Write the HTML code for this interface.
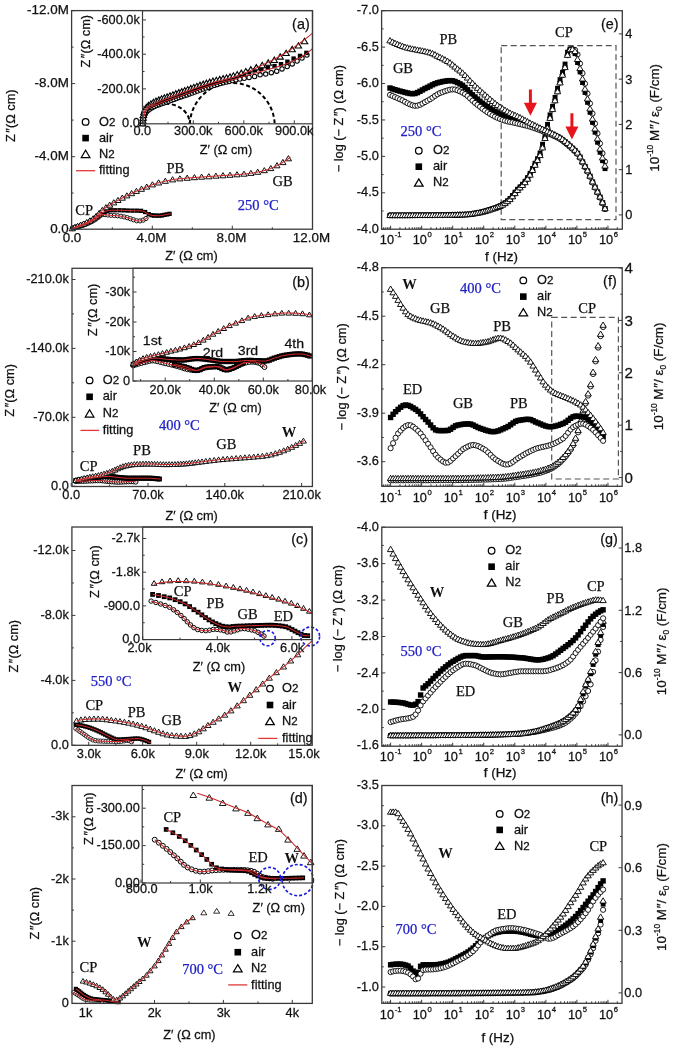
<!DOCTYPE html>
<html><head><meta charset="utf-8"><style>
html,body{margin:0;padding:0;background:#fff;}
svg{display:block;filter:blur(0.4px);}
</style></head><body>
<svg width="675" height="1050" viewBox="0 0 675 1050">
<rect width="675" height="1050" fill="#fff"/>
<g fill="#fff" stroke="#000" stroke-width="0.9"><circle cx="72.3" cy="228.6" r="2.12"/><circle cx="74.6" cy="227.8" r="2.12"/><circle cx="76.8" cy="227.1" r="2.12"/><circle cx="79.2" cy="226.4" r="2.12"/><circle cx="81.5" cy="225.7" r="2.12"/><circle cx="83.7" cy="225.0" r="2.12"/><circle cx="86.0" cy="224.1" r="2.12"/><circle cx="88.2" cy="223.2" r="2.12"/><circle cx="90.4" cy="222.2" r="2.12"/><circle cx="92.5" cy="221.1" r="2.12"/><circle cx="94.6" cy="219.9" r="2.12"/><circle cx="96.5" cy="218.5" r="2.12"/><circle cx="98.5" cy="217.1" r="2.12"/><circle cx="100.3" cy="215.5" r="2.12"/><circle cx="102.5" cy="214.5" r="2.12"/><circle cx="105.1" cy="214.6" r="2.12"/><circle cx="107.9" cy="215.0" r="2.12"/><circle cx="111.0" cy="215.3" r="2.12"/><circle cx="114.3" cy="215.5" r="2.12"/><circle cx="117.6" cy="215.8" r="2.12"/><circle cx="120.9" cy="216.2" r="2.12"/><circle cx="124.1" cy="216.9" r="2.12"/><circle cx="127.3" cy="217.7" r="2.12"/><circle cx="130.4" cy="218.7" r="2.12"/><circle cx="133.5" cy="219.8" r="2.12"/><circle cx="136.7" cy="220.8" r="2.12"/><circle cx="140.0" cy="220.9" r="2.12"/><circle cx="143.2" cy="220.1" r="2.12"/><circle cx="146.0" cy="218.5" r="2.12"/></g>
<g fill="#000" stroke="none"><rect x="70.1" y="226.4" width="4.3" height="4.3"/><rect x="72.3" y="225.4" width="4.3" height="4.3"/><rect x="74.6" y="224.6" width="4.3" height="4.3"/><rect x="76.9" y="223.9" width="4.3" height="4.3"/><rect x="79.1" y="223.1" width="4.3" height="4.3"/><rect x="81.4" y="222.2" width="4.3" height="4.3"/><rect x="83.6" y="221.3" width="4.3" height="4.3"/><rect x="85.8" y="220.3" width="4.3" height="4.3"/><rect x="87.9" y="219.3" width="4.3" height="4.3"/><rect x="90.0" y="218.1" width="4.3" height="4.3"/><rect x="92.0" y="216.8" width="4.3" height="4.3"/><rect x="93.9" y="215.3" width="4.3" height="4.3"/><rect x="95.8" y="213.9" width="4.3" height="4.3"/><rect x="97.7" y="212.3" width="4.3" height="4.3"/><rect x="99.6" y="210.9" width="4.3" height="4.3"/><rect x="102.1" y="209.8" width="4.3" height="4.3"/><rect x="105.1" y="208.7" width="4.3" height="4.3"/><rect x="108.8" y="208.1" width="4.3" height="4.3"/><rect x="113.1" y="208.1" width="4.3" height="4.3"/><rect x="117.4" y="208.1" width="4.3" height="4.3"/><rect x="121.7" y="208.2" width="4.3" height="4.3"/><rect x="126.0" y="208.4" width="4.3" height="4.3"/><rect x="130.3" y="208.5" width="4.3" height="4.3"/><rect x="134.6" y="208.5" width="4.3" height="4.3"/><rect x="138.9" y="208.7" width="4.3" height="4.3"/><rect x="143.0" y="209.9" width="4.3" height="4.3"/><rect x="146.6" y="212.1" width="4.3" height="4.3"/><rect x="149.4" y="213.1" width="4.3" height="4.3"/><rect x="152.0" y="213.4" width="4.3" height="4.3"/><rect x="154.6" y="213.5" width="4.3" height="4.3"/><rect x="157.2" y="213.5" width="4.3" height="4.3"/><rect x="159.8" y="213.3" width="4.3" height="4.3"/><rect x="162.3" y="212.7" width="4.3" height="4.3"/><rect x="164.9" y="212.3" width="4.3" height="4.3"/><rect x="167.4" y="211.7" width="4.3" height="4.3"/></g>
<g fill="#fff" stroke="#000" stroke-width="0.95"><path d="M72.3,225.7 L75.4,230.8 L69.2,230.8Z"/><path d="M74.8,224.4 L77.9,229.5 L71.7,229.5Z"/><path d="M77.5,223.3 L80.6,228.4 L74.5,228.4Z"/><path d="M80.5,222.2 L83.6,227.3 L77.4,227.3Z"/><path d="M83.5,221.0 L86.6,226.1 L80.4,226.1Z"/><path d="M86.7,219.5 L89.8,224.7 L83.6,224.7Z"/><path d="M89.9,217.8 L93.0,223.0 L86.8,223.0Z"/><path d="M93.1,215.8 L96.2,220.9 L90.0,220.9Z"/><path d="M96.2,213.3 L99.3,218.4 L93.1,218.4Z"/><path d="M99.2,210.3 L102.3,215.5 L96.1,215.5Z"/><path d="M102.3,207.3 L105.4,212.4 L99.2,212.4Z"/><path d="M105.9,204.6 L109.0,209.8 L102.8,209.8Z"/><path d="M109.7,202.1 L112.8,207.2 L106.6,207.2Z"/><path d="M113.8,199.7 L116.8,204.9 L110.7,204.9Z"/><path d="M118.0,197.4 L121.0,202.5 L114.9,202.5Z"/><path d="M122.3,195.0 L125.4,200.2 L119.2,200.2Z"/><path d="M126.9,192.8 L129.9,197.9 L123.8,197.9Z"/><path d="M131.6,190.5 L134.6,195.7 L128.5,195.7Z"/><path d="M136.4,188.3 L139.5,193.4 L133.3,193.4Z"/><path d="M141.5,186.1 L144.5,191.3 L138.4,191.3Z"/><path d="M146.7,184.0 L149.8,189.1 L143.7,189.1Z"/><path d="M152.4,181.8 L155.5,186.9 L149.3,186.9Z"/><path d="M158.6,179.8 L161.7,185.0 L155.5,185.0Z"/><path d="M165.3,178.2 L168.4,183.3 L162.3,183.3Z"/><path d="M172.6,176.7 L175.7,181.9 L169.5,181.9Z"/><path d="M179.9,175.8 L183.0,180.9 L176.8,180.9Z"/><path d="M187.2,175.1 L190.3,180.3 L184.1,180.3Z"/><path d="M194.4,174.6 L197.5,179.7 L191.3,179.7Z"/><path d="M201.6,174.1 L204.7,179.2 L198.6,179.2Z"/><path d="M208.8,173.6 L211.9,178.8 L205.7,178.8Z"/><path d="M215.9,173.1 L219.0,178.2 L212.8,178.2Z"/><path d="M223.0,172.6 L226.1,177.8 L219.9,177.8Z"/><path d="M230.0,172.2 L233.1,177.3 L227.0,177.3Z"/><path d="M237.0,171.7 L240.1,176.8 L234.0,176.8Z"/><path d="M244.0,171.1 L247.1,176.2 L240.9,176.2Z"/><path d="M250.9,170.3 L254.0,175.4 L247.8,175.4Z"/><path d="M257.7,169.1 L260.8,174.3 L254.6,174.3Z"/><path d="M264.3,167.6 L267.4,172.7 L261.3,172.7Z"/><path d="M270.8,165.5 L273.9,170.6 L267.7,170.6Z"/><path d="M277.0,162.6 L280.0,167.8 L273.9,167.8Z"/><path d="M282.9,159.4 L286.0,164.6 L279.8,164.6Z"/><path d="M288.4,155.6 L291.5,160.8 L285.3,160.8Z"/></g>
<path d="M72.3,228.6 L72.8,228.3 L73.4,228.0 L73.9,227.7 L74.5,227.5 L75.0,227.2 L75.6,227.0 L76.1,226.7 L76.7,226.5 L77.2,226.3 L77.8,226.1 L78.3,225.9 L78.9,225.7 L79.4,225.5 L80.0,225.3 L80.5,225.1 L81.0,224.9 L81.6,224.7 L82.1,224.5 L82.7,224.3 L83.2,224.0 L83.8,223.8 L84.3,223.6 L84.9,223.3 L85.4,223.1 L86.0,222.8 L86.5,222.6 L87.1,222.3 L87.6,222.0 L88.2,221.7 L88.7,221.4 L89.2,221.1 L89.8,220.8 L90.3,220.5 L90.9,220.2 L91.4,219.8 L92.0,219.5 L92.5,219.1 L93.1,218.7 L93.6,218.3 L94.2,217.9 L94.7,217.5 L95.3,217.0 L95.8,216.6 L96.4,216.1 L96.9,215.6 L97.4,215.1 L98.0,214.6 L98.5,214.0 L99.1,213.4 L99.6,212.9 L100.2,212.3 L100.7,211.7 L101.3,211.2 L101.8,210.7 L102.4,210.2 L102.9,209.8 L103.5,209.3 L104.0,208.9 L104.6,208.5 L105.1,208.1 L105.6,207.7 L106.2,207.3 L106.7,207.0 L107.3,206.6 L107.8,206.2 L108.4,205.9 L108.9,205.5 L109.5,205.2 L110.0,204.9 L110.6,204.5 L111.1,204.2 L111.7,203.9 L112.2,203.5 L112.7,203.2 L113.3,202.9 L113.8,202.6 L114.4,202.3 L114.9,202.0 L115.5,201.7 L116.0,201.4 L116.6,201.1 L117.1,200.8 L117.7,200.5 L118.2,200.2 L118.8,199.9 L119.3,199.6 L119.9,199.3 L120.4,199.0 L120.9,198.7 L121.5,198.4 L122.0,198.1 L122.6,197.8 L123.1,197.6 L123.7,197.3 L124.2,197.0 L124.8,196.7 L125.3,196.5 L125.9,196.2 L126.4,195.9 L127.0,195.7 L127.5,195.4 L128.1,195.1 L128.6,194.9 L129.1,194.6 L129.7,194.4 L130.2,194.1 L130.8,193.8 L131.3,193.6 L131.9,193.3 L132.4,193.1 L133.0,192.8 L133.5,192.6 L134.1,192.3 L134.6,192.1 L135.2,191.8 L135.7,191.6 L136.3,191.3 L136.8,191.1 L137.3,190.8 L137.9,190.6 L138.4,190.3 L139.0,190.1 L139.5,189.9 L140.1,189.6 L140.6,189.4 L141.2,189.2 L141.7,188.9 L142.3,188.7 L142.8,188.5 L143.4,188.3 L143.9,188.1 L144.5,187.8 L145.0,187.6 L145.5,187.4 L146.1,187.2 L146.6,186.9 L147.2,186.7 L147.7,186.5 L148.3,186.3 L148.8,186.1 L149.4,185.9 L149.9,185.7 L150.5,185.4 L151.0,185.2 L151.6,185.0 L152.1,184.8 L152.7,184.6 L153.2,184.5 L153.7,184.3 L154.3,184.1 L154.8,183.9 L155.4,183.7 L155.9,183.6 L156.5,183.4 L157.0,183.2 L157.6,183.1 L158.1,182.9 L158.7,182.8 L159.2,182.6 L159.8,182.5 L160.3,182.3 L160.9,182.2 L161.4,182.1 L161.9,181.9 L162.5,181.8 L163.0,181.7 L163.6,181.5 L164.1,181.4 L164.7,181.3 L165.2,181.1 L165.8,181.0 L166.3,180.9 L166.9,180.8 L167.4,180.7 L168.0,180.6 L168.5,180.4 L169.1,180.3 L169.6,180.2 L170.1,180.1 L170.7,180.0 L171.2,179.9 L171.8,179.8 L172.3,179.7 L172.9,179.6 L173.4,179.6 L174.0,179.5 L174.5,179.4 L175.1,179.3 L175.6,179.2 L176.2,179.2 L176.7,179.1 L177.3,179.0 L177.8,179.0 L178.3,178.9 L178.9,178.8 L179.4,178.8 L180.0,178.7 L180.5,178.7 L181.1,178.6 L181.6,178.6 L182.2,178.5 L182.7,178.5 L183.3,178.4 L183.8,178.4 L184.4,178.3 L184.9,178.3 L185.4,178.2 L186.0,178.2 L186.5,178.1 L187.1,178.1 L187.6,178.0 L188.2,178.0 L188.7,177.9 L189.3,177.9 L189.8,177.8 L190.4,177.8 L190.9,177.8 L191.5,177.7 L192.0,177.7 L192.6,177.6 L193.1,177.6 L193.6,177.6 L194.2,177.5 L194.7,177.5 L195.3,177.5 L195.8,177.4 L196.4,177.4 L196.9,177.3 L197.5,177.3 L198.0,177.3 L198.6,177.2 L199.1,177.2 L199.7,177.2 L200.2,177.1 L200.8,177.1 L201.3,177.1 L201.8,177.0 L202.4,177.0 L202.9,177.0 L203.5,176.9 L204.0,176.9 L204.6,176.8 L205.1,176.8 L205.7,176.8 L206.2,176.7 L206.8,176.7 L207.3,176.7 L207.9,176.6 L208.4,176.6 L209.0,176.5 L209.5,176.5 L210.0,176.5 L210.6,176.4 L211.1,176.4 L211.7,176.3 L212.2,176.3 L212.8,176.3 L213.3,176.2 L213.9,176.2 L214.4,176.1 L215.0,176.1 L215.5,176.1 L216.1,176.0 L216.6,176.0 L217.2,175.9 L217.7,175.9 L218.2,175.9 L218.8,175.8 L219.3,175.8 L219.9,175.8 L220.4,175.7 L221.0,175.7 L221.5,175.7 L222.1,175.6 L222.6,175.6 L223.2,175.5 L223.7,175.5 L224.3,175.5 L224.8,175.4 L225.4,175.4 L225.9,175.4 L226.4,175.3 L227.0,175.3 L227.5,175.3 L228.1,175.2 L228.6,175.2 L229.2,175.2 L229.7,175.1 L230.3,175.1 L230.8,175.1 L231.4,175.0 L231.9,175.0 L232.5,174.9 L233.0,174.9 L233.6,174.9 L234.1,174.8 L234.6,174.8 L235.2,174.8 L235.7,174.7 L236.3,174.7 L236.8,174.6 L237.4,174.6 L237.9,174.5 L238.5,174.5 L239.0,174.5 L239.6,174.4 L240.1,174.4 L240.7,174.3 L241.2,174.3 L241.8,174.2 L242.3,174.2 L242.8,174.1 L243.4,174.1 L243.9,174.0 L244.5,174.0 L245.0,173.9 L245.6,173.8 L246.1,173.8 L246.7,173.7 L247.2,173.7 L247.8,173.6 L248.3,173.5 L248.9,173.5 L249.4,173.4 L250.0,173.3 L250.5,173.3 L251.0,173.2 L251.6,173.1 L252.1,173.0 L252.7,172.9 L253.2,172.9 L253.8,172.8 L254.3,172.7 L254.9,172.6 L255.4,172.5 L256.0,172.4 L256.5,172.3 L257.1,172.2 L257.6,172.1 L258.1,172.0 L258.7,171.8 L259.2,171.7 L259.8,171.6 L260.3,171.5 L260.9,171.4 L261.4,171.2 L262.0,171.1 L262.5,171.0 L263.1,170.9 L263.6,170.7 L264.2,170.6 L264.7,170.4 L265.3,170.3 L265.8,170.1 L266.3,170.0 L266.9,169.8 L267.4,169.7 L268.0,169.5 L268.5,169.3 L269.1,169.1 L269.6,168.9 L270.2,168.7 L270.7,168.5 L271.3,168.2 L271.8,168.0 L272.4,167.8 L272.9,167.5 L273.5,167.3 L274.0,167.0 L274.5,166.8 L275.1,166.5 L275.6,166.2 L276.2,166.0 L276.7,165.7 L277.3,165.4 L277.8,165.1 L278.4,164.9 L278.9,164.6 L279.5,164.3 L280.0,164.0 L280.6,163.7 L281.1,163.4 L281.7,163.1 L282.2,162.8 L282.7,162.4 L283.3,162.1 L283.8,161.7 L284.4,161.4 L284.9,161.0 L285.5,160.7 L286.0,160.3 L286.6,159.9 L287.1,159.5 L287.7,159.1 L288.2,158.7 L288.8,158.3 L289.3,157.9 L289.9,157.5 L290.4,157.1" fill="none" stroke="#c82828" stroke-width="1.05" stroke-linejoin="round"/>
<path d="M72.3,228.6 L72.5,228.5 L72.8,228.4 L73.0,228.2 L73.3,228.1 L73.5,228.0 L73.8,227.9 L74.0,227.8 L74.3,227.7 L74.5,227.6 L74.8,227.5 L75.0,227.4 L75.3,227.3 L75.5,227.2 L75.8,227.1 L76.0,227.0 L76.3,226.9 L76.5,226.8 L76.8,226.7 L77.0,226.7 L77.2,226.6 L77.5,226.5 L77.7,226.4 L78.0,226.3 L78.2,226.3 L78.5,226.2 L78.7,226.1 L79.0,226.0 L79.2,226.0 L79.5,225.9 L79.7,225.8 L80.0,225.7 L80.2,225.6 L80.5,225.5 L80.7,225.4 L81.0,225.4 L81.2,225.3 L81.5,225.2 L81.7,225.1 L81.9,225.0 L82.2,224.9 L82.4,224.8 L82.7,224.7 L82.9,224.6 L83.2,224.5 L83.4,224.4 L83.7,224.3 L83.9,224.2 L84.2,224.1 L84.4,224.0 L84.7,223.9 L84.9,223.8 L85.2,223.7 L85.4,223.6 L85.7,223.5 L85.9,223.4 L86.2,223.3 L86.4,223.2 L86.6,223.0 L86.9,222.9 L87.1,222.8 L87.4,222.7 L87.6,222.6 L87.9,222.5 L88.1,222.4 L88.4,222.3 L88.6,222.1 L88.9,222.0 L89.1,221.9 L89.4,221.8 L89.6,221.7 L89.9,221.6 L90.1,221.4 L90.4,221.3 L90.6,221.2 L90.9,221.0 L91.1,220.9 L91.3,220.8 L91.6,220.6 L91.8,220.5 L92.1,220.4 L92.3,220.2 L92.6,220.1 L92.8,219.9 L93.1,219.8 L93.3,219.6 L93.6,219.4 L93.8,219.3 L94.1,219.1 L94.3,218.9 L94.6,218.7 L94.8,218.5 L95.1,218.3 L95.3,218.1 L95.6,217.9 L95.8,217.7 L96.0,217.5 L96.3,217.3 L96.5,217.1 L96.8,217.0 L97.0,216.8 L97.3,216.6 L97.5,216.4 L97.8,216.2 L98.0,216.0 L98.3,215.8 L98.5,215.6 L98.8,215.4 L99.0,215.1 L99.3,214.9 L99.5,214.7 L99.8,214.5 L100.0,214.3 L100.3,214.1 L100.5,213.9 L100.7,213.7 L101.0,213.5 L101.2,213.4 L101.5,213.2 L101.7,213.0 L102.0,212.9 L102.2,212.8 L102.5,212.7 L102.7,212.5 L103.0,212.4 L103.2,212.3 L103.5,212.2 L103.7,212.1 L104.0,212.0 L104.2,211.9 L104.5,211.8 L104.7,211.7 L105.0,211.6 L105.2,211.5 L105.4,211.4 L105.7,211.3 L105.9,211.3 L106.2,211.2 L106.4,211.1 L106.7,211.0 L106.9,210.9 L107.2,210.9 L107.4,210.8 L107.7,210.7 L107.9,210.7 L108.2,210.6 L108.4,210.5 L108.7,210.5 L108.9,210.5 L109.2,210.4 L109.4,210.4 L109.7,210.4 L109.9,210.3 L110.1,210.3 L110.4,210.3 L110.6,210.3 L110.9,210.3 L111.1,210.3 L111.4,210.3 L111.6,210.3 L111.9,210.3 L112.1,210.3 L112.4,210.3 L112.6,210.3 L112.9,210.3 L113.1,210.3 L113.4,210.3 L113.6,210.3 L113.9,210.3 L114.1,210.3 L114.4,210.3 L114.6,210.3 L114.8,210.3 L115.1,210.3 L115.3,210.3 L115.6,210.3 L115.8,210.3 L116.1,210.3 L116.3,210.3 L116.6,210.3 L116.8,210.3 L117.1,210.3 L117.3,210.3 L117.6,210.3 L117.8,210.3 L118.1,210.3 L118.3,210.3 L118.6,210.3 L118.8,210.3 L119.1,210.3 L119.3,210.3 L119.5,210.3 L119.8,210.3 L120.0,210.3 L120.3,210.3 L120.5,210.3 L120.8,210.3 L121.0,210.3 L121.3,210.3 L121.5,210.3 L121.8,210.3 L122.0,210.3 L122.3,210.3 L122.5,210.3 L122.8,210.3 L123.0,210.3 L123.3,210.4 L123.5,210.4 L123.8,210.4 L124.0,210.4 L124.2,210.4 L124.5,210.4 L124.7,210.4 L125.0,210.4 L125.2,210.4 L125.5,210.4 L125.7,210.4 L126.0,210.5 L126.2,210.5 L126.5,210.5 L126.7,210.5 L127.0,210.5 L127.2,210.5 L127.5,210.5 L127.7,210.5 L128.0,210.5 L128.2,210.5 L128.5,210.6 L128.7,210.6 L128.9,210.6 L129.2,210.6 L129.4,210.6 L129.7,210.6 L129.9,210.6 L130.2,210.6 L130.4,210.6 L130.7,210.6 L130.9,210.6 L131.2,210.6 L131.4,210.6 L131.7,210.6 L131.9,210.6 L132.2,210.6 L132.4,210.6 L132.7,210.6 L132.9,210.7 L133.2,210.7 L133.4,210.7 L133.6,210.7 L133.9,210.7 L134.1,210.7 L134.4,210.7 L134.6,210.7 L134.9,210.7 L135.1,210.7 L135.4,210.7 L135.6,210.7 L135.9,210.7 L136.1,210.7 L136.4,210.7 L136.6,210.7 L136.9,210.7 L137.1,210.7 L137.4,210.7 L137.6,210.7 L137.9,210.7 L138.1,210.7 L138.3,210.7 L138.6,210.8 L138.8,210.8 L139.1,210.8 L139.3,210.8 L139.6,210.8 L139.8,210.8 L140.1,210.8 L140.3,210.8 L140.6,210.8 L140.8,210.9 L141.1,210.9 L141.3,210.9 L141.6,210.9 L141.8,211.0 L142.1,211.0 L142.3,211.0 L142.6,211.1 L142.8,211.1 L143.0,211.2 L143.3,211.2 L143.5,211.3 L143.8,211.3 L144.0,211.4 L144.3,211.6 L144.5,211.7 L144.8,211.9 L145.0,212.0 L145.3,212.2 L145.5,212.4 L145.8,212.5 L146.0,212.7 L146.3,212.9 L146.5,213.1 L146.8,213.3 L147.0,213.4 L147.3,213.6 L147.5,213.8 L147.7,213.9 L148.0,214.0 L148.2,214.1 L148.5,214.2 L148.7,214.3 L149.0,214.4 L149.2,214.5 L149.5,214.6 L149.7,214.7 L150.0,214.8 L150.2,214.9 L150.5,215.0 L150.7,215.0 L151.0,215.1 L151.2,215.2 L151.5,215.2 L151.7,215.3 L152.0,215.4 L152.2,215.4 L152.4,215.4 L152.7,215.5 L152.9,215.5 L153.2,215.5 L153.4,215.5 L153.7,215.5 L153.9,215.6 L154.2,215.6 L154.4,215.6 L154.7,215.6 L154.9,215.6 L155.2,215.6 L155.4,215.6 L155.7,215.6 L155.9,215.6 L156.2,215.6 L156.4,215.7 L156.7,215.7 L156.9,215.7 L157.1,215.7 L157.4,215.7 L157.6,215.7 L157.9,215.7 L158.1,215.7 L158.4,215.7 L158.6,215.7 L158.9,215.7 L159.1,215.7 L159.4,215.7 L159.6,215.7 L159.9,215.7 L160.1,215.7 L160.4,215.7 L160.6,215.6 L160.9,215.6 L161.1,215.6 L161.4,215.5 L161.6,215.5 L161.8,215.5 L162.1,215.4 L162.3,215.4 L162.6,215.3 L162.8,215.3 L163.1,215.2 L163.3,215.1 L163.6,215.1 L163.8,215.0 L164.1,215.0 L164.3,214.9 L164.6,214.9 L164.8,214.8 L165.1,214.8 L165.3,214.7 L165.6,214.7 L165.8,214.7 L166.1,214.6 L166.3,214.6 L166.5,214.5 L166.8,214.5 L167.0,214.4 L167.3,214.4 L167.5,214.3 L167.8,214.3 L168.0,214.2 L168.3,214.2 L168.5,214.1 L168.8,214.1 L169.0,214.0 L169.3,214.0 L169.5,213.9 L169.8,213.9 L170.0,213.8 L170.3,213.8 L170.5,213.7 L170.8,213.7 L171.0,213.6" fill="none" stroke="#c82828" stroke-width="1.05" stroke-linejoin="round"/>
<path d="M72.3,228.6 L72.5,228.5 L72.7,228.5 L72.9,228.4 L73.1,228.3 L73.3,228.2 L73.4,228.2 L73.6,228.1 L73.8,228.0 L74.0,228.0 L74.2,227.9 L74.4,227.8 L74.6,227.8 L74.8,227.7 L75.0,227.6 L75.2,227.6 L75.3,227.5 L75.5,227.4 L75.7,227.4 L75.9,227.3 L76.1,227.3 L76.3,227.2 L76.5,227.2 L76.7,227.1 L76.9,227.0 L77.1,227.0 L77.2,226.9 L77.4,226.9 L77.6,226.8 L77.8,226.8 L78.0,226.7 L78.2,226.7 L78.4,226.6 L78.6,226.6 L78.8,226.5 L79.0,226.5 L79.1,226.4 L79.3,226.4 L79.5,226.3 L79.7,226.3 L79.9,226.2 L80.1,226.2 L80.3,226.1 L80.5,226.1 L80.7,226.0 L80.9,225.9 L81.1,225.9 L81.2,225.8 L81.4,225.8 L81.6,225.7 L81.8,225.6 L82.0,225.6 L82.2,225.5 L82.4,225.5 L82.6,225.4 L82.8,225.3 L83.0,225.3 L83.1,225.2 L83.3,225.1 L83.5,225.1 L83.7,225.0 L83.9,224.9 L84.1,224.9 L84.3,224.8 L84.5,224.7 L84.7,224.7 L84.9,224.6 L85.0,224.5 L85.2,224.4 L85.4,224.4 L85.6,224.3 L85.8,224.2 L86.0,224.1 L86.2,224.1 L86.4,224.0 L86.6,223.9 L86.8,223.8 L86.9,223.8 L87.1,223.7 L87.3,223.6 L87.5,223.5 L87.7,223.4 L87.9,223.4 L88.1,223.3 L88.3,223.2 L88.5,223.1 L88.7,223.0 L88.8,222.9 L89.0,222.8 L89.2,222.8 L89.4,222.7 L89.6,222.6 L89.8,222.5 L90.0,222.4 L90.2,222.3 L90.4,222.2 L90.6,222.1 L90.8,222.0 L90.9,221.9 L91.1,221.8 L91.3,221.7 L91.5,221.6 L91.7,221.5 L91.9,221.4 L92.1,221.3 L92.3,221.2 L92.5,221.1 L92.7,221.0 L92.8,220.9 L93.0,220.8 L93.2,220.7 L93.4,220.6 L93.6,220.5 L93.8,220.3 L94.0,220.2 L94.2,220.1 L94.4,220.0 L94.6,219.9 L94.7,219.7 L94.9,219.6 L95.1,219.5 L95.3,219.3 L95.5,219.2 L95.7,219.1 L95.9,218.9 L96.1,218.8 L96.3,218.7 L96.5,218.6 L96.6,218.4 L96.8,218.3 L97.0,218.2 L97.2,218.1 L97.4,217.9 L97.6,217.8 L97.8,217.6 L98.0,217.5 L98.2,217.3 L98.4,217.1 L98.6,217.0 L98.7,216.8 L98.9,216.6 L99.1,216.5 L99.3,216.3 L99.5,216.1 L99.7,216.0 L99.9,215.8 L100.1,215.7 L100.3,215.5 L100.5,215.4 L100.6,215.2 L100.8,215.1 L101.0,215.0 L101.2,214.9 L101.4,214.8 L101.6,214.7 L101.8,214.6 L102.0,214.6 L102.2,214.5 L102.4,214.5 L102.5,214.5 L102.7,214.5 L102.9,214.5 L103.1,214.5 L103.3,214.5 L103.5,214.5 L103.7,214.5 L103.9,214.5 L104.1,214.6 L104.3,214.6 L104.4,214.6 L104.6,214.6 L104.8,214.6 L105.0,214.6 L105.2,214.6 L105.4,214.7 L105.6,214.7 L105.8,214.7 L106.0,214.7 L106.2,214.8 L106.4,214.8 L106.5,214.8 L106.7,214.8 L106.9,214.8 L107.1,214.9 L107.3,214.9 L107.5,214.9 L107.7,214.9 L107.9,215.0 L108.1,215.0 L108.3,215.0 L108.4,215.0 L108.6,215.1 L108.8,215.1 L109.0,215.1 L109.2,215.1 L109.4,215.2 L109.6,215.2 L109.8,215.2 L110.0,215.2 L110.2,215.2 L110.3,215.3 L110.5,215.3 L110.7,215.3 L110.9,215.3 L111.1,215.3 L111.3,215.3 L111.5,215.4 L111.7,215.4 L111.9,215.4 L112.1,215.4 L112.2,215.4 L112.4,215.4 L112.6,215.4 L112.8,215.5 L113.0,215.5 L113.2,215.5 L113.4,215.5 L113.6,215.5 L113.8,215.5 L114.0,215.5 L114.1,215.5 L114.3,215.5 L114.5,215.6 L114.7,215.6 L114.9,215.6 L115.1,215.6 L115.3,215.6 L115.5,215.6 L115.7,215.6 L115.9,215.6 L116.1,215.7 L116.2,215.7 L116.4,215.7 L116.6,215.7 L116.8,215.7 L117.0,215.7 L117.2,215.7 L117.4,215.8 L117.6,215.8 L117.8,215.8 L118.0,215.8 L118.1,215.8 L118.3,215.8 L118.5,215.9 L118.7,215.9 L118.9,215.9 L119.1,215.9 L119.3,215.9 L119.5,216.0 L119.7,216.0 L119.9,216.0 L120.0,216.0 L120.2,216.1 L120.4,216.1 L120.6,216.1 L120.8,216.2 L121.0,216.2 L121.2,216.2 L121.4,216.3 L121.6,216.3 L121.8,216.3 L121.9,216.4 L122.1,216.4 L122.3,216.5 L122.5,216.5 L122.7,216.5 L122.9,216.6 L123.1,216.6 L123.3,216.7 L123.5,216.7 L123.7,216.8 L123.9,216.8 L124.0,216.8 L124.2,216.9 L124.4,216.9 L124.6,217.0 L124.8,217.0 L125.0,217.1 L125.2,217.1 L125.4,217.2 L125.6,217.2 L125.8,217.3 L125.9,217.3 L126.1,217.4 L126.3,217.4 L126.5,217.5 L126.7,217.5 L126.9,217.6 L127.1,217.6 L127.3,217.7 L127.5,217.7 L127.7,217.8 L127.8,217.8 L128.0,217.9 L128.2,218.0 L128.4,218.0 L128.6,218.1 L128.8,218.2 L129.0,218.2 L129.2,218.3 L129.4,218.3 L129.6,218.4 L129.7,218.5 L129.9,218.6 L130.1,218.6 L130.3,218.7 L130.5,218.8 L130.7,218.8 L130.9,218.9 L131.1,219.0 L131.3,219.0 L131.5,219.1 L131.7,219.2 L131.8,219.2 L132.0,219.3 L132.2,219.4 L132.4,219.4 L132.6,219.5 L132.8,219.5 L133.0,219.6 L133.2,219.7 L133.4,219.7 L133.6,219.8 L133.7,219.8 L133.9,219.9 L134.1,220.0 L134.3,220.0 L134.5,220.1 L134.7,220.2 L134.9,220.2 L135.1,220.3 L135.3,220.4 L135.5,220.4 L135.6,220.5 L135.8,220.5 L136.0,220.6 L136.2,220.7 L136.4,220.7 L136.6,220.8 L136.8,220.8 L137.0,220.8 L137.2,220.9 L137.4,220.9 L137.5,220.9 L137.7,221.0 L137.9,221.0 L138.1,221.0 L138.3,221.0 L138.5,221.0 L138.7,221.0 L138.9,221.0 L139.1,221.0 L139.3,221.0 L139.4,220.9 L139.6,220.9 L139.8,220.9 L140.0,220.9 L140.2,220.8 L140.4,220.8 L140.6,220.8 L140.8,220.7 L141.0,220.7 L141.2,220.7 L141.4,220.6 L141.5,220.6 L141.7,220.5 L141.9,220.5 L142.1,220.4 L142.3,220.4 L142.5,220.3 L142.7,220.3 L142.9,220.2 L143.1,220.2 L143.3,220.1 L143.4,220.0 L143.6,220.0 L143.8,219.9 L144.0,219.8 L144.2,219.7 L144.4,219.6 L144.6,219.4 L144.8,219.3 L145.0,219.2 L145.2,219.1 L145.3,218.9 L145.5,218.8 L145.7,218.7 L145.9,218.6 L146.1,218.4 L146.3,218.3 L146.5,218.2 L146.7,218.0 L146.9,217.9 L147.1,217.8 L147.2,217.6 L147.4,217.5 L147.6,217.3 L147.8,217.2 L148.0,217.1 L148.2,216.9" fill="none" stroke="#c82828" stroke-width="1.05" stroke-linejoin="round"/>
<rect x="142.5" y="10.6" width="170.0" height="113.2" fill="#fff"/>
<path d="M142.8,123.8 A23.5,20 0 0 1 189.8,123.8" fill="none" stroke="#000" stroke-width="2" stroke-dasharray="4,2.6"/>
<path d="M189.8,123.8 A42.5,43 0 0 1 274.7,123.8" fill="none" stroke="#000" stroke-width="2" stroke-dasharray="4,2.6"/>
<g fill="#fff" stroke="#000" stroke-width="1.1"><circle cx="142.6" cy="123.6" r="2.21"/><circle cx="143.0" cy="121.3" r="2.21"/><circle cx="143.4" cy="118.9" r="2.21"/><circle cx="144.0" cy="116.5" r="2.21"/><circle cx="144.9" cy="114.3" r="2.21"/><circle cx="146.2" cy="112.2" r="2.21"/><circle cx="147.9" cy="110.4" r="2.21"/><circle cx="149.9" cy="109.0" r="2.21"/><circle cx="152.0" cy="107.7" r="2.21"/><circle cx="154.3" cy="106.6" r="2.21"/><circle cx="156.6" cy="105.6" r="2.21"/><circle cx="159.0" cy="104.7" r="2.21"/><circle cx="161.4" cy="103.8" r="2.21"/><circle cx="163.8" cy="102.9" r="2.21"/><circle cx="166.3" cy="102.1" r="2.21"/><circle cx="168.8" cy="101.2" r="2.21"/><circle cx="171.3" cy="100.3" r="2.21"/><circle cx="173.8" cy="99.4" r="2.21"/><circle cx="176.4" cy="98.5" r="2.21"/><circle cx="178.9" cy="97.6" r="2.21"/><circle cx="181.5" cy="96.7" r="2.21"/><circle cx="184.1" cy="95.8" r="2.21"/><circle cx="186.8" cy="94.9" r="2.21"/><circle cx="189.4" cy="93.9" r="2.21"/><circle cx="192.1" cy="93.0" r="2.21"/><circle cx="194.8" cy="92.0" r="2.21"/><circle cx="197.5" cy="91.0" r="2.21"/><circle cx="200.3" cy="90.1" r="2.21"/><circle cx="203.0" cy="89.1" r="2.21"/><circle cx="205.8" cy="88.1" r="2.21"/><circle cx="208.6" cy="87.1" r="2.21"/><circle cx="211.5" cy="86.2" r="2.21"/><circle cx="214.4" cy="85.3" r="2.21"/><circle cx="217.3" cy="84.4" r="2.21"/><circle cx="220.3" cy="83.6" r="2.21"/><circle cx="223.3" cy="82.8" r="2.21"/><circle cx="226.4" cy="82.0" r="2.21"/><circle cx="229.4" cy="81.3" r="2.21"/><circle cx="232.5" cy="80.6" r="2.21"/><circle cx="236.0" cy="79.8" r="2.21"/><circle cx="239.9" cy="79.1" r="2.21"/><circle cx="244.2" cy="78.3" r="2.21"/><circle cx="249.1" cy="77.5" r="2.21"/><circle cx="254.6" cy="76.5" r="2.21"/><circle cx="260.1" cy="74.8" r="2.21"/><circle cx="265.7" cy="74.1" r="2.21"/><circle cx="271.3" cy="72.7" r="2.21"/><circle cx="276.7" cy="71.2" r="2.21"/><circle cx="282.0" cy="68.9" r="2.21"/><circle cx="287.2" cy="66.6" r="2.21"/><circle cx="292.2" cy="63.9" r="2.21"/><circle cx="297.1" cy="61.0" r="2.21"/><circle cx="302.0" cy="58.1" r="2.21"/><circle cx="306.9" cy="55.1" r="2.21"/></g>
<g fill="#000" stroke="none"><rect x="140.4" y="121.4" width="4.4" height="4.4"/><rect x="140.6" y="119.0" width="4.4" height="4.4"/><rect x="140.8" y="116.6" width="4.4" height="4.4"/><rect x="141.1" y="114.2" width="4.4" height="4.4"/><rect x="141.6" y="111.8" width="4.4" height="4.4"/><rect x="142.4" y="109.5" width="4.4" height="4.4"/><rect x="143.7" y="107.4" width="4.4" height="4.4"/><rect x="145.3" y="105.6" width="4.4" height="4.4"/><rect x="147.2" y="104.1" width="4.4" height="4.4"/><rect x="149.4" y="102.9" width="4.4" height="4.4"/><rect x="151.7" y="102.0" width="4.4" height="4.4"/><rect x="154.1" y="101.1" width="4.4" height="4.4"/><rect x="156.5" y="100.2" width="4.4" height="4.4"/><rect x="158.9" y="99.3" width="4.4" height="4.4"/><rect x="161.3" y="98.4" width="4.4" height="4.4"/><rect x="163.8" y="97.5" width="4.4" height="4.4"/><rect x="166.2" y="96.6" width="4.4" height="4.4"/><rect x="168.7" y="95.7" width="4.4" height="4.4"/><rect x="171.2" y="94.8" width="4.4" height="4.4"/><rect x="173.8" y="93.9" width="4.4" height="4.4"/><rect x="176.4" y="93.0" width="4.4" height="4.4"/><rect x="179.0" y="92.1" width="4.4" height="4.4"/><rect x="181.6" y="91.2" width="4.4" height="4.4"/><rect x="184.2" y="90.3" width="4.4" height="4.4"/><rect x="186.8" y="89.3" width="4.4" height="4.4"/><rect x="189.5" y="88.4" width="4.4" height="4.4"/><rect x="192.2" y="87.4" width="4.4" height="4.4"/><rect x="194.9" y="86.4" width="4.4" height="4.4"/><rect x="197.7" y="85.5" width="4.4" height="4.4"/><rect x="200.4" y="84.6" width="4.4" height="4.4"/><rect x="203.3" y="83.6" width="4.4" height="4.4"/><rect x="206.1" y="82.7" width="4.4" height="4.4"/><rect x="209.0" y="81.8" width="4.4" height="4.4"/><rect x="211.9" y="81.0" width="4.4" height="4.4"/><rect x="214.8" y="80.2" width="4.4" height="4.4"/><rect x="217.8" y="79.5" width="4.4" height="4.4"/><rect x="220.8" y="78.7" width="4.4" height="4.4"/><rect x="223.9" y="78.0" width="4.4" height="4.4"/><rect x="226.9" y="77.1" width="4.4" height="4.4"/><rect x="230.0" y="76.2" width="4.4" height="4.4"/><rect x="233.4" y="75.0" width="4.4" height="4.4"/><rect x="237.2" y="73.6" width="4.4" height="4.4"/><rect x="241.7" y="72.0" width="4.4" height="4.4"/><rect x="246.8" y="69.9" width="4.4" height="4.4"/><rect x="252.8" y="68.0" width="4.4" height="4.4"/><rect x="259.2" y="66.7" width="4.4" height="4.4"/><rect x="265.7" y="65.4" width="4.4" height="4.4"/><rect x="272.3" y="63.9" width="4.4" height="4.4"/><rect x="278.8" y="62.0" width="4.4" height="4.4"/><rect x="285.2" y="59.5" width="4.4" height="4.4"/><rect x="291.4" y="56.4" width="4.4" height="4.4"/><rect x="297.8" y="53.7" width="4.4" height="4.4"/><rect x="304.2" y="50.7" width="4.4" height="4.4"/></g>
<g fill="#fff" stroke="#000" stroke-width="1.1"><path d="M142.6,120.6 L145.8,125.9 L139.4,125.9Z"/><path d="M142.8,117.8 L146.0,123.1 L139.6,123.1Z"/><path d="M143.1,115.0 L146.3,120.3 L139.9,120.3Z"/><path d="M143.4,112.2 L146.5,117.5 L140.2,117.5Z"/><path d="M144.0,109.4 L147.2,114.7 L140.8,114.7Z"/><path d="M144.9,106.7 L148.1,112.1 L141.7,112.1Z"/><path d="M146.4,104.3 L149.6,109.7 L143.3,109.7Z"/><path d="M148.5,102.4 L151.7,107.7 L145.3,107.7Z"/><path d="M150.9,100.8 L154.1,106.1 L147.7,106.1Z"/><path d="M153.4,99.3 L156.6,104.7 L150.2,104.7Z"/><path d="M156.0,98.1 L159.2,103.4 L152.9,103.4Z"/><path d="M158.8,96.9 L161.9,102.2 L155.6,102.2Z"/><path d="M161.5,95.8 L164.7,101.1 L158.3,101.1Z"/><path d="M164.3,94.8 L167.5,100.1 L161.1,100.1Z"/><path d="M167.1,93.8 L170.3,99.1 L164.0,99.1Z"/><path d="M170.0,92.7 L173.2,98.0 L166.8,98.0Z"/><path d="M172.9,91.7 L176.1,97.0 L169.7,97.0Z"/><path d="M175.8,90.6 L179.0,96.0 L172.6,96.0Z"/><path d="M178.8,89.6 L181.9,94.9 L175.6,94.9Z"/><path d="M181.7,88.6 L184.9,93.9 L178.5,93.9Z"/><path d="M184.7,87.5 L187.9,92.9 L181.5,92.9Z"/><path d="M187.7,86.5 L190.9,91.8 L184.5,91.8Z"/><path d="M190.8,85.4 L193.9,90.7 L187.6,90.7Z"/><path d="M193.8,84.3 L197.0,89.6 L190.6,89.6Z"/><path d="M196.9,83.2 L200.1,88.5 L193.7,88.5Z"/><path d="M200.0,82.1 L203.2,87.4 L196.9,87.4Z"/><path d="M203.2,81.1 L206.4,86.4 L200.0,86.4Z"/><path d="M206.4,80.1 L209.6,85.4 L203.2,85.4Z"/><path d="M209.7,79.1 L212.9,84.4 L206.5,84.4Z"/><path d="M212.9,78.1 L216.1,83.5 L209.8,83.5Z"/><path d="M216.3,77.3 L219.5,82.6 L213.1,82.6Z"/><path d="M219.7,76.4 L222.9,81.8 L216.5,81.8Z"/><path d="M223.1,75.6 L226.3,81.0 L219.9,81.0Z"/><path d="M226.5,74.8 L229.7,80.1 L223.3,80.1Z"/><path d="M230.0,73.8 L233.1,79.2 L226.8,79.2Z"/><path d="M233.4,72.8 L236.6,78.1 L230.2,78.1Z"/><path d="M237.2,71.5 L240.3,76.9 L234.0,76.9Z"/><path d="M241.3,70.1 L244.5,75.4 L238.1,75.4Z"/><path d="M245.8,68.5 L249.0,73.8 L242.6,73.8Z"/><path d="M250.8,66.6 L254.0,71.9 L247.6,71.9Z"/><path d="M256.3,64.6 L259.5,69.9 L253.1,69.9Z"/><path d="M262.2,62.3 L265.4,67.7 L259.0,67.7Z"/><path d="M268.2,59.9 L271.4,65.2 L265.0,65.2Z"/><path d="M274.3,57.1 L277.4,62.5 L271.1,62.5Z"/><path d="M280.2,53.8 L283.4,59.1 L277.0,59.1Z"/><path d="M286.1,50.2 L289.3,55.5 L282.9,55.5Z"/><path d="M292.2,46.4 L295.3,51.7 L289.0,51.7Z"/><path d="M298.4,42.7 L301.6,48.0 L295.2,48.0Z"/><path d="M304.5,38.3 L307.7,43.7 L301.3,43.7Z"/></g>
<path d="M142.6,123.6 L143.0,119.9 L143.5,116.5 L143.9,113.9 L144.3,112.5 L144.7,111.4 L145.2,110.3 L145.6,109.4 L146.0,108.6 L146.4,108.0 L146.9,107.4 L147.3,107.0 L147.7,106.6 L148.1,106.3 L148.6,106.1 L149.0,105.9 L149.4,105.7 L149.8,105.6 L150.3,105.4 L150.7,105.1 L151.1,104.9 L151.5,104.8 L152.0,104.6 L152.4,104.4 L152.8,104.2 L153.2,104.1 L153.7,103.9 L154.1,103.7 L154.5,103.5 L154.9,103.3 L155.4,103.1 L155.8,103.0 L156.2,102.8 L156.6,102.6 L157.1,102.4 L157.5,102.2 L157.9,102.0 L158.3,101.8 L158.8,101.7 L159.2,101.5 L159.6,101.3 L160.0,101.1 L160.5,101.0 L160.9,100.8 L161.3,100.6 L161.7,100.4 L162.2,100.3 L162.6,100.1 L163.0,99.9 L163.4,99.8 L163.9,99.6 L164.3,99.4 L164.7,99.3 L165.1,99.1 L165.6,99.0 L166.0,98.8 L166.4,98.6 L166.8,98.5 L167.3,98.3 L167.7,98.1 L168.1,98.0 L168.5,97.8 L169.0,97.6 L169.4,97.5 L169.8,97.3 L170.2,97.2 L170.7,97.0 L171.1,96.8 L171.5,96.7 L171.9,96.5 L172.4,96.3 L172.8,96.2 L173.2,96.0 L173.6,95.8 L174.1,95.7 L174.5,95.5 L174.9,95.4 L175.3,95.2 L175.8,95.0 L176.2,94.9 L176.6,94.7 L177.1,94.6 L177.5,94.4 L177.9,94.3 L178.3,94.1 L178.8,93.9 L179.2,93.8 L179.6,93.6 L180.0,93.5 L180.5,93.3 L180.9,93.2 L181.3,93.0 L181.7,92.9 L182.2,92.7 L182.6,92.5 L183.0,92.4 L183.4,92.2 L183.9,92.1 L184.3,91.9 L184.7,91.8 L185.1,91.6 L185.6,91.5 L186.0,91.3 L186.4,91.2 L186.8,91.1 L187.3,90.9 L187.7,90.8 L188.1,90.6 L188.5,90.5 L189.0,90.3 L189.4,90.2 L189.8,90.0 L190.2,89.9 L190.7,89.8 L191.1,89.6 L191.5,89.5 L191.9,89.3 L192.4,89.2 L192.8,89.0 L193.2,88.9 L193.6,88.8 L194.1,88.6 L194.5,88.5 L194.9,88.3 L195.3,88.2 L195.8,88.1 L196.2,87.9 L196.6,87.8 L197.0,87.6 L197.5,87.5 L197.9,87.4 L198.3,87.2 L198.7,87.1 L199.2,86.9 L199.6,86.8 L200.0,86.7 L200.4,86.5 L200.9,86.4 L201.3,86.2 L201.7,86.1 L202.1,86.0 L202.6,85.8 L203.0,85.7 L203.4,85.5 L203.8,85.4 L204.3,85.3 L204.7,85.1 L205.1,85.0 L205.5,84.8 L206.0,84.7 L206.4,84.6 L206.8,84.4 L207.2,84.3 L207.7,84.1 L208.1,84.0 L208.5,83.9 L208.9,83.7 L209.4,83.6 L209.8,83.5 L210.2,83.3 L210.7,83.2 L211.1,83.1 L211.5,82.9 L211.9,82.8 L212.4,82.7 L212.8,82.6 L213.2,82.4 L213.6,82.3 L214.1,82.2 L214.5,82.1 L214.9,81.9 L215.3,81.8 L215.8,81.7 L216.2,81.6 L216.6,81.5 L217.0,81.4 L217.5,81.3 L217.9,81.2 L218.3,81.1 L218.7,81.0 L219.2,80.8 L219.6,80.7 L220.0,80.6 L220.4,80.5 L220.9,80.4 L221.3,80.3 L221.7,80.2 L222.1,80.1 L222.6,80.0 L223.0,79.9 L223.4,79.8 L223.8,79.7 L224.3,79.6 L224.7,79.5 L225.1,79.4 L225.5,79.3 L226.0,79.2 L226.4,79.1 L226.8,79.0 L227.2,78.8 L227.7,78.7 L228.1,78.6 L228.5,78.5 L228.9,78.4 L229.4,78.3 L229.8,78.2 L230.2,78.0 L230.6,77.9 L231.1,77.8 L231.5,77.7 L231.9,77.6 L232.3,77.4 L232.8,77.3 L233.2,77.2 L233.6,77.1 L234.0,77.0 L234.5,76.8 L234.9,76.7 L235.3,76.6 L235.7,76.4 L236.2,76.2 L236.6,76.1 L237.0,75.9 L237.4,75.8 L237.9,75.6 L238.3,75.5 L238.7,75.3 L239.1,75.1 L239.6,75.0 L240.0,74.8 L240.4,74.6 L240.8,74.5 L241.3,74.3 L241.7,74.2 L242.1,74.0 L242.5,73.8 L243.0,73.6 L243.4,73.5 L243.8,73.3 L244.2,73.1 L244.7,73.0 L245.1,72.8 L245.5,72.6 L246.0,72.4 L246.4,72.3 L246.8,72.1 L247.2,71.9 L247.7,71.7 L248.1,71.6 L248.5,71.4 L248.9,71.2 L249.4,71.0 L249.8,70.8 L250.2,70.7 L250.6,70.5 L251.1,70.3 L251.5,70.1 L251.9,69.9 L252.3,69.7 L252.8,69.5 L253.2,69.3 L253.6,69.2 L254.0,69.0 L254.5,68.8 L254.9,68.6 L255.3,68.4 L255.7,68.2 L256.2,68.0 L256.6,67.8 L257.0,67.6 L257.4,67.4 L257.9,67.2 L258.3,67.0 L258.7,66.8 L259.1,66.6 L259.6,66.4 L260.0,66.1 L260.4,65.9 L260.8,65.7 L261.3,65.5 L261.7,65.3 L262.1,65.1 L262.5,64.9 L263.0,64.7 L263.4,64.5 L263.8,64.3 L264.2,64.1 L264.7,63.9 L265.1,63.7 L265.5,63.5 L265.9,63.3 L266.4,63.1 L266.8,62.9 L267.2,62.7 L267.6,62.5 L268.1,62.3 L268.5,62.1 L268.9,61.9 L269.3,61.7 L269.8,61.5 L270.2,61.3 L270.6,61.0 L271.0,60.8 L271.5,60.6 L271.9,60.4 L272.3,60.2 L272.7,59.9 L273.2,59.7 L273.6,59.5 L274.0,59.3 L274.4,59.1 L274.9,58.8 L275.3,58.6 L275.7,58.4 L276.1,58.1 L276.6,57.9 L277.0,57.7 L277.4,57.4 L277.8,57.2 L278.3,57.0 L278.7,56.7 L279.1,56.5 L279.6,56.3 L280.0,56.0 L280.4,55.8 L280.8,55.5 L281.3,55.3 L281.7,55.0 L282.1,54.8 L282.5,54.5 L283.0,54.3 L283.4,54.0 L283.8,53.8 L284.2,53.5 L284.7,53.3 L285.1,53.0 L285.5,52.7 L285.9,52.5 L286.4,52.2 L286.8,51.9 L287.2,51.7 L287.6,51.4 L288.1,51.1 L288.5,50.9 L288.9,50.6 L289.3,50.3 L289.8,50.0 L290.2,49.8 L290.6,49.5 L291.0,49.2 L291.5,48.9 L291.9,48.6 L292.3,48.4 L292.7,48.1 L293.2,47.8 L293.6,47.5 L294.0,47.2 L294.4,46.9 L294.9,46.6 L295.3,46.3 L295.7,46.0 L296.1,45.7 L296.6,45.4 L297.0,45.1 L297.4,44.8 L297.8,44.5 L298.3,44.2 L298.7,43.9 L299.1,43.6 L299.5,43.3 L300.0,43.0 L300.4,42.7 L300.8,42.4 L301.2,42.1 L301.7,41.8 L302.1,41.5 L302.5,41.1 L302.9,40.8 L303.4,40.5 L303.8,40.2 L304.2,39.9 L304.6,39.5 L305.1,39.2 L305.5,38.9 L305.9,38.5 L306.3,38.2 L306.8,37.8 L307.2,37.5 L307.6,37.2 L308.0,36.8 L308.5,36.5 L308.9,36.1 L309.3,35.8 L309.7,35.4 L310.2,35.1 L310.6,34.7 L311.0,34.4 L311.4,34.0 L311.9,33.7 L312.3,33.3" fill="none" stroke="#c82828" stroke-width="1.05" stroke-linejoin="round"/>
<path d="M142.6,123.6 L143.0,120.7 L143.5,118.0 L143.9,115.9 L144.3,114.6 L144.7,113.5 L145.2,112.4 L145.6,111.5 L146.0,110.7 L146.4,110.1 L146.9,109.5 L147.3,109.0 L147.7,108.6 L148.1,108.3 L148.6,108.1 L149.0,107.9 L149.4,107.7 L149.8,107.6 L150.3,107.4 L150.7,107.1 L151.1,106.9 L151.5,106.7 L152.0,106.6 L152.4,106.4 L152.8,106.2 L153.2,106.1 L153.7,105.9 L154.1,105.7 L154.5,105.5 L154.9,105.3 L155.4,105.1 L155.8,105.0 L156.2,104.8 L156.6,104.6 L157.1,104.4 L157.5,104.2 L157.9,104.1 L158.3,103.9 L158.8,103.7 L159.2,103.5 L159.6,103.4 L160.0,103.2 L160.5,103.0 L160.9,102.9 L161.3,102.7 L161.7,102.5 L162.2,102.4 L162.6,102.2 L163.0,102.0 L163.4,101.9 L163.9,101.7 L164.3,101.6 L164.7,101.4 L165.1,101.2 L165.6,101.1 L166.0,100.9 L166.4,100.8 L166.8,100.6 L167.3,100.5 L167.7,100.3 L168.1,100.1 L168.5,100.0 L169.0,99.8 L169.4,99.7 L169.8,99.5 L170.2,99.4 L170.7,99.2 L171.1,99.1 L171.5,98.9 L171.9,98.7 L172.4,98.6 L172.8,98.4 L173.2,98.3 L173.6,98.1 L174.1,98.0 L174.5,97.8 L174.9,97.7 L175.3,97.5 L175.8,97.4 L176.2,97.2 L176.6,97.1 L177.1,96.9 L177.5,96.8 L177.9,96.7 L178.3,96.5 L178.8,96.4 L179.2,96.2 L179.6,96.1 L180.0,95.9 L180.5,95.8 L180.9,95.6 L181.3,95.5 L181.7,95.3 L182.2,95.2 L182.6,95.0 L183.0,94.9 L183.4,94.7 L183.9,94.6 L184.3,94.4 L184.7,94.3 L185.1,94.1 L185.6,94.0 L186.0,93.8 L186.4,93.7 L186.8,93.5 L187.3,93.4 L187.7,93.2 L188.1,93.1 L188.5,92.9 L189.0,92.8 L189.4,92.6 L189.8,92.5 L190.2,92.3 L190.7,92.2 L191.1,92.0 L191.5,91.9 L191.9,91.7 L192.4,91.6 L192.8,91.4 L193.2,91.3 L193.6,91.1 L194.1,91.0 L194.5,90.9 L194.9,90.7 L195.3,90.6 L195.8,90.4 L196.2,90.3 L196.6,90.1 L197.0,90.0 L197.5,89.8 L197.9,89.7 L198.3,89.5 L198.7,89.4 L199.2,89.2 L199.6,89.1 L200.0,89.0 L200.4,88.8 L200.9,88.7 L201.3,88.5 L201.7,88.4 L202.1,88.2 L202.6,88.1 L203.0,87.9 L203.4,87.8 L203.8,87.7 L204.3,87.5 L204.7,87.4 L205.1,87.2 L205.5,87.1 L206.0,86.9 L206.4,86.8 L206.8,86.7 L207.2,86.5 L207.7,86.4 L208.1,86.2 L208.5,86.1 L208.9,86.0 L209.4,85.8 L209.8,85.7 L210.2,85.6 L210.7,85.4 L211.1,85.3 L211.5,85.2 L211.9,85.0 L212.4,84.9 L212.8,84.8 L213.2,84.6 L213.6,84.5 L214.1,84.4 L214.5,84.3 L214.9,84.1 L215.3,84.0 L215.8,83.9 L216.2,83.8 L216.6,83.6 L217.0,83.5 L217.5,83.4 L217.9,83.3 L218.3,83.2 L218.7,83.0 L219.2,82.9 L219.6,82.8 L220.0,82.7 L220.4,82.6 L220.9,82.5 L221.3,82.4 L221.7,82.2 L222.1,82.1 L222.6,82.0 L223.0,81.9 L223.4,81.8 L223.8,81.7 L224.3,81.6 L224.7,81.5 L225.1,81.4 L225.5,81.2 L226.0,81.1 L226.4,81.0 L226.8,80.9 L227.2,80.8 L227.7,80.7 L228.1,80.6 L228.5,80.5 L228.9,80.4 L229.4,80.3 L229.8,80.2 L230.2,80.1 L230.6,80.0 L231.1,79.9 L231.5,79.8 L231.9,79.7 L232.3,79.6 L232.8,79.5 L233.2,79.4 L233.6,79.3 L234.0,79.2 L234.5,79.1 L234.9,79.0 L235.3,78.9 L235.7,78.8 L236.2,78.6 L236.6,78.5 L237.0,78.4 L237.4,78.3 L237.9,78.1 L238.3,78.0 L238.7,77.9 L239.1,77.8 L239.6,77.6 L240.0,77.5 L240.4,77.4 L240.8,77.3 L241.3,77.1 L241.7,77.0 L242.1,76.9 L242.5,76.8 L243.0,76.6 L243.4,76.5 L243.8,76.4 L244.2,76.3 L244.7,76.1 L245.1,76.0 L245.5,75.9 L246.0,75.8 L246.4,75.7 L246.8,75.5 L247.2,75.4 L247.7,75.3 L248.1,75.2 L248.5,75.0 L248.9,74.9 L249.4,74.8 L249.8,74.7 L250.2,74.6 L250.6,74.4 L251.1,74.3 L251.5,74.2 L251.9,74.1 L252.3,73.9 L252.8,73.8 L253.2,73.7 L253.6,73.6 L254.0,73.4 L254.5,73.3 L254.9,73.2 L255.3,73.1 L255.7,72.9 L256.2,72.8 L256.6,72.7 L257.0,72.6 L257.4,72.4 L257.9,72.3 L258.3,72.2 L258.7,72.0 L259.1,71.9 L259.6,71.8 L260.0,71.6 L260.4,71.5 L260.8,71.4 L261.3,71.2 L261.7,71.1 L262.1,71.0 L262.5,70.9 L263.0,70.8 L263.4,70.7 L263.8,70.6 L264.2,70.4 L264.7,70.3 L265.1,70.2 L265.5,70.1 L265.9,70.0 L266.4,69.9 L266.8,69.8 L267.2,69.7 L267.6,69.6 L268.1,69.5 L268.5,69.4 L268.9,69.2 L269.3,69.1 L269.8,69.0 L270.2,68.9 L270.6,68.8 L271.0,68.7 L271.5,68.6 L271.9,68.4 L272.3,68.3 L272.7,68.2 L273.2,68.1 L273.6,68.0 L274.0,67.8 L274.4,67.7 L274.9,67.6 L275.3,67.5 L275.7,67.3 L276.1,67.2 L276.6,67.1 L277.0,67.0 L277.4,66.8 L277.8,66.7 L278.3,66.6 L278.7,66.4 L279.1,66.3 L279.6,66.1 L280.0,66.0 L280.4,65.9 L280.8,65.7 L281.3,65.6 L281.7,65.4 L282.1,65.3 L282.5,65.1 L283.0,65.0 L283.4,64.8 L283.8,64.7 L284.2,64.5 L284.7,64.4 L285.1,64.2 L285.5,64.0 L285.9,63.9 L286.4,63.7 L286.8,63.5 L287.2,63.4 L287.6,63.2 L288.1,63.0 L288.5,62.9 L288.9,62.7 L289.3,62.5 L289.8,62.3 L290.2,62.2 L290.6,62.0 L291.0,61.8 L291.5,61.6 L291.9,61.4 L292.3,61.2 L292.7,61.0 L293.2,60.8 L293.6,60.7 L294.0,60.5 L294.4,60.3 L294.9,60.1 L295.3,59.9 L295.7,59.7 L296.1,59.5 L296.6,59.3 L297.0,59.0 L297.4,58.8 L297.8,58.6 L298.3,58.4 L298.7,58.2 L299.1,57.9 L299.5,57.7 L300.0,57.5 L300.4,57.3 L300.8,57.0 L301.2,56.8 L301.7,56.5 L302.1,56.3 L302.5,56.0 L302.9,55.8 L303.4,55.5 L303.8,55.3 L304.2,55.0 L304.6,54.7 L305.1,54.5 L305.5,54.2 L305.9,53.9 L306.3,53.6 L306.8,53.3 L307.2,53.0 L307.6,52.7 L308.0,52.4 L308.5,52.0 L308.9,51.7 L309.3,51.4 L309.7,51.0 L310.2,50.7 L310.6,50.3 L311.0,50.0 L311.4,49.6 L311.9,49.3 L312.3,48.9" fill="none" stroke="#c82828" stroke-width="1.05" stroke-linejoin="round"/>
<rect x="71.60" y="10.60" width="240.90" height="218.60" fill="none" stroke="#3a3a3a" stroke-width="1.3"/>
<rect x="142.50" y="10.60" width="170.00" height="113.20" fill="none" stroke="#3a3a3a" stroke-width="1.2"/>
<line x1="71.60" y1="229.30" x2="75.10" y2="229.30" stroke="#3a3a3a" stroke-width="1.0"/>
<line x1="71.60" y1="156.70" x2="75.10" y2="156.70" stroke="#3a3a3a" stroke-width="1.0"/>
<line x1="71.60" y1="83.60" x2="75.10" y2="83.60" stroke="#3a3a3a" stroke-width="1.0"/>
<line x1="71.60" y1="10.60" x2="75.10" y2="10.60" stroke="#3a3a3a" stroke-width="1.0"/>
<line x1="71.60" y1="193.00" x2="73.60" y2="193.00" stroke="#3a3a3a" stroke-width="1.0"/>
<line x1="71.60" y1="120.10" x2="73.60" y2="120.10" stroke="#3a3a3a" stroke-width="1.0"/>
<line x1="71.60" y1="47.10" x2="73.60" y2="47.10" stroke="#3a3a3a" stroke-width="1.0"/>
<line x1="72.30" y1="229.20" x2="72.30" y2="225.70" stroke="#3a3a3a" stroke-width="1.0"/>
<line x1="152.30" y1="229.20" x2="152.30" y2="225.70" stroke="#3a3a3a" stroke-width="1.0"/>
<line x1="232.30" y1="229.20" x2="232.30" y2="225.70" stroke="#3a3a3a" stroke-width="1.0"/>
<line x1="312.50" y1="229.20" x2="312.50" y2="225.70" stroke="#3a3a3a" stroke-width="1.0"/>
<line x1="112.30" y1="229.20" x2="112.30" y2="227.20" stroke="#3a3a3a" stroke-width="1.0"/>
<line x1="192.30" y1="229.20" x2="192.30" y2="227.20" stroke="#3a3a3a" stroke-width="1.0"/>
<line x1="272.30" y1="229.20" x2="272.30" y2="227.20" stroke="#3a3a3a" stroke-width="1.0"/>
<text transform="translate(68.80,233.29) scale(1.09,1)" font-family="Liberation Sans" font-size="12.3" font-weight="normal" fill="#111" stroke="#111" stroke-width="0.25" text-anchor="end">0.0</text>
<text transform="translate(68.80,160.19) scale(1.09,1)" font-family="Liberation Sans" font-size="12.3" font-weight="normal" fill="#111" stroke="#111" stroke-width="0.25" text-anchor="end">-4.0M</text>
<text transform="translate(68.80,87.09) scale(1.09,1)" font-family="Liberation Sans" font-size="12.3" font-weight="normal" fill="#111" stroke="#111" stroke-width="0.25" text-anchor="end">-8.0M</text>
<text transform="translate(68.80,14.19) scale(1.09,1)" font-family="Liberation Sans" font-size="12.3" font-weight="normal" fill="#111" stroke="#111" stroke-width="0.25" text-anchor="end">-12.0M</text>
<text transform="translate(72.00,242.20) scale(1.09,1)" font-family="Liberation Sans" font-size="12.3" font-weight="normal" fill="#111" stroke="#111" stroke-width="0.25" text-anchor="middle">0.0</text>
<text transform="translate(151.50,242.20) scale(1.09,1)" font-family="Liberation Sans" font-size="12.3" font-weight="normal" fill="#111" stroke="#111" stroke-width="0.25" text-anchor="middle">4.0M</text>
<text transform="translate(231.50,242.20) scale(1.09,1)" font-family="Liberation Sans" font-size="12.3" font-weight="normal" fill="#111" stroke="#111" stroke-width="0.25" text-anchor="middle">8.0M</text>
<text transform="translate(311.50,242.20) scale(1.09,1)" font-family="Liberation Sans" font-size="12.3" font-weight="normal" fill="#111" stroke="#111" stroke-width="0.25" text-anchor="middle">12.0M</text>
<text transform="translate(191.50,260.00) scale(1.04,1)" font-family="Liberation Sans" font-size="12.3" font-weight="normal" fill="#111" stroke="#111" stroke-width="0.25" text-anchor="middle">Z′ (Ω cm)</text>
<text transform="translate(15.11,115.80) rotate(-90) scale(1.04,1)" font-family="Liberation Sans" font-size="12.3" font-weight="normal" fill="#111" stroke="#111" stroke-width="0.25" text-anchor="middle">Z<tspan dx="1.6">″</tspan>(Ω cm)</text>
<line x1="142.50" y1="123.80" x2="146.00" y2="123.80" stroke="#3a3a3a" stroke-width="1.0"/>
<line x1="142.50" y1="88.90" x2="146.00" y2="88.90" stroke="#3a3a3a" stroke-width="1.0"/>
<line x1="142.50" y1="54.20" x2="146.00" y2="54.20" stroke="#3a3a3a" stroke-width="1.0"/>
<line x1="142.50" y1="19.90" x2="146.00" y2="19.90" stroke="#3a3a3a" stroke-width="1.0"/>
<line x1="142.50" y1="106.40" x2="144.50" y2="106.40" stroke="#3a3a3a" stroke-width="1.0"/>
<line x1="142.50" y1="71.50" x2="144.50" y2="71.50" stroke="#3a3a3a" stroke-width="1.0"/>
<line x1="142.50" y1="37.00" x2="144.50" y2="37.00" stroke="#3a3a3a" stroke-width="1.0"/>
<line x1="142.80" y1="123.80" x2="142.80" y2="120.30" stroke="#3a3a3a" stroke-width="1.0"/>
<line x1="193.30" y1="123.80" x2="193.30" y2="120.30" stroke="#3a3a3a" stroke-width="1.0"/>
<line x1="243.80" y1="123.80" x2="243.80" y2="120.30" stroke="#3a3a3a" stroke-width="1.0"/>
<line x1="294.30" y1="123.80" x2="294.30" y2="120.30" stroke="#3a3a3a" stroke-width="1.0"/>
<line x1="168.00" y1="123.80" x2="168.00" y2="121.80" stroke="#3a3a3a" stroke-width="1.0"/>
<line x1="218.50" y1="123.80" x2="218.50" y2="121.80" stroke="#3a3a3a" stroke-width="1.0"/>
<line x1="269.00" y1="123.80" x2="269.00" y2="121.80" stroke="#3a3a3a" stroke-width="1.0"/>
<text transform="translate(139.80,127.49) scale(1.04,1)" font-family="Liberation Sans" font-size="12.3" font-weight="normal" fill="#111" stroke="#111" stroke-width="0.25" text-anchor="end">0.0</text>
<text transform="translate(139.80,92.59) scale(1.04,1)" font-family="Liberation Sans" font-size="12.3" font-weight="normal" fill="#111" stroke="#111" stroke-width="0.25" text-anchor="end">-200.0k</text>
<text transform="translate(139.80,57.89) scale(1.04,1)" font-family="Liberation Sans" font-size="12.3" font-weight="normal" fill="#111" stroke="#111" stroke-width="0.25" text-anchor="end">-400.0k</text>
<text transform="translate(139.80,23.59) scale(1.04,1)" font-family="Liberation Sans" font-size="12.3" font-weight="normal" fill="#111" stroke="#111" stroke-width="0.25" text-anchor="end">-600.0k</text>
<text transform="translate(142.30,134.60) scale(1.04,1)" font-family="Liberation Sans" font-size="12.3" font-weight="normal" fill="#111" stroke="#111" stroke-width="0.25" text-anchor="middle">0.0</text>
<text transform="translate(193.30,134.60) scale(1.04,1)" font-family="Liberation Sans" font-size="12.3" font-weight="normal" fill="#111" stroke="#111" stroke-width="0.25" text-anchor="middle">300.0k</text>
<text transform="translate(243.80,134.60) scale(1.04,1)" font-family="Liberation Sans" font-size="12.3" font-weight="normal" fill="#111" stroke="#111" stroke-width="0.25" text-anchor="middle">600.0k</text>
<text transform="translate(294.30,134.60) scale(1.04,1)" font-family="Liberation Sans" font-size="12.3" font-weight="normal" fill="#111" stroke="#111" stroke-width="0.25" text-anchor="middle">900.0k</text>
<text transform="translate(226.00,154.20) scale(1.04,1)" font-family="Liberation Sans" font-size="12.3" font-weight="normal" fill="#111" stroke="#111" stroke-width="0.25" text-anchor="middle">Z′ (Ω cm)</text>
<text transform="translate(90.10,41.30) rotate(-90) scale(1.04,1)" font-family="Liberation Sans" font-size="12.3" font-weight="normal" fill="#111" stroke="#111" stroke-width="0.25" text-anchor="middle">Z<tspan dx="1.6">″</tspan>(Ω cm)</text>
<text transform="translate(300.90,28.60)" font-family="Liberation Sans" font-size="14.4" font-weight="normal" fill="#111" stroke="#111" stroke-width="0.25" text-anchor="middle">(a)</text>
<circle cx="85.6" cy="121.9" r="3.3" fill="#fff" stroke="#000" stroke-width="1.25"/>
<rect x="82.3" y="134.8" width="6.6" height="6.6" fill="#000"/>
<path d="M85.6,150.3 L89.9,157.5 L81.3,157.5Z" fill="#fff" stroke="#000" stroke-width="1.25" stroke-linejoin="miter"/>
<text transform="translate(99.00,125.53) scale(1.04,1)" font-family="Liberation Sans" font-size="12.3" font-weight="normal" fill="#111" stroke="#111" stroke-width="0.25" text-anchor="start">O<tspan font-size="11.1">2</tspan></text>
<text transform="translate(99.00,141.73) scale(1.04,1)" font-family="Liberation Sans" font-size="12.3" font-weight="normal" fill="#111" stroke="#111" stroke-width="0.25" text-anchor="start">air</text>
<text transform="translate(99.00,157.73) scale(1.04,1)" font-family="Liberation Sans" font-size="12.3" font-weight="normal" fill="#111" stroke="#111" stroke-width="0.25" text-anchor="start">N<tspan font-size="11.1">2</tspan></text>
<line x1="76.00" y1="170.70" x2="95.20" y2="170.70" stroke="#e03838" stroke-width="1.3"/>
<text transform="translate(99.00,174.33) scale(1.04,1)" font-family="Liberation Sans" font-size="12.3" font-weight="normal" fill="#111" stroke="#111" stroke-width="0.25" text-anchor="start">fitting</text>
<text transform="translate(166.50,172.70)" font-family="Liberation Serif" font-size="14.5" font-weight="normal" fill="#111" stroke="#111" stroke-width="0.25" text-anchor="start">PB</text>
<text transform="translate(272.50,186.20)" font-family="Liberation Serif" font-size="14.5" font-weight="normal" fill="#111" stroke="#111" stroke-width="0.25" text-anchor="start">GB</text>
<text transform="translate(75.30,215.40)" font-family="Liberation Serif" font-size="14.5" font-weight="normal" fill="#111" stroke="#111" stroke-width="0.25" text-anchor="start">CP</text>
<text transform="translate(237.80,210.40)" font-family="Liberation Serif" font-size="14.5" font-weight="normal" fill="#2020c8" stroke="#2020c8" stroke-width="0.25" text-anchor="start">250 °C</text>
<g fill="#fff" stroke="#000" stroke-width="1.0"><circle cx="75.8" cy="481.3" r="2.30"/><circle cx="78.2" cy="481.2" r="2.30"/><circle cx="80.6" cy="481.1" r="2.30"/><circle cx="83.0" cy="481.1" r="2.30"/><circle cx="85.4" cy="481.0" r="2.30"/><circle cx="87.8" cy="480.9" r="2.30"/><circle cx="90.2" cy="480.8" r="2.30"/><circle cx="92.6" cy="480.7" r="2.30"/><circle cx="95.0" cy="480.6" r="2.30"/><circle cx="97.4" cy="480.5" r="2.30"/><circle cx="99.8" cy="480.5" r="2.30"/><circle cx="102.2" cy="480.6" r="2.30"/><circle cx="104.6" cy="480.9" r="2.30"/><circle cx="107.0" cy="481.1" r="2.30"/><circle cx="109.3" cy="481.3" r="2.30"/><circle cx="111.7" cy="481.6" r="2.30"/><circle cx="114.1" cy="481.8" r="2.30"/><circle cx="116.5" cy="482.0" r="2.30"/><circle cx="118.9" cy="482.0" r="2.30"/><circle cx="121.3" cy="481.9" r="2.30"/><circle cx="123.7" cy="481.8" r="2.30"/><circle cx="126.1" cy="481.7" r="2.30"/><circle cx="128.5" cy="481.6" r="2.30"/><circle cx="130.9" cy="481.5" r="2.30"/><circle cx="133.3" cy="481.6" r="2.30"/><circle cx="135.7" cy="481.9" r="2.30"/></g>
<g fill="#000" stroke="none"><rect x="73.3" y="478.0" width="5.0" height="5.0"/><rect x="75.3" y="477.7" width="5.0" height="5.0"/><rect x="77.2" y="477.3" width="5.0" height="5.0"/><rect x="79.2" y="477.0" width="5.0" height="5.0"/><rect x="81.2" y="476.7" width="5.0" height="5.0"/><rect x="83.2" y="476.4" width="5.0" height="5.0"/><rect x="85.1" y="476.1" width="5.0" height="5.0"/><rect x="87.1" y="475.8" width="5.0" height="5.0"/><rect x="89.1" y="475.5" width="5.0" height="5.0"/><rect x="91.1" y="475.3" width="5.0" height="5.0"/><rect x="93.1" y="475.0" width="5.0" height="5.0"/><rect x="95.0" y="474.7" width="5.0" height="5.0"/><rect x="97.0" y="474.5" width="5.0" height="5.0"/><rect x="99.0" y="474.3" width="5.0" height="5.0"/><rect x="101.0" y="474.1" width="5.0" height="5.0"/><rect x="103.0" y="474.0" width="5.0" height="5.0"/><rect x="105.0" y="473.9" width="5.0" height="5.0"/><rect x="107.0" y="473.9" width="5.0" height="5.0"/><rect x="109.0" y="474.1" width="5.0" height="5.0"/><rect x="111.0" y="474.3" width="5.0" height="5.0"/><rect x="113.0" y="474.6" width="5.0" height="5.0"/><rect x="114.9" y="474.8" width="5.0" height="5.0"/><rect x="116.9" y="475.0" width="5.0" height="5.0"/><rect x="118.9" y="475.2" width="5.0" height="5.0"/><rect x="120.9" y="475.4" width="5.0" height="5.0"/><rect x="122.9" y="475.6" width="5.0" height="5.0"/><rect x="124.9" y="475.7" width="5.0" height="5.0"/><rect x="126.9" y="475.7" width="5.0" height="5.0"/><rect x="128.9" y="475.7" width="5.0" height="5.0"/><rect x="130.9" y="475.7" width="5.0" height="5.0"/><rect x="132.9" y="475.7" width="5.0" height="5.0"/><rect x="134.9" y="475.7" width="5.0" height="5.0"/><rect x="136.9" y="475.7" width="5.0" height="5.0"/><rect x="138.9" y="475.7" width="5.0" height="5.0"/><rect x="140.9" y="475.7" width="5.0" height="5.0"/><rect x="142.9" y="475.7" width="5.0" height="5.0"/><rect x="144.9" y="475.7" width="5.0" height="5.0"/><rect x="146.9" y="475.7" width="5.0" height="5.0"/><rect x="148.9" y="475.8" width="5.0" height="5.0"/><rect x="150.9" y="475.9" width="5.0" height="5.0"/><rect x="152.9" y="476.1" width="5.0" height="5.0"/><rect x="154.9" y="476.3" width="5.0" height="5.0"/><rect x="156.9" y="476.5" width="5.0" height="5.0"/></g>
<g fill="#fff" stroke="#000" stroke-width="0.9"><path d="M75.8,477.7 L78.8,482.6 L72.8,482.6Z"/><path d="M78.6,476.9 L81.6,481.9 L75.6,481.9Z"/><path d="M81.4,476.2 L84.4,481.2 L78.4,481.2Z"/><path d="M84.2,475.5 L87.2,480.5 L81.3,480.5Z"/><path d="M87.1,474.9 L90.0,479.8 L84.1,479.8Z"/><path d="M89.9,474.2 L92.9,479.2 L86.9,479.2Z"/><path d="M92.7,473.7 L95.7,478.6 L89.8,478.6Z"/><path d="M95.6,473.2 L98.6,478.1 L92.6,478.1Z"/><path d="M98.4,472.6 L101.4,477.5 L95.5,477.5Z"/><path d="M101.2,471.9 L104.2,476.9 L98.3,476.9Z"/><path d="M104.0,471.1 L107.0,476.1 L101.1,476.1Z"/><path d="M106.8,470.3 L109.8,475.3 L103.9,475.3Z"/><path d="M109.6,469.4 L112.5,474.3 L106.6,474.3Z"/><path d="M112.3,468.3 L115.2,473.2 L109.3,473.2Z"/><path d="M114.9,467.1 L117.9,472.1 L111.9,472.1Z"/><path d="M117.5,465.9 L120.5,470.8 L114.6,470.8Z"/><path d="M120.2,464.7 L123.2,469.7 L117.2,469.7Z"/><path d="M122.9,463.7 L125.9,468.7 L119.9,468.7Z"/><path d="M125.7,462.9 L128.7,467.9 L122.7,467.9Z"/><path d="M128.5,462.3 L131.5,467.3 L125.6,467.3Z"/><path d="M131.4,461.9 L134.4,466.9 L128.4,466.9Z"/><path d="M134.3,461.6 L137.3,466.6 L131.3,466.6Z"/><path d="M137.2,461.4 L140.2,466.4 L134.2,466.4Z"/><path d="M140.1,461.3 L143.0,466.2 L137.1,466.2Z"/><path d="M143.0,461.1 L145.9,466.1 L140.0,466.1Z"/><path d="M145.9,461.1 L148.8,466.0 L142.9,466.0Z"/><path d="M148.8,461.1 L151.7,466.0 L145.8,466.0Z"/><path d="M151.7,461.2 L154.6,466.1 L148.7,466.1Z"/><path d="M154.6,461.3 L157.5,466.2 L151.6,466.2Z"/><path d="M157.5,461.4 L160.4,466.4 L154.5,466.4Z"/><path d="M160.4,461.5 L163.3,466.5 L157.4,466.5Z"/><path d="M163.3,461.6 L166.2,466.6 L160.3,466.6Z"/><path d="M166.2,461.7 L169.1,466.6 L163.2,466.6Z"/><path d="M169.1,461.6 L172.0,466.6 L166.1,466.6Z"/><path d="M172.0,461.6 L174.9,466.5 L169.0,466.5Z"/><path d="M174.9,461.5 L177.8,466.4 L171.9,466.4Z"/><path d="M177.8,461.3 L180.7,466.3 L174.8,466.3Z"/><path d="M180.7,461.2 L183.6,466.1 L177.7,466.1Z"/><path d="M183.5,461.0 L186.5,466.0 L180.6,466.0Z"/><path d="M186.4,460.8 L189.4,465.8 L183.5,465.8Z"/><path d="M189.3,460.5 L192.3,465.5 L186.4,465.5Z"/><path d="M192.2,460.2 L195.2,465.2 L189.2,465.2Z"/><path d="M195.2,459.8 L198.2,464.7 L192.3,464.7Z"/><path d="M198.5,459.3 L201.5,464.3 L195.5,464.3Z"/><path d="M202.0,458.9 L205.0,463.9 L199.1,463.9Z"/><path d="M205.8,458.4 L208.8,463.4 L202.8,463.4Z"/><path d="M209.8,457.9 L212.8,462.9 L206.9,462.9Z"/><path d="M214.2,457.4 L217.2,462.4 L211.2,462.4Z"/><path d="M218.6,456.9 L221.5,461.9 L215.6,461.9Z"/><path d="M223.0,456.5 L225.9,461.5 L220.0,461.5Z"/><path d="M227.3,456.1 L230.3,461.1 L224.4,461.1Z"/><path d="M231.7,455.8 L234.7,460.8 L228.8,460.8Z"/><path d="M236.1,455.5 L239.1,460.4 L233.1,460.4Z"/><path d="M240.5,455.1 L243.5,460.1 L237.5,460.1Z"/><path d="M244.9,454.8 L247.9,459.8 L241.9,459.8Z"/><path d="M249.3,454.5 L252.2,459.4 L246.3,459.4Z"/><path d="M253.7,454.1 L256.6,459.1 L250.7,459.1Z"/><path d="M258.0,453.8 L261.0,458.7 L255.1,458.7Z"/><path d="M262.4,453.3 L265.4,458.3 L259.5,458.3Z"/><path d="M266.8,452.7 L269.8,457.7 L263.8,457.7Z"/><path d="M271.1,451.9 L274.1,456.9 L268.1,456.9Z"/><path d="M275.3,450.7 L278.3,455.7 L272.4,455.7Z"/><path d="M279.5,449.3 L282.5,454.3 L276.5,454.3Z"/><path d="M283.7,447.8 L286.6,452.8 L280.7,452.8Z"/><path d="M287.7,446.2 L290.7,451.1 L284.8,451.1Z"/><path d="M291.7,444.4 L294.7,449.3 L288.8,449.3Z"/><path d="M295.7,442.4 L298.7,447.4 L292.7,447.4Z"/><path d="M299.6,440.4 L302.6,445.4 L296.6,445.4Z"/><path d="M303.4,438.2 L306.4,443.1 L300.4,443.1Z"/></g>
<path d="M75.8,480.5 L76.4,480.3 L76.9,480.2 L77.5,480.0 L78.1,479.9 L78.7,479.7 L79.2,479.6 L79.8,479.4 L80.4,479.3 L81.0,479.1 L81.5,479.0 L82.1,478.9 L82.7,478.7 L83.3,478.6 L83.8,478.4 L84.4,478.3 L85.0,478.2 L85.6,478.0 L86.1,477.9 L86.7,477.8 L87.3,477.6 L87.9,477.5 L88.4,477.4 L89.0,477.3 L89.6,477.1 L90.2,477.0 L90.7,476.9 L91.3,476.8 L91.9,476.7 L92.5,476.6 L93.0,476.5 L93.6,476.4 L94.2,476.3 L94.8,476.1 L95.3,476.0 L95.9,475.9 L96.5,475.8 L97.1,475.7 L97.6,475.6 L98.2,475.5 L98.8,475.3 L99.4,475.2 L99.9,475.1 L100.5,474.9 L101.1,474.8 L101.6,474.6 L102.2,474.5 L102.8,474.3 L103.4,474.2 L103.9,474.0 L104.5,473.8 L105.1,473.7 L105.7,473.5 L106.2,473.3 L106.8,473.1 L107.4,473.0 L108.0,472.8 L108.5,472.6 L109.1,472.4 L109.7,472.2 L110.3,471.9 L110.8,471.7 L111.4,471.5 L112.0,471.2 L112.6,471.0 L113.1,470.7 L113.7,470.5 L114.3,470.2 L114.9,469.9 L115.4,469.7 L116.0,469.4 L116.6,469.1 L117.2,468.9 L117.7,468.6 L118.3,468.4 L118.9,468.1 L119.5,467.9 L120.0,467.6 L120.6,467.4 L121.2,467.2 L121.8,466.9 L122.3,466.7 L122.9,466.5 L123.5,466.3 L124.1,466.2 L124.6,466.0 L125.2,465.9 L125.8,465.8 L126.4,465.6 L126.9,465.5 L127.5,465.4 L128.1,465.3 L128.6,465.1 L129.2,465.0 L129.8,465.0 L130.4,464.9 L130.9,464.8 L131.5,464.7 L132.1,464.7 L132.7,464.6 L133.2,464.5 L133.8,464.5 L134.4,464.4 L135.0,464.4 L135.5,464.4 L136.1,464.3 L136.7,464.3 L137.3,464.2 L137.8,464.2 L138.4,464.2 L139.0,464.1 L139.6,464.1 L140.1,464.1 L140.7,464.1 L141.3,464.0 L141.9,464.0 L142.4,464.0 L143.0,464.0 L143.6,464.0 L144.2,463.9 L144.7,463.9 L145.3,463.9 L145.9,463.9 L146.5,463.9 L147.0,463.9 L147.6,463.9 L148.2,463.9 L148.8,463.9 L149.3,463.9 L149.9,463.9 L150.5,463.9 L151.1,464.0 L151.6,464.0 L152.2,464.0 L152.8,464.0 L153.3,464.0 L153.9,464.1 L154.5,464.1 L155.1,464.1 L155.6,464.2 L156.2,464.2 L156.8,464.2 L157.4,464.2 L157.9,464.3 L158.5,464.3 L159.1,464.3 L159.7,464.3 L160.2,464.4 L160.8,464.4 L161.4,464.4 L162.0,464.4 L162.5,464.4 L163.1,464.5 L163.7,464.5 L164.3,464.5 L164.8,464.5 L165.4,464.5 L166.0,464.5 L166.6,464.5 L167.1,464.5 L167.7,464.5 L168.3,464.5 L168.9,464.5 L169.4,464.5 L170.0,464.5 L170.6,464.4 L171.2,464.4 L171.7,464.4 L172.3,464.4 L172.9,464.4 L173.5,464.4 L174.0,464.3 L174.6,464.3 L175.2,464.3 L175.8,464.3 L176.3,464.2 L176.9,464.2 L177.5,464.2 L178.0,464.1 L178.6,464.1 L179.2,464.1 L179.8,464.1 L180.3,464.0 L180.9,464.0 L181.5,464.0 L182.1,463.9 L182.6,463.9 L183.2,463.8 L183.8,463.8 L184.4,463.8 L184.9,463.7 L185.5,463.7 L186.1,463.7 L186.7,463.6 L187.2,463.6 L187.8,463.5 L188.4,463.5 L189.0,463.4 L189.5,463.4 L190.1,463.3 L190.7,463.2 L191.3,463.1 L191.8,463.1 L192.4,463.0 L193.0,462.9 L193.6,462.9 L194.1,462.8 L194.7,462.7 L195.3,462.6 L195.9,462.5 L196.4,462.5 L197.0,462.4 L197.6,462.3 L198.2,462.2 L198.7,462.2 L199.3,462.1 L199.9,462.0 L200.5,461.9 L201.0,461.9 L201.6,461.8 L202.2,461.7 L202.8,461.7 L203.3,461.6 L203.9,461.5 L204.5,461.4 L205.0,461.4 L205.6,461.3 L206.2,461.2 L206.8,461.2 L207.3,461.1 L207.9,461.0 L208.5,460.9 L209.1,460.9 L209.6,460.8 L210.2,460.7 L210.8,460.6 L211.4,460.6 L211.9,460.5 L212.5,460.4 L213.1,460.4 L213.7,460.3 L214.2,460.2 L214.8,460.2 L215.4,460.1 L216.0,460.0 L216.5,460.0 L217.1,459.9 L217.7,459.8 L218.3,459.8 L218.8,459.7 L219.4,459.7 L220.0,459.6 L220.6,459.5 L221.1,459.5 L221.7,459.4 L222.3,459.4 L222.9,459.3 L223.4,459.3 L224.0,459.2 L224.6,459.2 L225.2,459.1 L225.7,459.1 L226.3,459.0 L226.9,459.0 L227.5,459.0 L228.0,458.9 L228.6,458.9 L229.2,458.8 L229.7,458.8 L230.3,458.7 L230.9,458.7 L231.5,458.6 L232.0,458.6 L232.6,458.6 L233.2,458.5 L233.8,458.5 L234.3,458.4 L234.9,458.4 L235.5,458.3 L236.1,458.3 L236.6,458.3 L237.2,458.2 L237.8,458.2 L238.4,458.1 L238.9,458.1 L239.5,458.0 L240.1,458.0 L240.7,457.9 L241.2,457.9 L241.8,457.9 L242.4,457.8 L243.0,457.8 L243.5,457.7 L244.1,457.7 L244.7,457.6 L245.3,457.6 L245.8,457.6 L246.4,457.5 L247.0,457.5 L247.6,457.4 L248.1,457.4 L248.7,457.4 L249.3,457.3 L249.9,457.3 L250.4,457.2 L251.0,457.2 L251.6,457.1 L252.2,457.1 L252.7,457.1 L253.3,457.0 L253.9,457.0 L254.4,456.9 L255.0,456.9 L255.6,456.8 L256.2,456.8 L256.7,456.7 L257.3,456.7 L257.9,456.6 L258.5,456.6 L259.0,456.5 L259.6,456.4 L260.2,456.4 L260.8,456.3 L261.3,456.3 L261.9,456.2 L262.5,456.1 L263.1,456.1 L263.6,456.0 L264.2,455.9 L264.8,455.8 L265.4,455.8 L265.9,455.7 L266.5,455.6 L267.1,455.5 L267.7,455.4 L268.2,455.3 L268.8,455.2 L269.4,455.1 L270.0,455.0 L270.5,454.9 L271.1,454.8 L271.7,454.6 L272.3,454.5 L272.8,454.3 L273.4,454.2 L274.0,454.0 L274.6,453.8 L275.1,453.6 L275.7,453.5 L276.3,453.3 L276.9,453.1 L277.4,452.9 L278.0,452.7 L278.6,452.5 L279.2,452.3 L279.7,452.1 L280.3,451.9 L280.9,451.7 L281.4,451.5 L282.0,451.3 L282.6,451.1 L283.2,450.8 L283.7,450.6 L284.3,450.4 L284.9,450.2 L285.5,449.9 L286.0,449.7 L286.6,449.5 L287.2,449.2 L287.8,449.0 L288.3,448.7 L288.9,448.5 L289.5,448.2 L290.1,448.0 L290.6,447.7 L291.2,447.5 L291.8,447.2 L292.4,446.9 L292.9,446.6 L293.5,446.4 L294.1,446.1 L294.7,445.8 L295.2,445.5 L295.8,445.2 L296.4,444.9 L297.0,444.6 L297.5,444.3 L298.1,444.0 L298.7,443.7 L299.3,443.4 L299.8,443.1 L300.4,442.8 L301.0,442.4 L301.6,442.1 L302.1,441.8 L302.7,441.4 L303.3,441.1 L303.9,440.7 L304.4,440.4 L305.0,440.0" fill="none" stroke="#c82828" stroke-width="1.05" stroke-linejoin="round"/>
<path d="M75.8,480.5 L76.0,480.5 L76.2,480.4 L76.4,480.4 L76.7,480.4 L76.9,480.3 L77.1,480.3 L77.3,480.3 L77.5,480.2 L77.7,480.2 L77.9,480.2 L78.1,480.1 L78.4,480.1 L78.6,480.0 L78.8,480.0 L79.0,480.0 L79.2,479.9 L79.4,479.9 L79.6,479.9 L79.8,479.8 L80.1,479.8 L80.3,479.8 L80.5,479.7 L80.7,479.7 L80.9,479.7 L81.1,479.6 L81.3,479.6 L81.5,479.6 L81.8,479.5 L82.0,479.5 L82.2,479.5 L82.4,479.4 L82.6,479.4 L82.8,479.4 L83.0,479.3 L83.2,479.3 L83.5,479.3 L83.7,479.2 L83.9,479.2 L84.1,479.2 L84.3,479.1 L84.5,479.1 L84.7,479.1 L84.9,479.0 L85.2,479.0 L85.4,479.0 L85.6,478.9 L85.8,478.9 L86.0,478.9 L86.2,478.9 L86.4,478.8 L86.6,478.8 L86.9,478.8 L87.1,478.7 L87.3,478.7 L87.5,478.7 L87.7,478.6 L87.9,478.6 L88.1,478.6 L88.3,478.5 L88.6,478.5 L88.8,478.5 L89.0,478.4 L89.2,478.4 L89.4,478.4 L89.6,478.4 L89.8,478.3 L90.0,478.3 L90.3,478.3 L90.5,478.2 L90.7,478.2 L90.9,478.2 L91.1,478.1 L91.3,478.1 L91.5,478.1 L91.7,478.0 L92.0,478.0 L92.2,478.0 L92.4,478.0 L92.6,477.9 L92.8,477.9 L93.0,477.9 L93.2,477.8 L93.4,477.8 L93.7,477.8 L93.9,477.7 L94.1,477.7 L94.3,477.7 L94.5,477.7 L94.7,477.6 L94.9,477.6 L95.1,477.6 L95.4,477.5 L95.6,477.5 L95.8,477.5 L96.0,477.5 L96.2,477.4 L96.4,477.4 L96.6,477.4 L96.8,477.3 L97.1,477.3 L97.3,477.3 L97.5,477.3 L97.7,477.2 L97.9,477.2 L98.1,477.2 L98.3,477.2 L98.5,477.1 L98.8,477.1 L99.0,477.1 L99.2,477.1 L99.4,477.1 L99.6,477.0 L99.8,477.0 L100.0,477.0 L100.2,477.0 L100.5,477.0 L100.7,476.9 L100.9,476.9 L101.1,476.9 L101.3,476.9 L101.5,476.9 L101.7,476.8 L101.9,476.8 L102.2,476.8 L102.4,476.8 L102.6,476.8 L102.8,476.7 L103.0,476.7 L103.2,476.7 L103.4,476.7 L103.6,476.7 L103.9,476.6 L104.1,476.6 L104.3,476.6 L104.5,476.6 L104.7,476.6 L104.9,476.6 L105.1,476.5 L105.3,476.5 L105.6,476.5 L105.8,476.5 L106.0,476.5 L106.2,476.5 L106.4,476.5 L106.6,476.4 L106.8,476.4 L107.0,476.4 L107.3,476.4 L107.5,476.4 L107.7,476.4 L107.9,476.4 L108.1,476.4 L108.3,476.4 L108.5,476.4 L108.7,476.4 L109.0,476.4 L109.2,476.4 L109.4,476.4 L109.6,476.4 L109.8,476.4 L110.0,476.4 L110.2,476.5 L110.4,476.5 L110.7,476.5 L110.9,476.5 L111.1,476.5 L111.3,476.6 L111.5,476.6 L111.7,476.6 L111.9,476.6 L112.1,476.6 L112.4,476.7 L112.6,476.7 L112.8,476.7 L113.0,476.8 L113.2,476.8 L113.4,476.8 L113.6,476.8 L113.8,476.9 L114.1,476.9 L114.3,476.9 L114.5,477.0 L114.7,477.0 L114.9,477.0 L115.1,477.1 L115.3,477.1 L115.5,477.1 L115.8,477.1 L116.0,477.2 L116.2,477.2 L116.4,477.2 L116.6,477.2 L116.8,477.3 L117.0,477.3 L117.2,477.3 L117.5,477.3 L117.7,477.4 L117.9,477.4 L118.1,477.4 L118.3,477.4 L118.5,477.4 L118.7,477.5 L118.9,477.5 L119.2,477.5 L119.4,477.5 L119.6,477.6 L119.8,477.6 L120.0,477.6 L120.2,477.6 L120.4,477.6 L120.6,477.7 L120.9,477.7 L121.1,477.7 L121.3,477.7 L121.5,477.8 L121.7,477.8 L121.9,477.8 L122.1,477.8 L122.3,477.9 L122.6,477.9 L122.8,477.9 L123.0,477.9 L123.2,477.9 L123.4,478.0 L123.6,478.0 L123.8,478.0 L124.0,478.0 L124.3,478.0 L124.5,478.1 L124.7,478.1 L124.9,478.1 L125.1,478.1 L125.3,478.1 L125.5,478.1 L125.7,478.1 L126.0,478.2 L126.2,478.2 L126.4,478.2 L126.6,478.2 L126.8,478.2 L127.0,478.2 L127.2,478.2 L127.4,478.2 L127.7,478.2 L127.9,478.2 L128.1,478.2 L128.3,478.2 L128.5,478.2 L128.7,478.2 L128.9,478.2 L129.1,478.2 L129.4,478.2 L129.6,478.2 L129.8,478.2 L130.0,478.2 L130.2,478.2 L130.4,478.2 L130.6,478.2 L130.8,478.2 L131.1,478.2 L131.3,478.2 L131.5,478.2 L131.7,478.2 L131.9,478.2 L132.1,478.2 L132.3,478.2 L132.5,478.2 L132.8,478.2 L133.0,478.2 L133.2,478.2 L133.4,478.2 L133.6,478.2 L133.8,478.2 L134.0,478.2 L134.2,478.2 L134.5,478.2 L134.7,478.2 L134.9,478.2 L135.1,478.2 L135.3,478.2 L135.5,478.2 L135.7,478.2 L135.9,478.2 L136.2,478.2 L136.4,478.2 L136.6,478.2 L136.8,478.2 L137.0,478.2 L137.2,478.2 L137.4,478.2 L137.6,478.2 L137.9,478.2 L138.1,478.2 L138.3,478.2 L138.5,478.2 L138.7,478.2 L138.9,478.2 L139.1,478.2 L139.3,478.2 L139.6,478.2 L139.8,478.2 L140.0,478.2 L140.2,478.2 L140.4,478.2 L140.6,478.2 L140.8,478.2 L141.0,478.2 L141.3,478.2 L141.5,478.2 L141.7,478.2 L141.9,478.2 L142.1,478.2 L142.3,478.2 L142.5,478.2 L142.7,478.2 L143.0,478.2 L143.2,478.2 L143.4,478.2 L143.6,478.2 L143.8,478.2 L144.0,478.2 L144.2,478.2 L144.4,478.2 L144.7,478.2 L144.9,478.2 L145.1,478.2 L145.3,478.2 L145.5,478.2 L145.7,478.2 L145.9,478.2 L146.1,478.2 L146.4,478.2 L146.6,478.2 L146.8,478.2 L147.0,478.2 L147.2,478.2 L147.4,478.2 L147.6,478.2 L147.8,478.2 L148.1,478.2 L148.3,478.2 L148.5,478.2 L148.7,478.2 L148.9,478.2 L149.1,478.2 L149.3,478.2 L149.5,478.2 L149.8,478.3 L150.0,478.3 L150.2,478.3 L150.4,478.3 L150.6,478.3 L150.8,478.3 L151.0,478.3 L151.2,478.3 L151.5,478.3 L151.7,478.3 L151.9,478.4 L152.1,478.4 L152.3,478.4 L152.5,478.4 L152.7,478.4 L152.9,478.4 L153.2,478.4 L153.4,478.5 L153.6,478.5 L153.8,478.5 L154.0,478.5 L154.2,478.5 L154.4,478.5 L154.6,478.6 L154.9,478.6 L155.1,478.6 L155.3,478.6 L155.5,478.6 L155.7,478.6 L155.9,478.7 L156.1,478.7 L156.3,478.7 L156.6,478.7 L156.8,478.7 L157.0,478.8 L157.2,478.8 L157.4,478.8 L157.6,478.8 L157.8,478.8 L158.0,478.9 L158.3,478.9 L158.5,478.9 L158.7,478.9 L158.9,478.9 L159.1,479.0 L159.3,479.0 L159.5,479.0 L159.7,479.0 L160.0,479.0 L160.2,479.1 L160.4,479.1 L160.6,479.1" fill="none" stroke="#c82828" stroke-width="1.05" stroke-linejoin="round"/>
<path d="M75.8,481.3 L76.0,481.3 L76.1,481.3 L76.3,481.3 L76.4,481.3 L76.6,481.3 L76.7,481.3 L76.9,481.3 L77.0,481.3 L77.2,481.3 L77.3,481.3 L77.5,481.2 L77.6,481.2 L77.8,481.2 L77.9,481.2 L78.1,481.2 L78.2,481.2 L78.4,481.2 L78.5,481.2 L78.7,481.2 L78.8,481.2 L79.0,481.2 L79.1,481.2 L79.3,481.2 L79.5,481.2 L79.6,481.2 L79.8,481.2 L79.9,481.2 L80.1,481.2 L80.2,481.2 L80.4,481.2 L80.5,481.1 L80.7,481.1 L80.8,481.1 L81.0,481.1 L81.1,481.1 L81.3,481.1 L81.4,481.1 L81.6,481.1 L81.7,481.1 L81.9,481.1 L82.0,481.1 L82.2,481.1 L82.3,481.1 L82.5,481.1 L82.6,481.1 L82.8,481.1 L83.0,481.1 L83.1,481.1 L83.3,481.1 L83.4,481.1 L83.6,481.0 L83.7,481.0 L83.9,481.0 L84.0,481.0 L84.2,481.0 L84.3,481.0 L84.5,481.0 L84.6,481.0 L84.8,481.0 L84.9,481.0 L85.1,481.0 L85.2,481.0 L85.4,481.0 L85.5,481.0 L85.7,481.0 L85.8,481.0 L86.0,481.0 L86.1,481.0 L86.3,481.0 L86.4,480.9 L86.6,480.9 L86.8,480.9 L86.9,480.9 L87.1,480.9 L87.2,480.9 L87.4,480.9 L87.5,480.9 L87.7,480.9 L87.8,480.9 L88.0,480.9 L88.1,480.9 L88.3,480.9 L88.4,480.9 L88.6,480.9 L88.7,480.8 L88.9,480.8 L89.0,480.8 L89.2,480.8 L89.3,480.8 L89.5,480.8 L89.6,480.8 L89.8,480.8 L89.9,480.8 L90.1,480.8 L90.3,480.8 L90.4,480.8 L90.6,480.8 L90.7,480.7 L90.9,480.7 L91.0,480.7 L91.2,480.7 L91.3,480.7 L91.5,480.7 L91.6,480.7 L91.8,480.7 L91.9,480.7 L92.1,480.7 L92.2,480.7 L92.4,480.7 L92.5,480.7 L92.7,480.7 L92.8,480.7 L93.0,480.6 L93.1,480.6 L93.3,480.6 L93.4,480.6 L93.6,480.6 L93.8,480.6 L93.9,480.6 L94.1,480.6 L94.2,480.6 L94.4,480.6 L94.5,480.6 L94.7,480.6 L94.8,480.6 L95.0,480.6 L95.1,480.6 L95.3,480.6 L95.4,480.6 L95.6,480.6 L95.7,480.5 L95.9,480.5 L96.0,480.5 L96.2,480.5 L96.3,480.5 L96.5,480.5 L96.6,480.5 L96.8,480.5 L96.9,480.5 L97.1,480.5 L97.3,480.5 L97.4,480.5 L97.6,480.5 L97.7,480.5 L97.9,480.5 L98.0,480.5 L98.2,480.5 L98.3,480.5 L98.5,480.5 L98.6,480.5 L98.8,480.5 L98.9,480.5 L99.1,480.5 L99.2,480.5 L99.4,480.5 L99.5,480.5 L99.7,480.5 L99.8,480.5 L100.0,480.5 L100.1,480.5 L100.3,480.5 L100.4,480.5 L100.6,480.5 L100.7,480.6 L100.9,480.6 L101.1,480.6 L101.2,480.6 L101.4,480.6 L101.5,480.6 L101.7,480.6 L101.8,480.6 L102.0,480.6 L102.1,480.6 L102.3,480.7 L102.4,480.7 L102.6,480.7 L102.7,480.7 L102.9,480.7 L103.0,480.7 L103.2,480.7 L103.3,480.8 L103.5,480.8 L103.6,480.8 L103.8,480.8 L103.9,480.8 L104.1,480.8 L104.2,480.8 L104.4,480.9 L104.6,480.9 L104.7,480.9 L104.9,480.9 L105.0,480.9 L105.2,480.9 L105.3,480.9 L105.5,481.0 L105.6,481.0 L105.8,481.0 L105.9,481.0 L106.1,481.0 L106.2,481.0 L106.4,481.1 L106.5,481.1 L106.7,481.1 L106.8,481.1 L107.0,481.1 L107.1,481.1 L107.3,481.1 L107.4,481.2 L107.6,481.2 L107.7,481.2 L107.9,481.2 L108.1,481.2 L108.2,481.2 L108.4,481.2 L108.5,481.2 L108.7,481.3 L108.8,481.3 L109.0,481.3 L109.1,481.3 L109.3,481.3 L109.4,481.3 L109.6,481.3 L109.7,481.4 L109.9,481.4 L110.0,481.4 L110.2,481.4 L110.3,481.4 L110.5,481.4 L110.6,481.4 L110.8,481.5 L110.9,481.5 L111.1,481.5 L111.2,481.5 L111.4,481.5 L111.6,481.5 L111.7,481.6 L111.9,481.6 L112.0,481.6 L112.2,481.6 L112.3,481.6 L112.5,481.6 L112.6,481.7 L112.8,481.7 L112.9,481.7 L113.1,481.7 L113.2,481.7 L113.4,481.7 L113.5,481.7 L113.7,481.8 L113.8,481.8 L114.0,481.8 L114.1,481.8 L114.3,481.8 L114.4,481.8 L114.6,481.8 L114.7,481.8 L114.9,481.9 L115.0,481.9 L115.2,481.9 L115.4,481.9 L115.5,481.9 L115.7,481.9 L115.8,481.9 L116.0,481.9 L116.1,481.9 L116.3,481.9 L116.4,482.0 L116.6,482.0 L116.7,482.0 L116.9,482.0 L117.0,482.0 L117.2,482.0 L117.3,482.0 L117.5,482.0 L117.6,482.0 L117.8,482.0 L117.9,482.0 L118.1,482.0 L118.2,482.0 L118.4,482.0 L118.5,482.0 L118.7,482.0 L118.9,482.0 L119.0,482.0 L119.2,482.0 L119.3,482.0 L119.5,482.0 L119.6,482.0 L119.8,482.0 L119.9,482.0 L120.1,482.0 L120.2,482.0 L120.4,482.0 L120.5,482.0 L120.7,481.9 L120.8,481.9 L121.0,481.9 L121.1,481.9 L121.3,481.9 L121.4,481.9 L121.6,481.9 L121.7,481.9 L121.9,481.9 L122.0,481.9 L122.2,481.9 L122.4,481.9 L122.5,481.9 L122.7,481.9 L122.8,481.8 L123.0,481.8 L123.1,481.8 L123.3,481.8 L123.4,481.8 L123.6,481.8 L123.7,481.8 L123.9,481.8 L124.0,481.8 L124.2,481.8 L124.3,481.8 L124.5,481.8 L124.6,481.7 L124.8,481.7 L124.9,481.7 L125.1,481.7 L125.2,481.7 L125.4,481.7 L125.5,481.7 L125.7,481.7 L125.9,481.7 L126.0,481.7 L126.2,481.7 L126.3,481.7 L126.5,481.7 L126.6,481.6 L126.8,481.6 L126.9,481.6 L127.1,481.6 L127.2,481.6 L127.4,481.6 L127.5,481.6 L127.7,481.6 L127.8,481.6 L128.0,481.6 L128.1,481.6 L128.3,481.6 L128.4,481.6 L128.6,481.6 L128.7,481.6 L128.9,481.6 L129.0,481.6 L129.2,481.6 L129.3,481.6 L129.5,481.5 L129.7,481.5 L129.8,481.5 L130.0,481.5 L130.1,481.5 L130.3,481.5 L130.4,481.5 L130.6,481.5 L130.7,481.5 L130.9,481.5 L131.0,481.5 L131.2,481.5 L131.3,481.5 L131.5,481.5 L131.6,481.5 L131.8,481.5 L131.9,481.5 L132.1,481.5 L132.2,481.5 L132.4,481.5 L132.5,481.5 L132.7,481.5 L132.8,481.5 L133.0,481.5 L133.2,481.5 L133.3,481.6 L133.5,481.6 L133.6,481.6 L133.8,481.6 L133.9,481.6 L134.1,481.6 L134.2,481.6 L134.4,481.7 L134.5,481.7 L134.7,481.7 L134.8,481.7 L135.0,481.7 L135.1,481.8 L135.3,481.8 L135.4,481.8 L135.6,481.8 L135.7,481.9 L135.9,481.9 L136.0,481.9 L136.2,481.9 L136.3,482.0 L136.5,482.0" fill="none" stroke="#c82828" stroke-width="1.05" stroke-linejoin="round"/>
<rect x="133.0" y="268.3" width="179.39999999999998" height="112.69999999999999" fill="#fff"/>
<g fill="#fff" stroke="#000" stroke-width="1.0"><circle cx="133.3" cy="365.5" r="2.39"/><circle cx="136.0" cy="364.6" r="2.39"/><circle cx="138.6" cy="363.8" r="2.39"/><circle cx="141.3" cy="363.1" r="2.39"/><circle cx="144.1" cy="362.4" r="2.39"/><circle cx="146.8" cy="361.7" r="2.39"/><circle cx="149.5" cy="360.9" r="2.39"/><circle cx="152.2" cy="360.6" r="2.39"/><circle cx="155.0" cy="360.8" r="2.39"/><circle cx="157.8" cy="361.4" r="2.39"/><circle cx="160.5" cy="362.1" r="2.39"/><circle cx="163.2" cy="362.8" r="2.39"/><circle cx="165.9" cy="363.4" r="2.39"/><circle cx="168.6" cy="364.1" r="2.39"/><circle cx="171.4" cy="364.7" r="2.39"/><circle cx="174.1" cy="365.4" r="2.39"/><circle cx="176.8" cy="366.1" r="2.39"/><circle cx="179.5" cy="366.9" r="2.39"/><circle cx="182.2" cy="367.7" r="2.39"/><circle cx="184.8" cy="368.6" r="2.39"/><circle cx="187.5" cy="369.3" r="2.39"/><circle cx="190.3" cy="369.8" r="2.39"/><circle cx="193.0" cy="370.2" r="2.39"/><circle cx="195.8" cy="370.4" r="2.39"/><circle cx="198.6" cy="370.2" r="2.39"/><circle cx="201.3" cy="369.3" r="2.39"/><circle cx="203.9" cy="368.2" r="2.39"/><circle cx="206.6" cy="367.5" r="2.39"/><circle cx="209.3" cy="367.2" r="2.39"/><circle cx="212.1" cy="367.0" r="2.39"/><circle cx="214.9" cy="366.8" r="2.39"/><circle cx="217.7" cy="366.7" r="2.39"/><circle cx="220.5" cy="367.0" r="2.39"/><circle cx="223.0" cy="368.3" r="2.39"/><circle cx="225.5" cy="369.4" r="2.39"/><circle cx="228.3" cy="369.3" r="2.39"/><circle cx="231.1" cy="368.7" r="2.39"/><circle cx="233.7" cy="367.9" r="2.39"/><circle cx="236.2" cy="366.6" r="2.39"/><circle cx="238.6" cy="365.2" r="2.39"/><circle cx="241.1" cy="364.0" r="2.39"/><circle cx="243.8" cy="363.2" r="2.39"/><circle cx="246.5" cy="362.5" r="2.39"/><circle cx="249.3" cy="362.0" r="2.39"/><circle cx="252.1" cy="361.8" r="2.39"/><circle cx="254.9" cy="362.0" r="2.39"/><circle cx="257.6" cy="362.6" r="2.39"/><circle cx="260.3" cy="363.5" r="2.39"/><circle cx="262.5" cy="365.2" r="2.39"/><circle cx="264.5" cy="367.1" r="2.39"/></g>
<g fill="#000" stroke="none"><rect x="172.0" y="362.0" width="4.9" height="4.9"/><rect x="174.5" y="362.4" width="4.9" height="4.9"/><rect x="177.1" y="363.0" width="4.9" height="4.9"/><rect x="179.6" y="363.6" width="4.9" height="4.9"/><rect x="182.1" y="364.2" width="4.9" height="4.9"/><rect x="184.6" y="364.9" width="4.9" height="4.9"/><rect x="187.1" y="365.8" width="4.9" height="4.9"/><rect x="189.5" y="366.8" width="4.9" height="4.9"/><rect x="191.9" y="367.7" width="4.9" height="4.9"/><rect x="194.5" y="368.0" width="4.9" height="4.9"/><rect x="197.0" y="367.3" width="4.9" height="4.9"/><rect x="199.3" y="366.1" width="4.9" height="4.9"/><rect x="201.6" y="365.0" width="4.9" height="4.9"/><rect x="204.2" y="364.5" width="4.9" height="4.9"/><rect x="206.8" y="364.2" width="4.9" height="4.9"/><rect x="209.4" y="364.0" width="4.9" height="4.9"/><rect x="212.0" y="363.9" width="4.9" height="4.9"/><rect x="214.5" y="364.2" width="4.9" height="4.9"/><rect x="217.0" y="365.1" width="4.9" height="4.9"/><rect x="219.3" y="366.2" width="4.9" height="4.9"/><rect x="221.7" y="367.2" width="4.9" height="4.9"/><rect x="224.3" y="367.6" width="4.9" height="4.9"/><rect x="226.8" y="367.0" width="4.9" height="4.9"/><rect x="229.2" y="366.1" width="4.9" height="4.9"/><rect x="231.6" y="365.0" width="4.9" height="4.9"/><rect x="234.0" y="364.0" width="4.9" height="4.9"/><rect x="236.3" y="362.9" width="4.9" height="4.9"/><rect x="238.7" y="361.7" width="4.9" height="4.9"/><rect x="241.0" y="360.5" width="4.9" height="4.9"/></g>
<g fill="#000" stroke="none"><rect x="130.7" y="361.8" width="5.2" height="5.2"/><rect x="133.0" y="360.7" width="5.2" height="5.2"/><rect x="135.4" y="359.6" width="5.2" height="5.2"/><rect x="137.9" y="358.7" width="5.2" height="5.2"/><rect x="140.3" y="357.9" width="5.2" height="5.2"/><rect x="142.8" y="357.2" width="5.2" height="5.2"/><rect x="145.4" y="356.6" width="5.2" height="5.2"/><rect x="147.9" y="356.0" width="5.2" height="5.2"/><rect x="150.5" y="355.6" width="5.2" height="5.2"/><rect x="153.1" y="355.5" width="5.2" height="5.2"/><rect x="155.6" y="355.7" width="5.2" height="5.2"/><rect x="158.2" y="356.0" width="5.2" height="5.2"/><rect x="160.8" y="356.3" width="5.2" height="5.2"/><rect x="163.4" y="356.6" width="5.2" height="5.2"/><rect x="166.0" y="356.8" width="5.2" height="5.2"/><rect x="168.6" y="357.0" width="5.2" height="5.2"/><rect x="171.2" y="357.1" width="5.2" height="5.2"/><rect x="173.8" y="357.3" width="5.2" height="5.2"/><rect x="176.4" y="357.3" width="5.2" height="5.2"/><rect x="179.0" y="357.4" width="5.2" height="5.2"/><rect x="181.6" y="357.3" width="5.2" height="5.2"/><rect x="184.1" y="357.0" width="5.2" height="5.2"/><rect x="186.7" y="356.6" width="5.2" height="5.2"/><rect x="189.3" y="356.3" width="5.2" height="5.2"/><rect x="191.9" y="356.0" width="5.2" height="5.2"/><rect x="194.5" y="355.9" width="5.2" height="5.2"/><rect x="197.1" y="356.0" width="5.2" height="5.2"/><rect x="199.7" y="356.2" width="5.2" height="5.2"/><rect x="202.2" y="356.5" width="5.2" height="5.2"/><rect x="204.8" y="356.9" width="5.2" height="5.2"/><rect x="207.4" y="357.2" width="5.2" height="5.2"/><rect x="210.0" y="357.5" width="5.2" height="5.2"/><rect x="212.5" y="357.9" width="5.2" height="5.2"/><rect x="215.1" y="358.4" width="5.2" height="5.2"/><rect x="217.7" y="358.7" width="5.2" height="5.2"/><rect x="220.3" y="358.9" width="5.2" height="5.2"/><rect x="222.9" y="358.9" width="5.2" height="5.2"/><rect x="225.5" y="358.9" width="5.2" height="5.2"/><rect x="228.1" y="358.9" width="5.2" height="5.2"/><rect x="230.7" y="358.9" width="5.2" height="5.2"/><rect x="233.3" y="358.9" width="5.2" height="5.2"/><rect x="235.9" y="358.7" width="5.2" height="5.2"/><rect x="238.5" y="358.4" width="5.2" height="5.2"/><rect x="241.0" y="358.1" width="5.2" height="5.2"/><rect x="243.6" y="357.9" width="5.2" height="5.2"/><rect x="246.2" y="357.8" width="5.2" height="5.2"/><rect x="248.8" y="357.8" width="5.2" height="5.2"/><rect x="251.4" y="358.0" width="5.2" height="5.2"/><rect x="254.0" y="358.1" width="5.2" height="5.2"/><rect x="256.6" y="358.2" width="5.2" height="5.2"/><rect x="259.2" y="358.3" width="5.2" height="5.2"/><rect x="261.8" y="358.4" width="5.2" height="5.2"/><rect x="264.4" y="358.2" width="5.2" height="5.2"/><rect x="266.9" y="357.5" width="5.2" height="5.2"/><rect x="269.3" y="356.5" width="5.2" height="5.2"/><rect x="271.7" y="355.6" width="5.2" height="5.2"/><rect x="274.2" y="354.8" width="5.2" height="5.2"/><rect x="276.7" y="354.0" width="5.2" height="5.2"/><rect x="279.2" y="353.3" width="5.2" height="5.2"/><rect x="281.7" y="352.8" width="5.2" height="5.2"/><rect x="284.3" y="352.4" width="5.2" height="5.2"/><rect x="286.9" y="352.0" width="5.2" height="5.2"/><rect x="289.5" y="351.7" width="5.2" height="5.2"/><rect x="292.1" y="351.5" width="5.2" height="5.2"/><rect x="294.7" y="351.3" width="5.2" height="5.2"/><rect x="297.3" y="351.3" width="5.2" height="5.2"/><rect x="299.8" y="351.5" width="5.2" height="5.2"/><rect x="302.4" y="352.0" width="5.2" height="5.2"/><rect x="304.9" y="352.6" width="5.2" height="5.2"/><rect x="307.4" y="353.4" width="5.2" height="5.2"/></g>
<g fill="#fff" stroke="#000" stroke-width="0.95"><path d="M133.3,361.0 L136.2,365.7 L130.4,365.7Z"/><path d="M136.4,359.1 L139.2,363.9 L133.5,363.9Z"/><path d="M139.6,357.3 L142.5,362.1 L136.7,362.1Z"/><path d="M143.0,355.7 L145.9,360.5 L140.2,360.5Z"/><path d="M146.7,354.5 L149.5,359.3 L143.8,359.3Z"/><path d="M150.5,353.5 L153.3,358.2 L147.6,358.2Z"/><path d="M154.4,352.6 L157.2,357.4 L151.5,357.4Z"/><path d="M158.4,351.7 L161.3,356.4 L155.5,356.4Z"/><path d="M162.5,350.6 L165.4,355.4 L159.6,355.4Z"/><path d="M166.7,349.5 L169.5,354.2 L163.8,354.2Z"/><path d="M170.9,348.3 L173.8,353.1 L168.1,353.1Z"/><path d="M175.4,347.3 L178.2,352.1 L172.5,352.1Z"/><path d="M179.9,346.2 L182.7,351.0 L177.0,351.0Z"/><path d="M184.4,344.9 L187.3,349.7 L181.6,349.7Z"/><path d="M189.1,343.5 L191.9,348.2 L186.2,348.2Z"/><path d="M193.8,341.8 L196.6,346.5 L190.9,346.5Z"/><path d="M198.5,339.8 L201.4,344.5 L195.7,344.5Z"/><path d="M203.3,337.3 L206.1,342.1 L200.4,342.1Z"/><path d="M208.1,334.5 L210.9,339.2 L205.2,339.2Z"/><path d="M213.0,331.4 L215.8,336.2 L210.1,336.2Z"/><path d="M218.2,328.5 L221.0,333.3 L215.3,333.3Z"/><path d="M223.7,325.7 L226.6,330.5 L220.9,330.5Z"/><path d="M229.5,322.8 L232.3,327.6 L226.6,327.6Z"/><path d="M235.7,320.4 L238.5,325.1 L232.8,325.1Z"/><path d="M241.9,317.8 L244.8,322.6 L239.0,322.6Z"/><path d="M248.1,315.2 L251.0,320.0 L245.2,320.0Z"/><path d="M254.7,313.6 L257.5,318.4 L251.8,318.4Z"/><path d="M261.4,312.6 L264.2,317.4 L258.5,317.4Z"/><path d="M268.1,311.8 L271.0,316.6 L265.3,316.6Z"/><path d="M274.9,311.1 L277.8,315.8 L272.1,315.8Z"/><path d="M281.8,310.4 L284.6,315.1 L278.9,315.1Z"/><path d="M288.7,310.3 L291.5,315.1 L285.8,315.1Z"/><path d="M295.6,310.5 L298.4,315.3 L292.7,315.3Z"/><path d="M302.5,310.9 L305.4,315.7 L299.6,315.7Z"/><path d="M309.4,312.0 L312.2,316.8 L306.5,316.8Z"/></g>
<path d="M133.3,363.7 L133.7,363.4 L134.2,363.1 L134.6,362.9 L135.1,362.6 L135.5,362.3 L136.0,362.1 L136.4,361.8 L136.9,361.5 L137.3,361.3 L137.8,361.0 L138.2,360.8 L138.7,360.5 L139.1,360.3 L139.6,360.1 L140.0,359.8 L140.4,359.6 L140.9,359.4 L141.3,359.2 L141.8,359.0 L142.2,358.8 L142.7,358.6 L143.1,358.4 L143.6,358.2 L144.0,358.1 L144.5,357.9 L144.9,357.8 L145.4,357.6 L145.8,357.5 L146.3,357.3 L146.7,357.2 L147.1,357.1 L147.6,356.9 L148.0,356.8 L148.5,356.7 L148.9,356.6 L149.4,356.5 L149.8,356.4 L150.3,356.2 L150.7,356.1 L151.2,356.0 L151.6,355.9 L152.1,355.8 L152.5,355.7 L153.0,355.6 L153.4,355.5 L153.8,355.4 L154.3,355.3 L154.7,355.2 L155.2,355.1 L155.6,355.0 L156.1,354.9 L156.5,354.8 L157.0,354.7 L157.4,354.6 L157.9,354.5 L158.3,354.4 L158.8,354.3 L159.2,354.2 L159.7,354.1 L160.1,354.0 L160.5,353.9 L161.0,353.7 L161.4,353.6 L161.9,353.5 L162.3,353.4 L162.8,353.3 L163.2,353.1 L163.7,353.0 L164.1,352.9 L164.6,352.8 L165.0,352.6 L165.5,352.5 L165.9,352.4 L166.3,352.3 L166.8,352.2 L167.2,352.0 L167.7,351.9 L168.1,351.8 L168.6,351.7 L169.0,351.6 L169.5,351.4 L169.9,351.3 L170.4,351.2 L170.8,351.1 L171.3,351.0 L171.7,350.9 L172.2,350.8 L172.6,350.7 L173.0,350.5 L173.5,350.4 L173.9,350.3 L174.4,350.2 L174.8,350.1 L175.3,350.0 L175.7,349.9 L176.2,349.8 L176.6,349.7 L177.1,349.6 L177.5,349.5 L178.0,349.4 L178.4,349.3 L178.9,349.2 L179.3,349.1 L179.7,349.0 L180.2,348.8 L180.6,348.7 L181.1,348.6 L181.5,348.5 L182.0,348.4 L182.4,348.2 L182.9,348.1 L183.3,348.0 L183.8,347.9 L184.2,347.7 L184.7,347.6 L185.1,347.5 L185.6,347.3 L186.0,347.2 L186.4,347.0 L186.9,346.9 L187.3,346.8 L187.8,346.6 L188.2,346.5 L188.7,346.3 L189.1,346.2 L189.6,346.0 L190.0,345.9 L190.5,345.7 L190.9,345.5 L191.4,345.4 L191.8,345.2 L192.3,345.1 L192.7,344.9 L193.1,344.7 L193.6,344.6 L194.0,344.4 L194.5,344.2 L194.9,344.0 L195.4,343.8 L195.8,343.7 L196.3,343.5 L196.7,343.3 L197.2,343.1 L197.6,342.9 L198.1,342.7 L198.5,342.5 L199.0,342.3 L199.4,342.1 L199.8,341.8 L200.3,341.6 L200.7,341.4 L201.2,341.1 L201.6,340.9 L202.1,340.7 L202.5,340.4 L203.0,340.2 L203.4,339.9 L203.9,339.7 L204.3,339.4 L204.8,339.2 L205.2,338.9 L205.7,338.6 L206.1,338.4 L206.5,338.1 L207.0,337.8 L207.4,337.6 L207.9,337.3 L208.3,337.0 L208.8,336.7 L209.2,336.5 L209.7,336.2 L210.1,335.9 L210.6,335.7 L211.0,335.4 L211.5,335.1 L211.9,334.8 L212.4,334.6 L212.8,334.3 L213.2,334.0 L213.7,333.7 L214.1,333.5 L214.6,333.2 L215.0,332.9 L215.5,332.7 L215.9,332.4 L216.4,332.2 L216.8,331.9 L217.3,331.7 L217.7,331.5 L218.2,331.2 L218.6,331.0 L219.1,330.8 L219.5,330.6 L219.9,330.3 L220.4,330.1 L220.8,329.9 L221.3,329.7 L221.7,329.5 L222.2,329.3 L222.6,329.0 L223.1,328.8 L223.5,328.6 L224.0,328.4 L224.4,328.1 L224.9,327.9 L225.3,327.7 L225.7,327.4 L226.2,327.2 L226.6,327.0 L227.1,326.7 L227.5,326.5 L228.0,326.3 L228.4,326.0 L228.9,325.8 L229.3,325.6 L229.8,325.4 L230.2,325.2 L230.7,325.0 L231.1,324.8 L231.6,324.7 L232.0,324.5 L232.4,324.3 L232.9,324.1 L233.3,324.0 L233.8,323.8 L234.2,323.6 L234.7,323.5 L235.1,323.3 L235.6,323.1 L236.0,323.0 L236.5,322.8 L236.9,322.6 L237.4,322.4 L237.8,322.3 L238.3,322.1 L238.7,321.9 L239.1,321.7 L239.6,321.5 L240.0,321.3 L240.5,321.2 L240.9,321.0 L241.4,320.8 L241.8,320.6 L242.3,320.4 L242.7,320.2 L243.2,320.1 L243.6,319.9 L244.1,319.7 L244.5,319.5 L245.0,319.3 L245.4,319.1 L245.8,318.9 L246.3,318.7 L246.7,318.5 L247.2,318.3 L247.6,318.1 L248.1,317.9 L248.5,317.8 L249.0,317.6 L249.4,317.5 L249.9,317.3 L250.3,317.2 L250.8,317.1 L251.2,317.0 L251.7,316.9 L252.1,316.8 L252.5,316.7 L253.0,316.6 L253.4,316.5 L253.9,316.5 L254.3,316.4 L254.8,316.3 L255.2,316.2 L255.7,316.2 L256.1,316.1 L256.6,316.0 L257.0,316.0 L257.5,315.9 L257.9,315.8 L258.4,315.8 L258.8,315.7 L259.2,315.6 L259.7,315.6 L260.1,315.5 L260.6,315.5 L261.0,315.4 L261.5,315.3 L261.9,315.3 L262.4,315.2 L262.8,315.2 L263.3,315.1 L263.7,315.1 L264.2,315.0 L264.6,315.0 L265.1,314.9 L265.5,314.9 L265.9,314.8 L266.4,314.8 L266.8,314.7 L267.3,314.7 L267.7,314.6 L268.2,314.6 L268.6,314.5 L269.1,314.5 L269.5,314.4 L270.0,314.4 L270.4,314.3 L270.9,314.3 L271.3,314.2 L271.8,314.2 L272.2,314.1 L272.6,314.1 L273.1,314.0 L273.5,314.0 L274.0,313.9 L274.4,313.9 L274.9,313.8 L275.3,313.8 L275.8,313.7 L276.2,313.6 L276.7,313.6 L277.1,313.5 L277.6,313.5 L278.0,313.4 L278.5,313.4 L278.9,313.3 L279.3,313.3 L279.8,313.3 L280.2,313.2 L280.7,313.2 L281.1,313.1 L281.6,313.1 L282.0,313.1 L282.5,313.1 L282.9,313.0 L283.4,313.0 L283.8,313.0 L284.3,313.0 L284.7,313.0 L285.1,313.0 L285.6,313.0 L286.0,313.0 L286.5,313.0 L286.9,313.0 L287.4,313.0 L287.8,313.0 L288.3,313.0 L288.7,313.0 L289.2,313.0 L289.6,313.0 L290.1,313.1 L290.5,313.1 L291.0,313.1 L291.4,313.1 L291.8,313.1 L292.3,313.1 L292.7,313.1 L293.2,313.1 L293.6,313.1 L294.1,313.2 L294.5,313.2 L295.0,313.2 L295.4,313.2 L295.9,313.2 L296.3,313.2 L296.8,313.3 L297.2,313.3 L297.7,313.3 L298.1,313.3 L298.5,313.3 L299.0,313.3 L299.4,313.4 L299.9,313.4 L300.3,313.4 L300.8,313.5 L301.2,313.5 L301.7,313.6 L302.1,313.6 L302.6,313.7 L303.0,313.7 L303.5,313.8 L303.9,313.8 L304.4,313.9 L304.8,314.0 L305.2,314.0 L305.7,314.1 L306.1,314.2 L306.6,314.2 L307.0,314.3 L307.5,314.4 L307.9,314.4 L308.4,314.5 L308.8,314.6 L309.3,314.7 L309.7,314.8 L310.2,314.8 L310.6,314.9 L311.1,315.0 L311.5,315.1" fill="none" stroke="#c82828" stroke-width="1.05" stroke-linejoin="round"/>
<path d="M133.3,364.4 L133.7,364.2 L134.2,364.0 L134.6,363.8 L135.1,363.5 L135.5,363.3 L136.0,363.1 L136.4,362.9 L136.9,362.7 L137.3,362.6 L137.8,362.4 L138.2,362.2 L138.7,362.0 L139.1,361.8 L139.6,361.7 L140.0,361.5 L140.5,361.3 L140.9,361.2 L141.4,361.0 L141.8,360.9 L142.3,360.7 L142.7,360.6 L143.2,360.4 L143.6,360.3 L144.0,360.2 L144.5,360.1 L144.9,360.0 L145.4,359.9 L145.8,359.7 L146.3,359.6 L146.7,359.5 L147.2,359.4 L147.6,359.3 L148.1,359.2 L148.5,359.1 L149.0,359.0 L149.4,358.9 L149.9,358.8 L150.3,358.7 L150.8,358.6 L151.2,358.5 L151.7,358.4 L152.1,358.3 L152.6,358.3 L153.0,358.2 L153.5,358.2 L153.9,358.1 L154.3,358.1 L154.8,358.1 L155.2,358.1 L155.7,358.1 L156.1,358.1 L156.6,358.1 L157.0,358.2 L157.5,358.2 L157.9,358.2 L158.4,358.3 L158.8,358.3 L159.3,358.4 L159.7,358.4 L160.2,358.5 L160.6,358.5 L161.1,358.6 L161.5,358.7 L162.0,358.7 L162.4,358.8 L162.9,358.8 L163.3,358.9 L163.8,359.0 L164.2,359.0 L164.7,359.1 L165.1,359.1 L165.5,359.2 L166.0,359.2 L166.4,359.3 L166.9,359.3 L167.3,359.3 L167.8,359.4 L168.2,359.4 L168.7,359.4 L169.1,359.4 L169.6,359.5 L170.0,359.5 L170.5,359.5 L170.9,359.6 L171.4,359.6 L171.8,359.6 L172.3,359.6 L172.7,359.7 L173.2,359.7 L173.6,359.7 L174.1,359.7 L174.5,359.8 L175.0,359.8 L175.4,359.8 L175.8,359.8 L176.3,359.9 L176.7,359.9 L177.2,359.9 L177.6,359.9 L178.1,359.9 L178.5,359.9 L179.0,360.0 L179.4,360.0 L179.9,360.0 L180.3,360.0 L180.8,360.0 L181.2,360.0 L181.7,360.0 L182.1,360.0 L182.6,360.0 L183.0,360.0 L183.5,360.0 L183.9,359.9 L184.4,359.9 L184.8,359.8 L185.3,359.8 L185.7,359.8 L186.1,359.7 L186.6,359.6 L187.0,359.6 L187.5,359.5 L187.9,359.5 L188.4,359.4 L188.8,359.3 L189.3,359.3 L189.7,359.2 L190.2,359.1 L190.6,359.1 L191.1,359.0 L191.5,358.9 L192.0,358.9 L192.4,358.8 L192.9,358.7 L193.3,358.7 L193.8,358.7 L194.2,358.6 L194.7,358.6 L195.1,358.5 L195.6,358.5 L196.0,358.5 L196.4,358.5 L196.9,358.5 L197.3,358.5 L197.8,358.5 L198.2,358.5 L198.7,358.5 L199.1,358.6 L199.6,358.6 L200.0,358.6 L200.5,358.7 L200.9,358.7 L201.4,358.7 L201.8,358.8 L202.3,358.8 L202.7,358.9 L203.2,358.9 L203.6,359.0 L204.1,359.0 L204.5,359.1 L205.0,359.1 L205.4,359.2 L205.9,359.3 L206.3,359.3 L206.8,359.4 L207.2,359.4 L207.6,359.5 L208.1,359.6 L208.5,359.6 L209.0,359.7 L209.4,359.7 L209.9,359.8 L210.3,359.9 L210.8,359.9 L211.2,360.0 L211.7,360.0 L212.1,360.1 L212.6,360.1 L213.0,360.2 L213.5,360.3 L213.9,360.3 L214.4,360.4 L214.8,360.5 L215.3,360.6 L215.7,360.7 L216.2,360.7 L216.6,360.8 L217.1,360.9 L217.5,361.0 L217.9,361.0 L218.4,361.1 L218.8,361.2 L219.3,361.2 L219.7,361.3 L220.2,361.3 L220.6,361.4 L221.1,361.4 L221.5,361.5 L222.0,361.5 L222.4,361.5 L222.9,361.5 L223.3,361.5 L223.8,361.5 L224.2,361.5 L224.7,361.5 L225.1,361.5 L225.6,361.5 L226.0,361.5 L226.5,361.5 L226.9,361.5 L227.4,361.5 L227.8,361.5 L228.2,361.5 L228.7,361.5 L229.1,361.5 L229.6,361.5 L230.0,361.5 L230.5,361.5 L230.9,361.5 L231.4,361.5 L231.8,361.5 L232.3,361.5 L232.7,361.5 L233.2,361.5 L233.6,361.5 L234.1,361.5 L234.5,361.5 L235.0,361.5 L235.4,361.5 L235.9,361.5 L236.3,361.5 L236.8,361.4 L237.2,361.4 L237.7,361.4 L238.1,361.3 L238.5,361.3 L239.0,361.3 L239.4,361.2 L239.9,361.2 L240.3,361.1 L240.8,361.1 L241.2,361.0 L241.7,360.9 L242.1,360.9 L242.6,360.8 L243.0,360.8 L243.5,360.7 L243.9,360.7 L244.4,360.6 L244.8,360.6 L245.3,360.5 L245.7,360.5 L246.2,360.5 L246.6,360.4 L247.1,360.4 L247.5,360.4 L248.0,360.4 L248.4,360.4 L248.9,360.4 L249.3,360.4 L249.7,360.4 L250.2,360.4 L250.6,360.4 L251.1,360.4 L251.5,360.5 L252.0,360.5 L252.4,360.5 L252.9,360.5 L253.3,360.5 L253.8,360.6 L254.2,360.6 L254.7,360.6 L255.1,360.6 L255.6,360.6 L256.0,360.7 L256.5,360.7 L256.9,360.7 L257.4,360.7 L257.8,360.8 L258.3,360.8 L258.7,360.8 L259.2,360.8 L259.6,360.9 L260.0,360.9 L260.5,360.9 L260.9,360.9 L261.4,360.9 L261.8,360.9 L262.3,361.0 L262.7,361.0 L263.2,361.0 L263.6,361.0 L264.1,361.0 L264.5,361.0 L265.0,361.0 L265.4,361.0 L265.9,361.0 L266.3,360.9 L266.8,360.8 L267.2,360.8 L267.7,360.6 L268.1,360.5 L268.6,360.4 L269.0,360.2 L269.5,360.1 L269.9,359.9 L270.3,359.7 L270.8,359.6 L271.2,359.4 L271.7,359.2 L272.1,359.0 L272.6,358.8 L273.0,358.7 L273.5,358.5 L273.9,358.3 L274.4,358.2 L274.8,358.1 L275.3,357.9 L275.7,357.8 L276.2,357.7 L276.6,357.5 L277.1,357.4 L277.5,357.2 L278.0,357.1 L278.4,356.9 L278.9,356.8 L279.3,356.7 L279.8,356.5 L280.2,356.4 L280.6,356.3 L281.1,356.1 L281.5,356.0 L282.0,355.9 L282.4,355.8 L282.9,355.7 L283.3,355.6 L283.8,355.5 L284.2,355.4 L284.7,355.3 L285.1,355.3 L285.6,355.2 L286.0,355.1 L286.5,355.1 L286.9,355.0 L287.4,354.9 L287.8,354.9 L288.3,354.8 L288.7,354.7 L289.2,354.7 L289.6,354.6 L290.1,354.6 L290.5,354.5 L291.0,354.4 L291.4,354.4 L291.8,354.3 L292.3,354.3 L292.7,354.2 L293.2,354.2 L293.6,354.2 L294.1,354.1 L294.5,354.1 L295.0,354.0 L295.4,354.0 L295.9,354.0 L296.3,354.0 L296.8,353.9 L297.2,353.9 L297.7,353.9 L298.1,353.9 L298.6,353.9 L299.0,353.9 L299.5,353.9 L299.9,353.9 L300.4,353.9 L300.8,354.0 L301.3,354.0 L301.7,354.1 L302.1,354.1 L302.6,354.2 L303.0,354.2 L303.5,354.3 L303.9,354.4 L304.4,354.5 L304.8,354.6 L305.3,354.7 L305.7,354.8 L306.2,354.9 L306.6,355.0 L307.1,355.1 L307.5,355.2 L308.0,355.4 L308.4,355.5 L308.9,355.6 L309.3,355.8 L309.8,355.9 L310.2,356.1 L310.7,356.2 L311.1,356.4 L311.6,356.5 L312.0,356.7" fill="none" stroke="#c82828" stroke-width="1.05" stroke-linejoin="round"/>
<path d="M133.3,365.5 L133.6,365.4 L134.0,365.3 L134.3,365.2 L134.6,365.1 L135.0,365.0 L135.3,364.9 L135.6,364.8 L135.9,364.7 L136.3,364.6 L136.6,364.5 L136.9,364.4 L137.3,364.3 L137.6,364.2 L137.9,364.1 L138.3,364.0 L138.6,363.9 L138.9,363.8 L139.2,363.7 L139.6,363.6 L139.9,363.5 L140.2,363.4 L140.6,363.3 L140.9,363.2 L141.2,363.1 L141.6,363.0 L141.9,362.9 L142.2,362.9 L142.5,362.8 L142.9,362.7 L143.2,362.6 L143.5,362.5 L143.9,362.4 L144.2,362.3 L144.5,362.3 L144.9,362.2 L145.2,362.1 L145.5,362.0 L145.9,361.9 L146.2,361.8 L146.5,361.7 L146.8,361.6 L147.2,361.5 L147.5,361.4 L147.8,361.4 L148.2,361.3 L148.5,361.2 L148.8,361.1 L149.2,361.0 L149.5,360.9 L149.8,360.9 L150.1,360.8 L150.5,360.7 L150.8,360.7 L151.1,360.7 L151.5,360.6 L151.8,360.6 L152.1,360.6 L152.5,360.6 L152.8,360.6 L153.1,360.6 L153.4,360.6 L153.8,360.7 L154.1,360.7 L154.4,360.7 L154.8,360.8 L155.1,360.8 L155.4,360.9 L155.8,361.0 L156.1,361.0 L156.4,361.1 L156.8,361.1 L157.1,361.2 L157.4,361.3 L157.7,361.4 L158.1,361.5 L158.4,361.5 L158.7,361.6 L159.1,361.7 L159.4,361.8 L159.7,361.9 L160.1,362.0 L160.4,362.1 L160.7,362.1 L161.0,362.2 L161.4,362.3 L161.7,362.4 L162.0,362.5 L162.4,362.6 L162.7,362.7 L163.0,362.7 L163.4,362.8 L163.7,362.9 L164.0,363.0 L164.4,363.1 L164.7,363.1 L165.0,363.2 L165.3,363.3 L165.7,363.4 L166.0,363.4 L166.3,363.5 L166.7,363.6 L167.0,363.7 L167.3,363.7 L167.7,363.8 L168.0,363.9 L168.3,364.0 L168.6,364.1 L169.0,364.1 L169.3,364.2 L169.6,364.3 L170.0,364.4 L170.3,364.5 L170.6,364.6 L171.0,364.6 L171.3,364.7 L171.6,364.8 L171.9,364.9 L172.3,365.0 L172.6,365.1 L172.9,365.1 L173.3,365.2 L173.6,365.3 L173.9,365.4 L174.3,365.5 L174.6,365.6 L174.9,365.7 L175.3,365.7 L175.6,365.8 L175.9,365.9 L176.2,366.0 L176.6,366.1 L176.9,366.2 L177.2,366.3 L177.6,366.3 L177.9,366.4 L178.2,366.5 L178.6,366.6 L178.9,366.7 L179.2,366.8 L179.5,366.9 L179.9,367.0 L180.2,367.1 L180.5,367.2 L180.9,367.3 L181.2,367.4 L181.5,367.5 L181.9,367.6 L182.2,367.7 L182.5,367.8 L182.8,367.9 L183.2,368.0 L183.5,368.1 L183.8,368.2 L184.2,368.3 L184.5,368.5 L184.8,368.6 L185.2,368.7 L185.5,368.8 L185.8,368.9 L186.2,369.0 L186.5,369.1 L186.8,369.1 L187.1,369.2 L187.5,369.3 L187.8,369.4 L188.1,369.5 L188.5,369.5 L188.8,369.6 L189.1,369.7 L189.5,369.7 L189.8,369.8 L190.1,369.8 L190.4,369.9 L190.8,369.9 L191.1,369.9 L191.4,370.0 L191.8,370.0 L192.1,370.1 L192.4,370.1 L192.8,370.1 L193.1,370.2 L193.4,370.2 L193.7,370.2 L194.1,370.3 L194.4,370.3 L194.7,370.3 L195.1,370.3 L195.4,370.4 L195.7,370.4 L196.1,370.4 L196.4,370.4 L196.7,370.4 L197.1,370.4 L197.4,370.4 L197.7,370.3 L198.0,370.3 L198.4,370.2 L198.7,370.1 L199.0,370.0 L199.4,370.0 L199.7,369.8 L200.0,369.7 L200.4,369.6 L200.7,369.5 L201.0,369.4 L201.3,369.2 L201.7,369.1 L202.0,369.0 L202.3,368.8 L202.7,368.7 L203.0,368.6 L203.3,368.4 L203.7,368.3 L204.0,368.2 L204.3,368.0 L204.7,367.9 L205.0,367.8 L205.3,367.7 L205.6,367.6 L206.0,367.6 L206.3,367.5 L206.6,367.4 L207.0,367.4 L207.3,367.4 L207.6,367.3 L208.0,367.3 L208.3,367.3 L208.6,367.2 L208.9,367.2 L209.3,367.2 L209.6,367.2 L209.9,367.1 L210.3,367.1 L210.6,367.1 L210.9,367.0 L211.3,367.0 L211.6,367.0 L211.9,367.0 L212.2,366.9 L212.6,366.9 L212.9,366.9 L213.2,366.9 L213.6,366.9 L213.9,366.8 L214.2,366.8 L214.6,366.8 L214.9,366.8 L215.2,366.8 L215.6,366.8 L215.9,366.8 L216.2,366.7 L216.5,366.7 L216.9,366.7 L217.2,366.7 L217.5,366.7 L217.9,366.7 L218.2,366.7 L218.5,366.7 L218.9,366.7 L219.2,366.7 L219.5,366.8 L219.8,366.8 L220.2,366.9 L220.5,367.0 L220.8,367.2 L221.2,367.3 L221.5,367.5 L221.8,367.7 L222.2,367.9 L222.5,368.0 L222.8,368.2 L223.1,368.4 L223.5,368.6 L223.8,368.8 L224.1,368.9 L224.5,369.1 L224.8,369.2 L225.1,369.3 L225.5,369.4 L225.8,369.5 L226.1,369.5 L226.5,369.5 L226.8,369.5 L227.1,369.5 L227.4,369.4 L227.8,369.4 L228.1,369.4 L228.4,369.3 L228.8,369.2 L229.1,369.2 L229.4,369.1 L229.8,369.0 L230.1,369.0 L230.4,368.9 L230.7,368.8 L231.1,368.7 L231.4,368.6 L231.7,368.6 L232.1,368.5 L232.4,368.4 L232.7,368.3 L233.1,368.2 L233.4,368.0 L233.7,367.9 L234.0,367.8 L234.4,367.6 L234.7,367.5 L235.0,367.3 L235.4,367.1 L235.7,366.9 L236.0,366.7 L236.4,366.6 L236.7,366.4 L237.0,366.2 L237.4,366.0 L237.7,365.8 L238.0,365.6 L238.3,365.4 L238.7,365.2 L239.0,365.0 L239.3,364.9 L239.7,364.7 L240.0,364.5 L240.3,364.4 L240.7,364.2 L241.0,364.1 L241.3,363.9 L241.6,363.8 L242.0,363.7 L242.3,363.6 L242.6,363.5 L243.0,363.4 L243.3,363.3 L243.6,363.2 L244.0,363.1 L244.3,363.1 L244.6,363.0 L245.0,362.9 L245.3,362.8 L245.6,362.7 L245.9,362.6 L246.3,362.6 L246.6,362.5 L246.9,362.4 L247.3,362.4 L247.6,362.3 L247.9,362.2 L248.3,362.2 L248.6,362.1 L248.9,362.1 L249.2,362.0 L249.6,362.0 L249.9,361.9 L250.2,361.9 L250.6,361.9 L250.9,361.8 L251.2,361.8 L251.6,361.8 L251.9,361.8 L252.2,361.8 L252.5,361.8 L252.9,361.8 L253.2,361.8 L253.5,361.9 L253.9,361.9 L254.2,361.9 L254.5,362.0 L254.9,362.0 L255.2,362.1 L255.5,362.2 L255.9,362.2 L256.2,362.3 L256.5,362.4 L256.8,362.4 L257.2,362.5 L257.5,362.6 L257.8,362.7 L258.2,362.8 L258.5,362.9 L258.8,363.0 L259.2,363.0 L259.5,363.2 L259.8,363.3 L260.1,363.5 L260.5,363.6 L260.8,363.9 L261.1,364.1 L261.5,364.3 L261.8,364.6 L262.1,364.8 L262.5,365.1 L262.8,365.4 L263.1,365.7 L263.4,366.0 L263.8,366.3 L264.1,366.7 L264.4,367.0 L264.8,367.4 L265.1,367.7" fill="none" stroke="#c82828" stroke-width="1.05" stroke-linejoin="round"/>
<path d="M174.4,364.4 L174.6,364.4 L174.8,364.5 L174.9,364.5 L175.1,364.5 L175.3,364.6 L175.5,364.6 L175.6,364.6 L175.8,364.7 L176.0,364.7 L176.2,364.7 L176.3,364.8 L176.5,364.8 L176.7,364.8 L176.9,364.9 L177.1,364.9 L177.2,364.9 L177.4,365.0 L177.6,365.0 L177.8,365.0 L177.9,365.1 L178.1,365.1 L178.3,365.2 L178.5,365.2 L178.6,365.2 L178.8,365.3 L179.0,365.3 L179.2,365.3 L179.4,365.4 L179.5,365.4 L179.7,365.5 L179.9,365.5 L180.1,365.5 L180.2,365.6 L180.4,365.6 L180.6,365.7 L180.8,365.7 L180.9,365.7 L181.1,365.8 L181.3,365.8 L181.5,365.9 L181.7,365.9 L181.8,366.0 L182.0,366.0 L182.2,366.0 L182.4,366.1 L182.5,366.1 L182.7,366.2 L182.9,366.2 L183.1,366.3 L183.2,366.3 L183.4,366.3 L183.6,366.4 L183.8,366.4 L184.0,366.5 L184.1,366.5 L184.3,366.6 L184.5,366.6 L184.7,366.7 L184.8,366.7 L185.0,366.7 L185.2,366.8 L185.4,366.8 L185.5,366.9 L185.7,366.9 L185.9,367.0 L186.1,367.0 L186.3,367.1 L186.4,367.1 L186.6,367.2 L186.8,367.2 L187.0,367.3 L187.1,367.3 L187.3,367.4 L187.5,367.5 L187.7,367.5 L187.8,367.6 L188.0,367.7 L188.2,367.7 L188.4,367.8 L188.6,367.9 L188.7,368.0 L188.9,368.0 L189.1,368.1 L189.3,368.2 L189.4,368.2 L189.6,368.3 L189.8,368.4 L190.0,368.5 L190.1,368.5 L190.3,368.6 L190.5,368.7 L190.7,368.8 L190.9,368.8 L191.0,368.9 L191.2,369.0 L191.4,369.1 L191.6,369.1 L191.7,369.2 L191.9,369.3 L192.1,369.3 L192.3,369.4 L192.4,369.5 L192.6,369.5 L192.8,369.6 L193.0,369.7 L193.2,369.7 L193.3,369.8 L193.5,369.8 L193.7,369.9 L193.9,370.0 L194.0,370.0 L194.2,370.1 L194.4,370.1 L194.6,370.1 L194.7,370.2 L194.9,370.2 L195.1,370.2 L195.3,370.3 L195.5,370.3 L195.6,370.3 L195.8,370.4 L196.0,370.4 L196.2,370.4 L196.3,370.4 L196.5,370.4 L196.7,370.4 L196.9,370.4 L197.0,370.4 L197.2,370.4 L197.4,370.3 L197.6,370.3 L197.8,370.3 L197.9,370.2 L198.1,370.2 L198.3,370.1 L198.5,370.1 L198.6,370.0 L198.8,369.9 L199.0,369.9 L199.2,369.8 L199.3,369.7 L199.5,369.6 L199.7,369.5 L199.9,369.5 L200.1,369.4 L200.2,369.3 L200.4,369.2 L200.6,369.1 L200.8,369.0 L200.9,368.9 L201.1,368.8 L201.3,368.7 L201.5,368.6 L201.6,368.5 L201.8,368.4 L202.0,368.3 L202.2,368.2 L202.4,368.1 L202.5,368.1 L202.7,368.0 L202.9,367.9 L203.1,367.8 L203.2,367.7 L203.4,367.7 L203.6,367.6 L203.8,367.5 L203.9,367.5 L204.1,367.4 L204.3,367.4 L204.5,367.3 L204.7,367.3 L204.8,367.2 L205.0,367.2 L205.2,367.2 L205.4,367.1 L205.5,367.1 L205.7,367.1 L205.9,367.1 L206.1,367.0 L206.2,367.0 L206.4,367.0 L206.6,367.0 L206.8,366.9 L207.0,366.9 L207.1,366.9 L207.3,366.9 L207.5,366.9 L207.7,366.8 L207.8,366.8 L208.0,366.8 L208.2,366.8 L208.4,366.7 L208.5,366.7 L208.7,366.7 L208.9,366.7 L209.1,366.7 L209.3,366.6 L209.4,366.6 L209.6,366.6 L209.8,366.6 L210.0,366.6 L210.1,366.6 L210.3,366.5 L210.5,366.5 L210.7,366.5 L210.9,366.5 L211.0,366.5 L211.2,366.5 L211.4,366.4 L211.6,366.4 L211.7,366.4 L211.9,366.4 L212.1,366.4 L212.3,366.4 L212.4,366.4 L212.6,366.4 L212.8,366.4 L213.0,366.3 L213.2,366.3 L213.3,366.3 L213.5,366.3 L213.7,366.3 L213.9,366.3 L214.0,366.3 L214.2,366.3 L214.4,366.3 L214.6,366.3 L214.7,366.3 L214.9,366.3 L215.1,366.3 L215.3,366.3 L215.5,366.3 L215.6,366.3 L215.8,366.4 L216.0,366.4 L216.2,366.4 L216.3,366.4 L216.5,366.5 L216.7,366.5 L216.9,366.6 L217.0,366.6 L217.2,366.7 L217.4,366.7 L217.6,366.8 L217.8,366.9 L217.9,366.9 L218.1,367.0 L218.3,367.1 L218.5,367.1 L218.6,367.2 L218.8,367.3 L219.0,367.4 L219.2,367.4 L219.3,367.5 L219.5,367.6 L219.7,367.7 L219.9,367.8 L220.1,367.9 L220.2,367.9 L220.4,368.0 L220.6,368.1 L220.8,368.2 L220.9,368.3 L221.1,368.4 L221.3,368.5 L221.5,368.5 L221.6,368.6 L221.8,368.7 L222.0,368.8 L222.2,368.9 L222.4,369.0 L222.5,369.0 L222.7,369.1 L222.9,369.2 L223.1,369.3 L223.2,369.3 L223.4,369.4 L223.6,369.5 L223.8,369.5 L223.9,369.6 L224.1,369.6 L224.3,369.7 L224.5,369.7 L224.7,369.8 L224.8,369.8 L225.0,369.9 L225.2,369.9 L225.4,369.9 L225.5,370.0 L225.7,370.0 L225.9,370.0 L226.1,370.0 L226.2,370.0 L226.4,370.0 L226.6,370.0 L226.8,370.0 L227.0,370.0 L227.1,370.0 L227.3,369.9 L227.5,369.9 L227.7,369.9 L227.8,369.8 L228.0,369.8 L228.2,369.8 L228.4,369.7 L228.5,369.7 L228.7,369.6 L228.9,369.6 L229.1,369.5 L229.3,369.5 L229.4,369.4 L229.6,369.3 L229.8,369.3 L230.0,369.2 L230.1,369.1 L230.3,369.1 L230.5,369.0 L230.7,368.9 L230.8,368.9 L231.0,368.8 L231.2,368.7 L231.4,368.6 L231.6,368.6 L231.7,368.5 L231.9,368.4 L232.1,368.3 L232.3,368.2 L232.4,368.1 L232.6,368.1 L232.8,368.0 L233.0,367.9 L233.1,367.8 L233.3,367.7 L233.5,367.7 L233.7,367.6 L233.9,367.5 L234.0,367.4 L234.2,367.3 L234.4,367.3 L234.6,367.2 L234.7,367.1 L234.9,367.0 L235.1,367.0 L235.3,366.9 L235.4,366.8 L235.6,366.7 L235.8,366.7 L236.0,366.6 L236.2,366.5 L236.3,366.4 L236.5,366.4 L236.7,366.3 L236.9,366.2 L237.0,366.1 L237.2,366.1 L237.4,366.0 L237.6,365.9 L237.7,365.8 L237.9,365.7 L238.1,365.6 L238.3,365.6 L238.5,365.5 L238.6,365.4 L238.8,365.3 L239.0,365.2 L239.2,365.1 L239.3,365.0 L239.5,365.0 L239.7,364.9 L239.9,364.8 L240.0,364.7 L240.2,364.6 L240.4,364.5 L240.6,364.4 L240.8,364.3 L240.9,364.2 L241.1,364.2 L241.3,364.1 L241.5,364.0 L241.6,363.9 L241.8,363.8 L242.0,363.7 L242.2,363.6 L242.3,363.5 L242.5,363.4 L242.7,363.3 L242.9,363.2 L243.1,363.1 L243.2,363.0 L243.4,362.9 L243.6,362.8 L243.8,362.7 L243.9,362.6 L244.1,362.5 L244.3,362.4 L244.5,362.3 L244.6,362.2 L244.8,362.1 L245.0,362.0" fill="none" stroke="#c82828" stroke-width="1.05" stroke-linejoin="round"/>
<rect x="72.00" y="268.30" width="240.40" height="218.20" fill="none" stroke="#3a3a3a" stroke-width="1.3"/>
<rect x="133.00" y="268.30" width="179.40" height="112.70" fill="none" stroke="#3a3a3a" stroke-width="1.2"/>
<line x1="72.00" y1="486.20" x2="75.50" y2="486.20" stroke="#3a3a3a" stroke-width="1.0"/>
<line x1="72.00" y1="417.30" x2="75.50" y2="417.30" stroke="#3a3a3a" stroke-width="1.0"/>
<line x1="72.00" y1="348.40" x2="75.50" y2="348.40" stroke="#3a3a3a" stroke-width="1.0"/>
<line x1="72.00" y1="279.50" x2="75.50" y2="279.50" stroke="#3a3a3a" stroke-width="1.0"/>
<line x1="72.00" y1="451.70" x2="74.00" y2="451.70" stroke="#3a3a3a" stroke-width="1.0"/>
<line x1="72.00" y1="382.80" x2="74.00" y2="382.80" stroke="#3a3a3a" stroke-width="1.0"/>
<line x1="72.00" y1="313.90" x2="74.00" y2="313.90" stroke="#3a3a3a" stroke-width="1.0"/>
<line x1="71.20" y1="486.50" x2="71.20" y2="483.00" stroke="#3a3a3a" stroke-width="1.0"/>
<line x1="148.00" y1="486.50" x2="148.00" y2="483.00" stroke="#3a3a3a" stroke-width="1.0"/>
<line x1="224.80" y1="486.50" x2="224.80" y2="483.00" stroke="#3a3a3a" stroke-width="1.0"/>
<line x1="301.60" y1="486.50" x2="301.60" y2="483.00" stroke="#3a3a3a" stroke-width="1.0"/>
<line x1="109.60" y1="486.50" x2="109.60" y2="484.50" stroke="#3a3a3a" stroke-width="1.0"/>
<line x1="186.40" y1="486.50" x2="186.40" y2="484.50" stroke="#3a3a3a" stroke-width="1.0"/>
<line x1="263.20" y1="486.50" x2="263.20" y2="484.50" stroke="#3a3a3a" stroke-width="1.0"/>
<text transform="translate(68.80,489.89) scale(1.04,1)" font-family="Liberation Sans" font-size="12.3" font-weight="normal" fill="#111" stroke="#111" stroke-width="0.25" text-anchor="end">0.0</text>
<text transform="translate(68.80,420.99) scale(1.04,1)" font-family="Liberation Sans" font-size="12.3" font-weight="normal" fill="#111" stroke="#111" stroke-width="0.25" text-anchor="end">-70.0k</text>
<text transform="translate(68.80,352.09) scale(1.04,1)" font-family="Liberation Sans" font-size="12.3" font-weight="normal" fill="#111" stroke="#111" stroke-width="0.25" text-anchor="end">-140.0k</text>
<text transform="translate(68.80,283.19) scale(1.04,1)" font-family="Liberation Sans" font-size="12.3" font-weight="normal" fill="#111" stroke="#111" stroke-width="0.25" text-anchor="end">-210.0k</text>
<text transform="translate(71.20,498.50) scale(1.04,1)" font-family="Liberation Sans" font-size="12.3" font-weight="normal" fill="#111" stroke="#111" stroke-width="0.25" text-anchor="middle">0.0</text>
<text transform="translate(148.00,498.50) scale(1.04,1)" font-family="Liberation Sans" font-size="12.3" font-weight="normal" fill="#111" stroke="#111" stroke-width="0.25" text-anchor="middle">70.0k</text>
<text transform="translate(224.80,498.50) scale(1.04,1)" font-family="Liberation Sans" font-size="12.3" font-weight="normal" fill="#111" stroke="#111" stroke-width="0.25" text-anchor="middle">140.0k</text>
<text transform="translate(301.60,498.50) scale(1.04,1)" font-family="Liberation Sans" font-size="12.3" font-weight="normal" fill="#111" stroke="#111" stroke-width="0.25" text-anchor="middle">210.0k</text>
<text transform="translate(191.60,520.00) scale(1.04,1)" font-family="Liberation Sans" font-size="12.3" font-weight="normal" fill="#111" stroke="#111" stroke-width="0.25" text-anchor="middle">Z′ (Ω cm)</text>
<text transform="translate(14.21,390.40) rotate(-90) scale(1.04,1)" font-family="Liberation Sans" font-size="12.3" font-weight="normal" fill="#111" stroke="#111" stroke-width="0.25" text-anchor="middle">Z<tspan dx="1.6">″</tspan>(Ω cm)</text>
<line x1="133.00" y1="381.00" x2="136.50" y2="381.00" stroke="#3a3a3a" stroke-width="1.0"/>
<line x1="133.00" y1="351.50" x2="136.50" y2="351.50" stroke="#3a3a3a" stroke-width="1.0"/>
<line x1="133.00" y1="322.00" x2="136.50" y2="322.00" stroke="#3a3a3a" stroke-width="1.0"/>
<line x1="133.00" y1="292.00" x2="136.50" y2="292.00" stroke="#3a3a3a" stroke-width="1.0"/>
<line x1="133.00" y1="366.20" x2="135.00" y2="366.20" stroke="#3a3a3a" stroke-width="1.0"/>
<line x1="133.00" y1="336.70" x2="135.00" y2="336.70" stroke="#3a3a3a" stroke-width="1.0"/>
<line x1="133.00" y1="307.00" x2="135.00" y2="307.00" stroke="#3a3a3a" stroke-width="1.0"/>
<line x1="133.00" y1="277.20" x2="135.00" y2="277.20" stroke="#3a3a3a" stroke-width="1.0"/>
<line x1="165.20" y1="381.00" x2="165.20" y2="377.50" stroke="#3a3a3a" stroke-width="1.0"/>
<line x1="214.30" y1="381.00" x2="214.30" y2="377.50" stroke="#3a3a3a" stroke-width="1.0"/>
<line x1="263.30" y1="381.00" x2="263.30" y2="377.50" stroke="#3a3a3a" stroke-width="1.0"/>
<line x1="312.40" y1="381.00" x2="312.40" y2="377.50" stroke="#3a3a3a" stroke-width="1.0"/>
<line x1="140.60" y1="381.00" x2="140.60" y2="379.00" stroke="#3a3a3a" stroke-width="1.0"/>
<line x1="189.70" y1="381.00" x2="189.70" y2="379.00" stroke="#3a3a3a" stroke-width="1.0"/>
<line x1="238.80" y1="381.00" x2="238.80" y2="379.00" stroke="#3a3a3a" stroke-width="1.0"/>
<line x1="287.90" y1="381.00" x2="287.90" y2="379.00" stroke="#3a3a3a" stroke-width="1.0"/>
<text transform="translate(130.20,384.69) scale(1.04,1)" font-family="Liberation Sans" font-size="12.3" font-weight="normal" fill="#111" stroke="#111" stroke-width="0.25" text-anchor="end">0</text>
<text transform="translate(130.20,355.19) scale(1.04,1)" font-family="Liberation Sans" font-size="12.3" font-weight="normal" fill="#111" stroke="#111" stroke-width="0.25" text-anchor="end">-10k</text>
<text transform="translate(130.20,325.69) scale(1.04,1)" font-family="Liberation Sans" font-size="12.3" font-weight="normal" fill="#111" stroke="#111" stroke-width="0.25" text-anchor="end">-20k</text>
<text transform="translate(130.20,295.69) scale(1.04,1)" font-family="Liberation Sans" font-size="12.3" font-weight="normal" fill="#111" stroke="#111" stroke-width="0.25" text-anchor="end">-30k</text>
<text transform="translate(165.20,393.50) scale(1.04,1)" font-family="Liberation Sans" font-size="12.3" font-weight="normal" fill="#111" stroke="#111" stroke-width="0.25" text-anchor="middle">20.0k</text>
<text transform="translate(214.30,393.50) scale(1.04,1)" font-family="Liberation Sans" font-size="12.3" font-weight="normal" fill="#111" stroke="#111" stroke-width="0.25" text-anchor="middle">40.0k</text>
<text transform="translate(263.30,393.50) scale(1.04,1)" font-family="Liberation Sans" font-size="12.3" font-weight="normal" fill="#111" stroke="#111" stroke-width="0.25" text-anchor="middle">60.0k</text>
<text transform="translate(310.50,393.50) scale(1.04,1)" font-family="Liberation Sans" font-size="12.3" font-weight="normal" fill="#111" stroke="#111" stroke-width="0.25" text-anchor="middle">80.0k</text>
<text transform="translate(235.50,411.50) scale(1.04,1)" font-family="Liberation Sans" font-size="12.3" font-weight="normal" fill="#111" stroke="#111" stroke-width="0.25" text-anchor="middle">Z′ (Ω cm)</text>
<text transform="translate(97.41,310.00) rotate(-90) scale(1.04,1)" font-family="Liberation Sans" font-size="12.3" font-weight="normal" fill="#111" stroke="#111" stroke-width="0.25" text-anchor="middle">Z<tspan dx="1.6">″</tspan>(Ω cm)</text>
<text transform="translate(301.00,287.20)" font-family="Liberation Sans" font-size="14.4" font-weight="normal" fill="#111" stroke="#111" stroke-width="0.25" text-anchor="middle">(b)</text>
<text transform="translate(142.80,344.80) scale(1.04,1)" font-family="Liberation Sans" font-size="13.6" font-weight="normal" fill="#111" stroke="#111" stroke-width="0.25" text-anchor="start">1st</text>
<text transform="translate(202.80,356.70) scale(1.04,1)" font-family="Liberation Sans" font-size="13.6" font-weight="normal" fill="#111" stroke="#111" stroke-width="0.25" text-anchor="start">2rd</text>
<text transform="translate(237.80,355.00) scale(1.04,1)" font-family="Liberation Sans" font-size="13.6" font-weight="normal" fill="#111" stroke="#111" stroke-width="0.25" text-anchor="start">3rd</text>
<text transform="translate(284.40,348.30) scale(1.04,1)" font-family="Liberation Sans" font-size="13.6" font-weight="normal" fill="#111" stroke="#111" stroke-width="0.25" text-anchor="start">4th</text>
<circle cx="89.6" cy="380.4" r="3.3" fill="#fff" stroke="#000" stroke-width="1.25"/>
<rect x="86.3" y="393.5" width="6.6" height="6.6" fill="#000"/>
<path d="M89.6,409.8 L93.9,417.0 L85.3,417.0Z" fill="#fff" stroke="#000" stroke-width="1.25" stroke-linejoin="miter"/>
<text transform="translate(102.70,384.03) scale(1.04,1)" font-family="Liberation Sans" font-size="12.3" font-weight="normal" fill="#111" stroke="#111" stroke-width="0.25" text-anchor="start">O<tspan font-size="11.1">2</tspan></text>
<text transform="translate(102.70,400.43) scale(1.04,1)" font-family="Liberation Sans" font-size="12.3" font-weight="normal" fill="#111" stroke="#111" stroke-width="0.25" text-anchor="start">air</text>
<text transform="translate(102.70,417.23) scale(1.04,1)" font-family="Liberation Sans" font-size="12.3" font-weight="normal" fill="#111" stroke="#111" stroke-width="0.25" text-anchor="start">N<tspan font-size="11.1">2</tspan></text>
<line x1="80.50" y1="430.40" x2="99.20" y2="430.40" stroke="#e03838" stroke-width="1.3"/>
<text transform="translate(102.70,434.03) scale(1.04,1)" font-family="Liberation Sans" font-size="12.3" font-weight="normal" fill="#111" stroke="#111" stroke-width="0.25" text-anchor="start">fitting</text>
<text transform="translate(79.80,470.50)" font-family="Liberation Serif" font-size="14.5" font-weight="normal" fill="#111" stroke="#111" stroke-width="0.25" text-anchor="start">CP</text>
<text transform="translate(133.10,455.00)" font-family="Liberation Serif" font-size="14.5" font-weight="normal" fill="#111" stroke="#111" stroke-width="0.25" text-anchor="start">PB</text>
<text transform="translate(216.30,449.20)" font-family="Liberation Serif" font-size="14.5" font-weight="normal" fill="#111" stroke="#111" stroke-width="0.25" text-anchor="start">GB</text>
<text transform="translate(281.70,436.50)" font-family="Liberation Serif" font-size="14.5" font-weight="bold" fill="#111" text-anchor="start">W</text>
<text transform="translate(158.90,430.00)" font-family="Liberation Serif" font-size="14.5" font-weight="normal" fill="#2020c8" stroke="#2020c8" stroke-width="0.25" text-anchor="start">400 °C</text>
<g fill="#fff" stroke="#000" stroke-width="0.8"><circle cx="75.8" cy="728.5" r="2.12"/><circle cx="77.9" cy="730.0" r="2.12"/><circle cx="80.0" cy="731.5" r="2.12"/><circle cx="82.2" cy="733.0" r="2.12"/><circle cx="84.3" cy="734.5" r="2.12"/><circle cx="86.4" cy="736.0" r="2.12"/><circle cx="88.5" cy="737.5" r="2.12"/><circle cx="90.8" cy="738.8" r="2.12"/><circle cx="93.1" cy="740.0" r="2.12"/><circle cx="95.6" cy="740.6" r="2.12"/><circle cx="98.2" cy="741.0" r="2.12"/><circle cx="100.8" cy="741.1" r="2.12"/><circle cx="103.4" cy="741.2" r="2.12"/><circle cx="106.0" cy="741.3" r="2.12"/><circle cx="108.6" cy="741.4" r="2.12"/><circle cx="111.2" cy="741.4" r="2.12"/><circle cx="113.8" cy="741.5" r="2.12"/><circle cx="116.4" cy="741.6" r="2.12"/><circle cx="119.0" cy="741.6" r="2.12"/><circle cx="121.5" cy="741.3" r="2.12"/><circle cx="124.1" cy="740.9" r="2.12"/><circle cx="126.7" cy="740.5" r="2.12"/><circle cx="129.3" cy="740.7" r="2.12"/><circle cx="131.6" cy="741.8" r="2.12"/></g>
<g fill="#000" stroke="none"><rect x="73.6" y="722.5" width="4.3" height="4.3"/><rect x="76.0" y="722.9" width="4.3" height="4.3"/><rect x="78.4" y="723.2" width="4.3" height="4.3"/><rect x="80.7" y="723.7" width="4.3" height="4.3"/><rect x="83.1" y="724.3" width="4.3" height="4.3"/><rect x="85.4" y="724.9" width="4.3" height="4.3"/><rect x="87.7" y="725.6" width="4.3" height="4.3"/><rect x="89.9" y="726.4" width="4.3" height="4.3"/><rect x="92.2" y="727.3" width="4.3" height="4.3"/><rect x="94.4" y="728.2" width="4.3" height="4.3"/><rect x="96.6" y="729.2" width="4.3" height="4.3"/><rect x="98.8" y="730.2" width="4.3" height="4.3"/><rect x="100.9" y="731.3" width="4.3" height="4.3"/><rect x="103.0" y="732.4" width="4.3" height="4.3"/><rect x="105.2" y="733.5" width="4.3" height="4.3"/><rect x="107.3" y="734.5" width="4.3" height="4.3"/><rect x="109.5" y="735.5" width="4.3" height="4.3"/><rect x="111.7" y="736.5" width="4.3" height="4.3"/><rect x="114.0" y="737.3" width="4.3" height="4.3"/><rect x="116.3" y="737.5" width="4.3" height="4.3"/><rect x="118.7" y="737.5" width="4.3" height="4.3"/><rect x="121.1" y="737.3" width="4.3" height="4.3"/><rect x="123.5" y="737.1" width="4.3" height="4.3"/><rect x="125.9" y="736.9" width="4.3" height="4.3"/><rect x="128.3" y="736.8" width="4.3" height="4.3"/><rect x="130.7" y="736.6" width="4.3" height="4.3"/><rect x="133.1" y="736.5" width="4.3" height="4.3"/><rect x="135.5" y="736.4" width="4.3" height="4.3"/><rect x="137.9" y="736.7" width="4.3" height="4.3"/><rect x="140.2" y="737.3" width="4.3" height="4.3"/><rect x="142.5" y="738.1" width="4.3" height="4.3"/><rect x="144.8" y="738.9" width="4.3" height="4.3"/><rect x="146.9" y="739.8" width="4.3" height="4.3"/></g>
<g fill="#fff" stroke="#000" stroke-width="0.9"><path d="M76.7,717.9 L79.8,723.0 L73.6,723.0Z"/><path d="M80.9,716.9 L84.0,722.1 L77.8,722.1Z"/><path d="M85.2,716.4 L88.3,721.5 L82.1,721.5Z"/><path d="M89.5,716.2 L92.6,721.3 L86.5,721.3Z"/><path d="M93.9,716.0 L97.0,721.2 L90.8,721.2Z"/><path d="M98.2,716.0 L101.3,721.1 L95.2,721.1Z"/><path d="M102.6,716.1 L105.7,721.3 L99.5,721.3Z"/><path d="M107.0,716.7 L110.0,721.8 L103.9,721.8Z"/><path d="M111.3,717.3 L114.4,722.5 L108.2,722.5Z"/><path d="M115.7,717.9 L118.7,723.0 L112.6,723.0Z"/><path d="M120.0,718.5 L123.1,723.7 L117.0,723.7Z"/><path d="M124.4,719.2 L127.5,724.4 L121.3,724.4Z"/><path d="M128.8,720.0 L131.8,725.2 L125.7,725.2Z"/><path d="M133.1,721.0 L136.2,726.1 L130.0,726.1Z"/><path d="M137.4,722.1 L140.5,727.2 L134.4,727.2Z"/><path d="M141.7,723.2 L144.8,728.4 L138.7,728.4Z"/><path d="M146.0,724.6 L149.1,729.7 L142.9,729.7Z"/><path d="M150.2,726.1 L153.3,731.3 L147.2,731.3Z"/><path d="M154.5,727.7 L157.5,732.8 L151.4,732.8Z"/><path d="M158.7,729.1 L161.8,734.3 L155.6,734.3Z"/><path d="M163.0,730.6 L166.1,735.8 L159.9,735.8Z"/><path d="M167.3,731.9 L170.4,737.0 L164.3,737.0Z"/><path d="M171.8,732.5 L174.9,737.7 L168.8,737.7Z"/><path d="M176.4,732.9 L179.5,738.0 L173.3,738.0Z"/><path d="M180.9,733.2 L184.0,738.3 L177.9,738.3Z"/><path d="M185.5,733.3 L188.6,738.4 L182.4,738.4Z"/><path d="M190.0,732.5 L193.1,737.6 L186.9,737.6Z"/><path d="M194.3,730.8 L197.4,736.0 L191.2,736.0Z"/><path d="M198.8,728.7 L201.9,733.8 L195.7,733.8Z"/><path d="M203.2,725.7 L206.3,730.8 L200.1,730.8Z"/><path d="M207.9,722.4 L211.0,727.5 L204.8,727.5Z"/><path d="M213.1,719.2 L216.2,724.3 L210.0,724.3Z"/><path d="M218.7,715.8 L221.8,720.9 L215.6,720.9Z"/><path d="M224.7,712.1 L227.8,717.2 L221.6,717.2Z"/><path d="M230.9,707.7 L234.0,712.9 L227.8,712.9Z"/><path d="M237.2,702.8 L240.3,707.9 L234.1,707.9Z"/><path d="M243.5,697.5 L246.5,702.7 L240.4,702.7Z"/><path d="M249.8,692.1 L252.9,697.3 L246.7,697.3Z"/><path d="M256.2,686.6 L259.3,691.8 L253.2,691.8Z"/><path d="M262.7,680.9 L265.8,686.0 L259.6,686.0Z"/><path d="M269.3,675.1 L272.4,680.2 L266.2,680.2Z"/><path d="M276.4,669.5 L279.4,674.7 L273.3,674.7Z"/><path d="M283.5,663.8 L286.6,669.0 L280.4,669.0Z"/><path d="M290.6,657.9 L293.7,663.0 L287.6,663.0Z"/><path d="M297.8,651.6 L300.8,656.8 L294.7,656.8Z"/></g>
<path d="M76.7,720.8 L77.3,720.7 L77.9,720.5 L78.5,720.4 L79.1,720.3 L79.6,720.1 L80.2,720.0 L80.8,719.9 L81.4,719.8 L82.0,719.7 L82.6,719.6 L83.2,719.5 L83.8,719.4 L84.4,719.4 L85.0,719.3 L85.5,719.3 L86.1,719.3 L86.7,719.2 L87.3,719.2 L87.9,719.2 L88.5,719.1 L89.1,719.1 L89.7,719.1 L90.3,719.1 L90.9,719.1 L91.4,719.0 L92.0,719.0 L92.6,719.0 L93.2,719.0 L93.8,719.0 L94.4,719.0 L95.0,718.9 L95.6,718.9 L96.2,718.9 L96.8,718.9 L97.3,718.9 L97.9,718.9 L98.5,718.9 L99.1,718.9 L99.7,718.9 L100.3,718.9 L100.9,719.0 L101.5,719.0 L102.1,719.0 L102.6,719.1 L103.2,719.1 L103.8,719.2 L104.4,719.3 L105.0,719.3 L105.6,719.4 L106.2,719.5 L106.8,719.6 L107.4,719.7 L108.0,719.8 L108.5,719.8 L109.1,719.9 L109.7,720.0 L110.3,720.1 L110.9,720.2 L111.5,720.3 L112.1,720.4 L112.7,720.4 L113.3,720.5 L113.9,720.6 L114.4,720.7 L115.0,720.7 L115.6,720.8 L116.2,720.9 L116.8,721.0 L117.4,721.1 L118.0,721.2 L118.6,721.3 L119.2,721.3 L119.7,721.4 L120.3,721.5 L120.9,721.6 L121.5,721.7 L122.1,721.8 L122.7,721.9 L123.3,722.0 L123.9,722.1 L124.5,722.2 L125.1,722.3 L125.6,722.4 L126.2,722.5 L126.8,722.6 L127.4,722.7 L128.0,722.8 L128.6,723.0 L129.2,723.1 L129.8,723.2 L130.4,723.3 L131.0,723.4 L131.5,723.6 L132.1,723.7 L132.7,723.8 L133.3,724.0 L133.9,724.1 L134.5,724.3 L135.1,724.4 L135.7,724.5 L136.3,724.7 L136.9,724.8 L137.4,725.0 L138.0,725.2 L138.6,725.3 L139.2,725.5 L139.8,725.6 L140.4,725.8 L141.0,726.0 L141.6,726.1 L142.2,726.3 L142.7,726.5 L143.3,726.6 L143.9,726.8 L144.5,727.0 L145.1,727.2 L145.7,727.4 L146.3,727.6 L146.9,727.8 L147.5,728.0 L148.1,728.2 L148.6,728.5 L149.2,728.7 L149.8,728.9 L150.4,729.1 L151.0,729.4 L151.6,729.6 L152.2,729.8 L152.8,730.0 L153.4,730.2 L154.0,730.5 L154.5,730.7 L155.1,730.9 L155.7,731.1 L156.3,731.3 L156.9,731.5 L157.5,731.7 L158.1,731.9 L158.7,732.1 L159.3,732.3 L159.9,732.5 L160.4,732.7 L161.0,732.9 L161.6,733.1 L162.2,733.3 L162.8,733.5 L163.4,733.7 L164.0,733.9 L164.6,734.1 L165.2,734.3 L165.7,734.4 L166.3,734.6 L166.9,734.7 L167.5,734.9 L168.1,735.0 L168.7,735.1 L169.3,735.2 L169.9,735.3 L170.5,735.3 L171.1,735.4 L171.6,735.4 L172.2,735.5 L172.8,735.5 L173.4,735.6 L174.0,735.7 L174.6,735.7 L175.2,735.7 L175.8,735.8 L176.4,735.8 L177.0,735.9 L177.5,735.9 L178.1,736.0 L178.7,736.0 L179.3,736.0 L179.9,736.1 L180.5,736.1 L181.1,736.1 L181.7,736.1 L182.3,736.1 L182.9,736.2 L183.4,736.2 L184.0,736.2 L184.6,736.2 L185.2,736.2 L185.8,736.2 L186.4,736.2 L187.0,736.1 L187.6,736.0 L188.2,735.9 L188.7,735.8 L189.3,735.6 L189.9,735.4 L190.5,735.2 L191.1,735.0 L191.7,734.8 L192.3,734.6 L192.9,734.3 L193.5,734.1 L194.1,733.9 L194.6,733.6 L195.2,733.4 L195.8,733.1 L196.4,732.9 L197.0,732.6 L197.6,732.3 L198.2,731.9 L198.8,731.6 L199.4,731.2 L200.0,730.9 L200.5,730.5 L201.1,730.1 L201.7,729.7 L202.3,729.3 L202.9,728.8 L203.5,728.4 L204.1,728.0 L204.7,727.6 L205.3,727.1 L205.8,726.7 L206.4,726.3 L207.0,725.9 L207.6,725.5 L208.2,725.1 L208.8,724.7 L209.4,724.3 L210.0,724.0 L210.6,723.6 L211.2,723.3 L211.7,722.9 L212.3,722.5 L212.9,722.2 L213.5,721.8 L214.1,721.5 L214.7,721.1 L215.3,720.8 L215.9,720.4 L216.5,720.1 L217.1,719.7 L217.6,719.4 L218.2,719.0 L218.8,718.6 L219.4,718.3 L220.0,717.9 L220.6,717.6 L221.2,717.2 L221.8,716.9 L222.4,716.5 L223.0,716.1 L223.5,715.8 L224.1,715.4 L224.7,715.0 L225.3,714.7 L225.9,714.3 L226.5,713.9 L227.1,713.5 L227.7,713.1 L228.3,712.6 L228.8,712.2 L229.4,711.8 L230.0,711.3 L230.6,710.9 L231.2,710.4 L231.8,710.0 L232.4,709.5 L233.0,709.0 L233.6,708.6 L234.2,708.1 L234.7,707.6 L235.3,707.2 L235.9,706.7 L236.5,706.2 L237.1,705.8 L237.7,705.3 L238.3,704.8 L238.9,704.3 L239.5,703.8 L240.1,703.3 L240.6,702.8 L241.2,702.3 L241.8,701.8 L242.4,701.3 L243.0,700.8 L243.6,700.3 L244.2,699.8 L244.8,699.4 L245.4,698.9 L246.0,698.4 L246.5,697.9 L247.1,697.4 L247.7,696.9 L248.3,696.4 L248.9,695.9 L249.5,695.4 L250.1,694.9 L250.7,694.4 L251.3,693.9 L251.8,693.3 L252.4,692.8 L253.0,692.3 L253.6,691.8 L254.2,691.3 L254.8,690.8 L255.4,690.3 L256.0,689.8 L256.6,689.3 L257.2,688.8 L257.7,688.2 L258.3,687.7 L258.9,687.2 L259.5,686.7 L260.1,686.2 L260.7,685.6 L261.3,685.1 L261.9,684.6 L262.5,684.0 L263.1,683.5 L263.6,683.0 L264.2,682.4 L264.8,681.9 L265.4,681.4 L266.0,680.8 L266.6,680.3 L267.2,679.8 L267.8,679.3 L268.4,678.8 L269.0,678.3 L269.5,677.8 L270.1,677.3 L270.7,676.9 L271.3,676.4 L271.9,675.9 L272.5,675.5 L273.1,675.0 L273.7,674.6 L274.3,674.1 L274.8,673.6 L275.4,673.2 L276.0,672.7 L276.6,672.3 L277.2,671.8 L277.8,671.3 L278.4,670.9 L279.0,670.4 L279.6,669.9 L280.2,669.4 L280.7,669.0 L281.3,668.5 L281.9,668.0 L282.5,667.5 L283.1,667.1 L283.7,666.6 L284.3,666.1 L284.9,665.6 L285.5,665.2 L286.1,664.7 L286.6,664.2 L287.2,663.7 L287.8,663.2 L288.4,662.7 L289.0,662.2 L289.6,661.7 L290.2,661.2 L290.8,660.7 L291.4,660.2 L291.9,659.7 L292.5,659.2 L293.1,658.7 L293.7,658.2 L294.3,657.7 L294.9,657.1 L295.5,656.6 L296.1,656.1 L296.7,655.6 L297.3,655.0 L297.8,654.5 L298.4,654.0 L299.0,653.4 L299.6,652.9 L300.2,652.3 L300.8,651.7 L301.4,651.2 L302.0,650.6 L302.6,650.0 L303.2,649.4 L303.7,648.7 L304.3,648.1 L304.9,647.6 L305.5,647.0 L306.1,646.4 L306.7,645.8 L307.3,645.3 L307.9,644.7 L308.5,644.2 L309.1,643.6 L309.6,643.1 L310.2,642.6 L310.8,642.0 L311.4,641.5 L312.0,641.0" fill="none" stroke="#c82828" stroke-width="1.05" stroke-linejoin="round"/>
<path d="M75.8,724.7 L76.0,724.7 L76.2,724.7 L76.4,724.8 L76.6,724.8 L76.7,724.8 L76.9,724.8 L77.1,724.9 L77.3,724.9 L77.5,724.9 L77.7,724.9 L77.9,725.0 L78.1,725.0 L78.2,725.0 L78.4,725.0 L78.6,725.1 L78.8,725.1 L79.0,725.1 L79.2,725.2 L79.4,725.2 L79.6,725.2 L79.8,725.3 L79.9,725.3 L80.1,725.3 L80.3,725.4 L80.5,725.4 L80.7,725.4 L80.9,725.5 L81.1,725.5 L81.3,725.5 L81.4,725.6 L81.6,725.6 L81.8,725.6 L82.0,725.7 L82.2,725.7 L82.4,725.8 L82.6,725.8 L82.8,725.8 L83.0,725.9 L83.1,725.9 L83.3,726.0 L83.5,726.0 L83.7,726.0 L83.9,726.1 L84.1,726.1 L84.3,726.2 L84.5,726.2 L84.6,726.3 L84.8,726.3 L85.0,726.4 L85.2,726.4 L85.4,726.5 L85.6,726.5 L85.8,726.6 L86.0,726.6 L86.2,726.7 L86.3,726.7 L86.5,726.8 L86.7,726.8 L86.9,726.9 L87.1,726.9 L87.3,727.0 L87.5,727.0 L87.7,727.1 L87.8,727.2 L88.0,727.2 L88.2,727.3 L88.4,727.3 L88.6,727.4 L88.8,727.4 L89.0,727.5 L89.2,727.6 L89.4,727.6 L89.5,727.7 L89.7,727.7 L89.9,727.8 L90.1,727.9 L90.3,727.9 L90.5,728.0 L90.7,728.0 L90.9,728.1 L91.0,728.2 L91.2,728.2 L91.4,728.3 L91.6,728.4 L91.8,728.5 L92.0,728.5 L92.2,728.6 L92.4,728.7 L92.6,728.7 L92.7,728.8 L92.9,728.9 L93.1,729.0 L93.3,729.0 L93.5,729.1 L93.7,729.2 L93.9,729.3 L94.1,729.3 L94.2,729.4 L94.4,729.5 L94.6,729.6 L94.8,729.6 L95.0,729.7 L95.2,729.8 L95.4,729.9 L95.6,729.9 L95.8,730.0 L95.9,730.1 L96.1,730.2 L96.3,730.3 L96.5,730.4 L96.7,730.4 L96.9,730.5 L97.1,730.6 L97.3,730.7 L97.4,730.8 L97.6,730.8 L97.8,730.9 L98.0,731.0 L98.2,731.1 L98.4,731.2 L98.6,731.3 L98.8,731.3 L99.0,731.4 L99.1,731.5 L99.3,731.6 L99.5,731.7 L99.7,731.8 L99.9,731.9 L100.1,731.9 L100.3,732.0 L100.5,732.1 L100.6,732.2 L100.8,732.3 L101.0,732.4 L101.2,732.5 L101.4,732.6 L101.6,732.7 L101.8,732.8 L102.0,732.9 L102.2,733.0 L102.3,733.1 L102.5,733.2 L102.7,733.3 L102.9,733.4 L103.1,733.5 L103.3,733.6 L103.5,733.7 L103.7,733.8 L103.8,733.9 L104.0,734.0 L104.2,734.1 L104.4,734.2 L104.6,734.3 L104.8,734.4 L105.0,734.5 L105.2,734.6 L105.4,734.7 L105.5,734.8 L105.7,734.9 L105.9,735.0 L106.1,735.1 L106.3,735.2 L106.5,735.3 L106.7,735.4 L106.9,735.5 L107.0,735.5 L107.2,735.6 L107.4,735.7 L107.6,735.8 L107.8,735.9 L108.0,736.0 L108.2,736.1 L108.4,736.1 L108.6,736.2 L108.7,736.3 L108.9,736.4 L109.1,736.5 L109.3,736.6 L109.5,736.6 L109.7,736.7 L109.9,736.8 L110.1,736.9 L110.2,737.0 L110.4,737.1 L110.6,737.2 L110.8,737.3 L111.0,737.4 L111.2,737.4 L111.4,737.5 L111.6,737.6 L111.8,737.7 L111.9,737.8 L112.1,737.9 L112.3,738.0 L112.5,738.1 L112.7,738.2 L112.9,738.2 L113.1,738.3 L113.3,738.4 L113.4,738.5 L113.6,738.6 L113.8,738.7 L114.0,738.7 L114.2,738.8 L114.4,738.9 L114.6,739.0 L114.8,739.0 L114.9,739.1 L115.1,739.2 L115.3,739.2 L115.5,739.3 L115.7,739.3 L115.9,739.4 L116.1,739.4 L116.3,739.5 L116.5,739.5 L116.6,739.5 L116.8,739.6 L117.0,739.6 L117.2,739.6 L117.4,739.7 L117.6,739.7 L117.8,739.7 L118.0,739.7 L118.1,739.7 L118.3,739.7 L118.5,739.7 L118.7,739.7 L118.9,739.7 L119.1,739.7 L119.3,739.7 L119.5,739.7 L119.7,739.7 L119.8,739.7 L120.0,739.7 L120.2,739.7 L120.4,739.6 L120.6,739.6 L120.8,739.6 L121.0,739.6 L121.2,739.6 L121.3,739.6 L121.5,739.6 L121.7,739.6 L121.9,739.6 L122.1,739.5 L122.3,739.5 L122.5,739.5 L122.7,739.5 L122.9,739.5 L123.0,739.5 L123.2,739.4 L123.4,739.4 L123.6,739.4 L123.8,739.4 L124.0,739.4 L124.2,739.4 L124.4,739.4 L124.5,739.3 L124.7,739.3 L124.9,739.3 L125.1,739.3 L125.3,739.3 L125.5,739.3 L125.7,739.2 L125.9,739.2 L126.1,739.2 L126.2,739.2 L126.4,739.2 L126.6,739.2 L126.8,739.2 L127.0,739.2 L127.2,739.1 L127.4,739.1 L127.6,739.1 L127.7,739.1 L127.9,739.1 L128.1,739.1 L128.3,739.1 L128.5,739.1 L128.7,739.0 L128.9,739.0 L129.1,739.0 L129.3,739.0 L129.4,739.0 L129.6,739.0 L129.8,739.0 L130.0,739.0 L130.2,738.9 L130.4,738.9 L130.6,738.9 L130.8,738.9 L130.9,738.9 L131.1,738.9 L131.3,738.9 L131.5,738.9 L131.7,738.8 L131.9,738.8 L132.1,738.8 L132.3,738.8 L132.5,738.8 L132.6,738.8 L132.8,738.8 L133.0,738.8 L133.2,738.7 L133.4,738.7 L133.6,738.7 L133.8,738.7 L134.0,738.7 L134.1,738.7 L134.3,738.7 L134.5,738.7 L134.7,738.7 L134.9,738.7 L135.1,738.6 L135.3,738.6 L135.5,738.6 L135.7,738.6 L135.8,738.6 L136.0,738.6 L136.2,738.6 L136.4,738.6 L136.6,738.6 L136.8,738.6 L137.0,738.6 L137.2,738.6 L137.3,738.6 L137.5,738.6 L137.7,738.6 L137.9,738.6 L138.1,738.6 L138.3,738.6 L138.5,738.6 L138.7,738.7 L138.9,738.7 L139.0,738.7 L139.2,738.7 L139.4,738.8 L139.6,738.8 L139.8,738.8 L140.0,738.9 L140.2,738.9 L140.4,738.9 L140.5,739.0 L140.7,739.0 L140.9,739.1 L141.1,739.1 L141.3,739.2 L141.5,739.2 L141.7,739.3 L141.9,739.3 L142.1,739.4 L142.2,739.4 L142.4,739.5 L142.6,739.5 L142.8,739.6 L143.0,739.6 L143.2,739.7 L143.4,739.8 L143.6,739.8 L143.7,739.9 L143.9,740.0 L144.1,740.0 L144.3,740.1 L144.5,740.2 L144.7,740.2 L144.9,740.3 L145.1,740.4 L145.3,740.4 L145.4,740.5 L145.6,740.6 L145.8,740.6 L146.0,740.7 L146.2,740.8 L146.4,740.8 L146.6,740.9 L146.8,741.0 L146.9,741.0 L147.1,741.1 L147.3,741.2 L147.5,741.3 L147.7,741.3 L147.9,741.4 L148.1,741.5 L148.3,741.6 L148.5,741.7 L148.6,741.8 L148.8,741.9 L149.0,742.0 L149.2,742.1 L149.4,742.2 L149.6,742.3 L149.8,742.4 L150.0,742.5 L150.1,742.6 L150.3,742.7 L150.5,742.8 L150.7,742.9 L150.9,743.0" fill="none" stroke="#c82828" stroke-width="1.05" stroke-linejoin="round"/>
<path d="M75.8,728.5 L75.9,728.6 L76.1,728.7 L76.2,728.8 L76.4,728.9 L76.5,729.0 L76.7,729.1 L76.8,729.2 L77.0,729.3 L77.1,729.4 L77.2,729.5 L77.4,729.6 L77.5,729.7 L77.7,729.9 L77.8,730.0 L78.0,730.1 L78.1,730.2 L78.3,730.3 L78.4,730.4 L78.6,730.5 L78.7,730.6 L78.8,730.7 L79.0,730.8 L79.1,730.9 L79.3,731.0 L79.4,731.1 L79.6,731.2 L79.7,731.3 L79.9,731.4 L80.0,731.5 L80.1,731.6 L80.3,731.7 L80.4,731.8 L80.6,731.9 L80.7,732.0 L80.9,732.1 L81.0,732.2 L81.2,732.3 L81.3,732.4 L81.4,732.5 L81.6,732.6 L81.7,732.7 L81.9,732.8 L82.0,732.9 L82.2,733.0 L82.3,733.1 L82.5,733.2 L82.6,733.3 L82.8,733.4 L82.9,733.5 L83.0,733.6 L83.2,733.7 L83.3,733.8 L83.5,733.9 L83.6,734.0 L83.8,734.1 L83.9,734.2 L84.1,734.3 L84.2,734.4 L84.3,734.5 L84.5,734.6 L84.6,734.7 L84.8,734.8 L84.9,734.9 L85.1,735.0 L85.2,735.1 L85.4,735.3 L85.5,735.4 L85.7,735.5 L85.8,735.6 L85.9,735.7 L86.1,735.8 L86.2,735.9 L86.4,736.0 L86.5,736.1 L86.7,736.2 L86.8,736.3 L87.0,736.4 L87.1,736.5 L87.2,736.6 L87.4,736.7 L87.5,736.8 L87.7,736.9 L87.8,737.0 L88.0,737.1 L88.1,737.2 L88.3,737.3 L88.4,737.4 L88.5,737.5 L88.7,737.6 L88.8,737.7 L89.0,737.8 L89.1,737.9 L89.3,738.0 L89.4,738.1 L89.6,738.1 L89.7,738.2 L89.9,738.3 L90.0,738.4 L90.1,738.5 L90.3,738.6 L90.4,738.7 L90.6,738.7 L90.7,738.8 L90.9,738.9 L91.0,739.0 L91.2,739.1 L91.3,739.2 L91.4,739.3 L91.6,739.3 L91.7,739.4 L91.9,739.5 L92.0,739.6 L92.2,739.6 L92.3,739.7 L92.5,739.8 L92.6,739.9 L92.7,739.9 L92.9,740.0 L93.0,740.0 L93.2,740.1 L93.3,740.1 L93.5,740.2 L93.6,740.2 L93.8,740.2 L93.9,740.3 L94.1,740.3 L94.2,740.3 L94.3,740.4 L94.5,740.4 L94.6,740.4 L94.8,740.5 L94.9,740.5 L95.1,740.5 L95.2,740.5 L95.4,740.6 L95.5,740.6 L95.6,740.6 L95.8,740.6 L95.9,740.7 L96.1,740.7 L96.2,740.7 L96.4,740.7 L96.5,740.8 L96.7,740.8 L96.8,740.8 L96.9,740.8 L97.1,740.8 L97.2,740.9 L97.4,740.9 L97.5,740.9 L97.7,740.9 L97.8,740.9 L98.0,740.9 L98.1,741.0 L98.3,741.0 L98.4,741.0 L98.5,741.0 L98.7,741.0 L98.8,741.0 L99.0,741.0 L99.1,741.0 L99.3,741.1 L99.4,741.1 L99.6,741.1 L99.7,741.1 L99.8,741.1 L100.0,741.1 L100.1,741.1 L100.3,741.1 L100.4,741.1 L100.6,741.1 L100.7,741.1 L100.9,741.1 L101.0,741.1 L101.2,741.2 L101.3,741.2 L101.4,741.2 L101.6,741.2 L101.7,741.2 L101.9,741.2 L102.0,741.2 L102.2,741.2 L102.3,741.2 L102.5,741.2 L102.6,741.2 L102.7,741.2 L102.9,741.2 L103.0,741.2 L103.2,741.2 L103.3,741.2 L103.5,741.2 L103.6,741.2 L103.8,741.2 L103.9,741.3 L104.0,741.3 L104.2,741.3 L104.3,741.3 L104.5,741.3 L104.6,741.3 L104.8,741.3 L104.9,741.3 L105.1,741.3 L105.2,741.3 L105.4,741.3 L105.5,741.3 L105.6,741.3 L105.8,741.3 L105.9,741.3 L106.1,741.3 L106.2,741.3 L106.4,741.3 L106.5,741.3 L106.7,741.3 L106.8,741.3 L106.9,741.3 L107.1,741.3 L107.2,741.3 L107.4,741.3 L107.5,741.3 L107.7,741.3 L107.8,741.3 L108.0,741.4 L108.1,741.4 L108.2,741.4 L108.4,741.4 L108.5,741.4 L108.7,741.4 L108.8,741.4 L109.0,741.4 L109.1,741.4 L109.3,741.4 L109.4,741.4 L109.6,741.4 L109.7,741.4 L109.8,741.4 L110.0,741.4 L110.1,741.4 L110.3,741.4 L110.4,741.4 L110.6,741.4 L110.7,741.4 L110.9,741.4 L111.0,741.4 L111.1,741.4 L111.3,741.4 L111.4,741.4 L111.6,741.4 L111.7,741.5 L111.9,741.5 L112.0,741.5 L112.2,741.5 L112.3,741.5 L112.5,741.5 L112.6,741.5 L112.7,741.5 L112.9,741.5 L113.0,741.5 L113.2,741.5 L113.3,741.5 L113.5,741.5 L113.6,741.5 L113.8,741.5 L113.9,741.5 L114.0,741.5 L114.2,741.5 L114.3,741.5 L114.5,741.5 L114.6,741.5 L114.8,741.5 L114.9,741.6 L115.1,741.6 L115.2,741.6 L115.3,741.6 L115.5,741.6 L115.6,741.6 L115.8,741.6 L115.9,741.6 L116.1,741.6 L116.2,741.6 L116.4,741.6 L116.5,741.6 L116.7,741.6 L116.8,741.6 L116.9,741.6 L117.1,741.6 L117.2,741.6 L117.4,741.6 L117.5,741.6 L117.7,741.6 L117.8,741.6 L118.0,741.6 L118.1,741.6 L118.2,741.6 L118.4,741.6 L118.5,741.6 L118.7,741.6 L118.8,741.6 L119.0,741.6 L119.1,741.6 L119.3,741.6 L119.4,741.6 L119.5,741.5 L119.7,741.5 L119.8,741.5 L120.0,741.5 L120.1,741.5 L120.3,741.5 L120.4,741.5 L120.6,741.4 L120.7,741.4 L120.9,741.4 L121.0,741.4 L121.1,741.4 L121.3,741.3 L121.4,741.3 L121.6,741.3 L121.7,741.3 L121.9,741.2 L122.0,741.2 L122.2,741.2 L122.3,741.2 L122.4,741.1 L122.6,741.1 L122.7,741.1 L122.9,741.1 L123.0,741.0 L123.2,741.0 L123.3,741.0 L123.5,741.0 L123.6,740.9 L123.7,740.9 L123.9,740.9 L124.0,740.9 L124.2,740.9 L124.3,740.8 L124.5,740.8 L124.6,740.8 L124.8,740.8 L124.9,740.7 L125.1,740.7 L125.2,740.7 L125.3,740.7 L125.5,740.7 L125.6,740.6 L125.8,740.6 L125.9,740.6 L126.1,740.6 L126.2,740.6 L126.4,740.6 L126.5,740.6 L126.6,740.5 L126.8,740.5 L126.9,740.5 L127.1,740.5 L127.2,740.5 L127.4,740.5 L127.5,740.5 L127.7,740.5 L127.8,740.5 L128.0,740.5 L128.1,740.5 L128.2,740.5 L128.4,740.5 L128.5,740.6 L128.7,740.6 L128.8,740.6 L129.0,740.6 L129.1,740.7 L129.3,740.7 L129.4,740.8 L129.5,740.8 L129.7,740.9 L129.8,740.9 L130.0,741.0 L130.1,741.0 L130.3,741.1 L130.4,741.2 L130.6,741.2 L130.7,741.3 L130.8,741.4 L131.0,741.4 L131.1,741.5 L131.3,741.6 L131.4,741.7 L131.6,741.8 L131.7,741.8 L131.9,741.9 L132.0,742.0 L132.2,742.1 L132.3,742.2 L132.4,742.3 L132.6,742.4 L132.7,742.4 L132.9,742.5 L133.0,742.6 L133.2,742.7 L133.3,742.8 L133.5,742.9 L133.6,743.0" fill="none" stroke="#c82828" stroke-width="1.05" stroke-linejoin="round"/>
<rect x="142.7" y="527.0" width="169.5" height="112.60000000000002" fill="#fff"/>
<g fill="#fff" stroke="#000" stroke-width="1.0"><circle cx="151.1" cy="601.1" r="2.21"/><circle cx="155.9" cy="602.5" r="2.21"/><circle cx="160.6" cy="604.0" r="2.21"/><circle cx="165.2" cy="605.5" r="2.21"/><circle cx="169.6" cy="607.3" r="2.21"/><circle cx="173.6" cy="609.8" r="2.21"/><circle cx="177.3" cy="612.5" r="2.21"/><circle cx="180.9" cy="615.4" r="2.21"/><circle cx="184.2" cy="618.6" r="2.21"/><circle cx="187.3" cy="621.8" r="2.21"/><circle cx="190.5" cy="624.9" r="2.21"/><circle cx="193.9" cy="627.7" r="2.21"/><circle cx="197.7" cy="629.6" r="2.21"/><circle cx="201.7" cy="630.4" r="2.21"/><circle cx="205.8" cy="630.7" r="2.21"/><circle cx="209.6" cy="630.2" r="2.21"/><circle cx="213.3" cy="629.4" r="2.21"/><circle cx="216.9" cy="629.4" r="2.21"/><circle cx="220.5" cy="629.9" r="2.21"/><circle cx="224.0" cy="630.7" r="2.21"/><circle cx="227.3" cy="632.0" r="2.21"/><circle cx="230.8" cy="631.9" r="2.21"/><circle cx="234.2" cy="630.9" r="2.21"/><circle cx="237.6" cy="629.8" r="2.21"/><circle cx="241.0" cy="628.8" r="2.21"/><circle cx="244.6" cy="628.7" r="2.21"/><circle cx="248.1" cy="629.2" r="2.21"/><circle cx="251.5" cy="629.9" r="2.21"/><circle cx="254.9" cy="630.8" r="2.21"/><circle cx="258.1" cy="632.3" r="2.21"/><circle cx="261.1" cy="634.1" r="2.21"/><circle cx="264.0" cy="636.1" r="2.21"/></g>
<g fill="#000" stroke="none"><rect x="150.2" y="592.0" width="4.8" height="4.8"/><rect x="156.1" y="593.1" width="4.8" height="4.8"/><rect x="161.8" y="594.3" width="4.8" height="4.8"/><rect x="167.3" y="595.5" width="4.8" height="4.8"/><rect x="172.7" y="597.3" width="4.8" height="4.8"/><rect x="177.8" y="599.3" width="4.8" height="4.8"/><rect x="182.7" y="601.5" width="4.8" height="4.8"/><rect x="187.2" y="604.2" width="4.8" height="4.8"/><rect x="191.5" y="607.3" width="4.8" height="4.8"/><rect x="195.7" y="609.8" width="4.8" height="4.8"/><rect x="199.5" y="612.5" width="4.8" height="4.8"/><rect x="203.1" y="615.2" width="4.8" height="4.8"/><rect x="206.6" y="617.5" width="4.8" height="4.8"/><rect x="210.1" y="619.5" width="4.8" height="4.8"/><rect x="213.4" y="621.2" width="4.8" height="4.8"/><rect x="216.7" y="622.6" width="4.8" height="4.8"/><rect x="220.1" y="623.8" width="4.8" height="4.8"/><rect x="223.6" y="624.4" width="4.8" height="4.8"/><rect x="227.2" y="624.6" width="4.8" height="4.8"/><rect x="230.7" y="624.1" width="4.8" height="4.8"/><rect x="234.3" y="623.8" width="4.8" height="4.8"/><rect x="237.8" y="623.7" width="4.8" height="4.8"/><rect x="241.4" y="623.6" width="4.8" height="4.8"/><rect x="244.9" y="623.4" width="4.8" height="4.8"/><rect x="248.5" y="623.3" width="4.8" height="4.8"/><rect x="252.0" y="623.2" width="4.8" height="4.8"/><rect x="255.5" y="623.1" width="4.8" height="4.8"/><rect x="259.0" y="623.0" width="4.8" height="4.8"/><rect x="262.5" y="622.9" width="4.8" height="4.8"/><rect x="266.0" y="622.8" width="4.8" height="4.8"/><rect x="269.5" y="622.8" width="4.8" height="4.8"/><rect x="273.0" y="623.0" width="4.8" height="4.8"/><rect x="276.4" y="623.3" width="4.8" height="4.8"/><rect x="279.9" y="623.7" width="4.8" height="4.8"/><rect x="283.3" y="624.3" width="4.8" height="4.8"/><rect x="286.5" y="625.5" width="4.8" height="4.8"/><rect x="289.6" y="627.1" width="4.8" height="4.8"/><rect x="292.6" y="628.7" width="4.8" height="4.8"/><rect x="295.6" y="630.3" width="4.8" height="4.8"/><rect x="298.7" y="631.8" width="4.8" height="4.8"/><rect x="301.9" y="633.1" width="4.8" height="4.8"/><rect x="305.3" y="633.3" width="4.8" height="4.8"/></g>
<g fill="#fff" stroke="#000" stroke-width="0.95"><path d="M154.1,580.6 L157.0,585.3 L151.2,585.3Z"/><path d="M162.0,578.9 L164.9,583.7 L159.2,583.7Z"/><path d="M170.1,578.0 L172.9,582.8 L167.2,582.8Z"/><path d="M178.2,577.7 L181.0,582.4 L175.3,582.4Z"/><path d="M186.3,578.0 L189.1,582.7 L183.4,582.7Z"/><path d="M194.3,578.3 L197.2,583.1 L191.5,583.1Z"/><path d="M202.4,579.1 L205.3,583.9 L199.5,583.9Z"/><path d="M210.4,580.2 L213.3,584.9 L207.6,584.9Z"/><path d="M218.4,581.6 L221.3,586.3 L215.6,586.3Z"/><path d="M226.1,583.1 L229.0,587.9 L223.3,587.9Z"/><path d="M233.3,584.5 L236.2,589.3 L230.5,589.3Z"/><path d="M240.0,585.9 L242.8,590.7 L237.1,590.7Z"/><path d="M246.5,587.4 L249.4,592.2 L243.6,592.2Z"/><path d="M253.0,589.1 L255.8,593.8 L250.1,593.8Z"/><path d="M259.4,590.8 L262.3,595.6 L256.6,595.6Z"/><path d="M265.8,592.7 L268.7,597.4 L263.0,597.4Z"/><path d="M272.2,594.5 L275.1,599.3 L269.4,599.3Z"/><path d="M278.6,596.3 L281.5,601.1 L275.8,601.1Z"/><path d="M285.0,598.3 L287.8,603.0 L282.1,603.0Z"/><path d="M291.3,600.4 L294.1,605.1 L288.4,605.1Z"/><path d="M297.5,602.8 L300.3,607.5 L294.6,607.5Z"/><path d="M303.5,605.5 L306.3,610.3 L300.6,610.3Z"/><path d="M309.4,608.5 L312.3,613.2 L306.5,613.2Z"/></g>
<path d="M154.1,584.3 L154.5,584.2 L154.9,584.1 L155.3,584.0 L155.7,583.9 L156.1,583.8 L156.5,583.7 L156.9,583.6 L157.3,583.5 L157.7,583.4 L158.1,583.4 L158.5,583.3 L158.9,583.2 L159.3,583.1 L159.7,583.0 L160.1,583.0 L160.5,582.9 L160.8,582.8 L161.2,582.7 L161.6,582.7 L162.0,582.6 L162.4,582.6 L162.8,582.5 L163.2,582.5 L163.6,582.4 L164.0,582.3 L164.4,582.3 L164.8,582.2 L165.2,582.2 L165.6,582.1 L166.0,582.1 L166.4,582.0 L166.8,582.0 L167.2,582.0 L167.6,581.9 L168.0,581.9 L168.4,581.8 L168.8,581.8 L169.2,581.8 L169.6,581.8 L170.0,581.7 L170.4,581.7 L170.8,581.7 L171.2,581.7 L171.6,581.6 L172.0,581.6 L172.4,581.6 L172.8,581.6 L173.2,581.6 L173.6,581.5 L173.9,581.5 L174.3,581.5 L174.7,581.5 L175.1,581.5 L175.5,581.5 L175.9,581.4 L176.3,581.4 L176.7,581.4 L177.1,581.4 L177.5,581.4 L177.9,581.4 L178.3,581.4 L178.7,581.4 L179.1,581.4 L179.5,581.4 L179.9,581.4 L180.3,581.4 L180.7,581.4 L181.1,581.4 L181.5,581.5 L181.9,581.5 L182.3,581.5 L182.7,581.5 L183.1,581.5 L183.5,581.5 L183.9,581.6 L184.3,581.6 L184.7,581.6 L185.1,581.6 L185.5,581.6 L185.9,581.7 L186.3,581.7 L186.7,581.7 L187.1,581.7 L187.4,581.7 L187.8,581.7 L188.2,581.8 L188.6,581.8 L189.0,581.8 L189.4,581.8 L189.8,581.8 L190.2,581.9 L190.6,581.9 L191.0,581.9 L191.4,581.9 L191.8,581.9 L192.2,581.9 L192.6,582.0 L193.0,582.0 L193.4,582.0 L193.8,582.0 L194.2,582.1 L194.6,582.1 L195.0,582.1 L195.4,582.1 L195.8,582.2 L196.2,582.2 L196.6,582.2 L197.0,582.3 L197.4,582.3 L197.8,582.3 L198.2,582.4 L198.6,582.4 L199.0,582.5 L199.4,582.5 L199.8,582.5 L200.2,582.6 L200.5,582.6 L200.9,582.7 L201.3,582.7 L201.7,582.8 L202.1,582.8 L202.5,582.8 L202.9,582.9 L203.3,582.9 L203.7,583.0 L204.1,583.0 L204.5,583.1 L204.9,583.1 L205.3,583.2 L205.7,583.2 L206.1,583.3 L206.5,583.3 L206.9,583.4 L207.3,583.4 L207.7,583.5 L208.1,583.6 L208.5,583.6 L208.9,583.7 L209.3,583.7 L209.7,583.8 L210.1,583.8 L210.5,583.9 L210.9,584.0 L211.3,584.0 L211.7,584.1 L212.1,584.2 L212.5,584.2 L212.9,584.3 L213.3,584.4 L213.6,584.4 L214.0,584.5 L214.4,584.6 L214.8,584.6 L215.2,584.7 L215.6,584.8 L216.0,584.8 L216.4,584.9 L216.8,585.0 L217.2,585.1 L217.6,585.1 L218.0,585.2 L218.4,585.3 L218.8,585.4 L219.2,585.5 L219.6,585.5 L220.0,585.6 L220.4,585.7 L220.8,585.8 L221.2,585.8 L221.6,585.9 L222.0,586.0 L222.4,586.1 L222.8,586.2 L223.2,586.2 L223.6,586.3 L224.0,586.4 L224.4,586.5 L224.8,586.6 L225.2,586.6 L225.6,586.7 L226.0,586.8 L226.4,586.9 L226.7,586.9 L227.1,587.0 L227.5,587.1 L227.9,587.2 L228.3,587.3 L228.7,587.3 L229.1,587.4 L229.5,587.5 L229.9,587.6 L230.3,587.6 L230.7,587.7 L231.1,587.8 L231.5,587.9 L231.9,588.0 L232.3,588.0 L232.7,588.1 L233.1,588.2 L233.5,588.3 L233.9,588.3 L234.3,588.4 L234.7,588.5 L235.1,588.6 L235.5,588.7 L235.9,588.7 L236.3,588.8 L236.7,588.9 L237.1,589.0 L237.5,589.1 L237.9,589.2 L238.3,589.2 L238.7,589.3 L239.1,589.4 L239.5,589.5 L239.9,589.6 L240.2,589.7 L240.6,589.8 L241.0,589.8 L241.4,589.9 L241.8,590.0 L242.2,590.1 L242.6,590.2 L243.0,590.3 L243.4,590.4 L243.8,590.5 L244.2,590.6 L244.6,590.7 L245.0,590.8 L245.4,590.9 L245.8,591.0 L246.2,591.1 L246.6,591.2 L247.0,591.3 L247.4,591.4 L247.8,591.5 L248.2,591.5 L248.6,591.7 L249.0,591.8 L249.4,591.9 L249.8,592.0 L250.2,592.1 L250.6,592.2 L251.0,592.3 L251.4,592.4 L251.8,592.5 L252.2,592.6 L252.6,592.7 L253.0,592.8 L253.3,592.9 L253.7,593.0 L254.1,593.1 L254.5,593.2 L254.9,593.3 L255.3,593.4 L255.7,593.5 L256.1,593.6 L256.5,593.8 L256.9,593.9 L257.3,594.0 L257.7,594.1 L258.1,594.2 L258.5,594.3 L258.9,594.4 L259.3,594.5 L259.7,594.6 L260.1,594.8 L260.5,594.9 L260.9,595.0 L261.3,595.1 L261.7,595.2 L262.1,595.3 L262.5,595.4 L262.9,595.5 L263.3,595.7 L263.7,595.8 L264.1,595.9 L264.5,596.0 L264.9,596.1 L265.3,596.2 L265.7,596.3 L266.1,596.5 L266.4,596.6 L266.8,596.7 L267.2,596.8 L267.6,596.9 L268.0,597.0 L268.4,597.1 L268.8,597.3 L269.2,597.4 L269.6,597.5 L270.0,597.6 L270.4,597.7 L270.8,597.8 L271.2,597.9 L271.6,598.1 L272.0,598.2 L272.4,598.3 L272.8,598.4 L273.2,598.5 L273.6,598.6 L274.0,598.7 L274.4,598.9 L274.8,599.0 L275.2,599.1 L275.6,599.2 L276.0,599.3 L276.4,599.4 L276.8,599.5 L277.2,599.7 L277.6,599.8 L278.0,599.9 L278.4,600.0 L278.8,600.1 L279.2,600.2 L279.5,600.3 L279.9,600.5 L280.3,600.6 L280.7,600.7 L281.1,600.8 L281.5,600.9 L281.9,601.1 L282.3,601.2 L282.7,601.3 L283.1,601.4 L283.5,601.5 L283.9,601.7 L284.3,601.8 L284.7,601.9 L285.1,602.0 L285.5,602.2 L285.9,602.3 L286.3,602.4 L286.7,602.5 L287.1,602.7 L287.5,602.8 L287.9,602.9 L288.3,603.1 L288.7,603.2 L289.1,603.3 L289.5,603.5 L289.9,603.6 L290.3,603.7 L290.7,603.9 L291.1,604.0 L291.5,604.2 L291.9,604.3 L292.3,604.4 L292.7,604.6 L293.0,604.7 L293.4,604.9 L293.8,605.0 L294.2,605.2 L294.6,605.3 L295.0,605.5 L295.4,605.7 L295.8,605.8 L296.2,606.0 L296.6,606.1 L297.0,606.3 L297.4,606.4 L297.8,606.6 L298.2,606.8 L298.6,606.9 L299.0,607.1 L299.4,607.3 L299.8,607.4 L300.2,607.6 L300.6,607.8 L301.0,607.9 L301.4,608.1 L301.8,608.3 L302.2,608.5 L302.6,608.7 L303.0,608.8 L303.4,609.0 L303.8,609.2 L304.2,609.4 L304.6,609.6 L305.0,609.8 L305.4,610.0 L305.8,610.2 L306.1,610.4 L306.5,610.6 L306.9,610.8 L307.3,611.0 L307.7,611.2 L308.1,611.4 L308.5,611.6 L308.9,611.8 L309.3,612.0 L309.7,612.3 L310.1,612.5 L310.5,612.7 L310.9,613.0 L311.3,613.2 L311.7,613.4 L312.1,613.7 L312.5,614.0" fill="none" stroke="#c82828" stroke-width="1.05" stroke-linejoin="round"/>
<path d="M152.6,594.4 L153.0,594.5 L153.4,594.5 L153.8,594.6 L154.2,594.7 L154.6,594.8 L155.0,594.8 L155.4,594.9 L155.7,595.0 L156.1,595.0 L156.5,595.1 L156.9,595.2 L157.3,595.3 L157.7,595.3 L158.1,595.4 L158.5,595.5 L158.9,595.6 L159.3,595.7 L159.7,595.7 L160.1,595.8 L160.5,595.9 L160.9,596.0 L161.3,596.0 L161.7,596.1 L162.0,596.2 L162.4,596.3 L162.8,596.4 L163.2,596.5 L163.6,596.5 L164.0,596.6 L164.4,596.7 L164.8,596.8 L165.2,596.9 L165.6,597.0 L166.0,597.0 L166.4,597.1 L166.8,597.2 L167.2,597.3 L167.6,597.4 L168.0,597.5 L168.3,597.6 L168.7,597.7 L169.1,597.8 L169.5,597.9 L169.9,598.0 L170.3,598.1 L170.7,598.2 L171.1,598.3 L171.5,598.4 L171.9,598.5 L172.3,598.7 L172.7,598.8 L173.1,598.9 L173.5,599.1 L173.9,599.2 L174.3,599.4 L174.6,599.5 L175.0,599.7 L175.4,599.8 L175.8,600.0 L176.2,600.1 L176.6,600.3 L177.0,600.4 L177.4,600.6 L177.8,600.7 L178.2,600.9 L178.6,601.0 L179.0,601.2 L179.4,601.3 L179.8,601.5 L180.2,601.7 L180.6,601.8 L180.9,602.0 L181.3,602.2 L181.7,602.3 L182.1,602.5 L182.5,602.7 L182.9,602.9 L183.3,603.0 L183.7,603.2 L184.1,603.4 L184.5,603.6 L184.9,603.8 L185.3,604.0 L185.7,604.2 L186.1,604.4 L186.5,604.7 L186.9,604.9 L187.2,605.1 L187.6,605.3 L188.0,605.6 L188.4,605.8 L188.8,606.1 L189.2,606.3 L189.6,606.6 L190.0,606.9 L190.4,607.2 L190.8,607.5 L191.2,607.8 L191.6,608.1 L192.0,608.4 L192.4,608.7 L192.8,608.9 L193.2,609.2 L193.5,609.5 L193.9,609.7 L194.3,610.0 L194.7,610.2 L195.1,610.4 L195.5,610.7 L195.9,610.9 L196.3,611.1 L196.7,611.4 L197.1,611.6 L197.5,611.8 L197.9,612.1 L198.3,612.3 L198.7,612.6 L199.1,612.8 L199.5,613.1 L199.8,613.4 L200.2,613.7 L200.6,614.0 L201.0,614.3 L201.4,614.6 L201.8,614.9 L202.2,615.2 L202.6,615.5 L203.0,615.8 L203.4,616.1 L203.8,616.4 L204.2,616.7 L204.6,617.0 L205.0,617.2 L205.4,617.5 L205.8,617.8 L206.1,618.0 L206.5,618.3 L206.9,618.6 L207.3,618.8 L207.7,619.1 L208.1,619.3 L208.5,619.6 L208.9,619.8 L209.3,620.0 L209.7,620.3 L210.1,620.5 L210.5,620.7 L210.9,621.0 L211.3,621.2 L211.7,621.4 L212.1,621.6 L212.4,621.8 L212.8,622.1 L213.2,622.3 L213.6,622.5 L214.0,622.7 L214.4,622.9 L214.8,623.1 L215.2,623.3 L215.6,623.5 L216.0,623.7 L216.4,623.8 L216.8,624.0 L217.2,624.2 L217.6,624.3 L218.0,624.5 L218.4,624.7 L218.7,624.9 L219.1,625.0 L219.5,625.2 L219.9,625.4 L220.3,625.5 L220.7,625.7 L221.1,625.8 L221.5,625.9 L221.9,626.0 L222.3,626.1 L222.7,626.2 L223.1,626.3 L223.5,626.4 L223.9,626.5 L224.3,626.5 L224.7,626.6 L225.0,626.7 L225.4,626.7 L225.8,626.8 L226.2,626.8 L226.6,626.9 L227.0,626.9 L227.4,626.9 L227.8,627.0 L228.2,627.0 L228.6,627.0 L229.0,627.0 L229.4,627.0 L229.8,627.0 L230.2,626.9 L230.6,626.9 L231.0,626.8 L231.3,626.8 L231.7,626.7 L232.1,626.6 L232.5,626.6 L232.9,626.5 L233.3,626.5 L233.7,626.4 L234.1,626.4 L234.5,626.3 L234.9,626.3 L235.3,626.3 L235.7,626.3 L236.1,626.2 L236.5,626.2 L236.9,626.2 L237.3,626.2 L237.6,626.2 L238.0,626.2 L238.4,626.1 L238.8,626.1 L239.2,626.1 L239.6,626.1 L240.0,626.1 L240.4,626.1 L240.8,626.1 L241.2,626.0 L241.6,626.0 L242.0,626.0 L242.4,626.0 L242.8,626.0 L243.2,626.0 L243.6,626.0 L243.9,625.9 L244.3,625.9 L244.7,625.9 L245.1,625.9 L245.5,625.9 L245.9,625.9 L246.3,625.9 L246.7,625.8 L247.1,625.8 L247.5,625.8 L247.9,625.8 L248.3,625.8 L248.7,625.8 L249.1,625.8 L249.5,625.7 L249.9,625.7 L250.2,625.7 L250.6,625.7 L251.0,625.7 L251.4,625.7 L251.8,625.7 L252.2,625.6 L252.6,625.6 L253.0,625.6 L253.4,625.6 L253.8,625.6 L254.2,625.6 L254.6,625.6 L255.0,625.6 L255.4,625.5 L255.8,625.5 L256.2,625.5 L256.5,625.5 L256.9,625.5 L257.3,625.5 L257.7,625.5 L258.1,625.5 L258.5,625.4 L258.9,625.4 L259.3,625.4 L259.7,625.4 L260.1,625.4 L260.5,625.4 L260.9,625.4 L261.3,625.4 L261.7,625.4 L262.1,625.3 L262.5,625.3 L262.8,625.3 L263.2,625.3 L263.6,625.3 L264.0,625.3 L264.4,625.3 L264.8,625.3 L265.2,625.3 L265.6,625.2 L266.0,625.2 L266.4,625.2 L266.8,625.2 L267.2,625.2 L267.6,625.2 L268.0,625.2 L268.4,625.2 L268.8,625.2 L269.1,625.2 L269.5,625.2 L269.9,625.2 L270.3,625.2 L270.7,625.2 L271.1,625.2 L271.5,625.2 L271.9,625.2 L272.3,625.2 L272.7,625.2 L273.1,625.3 L273.5,625.3 L273.9,625.3 L274.3,625.3 L274.7,625.3 L275.1,625.4 L275.4,625.4 L275.8,625.4 L276.2,625.4 L276.6,625.5 L277.0,625.5 L277.4,625.5 L277.8,625.6 L278.2,625.6 L278.6,625.7 L279.0,625.7 L279.4,625.7 L279.8,625.8 L280.2,625.8 L280.6,625.9 L281.0,625.9 L281.4,626.0 L281.7,626.0 L282.1,626.1 L282.5,626.1 L282.9,626.2 L283.3,626.2 L283.7,626.3 L284.1,626.4 L284.5,626.4 L284.9,626.5 L285.3,626.6 L285.7,626.6 L286.1,626.7 L286.5,626.9 L286.9,627.0 L287.3,627.2 L287.7,627.3 L288.0,627.5 L288.4,627.7 L288.8,627.9 L289.2,628.1 L289.6,628.3 L290.0,628.5 L290.4,628.7 L290.8,628.9 L291.2,629.1 L291.6,629.3 L292.0,629.5 L292.4,629.7 L292.8,629.9 L293.2,630.1 L293.6,630.3 L294.0,630.5 L294.3,630.7 L294.7,630.9 L295.1,631.2 L295.5,631.4 L295.9,631.6 L296.3,631.8 L296.7,632.0 L297.1,632.2 L297.5,632.5 L297.9,632.7 L298.3,632.9 L298.7,633.1 L299.1,633.3 L299.5,633.4 L299.9,633.6 L300.3,633.8 L300.6,634.0 L301.0,634.2 L301.4,634.4 L301.8,634.6 L302.2,634.8 L302.6,635.0 L303.0,635.1 L303.4,635.3 L303.8,635.4 L304.2,635.5 L304.6,635.6 L305.0,635.6 L305.4,635.6 L305.8,635.6 L306.2,635.6 L306.6,635.7 L306.9,635.7 L307.3,635.7 L307.7,635.7 L308.1,635.7 L308.5,635.7 L308.9,635.7 L309.3,635.7 L309.7,635.7" fill="none" stroke="#c82828" stroke-width="1.05" stroke-linejoin="round"/>
<path d="M151.1,601.1 L151.4,601.2 L151.7,601.3 L152.0,601.4 L152.2,601.4 L152.5,601.5 L152.8,601.6 L153.1,601.7 L153.4,601.8 L153.7,601.9 L154.0,602.0 L154.2,602.1 L154.5,602.1 L154.8,602.2 L155.1,602.3 L155.4,602.4 L155.7,602.5 L156.0,602.6 L156.2,602.7 L156.5,602.8 L156.8,602.8 L157.1,602.9 L157.4,603.0 L157.7,603.1 L158.0,603.2 L158.2,603.3 L158.5,603.4 L158.8,603.5 L159.1,603.5 L159.4,603.6 L159.7,603.7 L160.0,603.8 L160.2,603.9 L160.5,604.0 L160.8,604.1 L161.1,604.2 L161.4,604.3 L161.7,604.4 L162.0,604.5 L162.2,604.5 L162.5,604.6 L162.8,604.7 L163.1,604.8 L163.4,604.9 L163.7,605.0 L164.0,605.1 L164.2,605.2 L164.5,605.3 L164.8,605.4 L165.1,605.5 L165.4,605.6 L165.7,605.7 L166.0,605.8 L166.2,605.9 L166.5,606.0 L166.8,606.1 L167.1,606.2 L167.4,606.3 L167.7,606.5 L168.0,606.6 L168.2,606.7 L168.5,606.8 L168.8,607.0 L169.1,607.1 L169.4,607.2 L169.7,607.4 L170.0,607.5 L170.2,607.7 L170.5,607.9 L170.8,608.0 L171.1,608.2 L171.4,608.4 L171.7,608.6 L172.0,608.8 L172.2,608.9 L172.5,609.1 L172.8,609.3 L173.1,609.5 L173.4,609.7 L173.7,609.9 L174.0,610.1 L174.2,610.3 L174.5,610.5 L174.8,610.7 L175.1,610.9 L175.4,611.1 L175.7,611.3 L176.0,611.5 L176.2,611.7 L176.5,611.9 L176.8,612.1 L177.1,612.3 L177.4,612.5 L177.7,612.8 L178.0,613.0 L178.2,613.2 L178.5,613.4 L178.8,613.6 L179.1,613.9 L179.4,614.1 L179.7,614.3 L180.0,614.6 L180.2,614.8 L180.5,615.1 L180.8,615.3 L181.1,615.6 L181.4,615.8 L181.7,616.1 L182.0,616.3 L182.2,616.6 L182.5,616.9 L182.8,617.2 L183.1,617.5 L183.4,617.8 L183.7,618.1 L184.0,618.3 L184.2,618.6 L184.5,618.9 L184.8,619.2 L185.1,619.5 L185.4,619.8 L185.7,620.1 L186.0,620.4 L186.2,620.7 L186.5,621.0 L186.8,621.3 L187.1,621.6 L187.4,621.9 L187.7,622.2 L188.0,622.5 L188.2,622.8 L188.5,623.1 L188.8,623.4 L189.1,623.6 L189.4,623.9 L189.7,624.2 L190.0,624.4 L190.2,624.7 L190.5,625.0 L190.8,625.2 L191.1,625.5 L191.4,625.7 L191.7,626.0 L192.0,626.2 L192.2,626.5 L192.5,626.7 L192.8,626.9 L193.1,627.2 L193.4,627.4 L193.7,627.5 L194.0,627.7 L194.2,627.9 L194.5,628.0 L194.8,628.2 L195.1,628.4 L195.4,628.5 L195.7,628.7 L196.0,628.8 L196.2,628.9 L196.5,629.1 L196.8,629.2 L197.1,629.3 L197.4,629.5 L197.7,629.6 L198.0,629.7 L198.2,629.8 L198.5,629.8 L198.8,629.9 L199.1,630.0 L199.4,630.0 L199.7,630.1 L200.0,630.1 L200.2,630.1 L200.5,630.2 L200.8,630.2 L201.1,630.3 L201.4,630.3 L201.7,630.3 L202.0,630.4 L202.2,630.4 L202.5,630.4 L202.8,630.5 L203.1,630.5 L203.4,630.5 L203.7,630.6 L204.0,630.6 L204.2,630.6 L204.5,630.6 L204.8,630.6 L205.1,630.7 L205.4,630.7 L205.7,630.7 L206.0,630.7 L206.2,630.7 L206.5,630.7 L206.8,630.7 L207.1,630.7 L207.4,630.7 L207.7,630.6 L208.0,630.6 L208.2,630.5 L208.5,630.5 L208.8,630.4 L209.1,630.4 L209.4,630.3 L209.7,630.2 L210.0,630.1 L210.2,630.0 L210.5,630.0 L210.8,629.9 L211.1,629.8 L211.4,629.7 L211.7,629.7 L212.0,629.6 L212.2,629.5 L212.5,629.5 L212.8,629.4 L213.1,629.4 L213.4,629.3 L213.7,629.3 L214.0,629.3 L214.2,629.3 L214.5,629.3 L214.8,629.3 L215.1,629.3 L215.4,629.3 L215.7,629.3 L216.0,629.4 L216.2,629.4 L216.5,629.4 L216.8,629.4 L217.1,629.4 L217.4,629.5 L217.7,629.5 L218.0,629.5 L218.2,629.6 L218.5,629.6 L218.8,629.6 L219.1,629.7 L219.4,629.7 L219.7,629.7 L220.0,629.8 L220.2,629.8 L220.5,629.9 L220.8,629.9 L221.1,629.9 L221.4,630.0 L221.7,630.0 L222.0,630.1 L222.2,630.1 L222.5,630.2 L222.8,630.3 L223.1,630.4 L223.4,630.5 L223.7,630.6 L224.0,630.7 L224.2,630.8 L224.5,631.0 L224.8,631.1 L225.1,631.2 L225.4,631.3 L225.7,631.4 L226.0,631.5 L226.2,631.6 L226.5,631.7 L226.8,631.8 L227.1,631.9 L227.4,632.0 L227.7,632.1 L228.0,632.1 L228.2,632.2 L228.5,632.2 L228.8,632.2 L229.1,632.2 L229.4,632.2 L229.7,632.2 L230.0,632.1 L230.2,632.1 L230.5,632.0 L230.8,631.9 L231.1,631.9 L231.4,631.8 L231.7,631.7 L232.0,631.6 L232.2,631.5 L232.5,631.4 L232.8,631.3 L233.1,631.2 L233.4,631.1 L233.7,631.0 L234.0,630.9 L234.2,630.9 L234.5,630.8 L234.8,630.7 L235.1,630.6 L235.4,630.5 L235.7,630.4 L236.0,630.4 L236.2,630.3 L236.5,630.2 L236.8,630.1 L237.1,630.0 L237.4,629.9 L237.7,629.8 L238.0,629.7 L238.2,629.6 L238.5,629.5 L238.8,629.4 L239.1,629.3 L239.4,629.2 L239.7,629.1 L240.0,629.0 L240.2,628.9 L240.5,628.9 L240.8,628.8 L241.1,628.7 L241.4,628.7 L241.7,628.7 L242.0,628.6 L242.2,628.6 L242.5,628.6 L242.8,628.6 L243.1,628.6 L243.4,628.6 L243.7,628.6 L244.0,628.6 L244.2,628.7 L244.5,628.7 L244.8,628.7 L245.1,628.7 L245.4,628.8 L245.7,628.8 L246.0,628.8 L246.2,628.9 L246.5,628.9 L246.8,628.9 L247.1,629.0 L247.4,629.0 L247.7,629.1 L248.0,629.1 L248.2,629.2 L248.5,629.2 L248.8,629.3 L249.1,629.4 L249.4,629.4 L249.7,629.5 L250.0,629.5 L250.2,629.6 L250.5,629.7 L250.8,629.7 L251.1,629.8 L251.4,629.9 L251.7,630.0 L252.0,630.0 L252.2,630.1 L252.5,630.2 L252.8,630.2 L253.1,630.3 L253.4,630.4 L253.7,630.5 L254.0,630.5 L254.2,630.6 L254.5,630.7 L254.8,630.8 L255.1,630.9 L255.4,631.0 L255.7,631.1 L256.0,631.2 L256.2,631.4 L256.5,631.5 L256.8,631.6 L257.1,631.7 L257.4,631.9 L257.7,632.0 L258.0,632.2 L258.2,632.3 L258.5,632.5 L258.8,632.6 L259.1,632.8 L259.4,633.0 L259.7,633.2 L260.0,633.3 L260.2,633.5 L260.5,633.7 L260.8,633.9 L261.1,634.1 L261.4,634.3 L261.7,634.5 L262.0,634.7 L262.2,634.9 L262.5,635.1 L262.8,635.3 L263.1,635.5 L263.4,635.7 L263.7,635.9 L264.0,636.1 L264.2,636.3 L264.5,636.6 L264.8,636.8 L265.1,637.0" fill="none" stroke="#c82828" stroke-width="1.05" stroke-linejoin="round"/>
<circle cx="267.6" cy="638.2" r="7.6" fill="none" stroke="#1a1ae0" stroke-width="1.6" stroke-dasharray="3,2"/>
<circle cx="310.2" cy="636.5" r="9.4" fill="none" stroke="#1a1ae0" stroke-width="1.6" stroke-dasharray="3,2"/>
<rect x="71.90" y="527.00" width="240.30" height="218.30" fill="none" stroke="#3a3a3a" stroke-width="1.3"/>
<rect x="142.70" y="527.00" width="169.50" height="112.60" fill="none" stroke="#3a3a3a" stroke-width="1.2"/>
<line x1="71.90" y1="745.30" x2="75.40" y2="745.30" stroke="#3a3a3a" stroke-width="1.0"/>
<line x1="71.90" y1="680.40" x2="75.40" y2="680.40" stroke="#3a3a3a" stroke-width="1.0"/>
<line x1="71.90" y1="615.40" x2="75.40" y2="615.40" stroke="#3a3a3a" stroke-width="1.0"/>
<line x1="71.90" y1="550.50" x2="75.40" y2="550.50" stroke="#3a3a3a" stroke-width="1.0"/>
<line x1="71.90" y1="712.85" x2="73.90" y2="712.85" stroke="#3a3a3a" stroke-width="1.0"/>
<line x1="71.90" y1="647.90" x2="73.90" y2="647.90" stroke="#3a3a3a" stroke-width="1.0"/>
<line x1="71.90" y1="582.95" x2="73.90" y2="582.95" stroke="#3a3a3a" stroke-width="1.0"/>
<line x1="88.70" y1="745.30" x2="88.70" y2="741.80" stroke="#3a3a3a" stroke-width="1.0"/>
<line x1="142.70" y1="745.30" x2="142.70" y2="741.80" stroke="#3a3a3a" stroke-width="1.0"/>
<line x1="196.70" y1="745.30" x2="196.70" y2="741.80" stroke="#3a3a3a" stroke-width="1.0"/>
<line x1="250.70" y1="745.30" x2="250.70" y2="741.80" stroke="#3a3a3a" stroke-width="1.0"/>
<line x1="304.70" y1="745.30" x2="304.70" y2="741.80" stroke="#3a3a3a" stroke-width="1.0"/>
<line x1="115.70" y1="745.30" x2="115.70" y2="743.30" stroke="#3a3a3a" stroke-width="1.0"/>
<line x1="169.70" y1="745.30" x2="169.70" y2="743.30" stroke="#3a3a3a" stroke-width="1.0"/>
<line x1="223.70" y1="745.30" x2="223.70" y2="743.30" stroke="#3a3a3a" stroke-width="1.0"/>
<line x1="277.70" y1="745.30" x2="277.70" y2="743.30" stroke="#3a3a3a" stroke-width="1.0"/>
<text transform="translate(68.80,748.99) scale(1.04,1)" font-family="Liberation Sans" font-size="12.3" font-weight="normal" fill="#111" stroke="#111" stroke-width="0.25" text-anchor="end">0.0</text>
<text transform="translate(68.80,684.09) scale(1.04,1)" font-family="Liberation Sans" font-size="12.3" font-weight="normal" fill="#111" stroke="#111" stroke-width="0.25" text-anchor="end">-4.0k</text>
<text transform="translate(68.80,619.09) scale(1.04,1)" font-family="Liberation Sans" font-size="12.3" font-weight="normal" fill="#111" stroke="#111" stroke-width="0.25" text-anchor="end">-8.0k</text>
<text transform="translate(68.80,554.19) scale(1.04,1)" font-family="Liberation Sans" font-size="12.3" font-weight="normal" fill="#111" stroke="#111" stroke-width="0.25" text-anchor="end">-12.0k</text>
<text transform="translate(88.90,758.20) scale(1.04,1)" font-family="Liberation Sans" font-size="12.3" font-weight="normal" fill="#111" stroke="#111" stroke-width="0.25" text-anchor="middle">3.0k</text>
<text transform="translate(142.70,758.20) scale(1.04,1)" font-family="Liberation Sans" font-size="12.3" font-weight="normal" fill="#111" stroke="#111" stroke-width="0.25" text-anchor="middle">6.0k</text>
<text transform="translate(196.70,758.20) scale(1.04,1)" font-family="Liberation Sans" font-size="12.3" font-weight="normal" fill="#111" stroke="#111" stroke-width="0.25" text-anchor="middle">9.0k</text>
<text transform="translate(250.70,758.20) scale(1.04,1)" font-family="Liberation Sans" font-size="12.3" font-weight="normal" fill="#111" stroke="#111" stroke-width="0.25" text-anchor="middle">12.0k</text>
<text transform="translate(304.00,758.20) scale(1.04,1)" font-family="Liberation Sans" font-size="12.3" font-weight="normal" fill="#111" stroke="#111" stroke-width="0.25" text-anchor="middle">15.0k</text>
<text transform="translate(201.60,778.00) scale(1.04,1)" font-family="Liberation Sans" font-size="12.3" font-weight="normal" fill="#111" stroke="#111" stroke-width="0.25" text-anchor="middle">Z′ (Ω cm)</text>
<text transform="translate(17.61,646.30) rotate(-90) scale(1.04,1)" font-family="Liberation Sans" font-size="12.3" font-weight="normal" fill="#111" stroke="#111" stroke-width="0.25" text-anchor="middle">Z<tspan dx="1.6">″</tspan>(Ω cm)</text>
<line x1="142.70" y1="639.60" x2="146.20" y2="639.60" stroke="#3a3a3a" stroke-width="1.0"/>
<line x1="142.70" y1="605.90" x2="146.20" y2="605.90" stroke="#3a3a3a" stroke-width="1.0"/>
<line x1="142.70" y1="572.20" x2="146.20" y2="572.20" stroke="#3a3a3a" stroke-width="1.0"/>
<line x1="142.70" y1="538.50" x2="146.20" y2="538.50" stroke="#3a3a3a" stroke-width="1.0"/>
<line x1="142.70" y1="622.70" x2="144.70" y2="622.70" stroke="#3a3a3a" stroke-width="1.0"/>
<line x1="142.70" y1="589.00" x2="144.70" y2="589.00" stroke="#3a3a3a" stroke-width="1.0"/>
<line x1="142.70" y1="555.30" x2="144.70" y2="555.30" stroke="#3a3a3a" stroke-width="1.0"/>
<line x1="142.70" y1="639.60" x2="142.70" y2="636.10" stroke="#3a3a3a" stroke-width="1.0"/>
<line x1="217.30" y1="639.60" x2="217.30" y2="636.10" stroke="#3a3a3a" stroke-width="1.0"/>
<line x1="291.90" y1="639.60" x2="291.90" y2="636.10" stroke="#3a3a3a" stroke-width="1.0"/>
<line x1="180.00" y1="639.60" x2="180.00" y2="637.60" stroke="#3a3a3a" stroke-width="1.0"/>
<line x1="254.60" y1="639.60" x2="254.60" y2="637.60" stroke="#3a3a3a" stroke-width="1.0"/>
<text transform="translate(140.00,643.29) scale(1.04,1)" font-family="Liberation Sans" font-size="12.3" font-weight="normal" fill="#111" stroke="#111" stroke-width="0.25" text-anchor="end">0.0</text>
<text transform="translate(140.00,609.59) scale(1.04,1)" font-family="Liberation Sans" font-size="12.3" font-weight="normal" fill="#111" stroke="#111" stroke-width="0.25" text-anchor="end">-900.0</text>
<text transform="translate(140.00,575.89) scale(1.04,1)" font-family="Liberation Sans" font-size="12.3" font-weight="normal" fill="#111" stroke="#111" stroke-width="0.25" text-anchor="end">-1.8k</text>
<text transform="translate(140.00,542.19) scale(1.04,1)" font-family="Liberation Sans" font-size="12.3" font-weight="normal" fill="#111" stroke="#111" stroke-width="0.25" text-anchor="end">-2.7k</text>
<text transform="translate(139.50,651.50) scale(1.04,1)" font-family="Liberation Sans" font-size="12.3" font-weight="normal" fill="#111" stroke="#111" stroke-width="0.25" text-anchor="middle">2.0k</text>
<text transform="translate(217.90,651.50) scale(1.04,1)" font-family="Liberation Sans" font-size="12.3" font-weight="normal" fill="#111" stroke="#111" stroke-width="0.25" text-anchor="middle">4.0k</text>
<text transform="translate(292.10,651.50) scale(1.04,1)" font-family="Liberation Sans" font-size="12.3" font-weight="normal" fill="#111" stroke="#111" stroke-width="0.25" text-anchor="middle">6.0k</text>
<text transform="translate(219.00,670.80) scale(1.04,1)" font-family="Liberation Sans" font-size="12.3" font-weight="normal" fill="#111" stroke="#111" stroke-width="0.25" text-anchor="middle">Z′ (Ω cm)</text>
<text transform="translate(99.41,571.60) rotate(-90) scale(1.04,1)" font-family="Liberation Sans" font-size="12.3" font-weight="normal" fill="#111" stroke="#111" stroke-width="0.25" text-anchor="middle">Z<tspan dx="1.6">″</tspan>(Ω cm)</text>
<text transform="translate(299.70,544.10)" font-family="Liberation Sans" font-size="14.4" font-weight="normal" fill="#111" stroke="#111" stroke-width="0.25" text-anchor="middle">(c)</text>
<text transform="translate(173.80,596.00)" font-family="Liberation Serif" font-size="14.5" font-weight="normal" fill="#111" stroke="#111" stroke-width="0.25" text-anchor="start">CP</text>
<text transform="translate(206.50,608.10)" font-family="Liberation Serif" font-size="14.5" font-weight="normal" fill="#111" stroke="#111" stroke-width="0.25" text-anchor="start">PB</text>
<text transform="translate(237.50,619.40)" font-family="Liberation Serif" font-size="14.5" font-weight="normal" fill="#111" stroke="#111" stroke-width="0.25" text-anchor="start">GB</text>
<text transform="translate(273.70,620.90)" font-family="Liberation Serif" font-size="14.5" font-weight="normal" fill="#111" stroke="#111" stroke-width="0.25" text-anchor="start">ED</text>
<circle cx="270.0" cy="688.6" r="3.3" fill="#fff" stroke="#000" stroke-width="1.25"/>
<rect x="266.7" y="701.7" width="6.6" height="6.6" fill="#000"/>
<path d="M270.0,717.4 L274.3,724.6 L265.7,724.6Z" fill="#fff" stroke="#000" stroke-width="1.25" stroke-linejoin="miter"/>
<text transform="translate(282.00,692.23) scale(1.04,1)" font-family="Liberation Sans" font-size="12.3" font-weight="normal" fill="#111" stroke="#111" stroke-width="0.25" text-anchor="start">O<tspan font-size="11.1">2</tspan></text>
<text transform="translate(282.00,708.63) scale(1.04,1)" font-family="Liberation Sans" font-size="12.3" font-weight="normal" fill="#111" stroke="#111" stroke-width="0.25" text-anchor="start">air</text>
<text transform="translate(282.00,724.83) scale(1.04,1)" font-family="Liberation Sans" font-size="12.3" font-weight="normal" fill="#111" stroke="#111" stroke-width="0.25" text-anchor="start">N<tspan font-size="11.1">2</tspan></text>
<line x1="258.20" y1="738.40" x2="277.40" y2="738.40" stroke="#e03838" stroke-width="1.3"/>
<text transform="translate(282.00,742.03) scale(1.04,1)" font-family="Liberation Sans" font-size="12.3" font-weight="normal" fill="#111" stroke="#111" stroke-width="0.25" text-anchor="start">fitting</text>
<text transform="translate(85.40,710.20)" font-family="Liberation Serif" font-size="14.5" font-weight="normal" fill="#111" stroke="#111" stroke-width="0.25" text-anchor="start">CP</text>
<text transform="translate(127.80,716.60)" font-family="Liberation Serif" font-size="14.5" font-weight="normal" fill="#111" stroke="#111" stroke-width="0.25" text-anchor="start">PB</text>
<text transform="translate(161.50,725.10)" font-family="Liberation Serif" font-size="14.5" font-weight="normal" fill="#111" stroke="#111" stroke-width="0.25" text-anchor="start">GB</text>
<text transform="translate(227.60,691.70)" font-family="Liberation Serif" font-size="14.5" font-weight="bold" fill="#111" text-anchor="start">W</text>
<text transform="translate(90.70,686.20)" font-family="Liberation Serif" font-size="14.5" font-weight="normal" fill="#2020c8" stroke="#2020c8" stroke-width="0.25" text-anchor="start">550 °C</text>
<g fill="#fff" stroke="#000" stroke-width="0.8"><circle cx="73.7" cy="992.3" r="2.02"/><circle cx="75.6" cy="993.5" r="2.02"/><circle cx="77.4" cy="994.7" r="2.02"/><circle cx="79.3" cy="995.8" r="2.02"/><circle cx="81.0" cy="997.1" r="2.02"/><circle cx="82.8" cy="998.4" r="2.02"/><circle cx="84.8" cy="999.3" r="2.02"/><circle cx="87.0" cy="999.8" r="2.02"/><circle cx="89.2" cy="1000.1" r="2.02"/><circle cx="91.4" cy="1000.3" r="2.02"/><circle cx="93.6" cy="1000.3" r="2.02"/><circle cx="95.8" cy="1000.3" r="2.02"/><circle cx="98.0" cy="1000.3" r="2.02"/><circle cx="100.1" cy="1000.4" r="2.02"/><circle cx="102.1" cy="1001.4" r="2.02"/></g>
<g fill="#000" stroke="none"><rect x="73.8" y="986.8" width="4.1" height="4.1"/><rect x="75.4" y="988.0" width="4.1" height="4.1"/><rect x="77.1" y="989.2" width="4.1" height="4.1"/><rect x="78.6" y="990.5" width="4.1" height="4.1"/><rect x="80.2" y="991.7" width="4.1" height="4.1"/><rect x="81.8" y="992.9" width="4.1" height="4.1"/><rect x="83.5" y="993.9" width="4.1" height="4.1"/><rect x="85.2" y="994.9" width="4.1" height="4.1"/><rect x="87.0" y="995.7" width="4.1" height="4.1"/><rect x="88.9" y="996.4" width="4.1" height="4.1"/><rect x="90.9" y="996.9" width="4.1" height="4.1"/><rect x="92.9" y="997.1" width="4.1" height="4.1"/><rect x="94.8" y="997.4" width="4.1" height="4.1"/><rect x="96.8" y="997.6" width="4.1" height="4.1"/><rect x="98.8" y="997.8" width="4.1" height="4.1"/><rect x="100.8" y="997.9" width="4.1" height="4.1"/><rect x="102.8" y="998.1" width="4.1" height="4.1"/><rect x="104.8" y="998.4" width="4.1" height="4.1"/><rect x="106.8" y="998.8" width="4.1" height="4.1"/><rect x="108.7" y="999.1" width="4.1" height="4.1"/><rect x="110.7" y="999.5" width="4.1" height="4.1"/><rect x="112.7" y="999.8" width="4.1" height="4.1"/><rect x="114.7" y="1000.0" width="4.1" height="4.1"/><rect x="116.6" y="1000.1" width="4.1" height="4.1"/></g>
<g fill="#fff" stroke="#000" stroke-width="0.9"><path d="M83.0,978.5 L85.8,983.1 L80.2,983.1Z"/><path d="M86.5,979.4 L89.2,984.0 L83.7,984.0Z"/><path d="M89.9,980.5 L92.7,985.1 L87.2,985.1Z"/><path d="M93.3,981.8 L96.0,986.4 L90.5,986.4Z"/><path d="M96.6,983.2 L99.3,987.8 L93.8,987.8Z"/><path d="M99.8,984.9 L102.5,989.5 L97.0,989.5Z"/><path d="M102.8,986.8 L105.5,991.4 L100.0,991.4Z"/><path d="M105.5,989.2 L108.3,993.8 L102.8,993.8Z"/><path d="M108.2,991.6 L110.9,996.2 L105.4,996.2Z"/><path d="M110.7,994.2 L113.4,998.8 L107.9,998.8Z"/><path d="M113.5,996.5 L116.2,1001.0 L110.7,1001.0Z"/><path d="M116.8,997.1 L119.6,1001.7 L114.1,1001.7Z"/><path d="M119.9,995.4 L122.7,1000.0 L117.2,1000.0Z"/><path d="M122.8,993.2 L125.6,997.8 L120.1,997.8Z"/><path d="M125.5,990.8 L128.3,995.4 L122.8,995.4Z"/><path d="M128.2,988.5 L131.0,993.1 L125.5,993.1Z"/><path d="M130.9,986.1 L133.7,990.7 L128.2,990.7Z"/><path d="M133.7,983.7 L136.4,988.3 L130.9,988.3Z"/><path d="M136.4,981.4 L139.1,986.0 L133.6,986.0Z"/><path d="M139.3,978.9 L142.1,983.5 L136.6,983.5Z"/><path d="M142.7,976.0 L145.5,980.6 L140.0,980.6Z"/><path d="M146.5,972.6 L149.2,977.2 L143.7,977.2Z"/><path d="M150.3,968.2 L153.0,972.8 L147.5,972.8Z"/><path d="M154.5,963.3 L157.3,967.9 L151.8,967.9Z"/><path d="M158.4,958.0 L161.2,962.6 L155.7,962.6Z"/><path d="M161.9,952.3 L164.6,956.9 L159.1,956.9Z"/><path d="M165.5,946.6 L168.3,951.2 L162.8,951.2Z"/><path d="M169.1,940.8 L171.8,945.4 L166.3,945.4Z"/><path d="M172.7,934.9 L175.4,939.5 L169.9,939.5Z"/><path d="M176.5,929.1 L179.3,933.7 L173.8,933.7Z"/><path d="M181.3,924.0 L184.1,928.6 L178.6,928.6Z"/><path d="M186.7,919.3 L189.5,923.9 L184.0,923.9Z"/><path d="M192.6,915.1 L195.3,919.7 L189.8,919.7Z"/></g>
<g fill="#fff" stroke="#000" stroke-width="0.8"><path d="M203.8,909.9 L206.8,914.8 L200.8,914.8Z"/><path d="M216.7,908.3 L219.7,913.2 L213.7,913.2Z"/><path d="M231.1,910.5 L234.1,915.4 L228.1,915.4Z"/></g>
<path d="M83.0,981.1 L83.3,981.2 L83.6,981.2 L83.8,981.3 L84.1,981.4 L84.4,981.4 L84.7,981.5 L84.9,981.6 L85.2,981.6 L85.5,981.7 L85.8,981.8 L86.0,981.9 L86.3,982.0 L86.6,982.0 L86.9,982.1 L87.1,982.2 L87.4,982.3 L87.7,982.4 L88.0,982.5 L88.3,982.6 L88.5,982.6 L88.8,982.7 L89.1,982.8 L89.4,982.9 L89.6,983.0 L89.9,983.1 L90.2,983.2 L90.5,983.3 L90.7,983.4 L91.0,983.5 L91.3,983.6 L91.6,983.7 L91.8,983.8 L92.1,983.9 L92.4,984.0 L92.7,984.2 L93.0,984.3 L93.2,984.4 L93.5,984.5 L93.8,984.6 L94.1,984.7 L94.3,984.8 L94.6,984.9 L94.9,985.1 L95.2,985.2 L95.4,985.3 L95.7,985.4 L96.0,985.6 L96.3,985.7 L96.5,985.8 L96.8,986.0 L97.1,986.1 L97.4,986.2 L97.7,986.4 L97.9,986.5 L98.2,986.7 L98.5,986.8 L98.8,987.0 L99.0,987.1 L99.3,987.3 L99.6,987.4 L99.9,987.6 L100.1,987.7 L100.4,987.9 L100.7,988.1 L101.0,988.2 L101.2,988.4 L101.5,988.6 L101.8,988.8 L102.1,988.9 L102.4,989.1 L102.6,989.3 L102.9,989.6 L103.2,989.8 L103.5,990.0 L103.7,990.2 L104.0,990.5 L104.3,990.7 L104.6,990.9 L104.8,991.2 L105.1,991.4 L105.4,991.7 L105.7,991.9 L105.9,992.2 L106.2,992.5 L106.5,992.7 L106.8,993.0 L107.1,993.2 L107.3,993.5 L107.6,993.7 L107.9,994.0 L108.2,994.2 L108.4,994.5 L108.7,994.8 L109.0,995.1 L109.3,995.3 L109.5,995.6 L109.8,995.9 L110.1,996.2 L110.4,996.5 L110.6,996.8 L110.9,997.0 L111.2,997.3 L111.5,997.5 L111.7,997.8 L112.0,998.0 L112.3,998.2 L112.6,998.4 L112.9,998.6 L113.1,998.8 L113.4,999.0 L113.7,999.2 L114.0,999.4 L114.2,999.6 L114.5,999.7 L114.8,999.9 L115.1,999.9 L115.3,1000.0 L115.6,1000.0 L115.9,1000.0 L116.2,999.9 L116.4,999.9 L116.7,999.8 L117.0,999.7 L117.3,999.6 L117.6,999.4 L117.8,999.3 L118.1,999.1 L118.4,999.0 L118.7,998.8 L118.9,998.6 L119.2,998.5 L119.5,998.3 L119.8,998.1 L120.0,998.0 L120.3,997.8 L120.6,997.6 L120.9,997.4 L121.1,997.2 L121.4,997.0 L121.7,996.8 L122.0,996.6 L122.3,996.4 L122.5,996.1 L122.8,995.9 L123.1,995.7 L123.4,995.4 L123.6,995.2 L123.9,994.9 L124.2,994.6 L124.5,994.4 L124.7,994.1 L125.0,993.9 L125.3,993.7 L125.6,993.4 L125.8,993.2 L126.1,992.9 L126.4,992.7 L126.7,992.5 L127.0,992.2 L127.2,992.0 L127.5,991.7 L127.8,991.5 L128.1,991.3 L128.3,991.0 L128.6,990.8 L128.9,990.5 L129.2,990.3 L129.4,990.0 L129.7,989.8 L130.0,989.6 L130.3,989.3 L130.5,989.1 L130.8,988.8 L131.1,988.6 L131.4,988.3 L131.7,988.1 L131.9,987.9 L132.2,987.6 L132.5,987.4 L132.8,987.1 L133.0,986.9 L133.3,986.7 L133.6,986.4 L133.9,986.2 L134.1,985.9 L134.4,985.7 L134.7,985.5 L135.0,985.2 L135.2,985.0 L135.5,984.8 L135.8,984.5 L136.1,984.3 L136.4,984.1 L136.6,983.8 L136.9,983.6 L137.2,983.4 L137.5,983.1 L137.7,982.9 L138.0,982.6 L138.3,982.4 L138.6,982.2 L138.8,981.9 L139.1,981.7 L139.4,981.5 L139.7,981.2 L139.9,981.0 L140.2,980.8 L140.5,980.5 L140.8,980.3 L141.1,980.1 L141.3,979.8 L141.6,979.6 L141.9,979.4 L142.2,979.2 L142.4,978.9 L142.7,978.7 L143.0,978.4 L143.3,978.2 L143.5,978.0 L143.8,977.7 L144.1,977.5 L144.4,977.2 L144.6,977.0 L144.9,976.7 L145.2,976.5 L145.5,976.2 L145.8,975.9 L146.0,975.7 L146.3,975.4 L146.6,975.1 L146.9,974.8 L147.1,974.5 L147.4,974.2 L147.7,973.9 L148.0,973.6 L148.2,973.3 L148.5,972.9 L148.8,972.6 L149.1,972.3 L149.3,972.0 L149.6,971.6 L149.9,971.3 L150.2,971.0 L150.5,970.6 L150.7,970.3 L151.0,969.9 L151.3,969.6 L151.6,969.3 L151.8,969.0 L152.1,968.6 L152.4,968.3 L152.7,968.0 L152.9,967.7 L153.2,967.4 L153.5,967.0 L153.8,966.7 L154.0,966.4 L154.3,966.1 L154.6,965.8 L154.9,965.5 L155.2,965.2 L155.4,964.8 L155.7,964.5 L156.0,964.2 L156.3,963.8 L156.5,963.5 L156.8,963.1 L157.1,962.7 L157.4,962.3 L157.6,961.9 L157.9,961.5 L158.2,961.0 L158.5,960.6 L158.7,960.1 L159.0,959.6 L159.3,959.2 L159.6,958.7 L159.9,958.2 L160.1,957.8 L160.4,957.3 L160.7,956.8 L161.0,956.4 L161.2,955.9 L161.5,955.5 L161.8,955.1 L162.1,954.6 L162.3,954.2 L162.6,953.8 L162.9,953.3 L163.2,952.9 L163.4,952.5 L163.7,952.0 L164.0,951.6 L164.3,951.2 L164.6,950.7 L164.8,950.3 L165.1,949.8 L165.4,949.4 L165.7,949.0 L165.9,948.5 L166.2,948.1 L166.5,947.6 L166.8,947.2 L167.0,946.7 L167.3,946.3 L167.6,945.9 L167.9,945.4 L168.1,945.0 L168.4,944.5 L168.7,944.1 L169.0,943.6 L169.2,943.2 L169.5,942.7 L169.8,942.3 L170.1,941.8 L170.4,941.4 L170.6,940.9 L170.9,940.5 L171.2,940.0 L171.5,939.6 L171.7,939.1 L172.0,938.6 L172.3,938.2 L172.6,937.7 L172.8,937.2 L173.1,936.8 L173.4,936.3 L173.7,935.9 L173.9,935.4 L174.2,935.0 L174.5,934.6 L174.8,934.2 L175.1,933.8 L175.3,933.4 L175.6,933.0 L175.9,932.6 L176.2,932.2 L176.4,931.9 L176.7,931.6 L177.0,931.2 L177.3,930.9 L177.5,930.6 L177.8,930.3 L178.1,930.0 L178.4,929.7 L178.6,929.3 L178.9,929.1 L179.2,928.8 L179.5,928.5 L179.8,928.2 L180.0,927.9 L180.3,927.6 L180.6,927.4 L180.9,927.1 L181.1,926.8 L181.4,926.6 L181.7,926.3 L182.0,926.0 L182.2,925.8 L182.5,925.5 L182.8,925.3 L183.1,925.0 L183.3,924.8 L183.6,924.6 L183.9,924.3 L184.2,924.1 L184.5,923.8 L184.7,923.6 L185.0,923.4 L185.3,923.1 L185.6,922.9 L185.8,922.7 L186.1,922.4 L186.4,922.2 L186.7,922.0 L186.9,921.8 L187.2,921.6 L187.5,921.3 L187.8,921.1 L188.0,920.9 L188.3,920.7 L188.6,920.5 L188.9,920.3 L189.2,920.1 L189.4,919.9 L189.7,919.7 L190.0,919.5 L190.3,919.3 L190.5,919.1 L190.8,918.9 L191.1,918.7 L191.4,918.5 L191.6,918.3 L191.9,918.2 L192.2,918.0 L192.5,917.8 L192.7,917.6 L193.0,917.5 L193.3,917.3" fill="none" stroke="#c82828" stroke-width="1.05" stroke-linejoin="round"/>
<path d="M75.9,988.9 L76.0,989.0 L76.1,989.1 L76.2,989.1 L76.3,989.2 L76.4,989.3 L76.5,989.4 L76.7,989.4 L76.8,989.5 L76.9,989.6 L77.0,989.7 L77.1,989.8 L77.2,989.8 L77.3,989.9 L77.4,990.0 L77.5,990.1 L77.6,990.2 L77.7,990.2 L77.8,990.3 L77.9,990.4 L78.1,990.5 L78.2,990.6 L78.3,990.6 L78.4,990.7 L78.5,990.8 L78.6,990.9 L78.7,991.0 L78.8,991.0 L78.9,991.1 L79.0,991.2 L79.1,991.3 L79.2,991.4 L79.3,991.4 L79.5,991.5 L79.6,991.6 L79.7,991.7 L79.8,991.8 L79.9,991.9 L80.0,992.0 L80.1,992.0 L80.2,992.1 L80.3,992.2 L80.4,992.3 L80.5,992.4 L80.6,992.5 L80.7,992.6 L80.9,992.7 L81.0,992.8 L81.1,992.8 L81.2,992.9 L81.3,993.0 L81.4,993.1 L81.5,993.2 L81.6,993.3 L81.7,993.4 L81.8,993.5 L81.9,993.6 L82.0,993.6 L82.2,993.7 L82.3,993.8 L82.4,993.9 L82.5,994.0 L82.6,994.1 L82.7,994.2 L82.8,994.2 L82.9,994.3 L83.0,994.4 L83.1,994.5 L83.2,994.6 L83.3,994.6 L83.4,994.7 L83.6,994.8 L83.7,994.9 L83.8,995.0 L83.9,995.0 L84.0,995.1 L84.1,995.2 L84.2,995.2 L84.3,995.3 L84.4,995.4 L84.5,995.4 L84.6,995.5 L84.7,995.6 L84.8,995.6 L85.0,995.7 L85.1,995.7 L85.2,995.8 L85.3,995.9 L85.4,995.9 L85.5,996.0 L85.6,996.0 L85.7,996.1 L85.8,996.2 L85.9,996.2 L86.0,996.3 L86.1,996.3 L86.2,996.4 L86.4,996.5 L86.5,996.5 L86.6,996.6 L86.7,996.6 L86.8,996.7 L86.9,996.7 L87.0,996.8 L87.1,996.9 L87.2,996.9 L87.3,997.0 L87.4,997.0 L87.5,997.1 L87.6,997.1 L87.8,997.2 L87.9,997.2 L88.0,997.3 L88.1,997.3 L88.2,997.4 L88.3,997.4 L88.4,997.5 L88.5,997.5 L88.6,997.6 L88.7,997.6 L88.8,997.7 L88.9,997.7 L89.0,997.8 L89.2,997.8 L89.3,997.9 L89.4,997.9 L89.5,998.0 L89.6,998.0 L89.7,998.1 L89.8,998.1 L89.9,998.1 L90.0,998.2 L90.1,998.2 L90.2,998.3 L90.3,998.3 L90.4,998.3 L90.6,998.4 L90.7,998.4 L90.8,998.4 L90.9,998.5 L91.0,998.5 L91.1,998.5 L91.2,998.6 L91.3,998.6 L91.4,998.6 L91.5,998.7 L91.6,998.7 L91.7,998.7 L91.8,998.7 L92.0,998.8 L92.1,998.8 L92.2,998.8 L92.3,998.8 L92.4,998.8 L92.5,998.9 L92.6,998.9 L92.7,998.9 L92.8,998.9 L92.9,998.9 L93.0,998.9 L93.1,999.0 L93.3,999.0 L93.4,999.0 L93.5,999.0 L93.6,999.0 L93.7,999.0 L93.8,999.1 L93.9,999.1 L94.0,999.1 L94.1,999.1 L94.2,999.1 L94.3,999.1 L94.4,999.2 L94.5,999.2 L94.7,999.2 L94.8,999.2 L94.9,999.2 L95.0,999.2 L95.1,999.2 L95.2,999.2 L95.3,999.3 L95.4,999.3 L95.5,999.3 L95.6,999.3 L95.7,999.3 L95.8,999.3 L95.9,999.3 L96.1,999.3 L96.2,999.4 L96.3,999.4 L96.4,999.4 L96.5,999.4 L96.6,999.4 L96.7,999.4 L96.8,999.4 L96.9,999.4 L97.0,999.4 L97.1,999.5 L97.2,999.5 L97.3,999.5 L97.5,999.5 L97.6,999.5 L97.7,999.5 L97.8,999.5 L97.9,999.5 L98.0,999.5 L98.1,999.5 L98.2,999.6 L98.3,999.6 L98.4,999.6 L98.5,999.6 L98.6,999.6 L98.7,999.6 L98.9,999.6 L99.0,999.6 L99.1,999.6 L99.2,999.7 L99.3,999.7 L99.4,999.7 L99.5,999.7 L99.6,999.7 L99.7,999.7 L99.8,999.7 L99.9,999.7 L100.0,999.7 L100.1,999.8 L100.3,999.8 L100.4,999.8 L100.5,999.8 L100.6,999.8 L100.7,999.8 L100.8,999.8 L100.9,999.8 L101.0,999.8 L101.1,999.9 L101.2,999.9 L101.3,999.9 L101.4,999.9 L101.5,999.9 L101.7,999.9 L101.8,999.9 L101.9,999.9 L102.0,999.9 L102.1,999.9 L102.2,1000.0 L102.3,1000.0 L102.4,1000.0 L102.5,1000.0 L102.6,1000.0 L102.7,1000.0 L102.8,1000.0 L103.0,1000.0 L103.1,1000.0 L103.2,1000.0 L103.3,1000.1 L103.4,1000.1 L103.5,1000.1 L103.6,1000.1 L103.7,1000.1 L103.8,1000.1 L103.9,1000.1 L104.0,1000.1 L104.1,1000.1 L104.2,1000.1 L104.4,1000.2 L104.5,1000.2 L104.6,1000.2 L104.7,1000.2 L104.8,1000.2 L104.9,1000.2 L105.0,1000.2 L105.1,1000.2 L105.2,1000.3 L105.3,1000.3 L105.4,1000.3 L105.5,1000.3 L105.6,1000.3 L105.8,1000.3 L105.9,1000.3 L106.0,1000.3 L106.1,1000.4 L106.2,1000.4 L106.3,1000.4 L106.4,1000.4 L106.5,1000.4 L106.6,1000.4 L106.7,1000.5 L106.8,1000.5 L106.9,1000.5 L107.0,1000.5 L107.2,1000.5 L107.3,1000.5 L107.4,1000.6 L107.5,1000.6 L107.6,1000.6 L107.7,1000.6 L107.8,1000.6 L107.9,1000.7 L108.0,1000.7 L108.1,1000.7 L108.2,1000.7 L108.3,1000.7 L108.4,1000.8 L108.6,1000.8 L108.7,1000.8 L108.8,1000.8 L108.9,1000.8 L109.0,1000.9 L109.1,1000.9 L109.2,1000.9 L109.3,1000.9 L109.4,1000.9 L109.5,1001.0 L109.6,1001.0 L109.7,1001.0 L109.8,1001.0 L110.0,1001.1 L110.1,1001.1 L110.2,1001.1 L110.3,1001.1 L110.4,1001.1 L110.5,1001.2 L110.6,1001.2 L110.7,1001.2 L110.8,1001.2 L110.9,1001.2 L111.0,1001.3 L111.1,1001.3 L111.2,1001.3 L111.4,1001.3 L111.5,1001.3 L111.6,1001.4 L111.7,1001.4 L111.8,1001.4 L111.9,1001.4 L112.0,1001.4 L112.1,1001.5 L112.2,1001.5 L112.3,1001.5 L112.4,1001.5 L112.5,1001.5 L112.6,1001.6 L112.8,1001.6 L112.9,1001.6 L113.0,1001.6 L113.1,1001.6 L113.2,1001.6 L113.3,1001.7 L113.4,1001.7 L113.5,1001.7 L113.6,1001.7 L113.7,1001.7 L113.8,1001.7 L113.9,1001.7 L114.1,1001.8 L114.2,1001.8 L114.3,1001.8 L114.4,1001.8 L114.5,1001.8 L114.6,1001.8 L114.7,1001.8 L114.8,1001.8 L114.9,1001.9 L115.0,1001.9 L115.1,1001.9 L115.2,1001.9 L115.3,1001.9 L115.5,1001.9 L115.6,1001.9 L115.7,1001.9 L115.8,1001.9 L115.9,1002.0 L116.0,1002.0 L116.1,1002.0 L116.2,1002.0 L116.3,1002.0 L116.4,1002.0 L116.5,1002.0 L116.6,1002.0 L116.7,1002.0 L116.9,1002.0 L117.0,1002.1 L117.1,1002.1 L117.2,1002.1 L117.3,1002.1 L117.4,1002.1 L117.5,1002.1 L117.6,1002.1 L117.7,1002.1 L117.8,1002.1 L117.9,1002.1 L118.0,1002.1 L118.1,1002.1 L118.3,1002.2 L118.4,1002.2 L118.5,1002.2 L118.6,1002.2 L118.7,1002.2 L118.8,1002.2 L118.9,1002.2" fill="none" stroke="#c82828" stroke-width="1.05" stroke-linejoin="round"/>
<path d="M73.7,992.3 L73.8,992.3 L73.8,992.4 L73.9,992.4 L74.0,992.5 L74.1,992.5 L74.1,992.6 L74.2,992.6 L74.3,992.7 L74.4,992.7 L74.4,992.8 L74.5,992.8 L74.6,992.9 L74.7,992.9 L74.7,993.0 L74.8,993.0 L74.9,993.1 L75.0,993.1 L75.0,993.2 L75.1,993.2 L75.2,993.2 L75.3,993.3 L75.3,993.3 L75.4,993.4 L75.5,993.4 L75.6,993.5 L75.6,993.5 L75.7,993.6 L75.8,993.6 L75.9,993.7 L75.9,993.7 L76.0,993.8 L76.1,993.8 L76.1,993.9 L76.2,993.9 L76.3,994.0 L76.4,994.0 L76.4,994.0 L76.5,994.1 L76.6,994.1 L76.7,994.2 L76.7,994.2 L76.8,994.3 L76.9,994.3 L77.0,994.4 L77.0,994.4 L77.1,994.5 L77.2,994.5 L77.3,994.6 L77.3,994.6 L77.4,994.7 L77.5,994.7 L77.6,994.8 L77.6,994.8 L77.7,994.8 L77.8,994.9 L77.9,994.9 L77.9,995.0 L78.0,995.0 L78.1,995.1 L78.2,995.1 L78.2,995.2 L78.3,995.2 L78.4,995.3 L78.4,995.3 L78.5,995.4 L78.6,995.4 L78.7,995.5 L78.7,995.5 L78.8,995.5 L78.9,995.6 L79.0,995.6 L79.0,995.7 L79.1,995.7 L79.2,995.8 L79.3,995.8 L79.3,995.9 L79.4,995.9 L79.5,996.0 L79.6,996.0 L79.6,996.1 L79.7,996.1 L79.8,996.2 L79.9,996.3 L79.9,996.3 L80.0,996.4 L80.1,996.4 L80.2,996.5 L80.2,996.5 L80.3,996.6 L80.4,996.6 L80.5,996.7 L80.5,996.8 L80.6,996.8 L80.7,996.9 L80.7,996.9 L80.8,997.0 L80.9,997.0 L81.0,997.1 L81.0,997.1 L81.1,997.2 L81.2,997.3 L81.3,997.3 L81.3,997.4 L81.4,997.4 L81.5,997.5 L81.6,997.5 L81.6,997.6 L81.7,997.6 L81.8,997.7 L81.9,997.8 L81.9,997.8 L82.0,997.9 L82.1,997.9 L82.2,998.0 L82.2,998.0 L82.3,998.1 L82.4,998.1 L82.5,998.2 L82.5,998.2 L82.6,998.3 L82.7,998.3 L82.8,998.4 L82.8,998.4 L82.9,998.5 L83.0,998.5 L83.0,998.5 L83.1,998.6 L83.2,998.6 L83.3,998.7 L83.3,998.7 L83.4,998.8 L83.5,998.8 L83.6,998.8 L83.6,998.9 L83.7,998.9 L83.8,998.9 L83.9,999.0 L83.9,999.0 L84.0,999.0 L84.1,999.1 L84.2,999.1 L84.2,999.1 L84.3,999.2 L84.4,999.2 L84.5,999.2 L84.5,999.2 L84.6,999.3 L84.7,999.3 L84.8,999.3 L84.8,999.3 L84.9,999.3 L85.0,999.3 L85.1,999.4 L85.1,999.4 L85.2,999.4 L85.3,999.4 L85.3,999.4 L85.4,999.4 L85.5,999.5 L85.6,999.5 L85.6,999.5 L85.7,999.5 L85.8,999.5 L85.9,999.5 L85.9,999.5 L86.0,999.6 L86.1,999.6 L86.2,999.6 L86.2,999.6 L86.3,999.6 L86.4,999.6 L86.5,999.7 L86.5,999.7 L86.6,999.7 L86.7,999.7 L86.8,999.7 L86.8,999.7 L86.9,999.7 L87.0,999.8 L87.1,999.8 L87.1,999.8 L87.2,999.8 L87.3,999.8 L87.4,999.8 L87.4,999.8 L87.5,999.9 L87.6,999.9 L87.6,999.9 L87.7,999.9 L87.8,999.9 L87.9,999.9 L87.9,999.9 L88.0,999.9 L88.1,999.9 L88.2,1000.0 L88.2,1000.0 L88.3,1000.0 L88.4,1000.0 L88.5,1000.0 L88.5,1000.0 L88.6,1000.0 L88.7,1000.0 L88.8,1000.0 L88.8,1000.1 L88.9,1000.1 L89.0,1000.1 L89.1,1000.1 L89.1,1000.1 L89.2,1000.1 L89.3,1000.1 L89.4,1000.1 L89.4,1000.1 L89.5,1000.1 L89.6,1000.1 L89.6,1000.2 L89.7,1000.2 L89.8,1000.2 L89.9,1000.2 L89.9,1000.2 L90.0,1000.2 L90.1,1000.2 L90.2,1000.2 L90.2,1000.2 L90.3,1000.2 L90.4,1000.2 L90.5,1000.2 L90.5,1000.2 L90.6,1000.2 L90.7,1000.2 L90.8,1000.3 L90.8,1000.3 L90.9,1000.3 L91.0,1000.3 L91.1,1000.3 L91.1,1000.3 L91.2,1000.3 L91.3,1000.3 L91.4,1000.3 L91.4,1000.3 L91.5,1000.3 L91.6,1000.3 L91.7,1000.3 L91.7,1000.3 L91.8,1000.3 L91.9,1000.3 L91.9,1000.3 L92.0,1000.3 L92.1,1000.3 L92.2,1000.3 L92.2,1000.3 L92.3,1000.3 L92.4,1000.3 L92.5,1000.3 L92.5,1000.3 L92.6,1000.3 L92.7,1000.3 L92.8,1000.3 L92.8,1000.3 L92.9,1000.3 L93.0,1000.3 L93.1,1000.3 L93.1,1000.3 L93.2,1000.3 L93.3,1000.3 L93.4,1000.3 L93.4,1000.3 L93.5,1000.3 L93.6,1000.3 L93.7,1000.3 L93.7,1000.3 L93.8,1000.3 L93.9,1000.3 L94.0,1000.3 L94.0,1000.3 L94.1,1000.3 L94.2,1000.3 L94.2,1000.3 L94.3,1000.3 L94.4,1000.3 L94.5,1000.3 L94.5,1000.3 L94.6,1000.3 L94.7,1000.3 L94.8,1000.3 L94.8,1000.3 L94.9,1000.3 L95.0,1000.3 L95.1,1000.3 L95.1,1000.3 L95.2,1000.3 L95.3,1000.3 L95.4,1000.3 L95.4,1000.3 L95.5,1000.3 L95.6,1000.3 L95.7,1000.3 L95.7,1000.3 L95.8,1000.3 L95.9,1000.3 L96.0,1000.3 L96.0,1000.3 L96.1,1000.3 L96.2,1000.3 L96.3,1000.3 L96.3,1000.3 L96.4,1000.3 L96.5,1000.3 L96.5,1000.3 L96.6,1000.3 L96.7,1000.3 L96.8,1000.3 L96.8,1000.3 L96.9,1000.3 L97.0,1000.3 L97.1,1000.3 L97.1,1000.3 L97.2,1000.3 L97.3,1000.3 L97.4,1000.3 L97.4,1000.3 L97.5,1000.3 L97.6,1000.3 L97.7,1000.3 L97.7,1000.3 L97.8,1000.3 L97.9,1000.3 L98.0,1000.3 L98.0,1000.3 L98.1,1000.3 L98.2,1000.3 L98.3,1000.3 L98.3,1000.3 L98.4,1000.3 L98.5,1000.3 L98.6,1000.3 L98.6,1000.3 L98.7,1000.3 L98.8,1000.3 L98.8,1000.3 L98.9,1000.3 L99.0,1000.3 L99.1,1000.3 L99.1,1000.3 L99.2,1000.3 L99.3,1000.3 L99.4,1000.3 L99.4,1000.3 L99.5,1000.3 L99.6,1000.3 L99.7,1000.3 L99.7,1000.3 L99.8,1000.3 L99.9,1000.3 L100.0,1000.3 L100.0,1000.3 L100.1,1000.4 L100.2,1000.4 L100.3,1000.4 L100.3,1000.4 L100.4,1000.4 L100.5,1000.5 L100.6,1000.5 L100.6,1000.5 L100.7,1000.5 L100.8,1000.6 L100.9,1000.6 L100.9,1000.6 L101.0,1000.7 L101.1,1000.7 L101.1,1000.8 L101.2,1000.8 L101.3,1000.8 L101.4,1000.9 L101.4,1000.9 L101.5,1001.0 L101.6,1001.0 L101.7,1001.1 L101.7,1001.1 L101.8,1001.2 L101.9,1001.2 L102.0,1001.3 L102.0,1001.3 L102.1,1001.4 L102.2,1001.4 L102.3,1001.5 L102.3,1001.5 L102.4,1001.6 L102.5,1001.6 L102.6,1001.7 L102.6,1001.7 L102.7,1001.8 L102.8,1001.8 L102.9,1001.9 L102.9,1001.9 L103.0,1002.0 L103.1,1002.0 L103.2,1002.1 L103.2,1002.1 L103.3,1002.2" fill="none" stroke="#c82828" stroke-width="1.05" stroke-linejoin="round"/>
<rect x="142.2" y="785.5" width="170.10000000000002" height="97.5" fill="#fff"/>
<g fill="#fff" stroke="#000" stroke-width="1.0"><circle cx="154.7" cy="839.7" r="2.44"/><circle cx="158.8" cy="842.7" r="2.44"/><circle cx="162.8" cy="845.8" r="2.44"/><circle cx="166.6" cy="848.9" r="2.44"/><circle cx="170.3" cy="852.1" r="2.44"/><circle cx="173.9" cy="855.3" r="2.44"/><circle cx="177.4" cy="858.4" r="2.44"/><circle cx="180.8" cy="861.7" r="2.44"/><circle cx="184.0" cy="864.9" r="2.44"/><circle cx="187.7" cy="867.5" r="2.44"/><circle cx="191.7" cy="869.3" r="2.44"/><circle cx="195.8" cy="870.8" r="2.44"/><circle cx="200.0" cy="871.6" r="2.44"/><circle cx="204.2" cy="871.6" r="2.44"/><circle cx="208.3" cy="871.1" r="2.44"/><circle cx="212.2" cy="870.5" r="2.44"/><circle cx="216.1" cy="870.2" r="2.44"/><circle cx="219.8" cy="870.0" r="2.44"/><circle cx="223.5" cy="869.9" r="2.44"/><circle cx="227.1" cy="869.8" r="2.44"/><circle cx="230.6" cy="869.8" r="2.44"/><circle cx="234.0" cy="869.8" r="2.44"/><circle cx="237.4" cy="869.8" r="2.44"/><circle cx="240.8" cy="869.8" r="2.44"/><circle cx="244.2" cy="869.9" r="2.44"/><circle cx="247.5" cy="870.2" r="2.44"/><circle cx="250.9" cy="870.7" r="2.44"/><circle cx="254.1" cy="871.7" r="2.44"/><circle cx="257.0" cy="873.6" r="2.44"/><circle cx="259.7" cy="875.6" r="2.44"/><circle cx="262.8" cy="877.0" r="2.44"/><circle cx="266.1" cy="877.7" r="2.44"/><circle cx="269.4" cy="878.4" r="2.44"/><circle cx="272.8" cy="878.8" r="2.44"/></g>
<g fill="#000" stroke="none"><rect x="163.8" y="827.1" width="4.7" height="4.7"/><rect x="170.5" y="830.4" width="4.7" height="4.7"/><rect x="176.9" y="834.1" width="4.7" height="4.7"/><rect x="182.9" y="838.4" width="4.7" height="4.7"/><rect x="188.5" y="843.0" width="4.7" height="4.7"/><rect x="193.9" y="847.7" width="4.7" height="4.7"/><rect x="199.3" y="852.3" width="4.7" height="4.7"/><rect x="204.5" y="857.1" width="4.7" height="4.7"/><rect x="209.3" y="861.9" width="4.7" height="4.7"/><rect x="214.1" y="865.4" width="4.7" height="4.7"/><rect x="219.4" y="866.6" width="4.7" height="4.7"/><rect x="224.1" y="867.3" width="4.7" height="4.7"/><rect x="228.2" y="867.7" width="4.7" height="4.7"/><rect x="231.8" y="867.8" width="4.7" height="4.7"/><rect x="235.3" y="868.0" width="4.7" height="4.7"/><rect x="238.9" y="868.1" width="4.7" height="4.7"/><rect x="242.5" y="868.4" width="4.7" height="4.7"/><rect x="246.0" y="868.9" width="4.7" height="4.7"/><rect x="249.2" y="870.4" width="4.7" height="4.7"/><rect x="252.3" y="872.1" width="4.7" height="4.7"/><rect x="255.5" y="873.6" width="4.7" height="4.7"/><rect x="258.8" y="875.0" width="4.7" height="4.7"/><rect x="262.2" y="875.9" width="4.7" height="4.7"/><rect x="265.7" y="876.0" width="4.7" height="4.7"/><rect x="269.2" y="876.0" width="4.7" height="4.7"/><rect x="272.7" y="876.0" width="4.7" height="4.7"/><rect x="276.2" y="876.0" width="4.7" height="4.7"/><rect x="279.7" y="876.0" width="4.7" height="4.7"/><rect x="283.1" y="876.0" width="4.7" height="4.7"/><rect x="286.6" y="875.9" width="4.7" height="4.7"/><rect x="290.1" y="875.8" width="4.7" height="4.7"/><rect x="293.5" y="875.7" width="4.7" height="4.7"/><rect x="296.9" y="875.6" width="4.7" height="4.7"/><rect x="300.4" y="875.5" width="4.7" height="4.7"/></g>
<g fill="#fff" stroke="#000" stroke-width="0.9"><path d="M193.3,792.0 L196.6,797.5 L190.0,797.5Z"/><path d="M209.3,794.6 L212.6,800.2 L206.0,800.2Z"/><path d="M222.7,800.0 L226.0,805.5 L219.4,805.5Z"/><path d="M236.0,805.4 L239.3,810.9 L232.7,810.9Z"/><path d="M248.0,809.9 L251.3,815.4 L244.7,815.4Z"/><path d="M257.3,815.1 L260.6,820.7 L254.0,820.7Z"/><path d="M268.0,821.4 L271.3,826.9 L264.7,826.9Z"/><path d="M278.7,825.9 L282.0,831.4 L275.4,831.4Z"/><path d="M288.0,836.6 L291.3,842.1 L284.7,842.1Z"/><path d="M297.3,845.9 L300.6,851.4 L294.0,851.4Z"/><path d="M304.0,852.6 L307.3,858.1 L300.7,858.1Z"/><path d="M310.7,859.1 L314.0,864.7 L307.4,864.7Z"/></g>
<path d="M197.3,793.3 L197.6,793.4 L197.9,793.5 L198.2,793.6 L198.5,793.7 L198.7,793.7 L199.0,793.8 L199.3,793.9 L199.6,794.0 L199.9,794.1 L200.2,794.2 L200.5,794.3 L200.8,794.4 L201.1,794.5 L201.4,794.6 L201.6,794.7 L201.9,794.8 L202.2,794.9 L202.5,795.0 L202.8,795.1 L203.1,795.1 L203.4,795.2 L203.7,795.3 L204.0,795.4 L204.3,795.5 L204.5,795.6 L204.8,795.7 L205.1,795.8 L205.4,795.9 L205.7,796.0 L206.0,796.1 L206.3,796.2 L206.6,796.3 L206.9,796.4 L207.2,796.5 L207.4,796.6 L207.7,796.7 L208.0,796.8 L208.3,796.9 L208.6,797.1 L208.9,797.2 L209.2,797.3 L209.5,797.4 L209.8,797.5 L210.1,797.6 L210.3,797.7 L210.6,797.8 L210.9,797.9 L211.2,798.0 L211.5,798.1 L211.8,798.2 L212.1,798.3 L212.4,798.5 L212.7,798.6 L213.0,798.7 L213.2,798.8 L213.5,798.9 L213.8,799.0 L214.1,799.1 L214.4,799.2 L214.7,799.4 L215.0,799.5 L215.3,799.6 L215.6,799.7 L215.9,799.8 L216.1,799.9 L216.4,800.1 L216.7,800.2 L217.0,800.3 L217.3,800.4 L217.6,800.5 L217.9,800.6 L218.2,800.8 L218.5,800.9 L218.8,801.0 L219.0,801.1 L219.3,801.2 L219.6,801.4 L219.9,801.5 L220.2,801.6 L220.5,801.7 L220.8,801.8 L221.1,801.9 L221.4,802.1 L221.7,802.2 L221.9,802.3 L222.2,802.4 L222.5,802.5 L222.8,802.6 L223.1,802.8 L223.4,802.9 L223.7,803.0 L224.0,803.1 L224.3,803.2 L224.6,803.3 L224.8,803.5 L225.1,803.6 L225.4,803.7 L225.7,803.8 L226.0,803.9 L226.3,804.1 L226.6,804.2 L226.9,804.3 L227.2,804.4 L227.5,804.5 L227.7,804.6 L228.0,804.8 L228.3,804.9 L228.6,805.0 L228.9,805.1 L229.2,805.2 L229.5,805.4 L229.8,805.5 L230.1,805.6 L230.4,805.7 L230.6,805.8 L230.9,805.9 L231.2,806.1 L231.5,806.2 L231.8,806.3 L232.1,806.4 L232.4,806.5 L232.7,806.7 L233.0,806.8 L233.3,806.9 L233.5,807.0 L233.8,807.1 L234.1,807.2 L234.4,807.4 L234.7,807.5 L235.0,807.6 L235.3,807.7 L235.6,807.8 L235.9,807.9 L236.2,808.1 L236.4,808.2 L236.7,808.3 L237.0,808.4 L237.3,808.5 L237.6,808.6 L237.9,808.7 L238.2,808.9 L238.5,809.0 L238.8,809.1 L239.1,809.2 L239.3,809.3 L239.6,809.4 L239.9,809.5 L240.2,809.6 L240.5,809.7 L240.8,809.8 L241.1,810.0 L241.4,810.1 L241.7,810.2 L242.0,810.3 L242.2,810.4 L242.5,810.5 L242.8,810.6 L243.1,810.7 L243.4,810.8 L243.7,811.0 L244.0,811.1 L244.3,811.2 L244.6,811.3 L244.9,811.4 L245.1,811.5 L245.4,811.7 L245.7,811.8 L246.0,811.9 L246.3,812.0 L246.6,812.2 L246.9,812.3 L247.2,812.4 L247.5,812.6 L247.8,812.7 L248.0,812.8 L248.3,813.0 L248.6,813.1 L248.9,813.2 L249.2,813.4 L249.5,813.5 L249.8,813.7 L250.1,813.8 L250.4,814.0 L250.7,814.2 L250.9,814.3 L251.2,814.5 L251.5,814.6 L251.8,814.8 L252.1,815.0 L252.4,815.1 L252.7,815.3 L253.0,815.5 L253.3,815.6 L253.6,815.8 L253.8,816.0 L254.1,816.2 L254.4,816.3 L254.7,816.5 L255.0,816.7 L255.3,816.8 L255.6,817.0 L255.9,817.2 L256.2,817.3 L256.5,817.5 L256.7,817.7 L257.0,817.8 L257.3,818.0 L257.6,818.2 L257.9,818.3 L258.2,818.5 L258.5,818.7 L258.8,818.8 L259.1,819.0 L259.4,819.2 L259.6,819.4 L259.9,819.5 L260.2,819.7 L260.5,819.9 L260.8,820.0 L261.1,820.2 L261.4,820.4 L261.7,820.5 L262.0,820.7 L262.3,820.9 L262.5,821.0 L262.8,821.2 L263.1,821.4 L263.4,821.6 L263.7,821.7 L264.0,821.9 L264.3,822.1 L264.6,822.2 L264.9,822.4 L265.2,822.6 L265.4,822.7 L265.7,822.9 L266.0,823.1 L266.3,823.2 L266.6,823.4 L266.9,823.6 L267.2,823.7 L267.5,823.9 L267.8,824.1 L268.1,824.2 L268.3,824.4 L268.6,824.5 L268.9,824.7 L269.2,824.9 L269.5,825.0 L269.8,825.2 L270.1,825.3 L270.4,825.5 L270.7,825.6 L271.0,825.7 L271.2,825.9 L271.5,826.0 L271.8,826.2 L272.1,826.3 L272.4,826.5 L272.7,826.6 L273.0,826.8 L273.3,826.9 L273.6,827.0 L273.9,827.2 L274.1,827.3 L274.4,827.5 L274.7,827.6 L275.0,827.8 L275.3,827.9 L275.6,828.1 L275.9,828.3 L276.2,828.4 L276.5,828.6 L276.8,828.8 L277.0,828.9 L277.3,829.1 L277.6,829.3 L277.9,829.5 L278.2,829.7 L278.5,829.9 L278.8,830.1 L279.1,830.3 L279.4,830.5 L279.7,830.7 L279.9,830.9 L280.2,831.1 L280.5,831.4 L280.8,831.6 L281.1,831.9 L281.4,832.1 L281.7,832.4 L282.0,832.6 L282.3,832.9 L282.6,833.2 L282.8,833.4 L283.1,833.7 L283.4,834.0 L283.7,834.3 L284.0,834.6 L284.3,834.8 L284.6,835.1 L284.9,835.4 L285.2,835.7 L285.5,836.0 L285.7,836.3 L286.0,836.6 L286.3,836.9 L286.6,837.1 L286.9,837.4 L287.2,837.7 L287.5,838.0 L287.8,838.3 L288.1,838.6 L288.4,838.8 L288.6,839.1 L288.9,839.4 L289.2,839.7 L289.5,840.0 L289.8,840.3 L290.1,840.6 L290.4,840.8 L290.7,841.1 L291.0,841.4 L291.3,841.7 L291.5,842.0 L291.8,842.3 L292.1,842.6 L292.4,842.9 L292.7,843.2 L293.0,843.5 L293.3,843.8 L293.6,844.1 L293.9,844.4 L294.2,844.7 L294.4,845.0 L294.7,845.3 L295.0,845.6 L295.3,845.9 L295.6,846.2 L295.9,846.5 L296.2,846.8 L296.5,847.1 L296.8,847.4 L297.1,847.7 L297.3,848.0 L297.6,848.3 L297.9,848.7 L298.2,849.0 L298.5,849.3 L298.8,849.6 L299.1,849.9 L299.4,850.2 L299.7,850.5 L300.0,850.8 L300.2,851.2 L300.5,851.5 L300.8,851.8 L301.1,852.1 L301.4,852.4 L301.7,852.7 L302.0,853.0 L302.3,853.4 L302.6,853.7 L302.9,854.0 L303.1,854.3 L303.4,854.6 L303.7,854.9 L304.0,855.2 L304.3,855.5 L304.6,855.8 L304.9,856.1 L305.2,856.4 L305.5,856.7 L305.8,857.0 L306.0,857.3 L306.3,857.6 L306.6,857.9 L306.9,858.2 L307.2,858.4 L307.5,858.7 L307.8,859.0 L308.1,859.3 L308.4,859.6 L308.7,859.9 L308.9,860.2 L309.2,860.5 L309.5,860.8 L309.8,861.1 L310.1,861.4 L310.4,861.7 L310.7,862.0 L311.0,862.3 L311.3,862.6 L311.6,862.9 L311.8,863.2 L312.1,863.5 L312.4,863.9 L312.7,864.2 L313.0,864.5" fill="none" stroke="#c82828" stroke-width="1.05" stroke-linejoin="round"/>
<path d="M166.1,829.4 L166.4,829.6 L166.8,829.7 L167.1,829.9 L167.5,830.0 L167.8,830.2 L168.2,830.4 L168.5,830.5 L168.9,830.7 L169.2,830.9 L169.6,831.0 L169.9,831.2 L170.2,831.4 L170.6,831.5 L170.9,831.7 L171.3,831.9 L171.6,832.1 L172.0,832.3 L172.3,832.4 L172.7,832.6 L173.0,832.8 L173.4,833.0 L173.7,833.2 L174.0,833.4 L174.4,833.6 L174.7,833.8 L175.1,833.9 L175.4,834.1 L175.8,834.3 L176.1,834.5 L176.5,834.7 L176.8,834.9 L177.2,835.1 L177.5,835.3 L177.9,835.6 L178.2,835.8 L178.5,836.0 L178.9,836.2 L179.2,836.4 L179.6,836.6 L179.9,836.8 L180.3,837.1 L180.6,837.3 L181.0,837.5 L181.3,837.8 L181.7,838.0 L182.0,838.2 L182.3,838.5 L182.7,838.7 L183.0,839.0 L183.4,839.2 L183.7,839.5 L184.1,839.8 L184.4,840.0 L184.8,840.3 L185.1,840.6 L185.5,840.9 L185.8,841.1 L186.1,841.4 L186.5,841.7 L186.8,842.0 L187.2,842.3 L187.5,842.6 L187.9,842.9 L188.2,843.2 L188.6,843.5 L188.9,843.8 L189.3,844.1 L189.6,844.3 L189.9,844.6 L190.3,844.9 L190.6,845.2 L191.0,845.5 L191.3,845.8 L191.7,846.1 L192.0,846.4 L192.4,846.7 L192.7,847.0 L193.1,847.3 L193.4,847.6 L193.7,847.9 L194.1,848.2 L194.4,848.5 L194.8,848.7 L195.1,849.0 L195.5,849.3 L195.8,849.6 L196.2,849.9 L196.5,850.2 L196.9,850.5 L197.2,850.8 L197.6,851.1 L197.9,851.4 L198.2,851.7 L198.6,852.0 L198.9,852.3 L199.3,852.6 L199.6,852.9 L200.0,853.2 L200.3,853.5 L200.7,853.8 L201.0,854.1 L201.4,854.4 L201.7,854.7 L202.0,855.0 L202.4,855.3 L202.7,855.6 L203.1,855.9 L203.4,856.2 L203.8,856.5 L204.1,856.8 L204.5,857.2 L204.8,857.5 L205.2,857.8 L205.5,858.1 L205.8,858.5 L206.2,858.8 L206.5,859.2 L206.9,859.5 L207.2,859.9 L207.6,860.2 L207.9,860.6 L208.3,860.9 L208.6,861.3 L209.0,861.6 L209.3,861.9 L209.6,862.3 L210.0,862.6 L210.3,863.0 L210.7,863.3 L211.0,863.6 L211.4,864.0 L211.7,864.4 L212.1,864.7 L212.4,865.1 L212.8,865.5 L213.1,865.8 L213.4,866.2 L213.8,866.5 L214.1,866.7 L214.5,867.0 L214.8,867.1 L215.2,867.3 L215.5,867.4 L215.9,867.5 L216.2,867.6 L216.6,867.7 L216.9,867.8 L217.3,867.9 L217.6,868.0 L217.9,868.1 L218.3,868.2 L218.6,868.3 L219.0,868.4 L219.3,868.5 L219.7,868.6 L220.0,868.6 L220.4,868.7 L220.7,868.8 L221.1,868.9 L221.4,868.9 L221.7,869.0 L222.1,869.0 L222.4,869.1 L222.8,869.2 L223.1,869.2 L223.5,869.3 L223.8,869.3 L224.2,869.4 L224.5,869.4 L224.9,869.5 L225.2,869.5 L225.5,869.5 L225.9,869.6 L226.2,869.6 L226.6,869.7 L226.9,869.7 L227.3,869.7 L227.6,869.8 L228.0,869.8 L228.3,869.8 L228.7,869.9 L229.0,869.9 L229.3,869.9 L229.7,869.9 L230.0,870.0 L230.4,870.0 L230.7,870.0 L231.1,870.0 L231.4,870.1 L231.8,870.1 L232.1,870.1 L232.5,870.1 L232.8,870.1 L233.1,870.1 L233.5,870.2 L233.8,870.2 L234.2,870.2 L234.5,870.2 L234.9,870.2 L235.2,870.2 L235.6,870.2 L235.9,870.3 L236.3,870.3 L236.6,870.3 L237.0,870.3 L237.3,870.3 L237.6,870.3 L238.0,870.3 L238.3,870.3 L238.7,870.4 L239.0,870.4 L239.4,870.4 L239.7,870.4 L240.1,870.4 L240.4,870.4 L240.8,870.4 L241.1,870.5 L241.4,870.5 L241.8,870.5 L242.1,870.5 L242.5,870.5 L242.8,870.6 L243.2,870.6 L243.5,870.6 L243.9,870.6 L244.2,870.7 L244.6,870.7 L244.9,870.7 L245.2,870.8 L245.6,870.8 L245.9,870.8 L246.3,870.9 L246.6,870.9 L247.0,870.9 L247.3,871.0 L247.7,871.1 L248.0,871.2 L248.4,871.3 L248.7,871.4 L249.0,871.5 L249.4,871.6 L249.7,871.8 L250.1,872.0 L250.4,872.1 L250.8,872.3 L251.1,872.5 L251.5,872.7 L251.8,872.8 L252.2,873.0 L252.5,873.2 L252.8,873.4 L253.2,873.6 L253.5,873.8 L253.9,874.0 L254.2,874.2 L254.6,874.4 L254.9,874.6 L255.3,874.8 L255.6,875.0 L256.0,875.1 L256.3,875.3 L256.7,875.4 L257.0,875.6 L257.3,875.7 L257.7,875.8 L258.0,876.0 L258.4,876.1 L258.7,876.3 L259.1,876.4 L259.4,876.6 L259.8,876.7 L260.1,876.9 L260.5,877.0 L260.8,877.2 L261.1,877.3 L261.5,877.4 L261.8,877.6 L262.2,877.7 L262.5,877.8 L262.9,877.9 L263.2,878.0 L263.6,878.1 L263.9,878.2 L264.3,878.2 L264.6,878.3 L264.9,878.3 L265.3,878.3 L265.6,878.3 L266.0,878.3 L266.3,878.3 L266.7,878.3 L267.0,878.3 L267.4,878.3 L267.7,878.3 L268.1,878.3 L268.4,878.3 L268.7,878.3 L269.1,878.3 L269.4,878.3 L269.8,878.3 L270.1,878.3 L270.5,878.3 L270.8,878.3 L271.2,878.3 L271.5,878.3 L271.9,878.3 L272.2,878.3 L272.5,878.3 L272.9,878.3 L273.2,878.3 L273.6,878.3 L273.9,878.3 L274.3,878.3 L274.6,878.3 L275.0,878.3 L275.3,878.3 L275.7,878.3 L276.0,878.3 L276.4,878.3 L276.7,878.3 L277.0,878.3 L277.4,878.3 L277.7,878.3 L278.1,878.3 L278.4,878.3 L278.8,878.3 L279.1,878.3 L279.5,878.3 L279.8,878.3 L280.2,878.3 L280.5,878.3 L280.8,878.3 L281.2,878.3 L281.5,878.3 L281.9,878.3 L282.2,878.3 L282.6,878.3 L282.9,878.3 L283.3,878.3 L283.6,878.3 L284.0,878.3 L284.3,878.3 L284.6,878.3 L285.0,878.3 L285.3,878.3 L285.7,878.3 L286.0,878.3 L286.4,878.3 L286.7,878.3 L287.1,878.3 L287.4,878.3 L287.8,878.3 L288.1,878.3 L288.4,878.3 L288.8,878.3 L289.1,878.3 L289.5,878.2 L289.8,878.2 L290.2,878.2 L290.5,878.2 L290.9,878.2 L291.2,878.2 L291.6,878.2 L291.9,878.2 L292.2,878.2 L292.6,878.2 L292.9,878.2 L293.3,878.2 L293.6,878.2 L294.0,878.1 L294.3,878.1 L294.7,878.1 L295.0,878.1 L295.4,878.1 L295.7,878.1 L296.1,878.1 L296.4,878.1 L296.7,878.1 L297.1,878.1 L297.4,878.0 L297.8,878.0 L298.1,878.0 L298.5,878.0 L298.8,878.0 L299.2,878.0 L299.5,878.0 L299.9,878.0 L300.2,877.9 L300.5,877.9 L300.9,877.9 L301.2,877.9 L301.6,877.9 L301.9,877.9 L302.3,877.9 L302.6,877.9 L303.0,877.8 L303.3,877.8 L303.7,877.8 L304.0,877.8" fill="none" stroke="#c82828" stroke-width="1.05" stroke-linejoin="round"/>
<path d="M154.7,839.7 L155.0,839.9 L155.3,840.1 L155.6,840.4 L155.9,840.6 L156.2,840.8 L156.5,841.0 L156.8,841.3 L157.1,841.5 L157.4,841.7 L157.7,841.9 L158.0,842.2 L158.3,842.4 L158.7,842.6 L159.0,842.9 L159.3,843.1 L159.6,843.3 L159.9,843.6 L160.2,843.8 L160.5,844.0 L160.8,844.3 L161.1,844.5 L161.4,844.7 L161.7,845.0 L162.0,845.2 L162.3,845.4 L162.6,845.7 L162.9,845.9 L163.2,846.2 L163.5,846.4 L163.8,846.7 L164.1,846.9 L164.4,847.1 L164.7,847.4 L165.0,847.6 L165.3,847.9 L165.6,848.1 L165.9,848.4 L166.3,848.6 L166.6,848.9 L166.9,849.1 L167.2,849.4 L167.5,849.6 L167.8,849.9 L168.1,850.2 L168.4,850.4 L168.7,850.7 L169.0,850.9 L169.3,851.2 L169.6,851.5 L169.9,851.7 L170.2,852.0 L170.5,852.3 L170.8,852.5 L171.1,852.8 L171.4,853.1 L171.7,853.3 L172.0,853.6 L172.3,853.9 L172.6,854.1 L172.9,854.4 L173.2,854.7 L173.5,855.0 L173.9,855.2 L174.2,855.5 L174.5,855.8 L174.8,856.1 L175.1,856.3 L175.4,856.6 L175.7,856.9 L176.0,857.1 L176.3,857.4 L176.6,857.7 L176.9,857.9 L177.2,858.2 L177.5,858.5 L177.8,858.8 L178.1,859.0 L178.4,859.3 L178.7,859.6 L179.0,859.9 L179.3,860.2 L179.6,860.5 L179.9,860.8 L180.2,861.1 L180.5,861.4 L180.8,861.7 L181.1,862.1 L181.5,862.4 L181.8,862.7 L182.1,863.0 L182.4,863.3 L182.7,863.6 L183.0,863.9 L183.3,864.2 L183.6,864.5 L183.9,864.7 L184.2,865.0 L184.5,865.3 L184.8,865.5 L185.1,865.8 L185.4,866.0 L185.7,866.3 L186.0,866.5 L186.3,866.7 L186.6,866.9 L186.9,867.1 L187.2,867.3 L187.5,867.5 L187.8,867.6 L188.1,867.8 L188.4,867.9 L188.7,868.0 L189.1,868.2 L189.4,868.3 L189.7,868.5 L190.0,868.6 L190.3,868.7 L190.6,868.9 L190.9,869.0 L191.2,869.1 L191.5,869.2 L191.8,869.4 L192.1,869.5 L192.4,869.6 L192.7,869.7 L193.0,869.9 L193.3,870.0 L193.6,870.1 L193.9,870.2 L194.2,870.3 L194.5,870.4 L194.8,870.5 L195.1,870.6 L195.4,870.7 L195.7,870.8 L196.0,870.9 L196.3,871.0 L196.7,871.1 L197.0,871.1 L197.3,871.2 L197.6,871.3 L197.9,871.3 L198.2,871.4 L198.5,871.5 L198.8,871.5 L199.1,871.5 L199.4,871.6 L199.7,871.6 L200.0,871.6 L200.3,871.7 L200.6,871.7 L200.9,871.7 L201.2,871.7 L201.5,871.7 L201.8,871.7 L202.1,871.7 L202.4,871.7 L202.7,871.7 L203.0,871.6 L203.3,871.6 L203.6,871.6 L203.9,871.6 L204.3,871.6 L204.6,871.5 L204.9,871.5 L205.2,871.5 L205.5,871.4 L205.8,871.4 L206.1,871.4 L206.4,871.3 L206.7,871.3 L207.0,871.2 L207.3,871.2 L207.6,871.1 L207.9,871.1 L208.2,871.1 L208.5,871.0 L208.8,871.0 L209.1,870.9 L209.4,870.9 L209.7,870.8 L210.0,870.8 L210.3,870.8 L210.6,870.7 L210.9,870.7 L211.2,870.6 L211.5,870.6 L211.9,870.6 L212.2,870.5 L212.5,870.5 L212.8,870.5 L213.1,870.4 L213.4,870.4 L213.7,870.4 L214.0,870.3 L214.3,870.3 L214.6,870.3 L214.9,870.3 L215.2,870.3 L215.5,870.3 L215.8,870.2 L216.1,870.2 L216.4,870.2 L216.7,870.2 L217.0,870.2 L217.3,870.2 L217.6,870.1 L217.9,870.1 L218.2,870.1 L218.5,870.1 L218.8,870.1 L219.2,870.1 L219.5,870.0 L219.8,870.0 L220.1,870.0 L220.4,870.0 L220.7,870.0 L221.0,870.0 L221.3,870.0 L221.6,869.9 L221.9,869.9 L222.2,869.9 L222.5,869.9 L222.8,869.9 L223.1,869.9 L223.4,869.9 L223.7,869.9 L224.0,869.9 L224.3,869.9 L224.6,869.8 L224.9,869.8 L225.2,869.8 L225.5,869.8 L225.8,869.8 L226.1,869.8 L226.4,869.8 L226.8,869.8 L227.1,869.8 L227.4,869.8 L227.7,869.8 L228.0,869.8 L228.3,869.8 L228.6,869.8 L228.9,869.8 L229.2,869.8 L229.5,869.8 L229.8,869.8 L230.1,869.8 L230.4,869.8 L230.7,869.8 L231.0,869.8 L231.3,869.8 L231.6,869.8 L231.9,869.8 L232.2,869.8 L232.5,869.8 L232.8,869.8 L233.1,869.8 L233.4,869.8 L233.7,869.8 L234.0,869.8 L234.4,869.8 L234.7,869.8 L235.0,869.8 L235.3,869.8 L235.6,869.8 L235.9,869.8 L236.2,869.8 L236.5,869.8 L236.8,869.8 L237.1,869.8 L237.4,869.8 L237.7,869.8 L238.0,869.8 L238.3,869.8 L238.6,869.8 L238.9,869.8 L239.2,869.8 L239.5,869.8 L239.8,869.8 L240.1,869.8 L240.4,869.8 L240.7,869.8 L241.0,869.8 L241.3,869.8 L241.6,869.8 L242.0,869.8 L242.3,869.8 L242.6,869.8 L242.9,869.8 L243.2,869.8 L243.5,869.9 L243.8,869.9 L244.1,869.9 L244.4,869.9 L244.7,869.9 L245.0,870.0 L245.3,870.0 L245.6,870.0 L245.9,870.0 L246.2,870.1 L246.5,870.1 L246.8,870.1 L247.1,870.2 L247.4,870.2 L247.7,870.2 L248.0,870.3 L248.3,870.3 L248.6,870.4 L248.9,870.4 L249.2,870.5 L249.6,870.5 L249.9,870.5 L250.2,870.6 L250.5,870.6 L250.8,870.7 L251.1,870.7 L251.4,870.8 L251.7,870.8 L252.0,870.9 L252.3,871.0 L252.6,871.0 L252.9,871.1 L253.2,871.2 L253.5,871.4 L253.8,871.5 L254.1,871.7 L254.4,871.8 L254.7,872.0 L255.0,872.2 L255.3,872.4 L255.6,872.6 L255.9,872.8 L256.2,873.0 L256.5,873.3 L256.8,873.5 L257.2,873.7 L257.5,874.0 L257.8,874.2 L258.1,874.4 L258.4,874.6 L258.7,874.9 L259.0,875.1 L259.3,875.3 L259.6,875.5 L259.9,875.7 L260.2,875.9 L260.5,876.1 L260.8,876.2 L261.1,876.4 L261.4,876.5 L261.7,876.7 L262.0,876.8 L262.3,876.9 L262.6,877.0 L262.9,877.1 L263.2,877.1 L263.5,877.2 L263.8,877.3 L264.1,877.3 L264.4,877.4 L264.8,877.5 L265.1,877.5 L265.4,877.6 L265.7,877.7 L266.0,877.7 L266.3,877.8 L266.6,877.8 L266.9,877.9 L267.2,878.0 L267.5,878.0 L267.8,878.1 L268.1,878.1 L268.4,878.2 L268.7,878.2 L269.0,878.3 L269.3,878.3 L269.6,878.4 L269.9,878.4 L270.2,878.5 L270.5,878.5 L270.8,878.5 L271.1,878.6 L271.4,878.6 L271.7,878.7 L272.0,878.7 L272.4,878.7 L272.7,878.7 L273.0,878.8 L273.3,878.8 L273.6,878.8 L273.9,878.8 L274.2,878.9 L274.5,878.9 L274.8,878.9 L275.1,878.9 L275.4,878.9 L275.7,878.9 L276.0,878.9" fill="none" stroke="#c82828" stroke-width="1.05" stroke-linejoin="round"/>
<circle cx="269.6" cy="878.4" r="11" fill="none" stroke="#1a1ae0" stroke-width="1.6" stroke-dasharray="3,2"/>
<circle cx="297.8" cy="880.1" r="15.6" fill="none" stroke="#1a1ae0" stroke-width="1.6" stroke-dasharray="3,2"/>
<rect x="72.00" y="785.50" width="240.30" height="217.90" fill="none" stroke="#3a3a3a" stroke-width="1.3"/>
<rect x="142.20" y="785.50" width="170.10" height="97.50" fill="none" stroke="#3a3a3a" stroke-width="1.2"/>
<line x1="72.00" y1="1003.40" x2="75.50" y2="1003.40" stroke="#3a3a3a" stroke-width="1.0"/>
<line x1="72.00" y1="941.20" x2="75.50" y2="941.20" stroke="#3a3a3a" stroke-width="1.0"/>
<line x1="72.00" y1="879.00" x2="75.50" y2="879.00" stroke="#3a3a3a" stroke-width="1.0"/>
<line x1="72.00" y1="816.80" x2="75.50" y2="816.80" stroke="#3a3a3a" stroke-width="1.0"/>
<line x1="72.00" y1="972.30" x2="74.00" y2="972.30" stroke="#3a3a3a" stroke-width="1.0"/>
<line x1="72.00" y1="910.10" x2="74.00" y2="910.10" stroke="#3a3a3a" stroke-width="1.0"/>
<line x1="72.00" y1="847.90" x2="74.00" y2="847.90" stroke="#3a3a3a" stroke-width="1.0"/>
<line x1="85.60" y1="1003.40" x2="85.60" y2="999.90" stroke="#3a3a3a" stroke-width="1.0"/>
<line x1="154.50" y1="1003.40" x2="154.50" y2="999.90" stroke="#3a3a3a" stroke-width="1.0"/>
<line x1="223.40" y1="1003.40" x2="223.40" y2="999.90" stroke="#3a3a3a" stroke-width="1.0"/>
<line x1="292.30" y1="1003.40" x2="292.30" y2="999.90" stroke="#3a3a3a" stroke-width="1.0"/>
<line x1="120.00" y1="1003.40" x2="120.00" y2="1001.40" stroke="#3a3a3a" stroke-width="1.0"/>
<line x1="189.00" y1="1003.40" x2="189.00" y2="1001.40" stroke="#3a3a3a" stroke-width="1.0"/>
<line x1="258.00" y1="1003.40" x2="258.00" y2="1001.40" stroke="#3a3a3a" stroke-width="1.0"/>
<text transform="translate(68.80,1007.09) scale(1.04,1)" font-family="Liberation Sans" font-size="12.3" font-weight="normal" fill="#111" stroke="#111" stroke-width="0.25" text-anchor="end">0</text>
<text transform="translate(68.80,944.89) scale(1.04,1)" font-family="Liberation Sans" font-size="12.3" font-weight="normal" fill="#111" stroke="#111" stroke-width="0.25" text-anchor="end">-1k</text>
<text transform="translate(68.80,882.69) scale(1.04,1)" font-family="Liberation Sans" font-size="12.3" font-weight="normal" fill="#111" stroke="#111" stroke-width="0.25" text-anchor="end">-2k</text>
<text transform="translate(68.80,820.49) scale(1.04,1)" font-family="Liberation Sans" font-size="12.3" font-weight="normal" fill="#111" stroke="#111" stroke-width="0.25" text-anchor="end">-3k</text>
<text transform="translate(85.60,1016.50) scale(1.04,1)" font-family="Liberation Sans" font-size="12.3" font-weight="normal" fill="#111" stroke="#111" stroke-width="0.25" text-anchor="middle">1k</text>
<text transform="translate(154.50,1016.50) scale(1.04,1)" font-family="Liberation Sans" font-size="12.3" font-weight="normal" fill="#111" stroke="#111" stroke-width="0.25" text-anchor="middle">2k</text>
<text transform="translate(223.40,1016.50) scale(1.04,1)" font-family="Liberation Sans" font-size="12.3" font-weight="normal" fill="#111" stroke="#111" stroke-width="0.25" text-anchor="middle">3k</text>
<text transform="translate(292.30,1016.50) scale(1.04,1)" font-family="Liberation Sans" font-size="12.3" font-weight="normal" fill="#111" stroke="#111" stroke-width="0.25" text-anchor="middle">4k</text>
<text transform="translate(189.40,1039.40) scale(1.04,1)" font-family="Liberation Sans" font-size="12.3" font-weight="normal" fill="#111" stroke="#111" stroke-width="0.25" text-anchor="middle">Z′ (Ω cm)</text>
<text transform="translate(38.70,913.20) rotate(-90) scale(1.04,1)" font-family="Liberation Sans" font-size="12.3" font-weight="normal" fill="#111" stroke="#111" stroke-width="0.25" text-anchor="middle">Z<tspan dx="1.6">″</tspan>(Ω cm)</text>
<line x1="142.20" y1="883.00" x2="145.70" y2="883.00" stroke="#3a3a3a" stroke-width="1.0"/>
<line x1="142.20" y1="845.60" x2="145.70" y2="845.60" stroke="#3a3a3a" stroke-width="1.0"/>
<line x1="142.20" y1="808.20" x2="145.70" y2="808.20" stroke="#3a3a3a" stroke-width="1.0"/>
<line x1="142.20" y1="864.30" x2="144.20" y2="864.30" stroke="#3a3a3a" stroke-width="1.0"/>
<line x1="142.20" y1="826.90" x2="144.20" y2="826.90" stroke="#3a3a3a" stroke-width="1.0"/>
<line x1="142.20" y1="789.50" x2="144.20" y2="789.50" stroke="#3a3a3a" stroke-width="1.0"/>
<line x1="141.00" y1="883.00" x2="141.00" y2="879.50" stroke="#3a3a3a" stroke-width="1.0"/>
<line x1="200.30" y1="883.00" x2="200.30" y2="879.50" stroke="#3a3a3a" stroke-width="1.0"/>
<line x1="259.60" y1="883.00" x2="259.60" y2="879.50" stroke="#3a3a3a" stroke-width="1.0"/>
<line x1="170.60" y1="883.00" x2="170.60" y2="881.00" stroke="#3a3a3a" stroke-width="1.0"/>
<line x1="230.00" y1="883.00" x2="230.00" y2="881.00" stroke="#3a3a3a" stroke-width="1.0"/>
<line x1="289.30" y1="883.00" x2="289.30" y2="881.00" stroke="#3a3a3a" stroke-width="1.0"/>
<text transform="translate(139.80,886.69) scale(1.04,1)" font-family="Liberation Sans" font-size="12.3" font-weight="normal" fill="#111" stroke="#111" stroke-width="0.25" text-anchor="end">0.00</text>
<text transform="translate(139.80,849.29) scale(1.04,1)" font-family="Liberation Sans" font-size="12.3" font-weight="normal" fill="#111" stroke="#111" stroke-width="0.25" text-anchor="end">-150.00</text>
<text transform="translate(139.80,811.89) scale(1.04,1)" font-family="Liberation Sans" font-size="12.3" font-weight="normal" fill="#111" stroke="#111" stroke-width="0.25" text-anchor="end">-300.00</text>
<text transform="translate(141.70,892.60) scale(1.04,1)" font-family="Liberation Sans" font-size="12.3" font-weight="normal" fill="#111" stroke="#111" stroke-width="0.25" text-anchor="middle">800.0</text>
<text transform="translate(200.60,892.60) scale(1.04,1)" font-family="Liberation Sans" font-size="12.3" font-weight="normal" fill="#111" stroke="#111" stroke-width="0.25" text-anchor="middle">1.0k</text>
<text transform="translate(259.30,892.60) scale(1.04,1)" font-family="Liberation Sans" font-size="12.3" font-weight="normal" fill="#111" stroke="#111" stroke-width="0.25" text-anchor="middle">1.2k</text>
<text transform="translate(278.80,911.50) scale(1.04,1)" font-family="Liberation Sans" font-size="12.3" font-weight="normal" fill="#111" stroke="#111" stroke-width="0.25" text-anchor="middle">Z′ (Ω cm)</text>
<text transform="translate(93.41,818.70) rotate(-90) scale(1.04,1)" font-family="Liberation Sans" font-size="12.3" font-weight="normal" fill="#111" stroke="#111" stroke-width="0.25" text-anchor="middle">Z<tspan dx="1.6">″</tspan>(Ω cm)</text>
<text transform="translate(298.80,803.00)" font-family="Liberation Sans" font-size="14.4" font-weight="normal" fill="#111" stroke="#111" stroke-width="0.25" text-anchor="middle">(d)</text>
<text transform="translate(163.40,822.00)" font-family="Liberation Serif" font-size="14.5" font-weight="normal" fill="#111" stroke="#111" stroke-width="0.25" text-anchor="start">CP</text>
<text transform="translate(248.40,861.60)" font-family="Liberation Serif" font-size="14.5" font-weight="normal" fill="#111" stroke="#111" stroke-width="0.25" text-anchor="start">ED</text>
<text transform="translate(284.60,863.10)" font-family="Liberation Serif" font-size="14.5" font-weight="bold" fill="#111" text-anchor="start">W</text>
<circle cx="237.8" cy="935.6" r="3.3" fill="#fff" stroke="#000" stroke-width="1.25"/>
<rect x="234.5" y="948.9" width="6.6" height="6.6" fill="#000"/>
<path d="M237.8,964.6 L242.1,971.8 L233.5,971.8Z" fill="#fff" stroke="#000" stroke-width="1.25" stroke-linejoin="miter"/>
<text transform="translate(251.10,939.23) scale(1.04,1)" font-family="Liberation Sans" font-size="12.3" font-weight="normal" fill="#111" stroke="#111" stroke-width="0.25" text-anchor="start">O<tspan font-size="11.1">2</tspan></text>
<text transform="translate(251.10,955.83) scale(1.04,1)" font-family="Liberation Sans" font-size="12.3" font-weight="normal" fill="#111" stroke="#111" stroke-width="0.25" text-anchor="start">air</text>
<text transform="translate(251.10,972.03) scale(1.04,1)" font-family="Liberation Sans" font-size="12.3" font-weight="normal" fill="#111" stroke="#111" stroke-width="0.25" text-anchor="start">N<tspan font-size="11.1">2</tspan></text>
<line x1="228.20" y1="984.90" x2="247.30" y2="984.90" stroke="#e03838" stroke-width="1.3"/>
<text transform="translate(251.10,988.53) scale(1.04,1)" font-family="Liberation Sans" font-size="12.3" font-weight="normal" fill="#111" stroke="#111" stroke-width="0.25" text-anchor="start">fitting</text>
<text transform="translate(79.60,971.60)" font-family="Liberation Serif" font-size="14.5" font-weight="normal" fill="#111" stroke="#111" stroke-width="0.25" text-anchor="start">CP</text>
<text transform="translate(137.00,947.30)" font-family="Liberation Serif" font-size="14.5" font-weight="bold" fill="#111" text-anchor="start">W</text>
<text transform="translate(182.20,974.40)" font-family="Liberation Serif" font-size="14.5" font-weight="normal" fill="#2020c8" stroke="#2020c8" stroke-width="0.25" text-anchor="start">700 °C</text>
<rect x="501.20" y="45.60" width="114.80" height="174.00" fill="none" stroke="#555" stroke-width="1.2" stroke-dasharray="6,3.5"/>
<g fill="#fff" stroke="#000" stroke-width="0.9"><circle cx="390.0" cy="215.3" r="2.58"/><circle cx="392.5" cy="215.3" r="2.58"/><circle cx="395.0" cy="215.3" r="2.58"/><circle cx="397.5" cy="215.3" r="2.58"/><circle cx="400.0" cy="215.3" r="2.58"/><circle cx="402.5" cy="215.3" r="2.58"/><circle cx="405.0" cy="215.3" r="2.58"/><circle cx="407.5" cy="215.3" r="2.58"/><circle cx="410.0" cy="215.3" r="2.58"/><circle cx="412.5" cy="215.3" r="2.58"/><circle cx="415.0" cy="215.3" r="2.58"/><circle cx="417.5" cy="215.2" r="2.58"/><circle cx="420.0" cy="215.2" r="2.58"/><circle cx="422.5" cy="215.2" r="2.58"/><circle cx="425.0" cy="215.2" r="2.58"/><circle cx="427.5" cy="215.2" r="2.58"/><circle cx="430.0" cy="215.2" r="2.58"/><circle cx="432.5" cy="215.2" r="2.58"/><circle cx="435.0" cy="215.2" r="2.58"/><circle cx="437.5" cy="215.1" r="2.58"/><circle cx="440.0" cy="215.1" r="2.58"/><circle cx="442.5" cy="215.1" r="2.58"/><circle cx="445.0" cy="215.1" r="2.58"/><circle cx="447.5" cy="215.0" r="2.58"/><circle cx="450.0" cy="215.0" r="2.58"/><circle cx="452.5" cy="214.9" r="2.58"/><circle cx="455.0" cy="214.9" r="2.58"/><circle cx="457.5" cy="214.8" r="2.58"/><circle cx="460.0" cy="214.7" r="2.58"/><circle cx="462.5" cy="214.6" r="2.58"/><circle cx="465.0" cy="214.5" r="2.58"/><circle cx="467.5" cy="214.4" r="2.58"/><circle cx="470.0" cy="214.2" r="2.58"/><circle cx="472.5" cy="213.8" r="2.58"/><circle cx="475.0" cy="213.4" r="2.58"/><circle cx="477.5" cy="213.0" r="2.58"/><circle cx="480.0" cy="212.5" r="2.58"/><circle cx="482.5" cy="212.0" r="2.58"/><circle cx="485.0" cy="211.3" r="2.58"/><circle cx="487.5" cy="210.5" r="2.58"/><circle cx="490.0" cy="209.8" r="2.58"/><circle cx="492.5" cy="209.0" r="2.58"/><circle cx="495.0" cy="208.1" r="2.58"/><circle cx="497.5" cy="207.2" r="2.58"/><circle cx="500.0" cy="206.2" r="2.58"/><circle cx="502.5" cy="204.9" r="2.58"/><circle cx="505.0" cy="203.3" r="2.58"/><circle cx="507.5" cy="201.4" r="2.58"/><circle cx="510.0" cy="199.3" r="2.58"/><circle cx="512.5" cy="196.5" r="2.58"/><circle cx="515.0" cy="193.3" r="2.58"/><circle cx="517.5" cy="190.2" r="2.58"/><circle cx="520.0" cy="187.7" r="2.58"/><circle cx="522.5" cy="185.2" r="2.58"/><circle cx="525.0" cy="182.4" r="2.58"/><circle cx="527.5" cy="178.9" r="2.58"/><circle cx="530.0" cy="174.9" r="2.58"/><circle cx="532.5" cy="170.3" r="2.58"/><circle cx="535.0" cy="165.0" r="2.58"/><circle cx="537.5" cy="160.3" r="2.58"/><circle cx="540.0" cy="155.3" r="2.58"/><circle cx="542.5" cy="147.6" r="2.58"/><circle cx="545.0" cy="138.2" r="2.58"/><circle cx="547.5" cy="128.1" r="2.58"/><circle cx="550.0" cy="118.1" r="2.58"/><circle cx="552.5" cy="109.3" r="2.58"/><circle cx="555.0" cy="100.6" r="2.58"/><circle cx="557.5" cy="91.5" r="2.58"/><circle cx="560.0" cy="82.7" r="2.58"/><circle cx="562.5" cy="74.9" r="2.58"/><circle cx="565.0" cy="67.4" r="2.58"/><circle cx="567.5" cy="55.1" r="2.58"/><circle cx="570.0" cy="49.5" r="2.58"/><circle cx="572.5" cy="49.1" r="2.58"/><circle cx="575.0" cy="49.9" r="2.58"/><circle cx="577.5" cy="54.5" r="2.58"/><circle cx="580.0" cy="63.6" r="2.58"/><circle cx="582.5" cy="73.2" r="2.58"/><circle cx="585.0" cy="83.7" r="2.58"/><circle cx="587.5" cy="93.6" r="2.58"/><circle cx="590.0" cy="103.5" r="2.58"/><circle cx="592.5" cy="113.6" r="2.58"/><circle cx="595.0" cy="123.6" r="2.58"/><circle cx="597.5" cy="133.4" r="2.58"/><circle cx="600.0" cy="143.5" r="2.58"/><circle cx="602.5" cy="153.3" r="2.58"/><circle cx="605.0" cy="161.6" r="2.58"/></g>
<g fill="#000" stroke="none"><rect x="387.6" y="212.9" width="4.9" height="4.9"/><rect x="390.1" y="212.9" width="4.9" height="4.9"/><rect x="392.6" y="212.9" width="4.9" height="4.9"/><rect x="395.1" y="212.9" width="4.9" height="4.9"/><rect x="397.6" y="212.9" width="4.9" height="4.9"/><rect x="400.1" y="212.9" width="4.9" height="4.9"/><rect x="402.6" y="212.9" width="4.9" height="4.9"/><rect x="405.1" y="212.8" width="4.9" height="4.9"/><rect x="407.6" y="212.8" width="4.9" height="4.9"/><rect x="410.1" y="212.8" width="4.9" height="4.9"/><rect x="412.6" y="212.8" width="4.9" height="4.9"/><rect x="415.1" y="212.8" width="4.9" height="4.9"/><rect x="417.6" y="212.8" width="4.9" height="4.9"/><rect x="420.1" y="212.8" width="4.9" height="4.9"/><rect x="422.6" y="212.8" width="4.9" height="4.9"/><rect x="425.1" y="212.8" width="4.9" height="4.9"/><rect x="427.6" y="212.8" width="4.9" height="4.9"/><rect x="430.1" y="212.8" width="4.9" height="4.9"/><rect x="432.6" y="212.7" width="4.9" height="4.9"/><rect x="435.1" y="212.7" width="4.9" height="4.9"/><rect x="437.6" y="212.7" width="4.9" height="4.9"/><rect x="440.1" y="212.6" width="4.9" height="4.9"/><rect x="442.6" y="212.6" width="4.9" height="4.9"/><rect x="445.1" y="212.6" width="4.9" height="4.9"/><rect x="447.6" y="212.5" width="4.9" height="4.9"/><rect x="450.1" y="212.5" width="4.9" height="4.9"/><rect x="452.6" y="212.4" width="4.9" height="4.9"/><rect x="455.1" y="212.3" width="4.9" height="4.9"/><rect x="457.6" y="212.3" width="4.9" height="4.9"/><rect x="460.1" y="212.2" width="4.9" height="4.9"/><rect x="462.6" y="212.1" width="4.9" height="4.9"/><rect x="465.1" y="211.9" width="4.9" height="4.9"/><rect x="467.6" y="211.6" width="4.9" height="4.9"/><rect x="470.1" y="211.3" width="4.9" height="4.9"/><rect x="472.6" y="210.8" width="4.9" height="4.9"/><rect x="475.1" y="210.4" width="4.9" height="4.9"/><rect x="477.6" y="209.9" width="4.9" height="4.9"/><rect x="480.1" y="209.3" width="4.9" height="4.9"/><rect x="482.6" y="208.6" width="4.9" height="4.9"/><rect x="485.1" y="207.8" width="4.9" height="4.9"/><rect x="487.6" y="207.0" width="4.9" height="4.9"/><rect x="490.1" y="206.2" width="4.9" height="4.9"/><rect x="492.6" y="205.4" width="4.9" height="4.9"/><rect x="495.1" y="204.4" width="4.9" height="4.9"/><rect x="497.6" y="203.3" width="4.9" height="4.9"/><rect x="500.1" y="201.9" width="4.9" height="4.9"/><rect x="502.6" y="200.3" width="4.9" height="4.9"/><rect x="505.1" y="198.3" width="4.9" height="4.9"/><rect x="507.6" y="196.0" width="4.9" height="4.9"/><rect x="510.1" y="193.0" width="4.9" height="4.9"/><rect x="512.6" y="189.7" width="4.9" height="4.9"/><rect x="515.1" y="186.8" width="4.9" height="4.9"/><rect x="517.6" y="184.4" width="4.9" height="4.9"/><rect x="520.1" y="181.8" width="4.9" height="4.9"/><rect x="522.6" y="178.8" width="4.9" height="4.9"/><rect x="525.1" y="175.1" width="4.9" height="4.9"/><rect x="527.6" y="170.9" width="4.9" height="4.9"/><rect x="530.1" y="165.9" width="4.9" height="4.9"/><rect x="532.6" y="160.8" width="4.9" height="4.9"/><rect x="535.1" y="156.2" width="4.9" height="4.9"/><rect x="537.6" y="150.5" width="4.9" height="4.9"/><rect x="540.1" y="141.8" width="4.9" height="4.9"/><rect x="542.6" y="132.3" width="4.9" height="4.9"/><rect x="545.1" y="121.9" width="4.9" height="4.9"/><rect x="547.6" y="112.4" width="4.9" height="4.9"/><rect x="550.1" y="103.8" width="4.9" height="4.9"/><rect x="552.6" y="94.9" width="4.9" height="4.9"/><rect x="555.1" y="85.8" width="4.9" height="4.9"/><rect x="557.6" y="77.2" width="4.9" height="4.9"/><rect x="560.1" y="69.9" width="4.9" height="4.9"/><rect x="562.6" y="61.6" width="4.9" height="4.9"/><rect x="565.1" y="49.7" width="4.9" height="4.9"/><rect x="567.6" y="46.6" width="4.9" height="4.9"/><rect x="570.1" y="47.3" width="4.9" height="4.9"/><rect x="572.6" y="51.2" width="4.9" height="4.9"/><rect x="575.1" y="60.1" width="4.9" height="4.9"/><rect x="577.6" y="69.5" width="4.9" height="4.9"/><rect x="580.1" y="80.1" width="4.9" height="4.9"/><rect x="582.6" y="90.0" width="4.9" height="4.9"/><rect x="585.1" y="99.9" width="4.9" height="4.9"/><rect x="587.6" y="109.9" width="4.9" height="4.9"/><rect x="590.1" y="120.0" width="4.9" height="4.9"/><rect x="592.6" y="129.8" width="4.9" height="4.9"/><rect x="595.1" y="139.8" width="4.9" height="4.9"/><rect x="597.6" y="149.8" width="4.9" height="4.9"/><rect x="600.1" y="158.2" width="4.9" height="4.9"/><rect x="602.6" y="166.2" width="4.9" height="4.9"/></g>
<g fill="#fff" stroke="#000" stroke-width="0.9"><path d="M390.0,212.3 L393.2,217.6 L386.8,217.6Z"/><path d="M392.5,212.3 L395.7,217.6 L389.3,217.6Z"/><path d="M395.0,212.3 L398.2,217.6 L391.8,217.6Z"/><path d="M397.5,212.3 L400.7,217.6 L394.3,217.6Z"/><path d="M400.0,212.2 L403.2,217.6 L396.8,217.6Z"/><path d="M402.5,212.2 L405.7,217.6 L399.3,217.6Z"/><path d="M405.0,212.2 L408.2,217.6 L401.8,217.6Z"/><path d="M407.5,212.2 L410.7,217.6 L404.3,217.6Z"/><path d="M410.0,212.2 L413.2,217.6 L406.8,217.6Z"/><path d="M412.5,212.2 L415.7,217.5 L409.3,217.5Z"/><path d="M415.0,212.2 L418.2,217.5 L411.8,217.5Z"/><path d="M417.5,212.2 L420.7,217.5 L414.3,217.5Z"/><path d="M420.0,212.2 L423.2,217.5 L416.8,217.5Z"/><path d="M422.5,212.2 L425.7,217.5 L419.3,217.5Z"/><path d="M425.0,212.2 L428.2,217.5 L421.8,217.5Z"/><path d="M427.5,212.2 L430.7,217.5 L424.3,217.5Z"/><path d="M430.0,212.2 L433.2,217.5 L426.8,217.5Z"/><path d="M432.5,212.1 L435.7,217.5 L429.3,217.5Z"/><path d="M435.0,212.1 L438.2,217.5 L431.8,217.5Z"/><path d="M437.5,212.1 L440.7,217.4 L434.3,217.4Z"/><path d="M440.0,212.1 L443.2,217.4 L436.8,217.4Z"/><path d="M442.5,212.0 L445.7,217.4 L439.3,217.4Z"/><path d="M445.0,212.0 L448.2,217.3 L441.8,217.3Z"/><path d="M447.5,212.0 L450.7,217.3 L444.3,217.3Z"/><path d="M450.0,211.9 L453.2,217.2 L446.8,217.2Z"/><path d="M452.5,211.9 L455.7,217.2 L449.3,217.2Z"/><path d="M455.0,211.8 L458.2,217.1 L451.8,217.1Z"/><path d="M457.5,211.7 L460.7,217.1 L454.3,217.1Z"/><path d="M460.0,211.7 L463.2,217.0 L456.8,217.0Z"/><path d="M462.5,211.6 L465.7,216.9 L459.3,216.9Z"/><path d="M465.0,211.5 L468.2,216.8 L461.8,216.8Z"/><path d="M467.5,211.4 L470.7,216.7 L464.3,216.7Z"/><path d="M470.0,211.1 L473.2,216.5 L466.8,216.5Z"/><path d="M472.5,210.8 L475.7,216.1 L469.3,216.1Z"/><path d="M475.0,210.4 L478.2,215.7 L471.8,215.7Z"/><path d="M477.5,209.9 L480.7,215.3 L474.3,215.3Z"/><path d="M480.0,209.5 L483.2,214.8 L476.8,214.8Z"/><path d="M482.5,208.9 L485.7,214.2 L479.3,214.2Z"/><path d="M485.0,208.2 L488.2,213.6 L481.8,213.6Z"/><path d="M487.5,207.5 L490.7,212.8 L484.3,212.8Z"/><path d="M490.0,206.7 L493.2,212.0 L486.8,212.0Z"/><path d="M492.5,205.9 L495.7,211.2 L489.3,211.2Z"/><path d="M495.0,205.1 L498.2,210.4 L491.8,210.4Z"/><path d="M497.5,204.2 L500.7,209.5 L494.3,209.5Z"/><path d="M500.0,203.1 L503.2,208.5 L496.8,208.5Z"/><path d="M502.5,201.9 L505.7,207.2 L499.3,207.2Z"/><path d="M505.0,200.3 L508.2,205.6 L501.8,205.6Z"/><path d="M507.5,198.4 L510.7,203.7 L504.3,203.7Z"/><path d="M510.0,196.3 L513.2,201.6 L506.8,201.6Z"/><path d="M512.5,193.5 L515.7,198.8 L509.3,198.8Z"/><path d="M515.0,190.2 L518.2,195.6 L511.8,195.6Z"/><path d="M517.5,187.1 L520.7,192.5 L514.3,192.5Z"/><path d="M520.0,184.6 L523.2,189.9 L516.8,189.9Z"/><path d="M522.5,182.2 L525.7,187.5 L519.3,187.5Z"/><path d="M525.0,179.3 L528.2,184.7 L521.8,184.7Z"/><path d="M527.5,175.8 L530.7,181.2 L524.3,181.2Z"/><path d="M530.0,171.9 L533.2,177.2 L526.8,177.2Z"/><path d="M532.5,167.2 L535.7,172.5 L529.3,172.5Z"/><path d="M535.0,162.0 L538.2,167.3 L531.8,167.3Z"/><path d="M537.5,157.3 L540.7,162.6 L534.3,162.6Z"/><path d="M540.0,152.2 L543.2,157.6 L536.8,157.6Z"/><path d="M542.5,144.6 L545.7,149.9 L539.3,149.9Z"/><path d="M545.0,135.2 L548.2,140.5 L541.8,140.5Z"/><path d="M547.5,125.0 L550.7,130.4 L544.3,130.4Z"/><path d="M550.0,115.0 L553.2,120.4 L546.8,120.4Z"/><path d="M552.5,106.2 L555.7,111.6 L549.3,111.6Z"/><path d="M555.0,97.5 L558.2,102.8 L551.8,102.8Z"/><path d="M557.5,88.5 L560.7,93.8 L554.3,93.8Z"/><path d="M560.0,79.6 L563.2,84.9 L556.8,84.9Z"/><path d="M562.5,71.9 L565.7,77.2 L559.3,77.2Z"/><path d="M565.0,64.3 L568.2,69.6 L561.8,69.6Z"/><path d="M567.5,52.1 L570.7,57.4 L564.3,57.4Z"/><path d="M570.0,46.5 L573.2,51.8 L566.8,51.8Z"/><path d="M572.5,46.2 L575.7,51.6 L569.3,51.6Z"/><path d="M575.0,48.3 L578.2,53.6 L571.8,53.6Z"/><path d="M577.5,56.2 L580.7,61.5 L574.3,61.5Z"/><path d="M580.0,65.3 L583.2,70.6 L576.8,70.6Z"/><path d="M582.5,75.7 L585.7,81.0 L579.3,81.0Z"/><path d="M585.0,85.8 L588.2,91.2 L581.8,91.2Z"/><path d="M587.5,95.7 L590.7,101.0 L584.3,101.0Z"/><path d="M590.0,105.7 L593.2,111.0 L586.8,111.0Z"/><path d="M592.5,115.8 L595.7,121.1 L589.3,121.1Z"/><path d="M595.0,125.7 L598.2,131.0 L591.8,131.0Z"/><path d="M597.5,135.5 L600.7,140.9 L594.3,140.9Z"/><path d="M600.0,145.8 L603.2,151.1 L596.8,151.1Z"/><path d="M602.5,154.7 L605.7,160.0 L599.3,160.0Z"/><path d="M605.0,162.8 L608.2,168.1 L601.8,168.1Z"/></g>
<g fill="#000" stroke="none"><rect x="387.3" y="85.3" width="5.4" height="5.4"/><rect x="389.8" y="86.2" width="5.4" height="5.4"/><rect x="392.3" y="87.0" width="5.4" height="5.4"/><rect x="394.8" y="87.7" width="5.4" height="5.4"/><rect x="397.3" y="88.4" width="5.4" height="5.4"/><rect x="399.8" y="89.0" width="5.4" height="5.4"/><rect x="402.3" y="89.7" width="5.4" height="5.4"/><rect x="404.8" y="90.3" width="5.4" height="5.4"/><rect x="407.3" y="90.8" width="5.4" height="5.4"/><rect x="409.8" y="91.0" width="5.4" height="5.4"/><rect x="412.3" y="90.8" width="5.4" height="5.4"/><rect x="414.8" y="89.9" width="5.4" height="5.4"/><rect x="417.3" y="88.6" width="5.4" height="5.4"/><rect x="419.8" y="87.2" width="5.4" height="5.4"/><rect x="422.3" y="85.8" width="5.4" height="5.4"/><rect x="424.8" y="84.7" width="5.4" height="5.4"/><rect x="427.3" y="83.4" width="5.4" height="5.4"/><rect x="429.8" y="82.1" width="5.4" height="5.4"/><rect x="432.3" y="81.0" width="5.4" height="5.4"/><rect x="434.8" y="80.1" width="5.4" height="5.4"/><rect x="437.3" y="79.5" width="5.4" height="5.4"/><rect x="439.8" y="78.9" width="5.4" height="5.4"/><rect x="442.3" y="78.5" width="5.4" height="5.4"/><rect x="444.8" y="78.1" width="5.4" height="5.4"/><rect x="447.3" y="77.9" width="5.4" height="5.4"/><rect x="449.8" y="78.0" width="5.4" height="5.4"/><rect x="452.3" y="78.8" width="5.4" height="5.4"/><rect x="454.8" y="79.9" width="5.4" height="5.4"/><rect x="457.3" y="81.2" width="5.4" height="5.4"/><rect x="459.8" y="82.6" width="5.4" height="5.4"/><rect x="462.3" y="84.7" width="5.4" height="5.4"/><rect x="464.8" y="87.1" width="5.4" height="5.4"/><rect x="467.3" y="89.7" width="5.4" height="5.4"/><rect x="469.8" y="92.1" width="5.4" height="5.4"/><rect x="472.3" y="94.3" width="5.4" height="5.4"/><rect x="474.8" y="96.4" width="5.4" height="5.4"/><rect x="477.3" y="98.5" width="5.4" height="5.4"/><rect x="479.8" y="100.5" width="5.4" height="5.4"/><rect x="482.3" y="102.3" width="5.4" height="5.4"/><rect x="484.8" y="104.0" width="5.4" height="5.4"/><rect x="487.3" y="105.7" width="5.4" height="5.4"/><rect x="489.8" y="107.2" width="5.4" height="5.4"/><rect x="492.3" y="108.7" width="5.4" height="5.4"/><rect x="494.8" y="110.1" width="5.4" height="5.4"/><rect x="497.3" y="111.4" width="5.4" height="5.4"/><rect x="499.8" y="112.6" width="5.4" height="5.4"/><rect x="502.3" y="113.7" width="5.4" height="5.4"/><rect x="504.8" y="114.6" width="5.4" height="5.4"/><rect x="507.3" y="115.5" width="5.4" height="5.4"/><rect x="509.8" y="116.3" width="5.4" height="5.4"/><rect x="512.3" y="117.1" width="5.4" height="5.4"/><rect x="514.8" y="117.9" width="5.4" height="5.4"/><rect x="517.3" y="118.7" width="5.4" height="5.4"/><rect x="519.8" y="119.5" width="5.4" height="5.4"/><rect x="522.3" y="120.3" width="5.4" height="5.4"/><rect x="524.8" y="121.2" width="5.4" height="5.4"/><rect x="527.3" y="122.1" width="5.4" height="5.4"/><rect x="529.8" y="123.1" width="5.4" height="5.4"/><rect x="532.3" y="124.1" width="5.4" height="5.4"/><rect x="534.8" y="125.1" width="5.4" height="5.4"/><rect x="537.3" y="126.2" width="5.4" height="5.4"/><rect x="539.8" y="127.2" width="5.4" height="5.4"/><rect x="542.3" y="128.3" width="5.4" height="5.4"/><rect x="544.8" y="129.4" width="5.4" height="5.4"/><rect x="547.3" y="130.5" width="5.4" height="5.4"/><rect x="549.8" y="131.6" width="5.4" height="5.4"/><rect x="552.3" y="132.8" width="5.4" height="5.4"/><rect x="554.8" y="134.1" width="5.4" height="5.4"/><rect x="557.3" y="135.5" width="5.4" height="5.4"/><rect x="559.8" y="137.2" width="5.4" height="5.4"/><rect x="562.3" y="139.1" width="5.4" height="5.4"/><rect x="564.8" y="141.2" width="5.4" height="5.4"/><rect x="567.3" y="143.4" width="5.4" height="5.4"/><rect x="569.8" y="145.6" width="5.4" height="5.4"/><rect x="572.3" y="147.9" width="5.4" height="5.4"/><rect x="574.8" y="150.7" width="5.4" height="5.4"/><rect x="577.3" y="154.5" width="5.4" height="5.4"/><rect x="579.8" y="159.3" width="5.4" height="5.4"/><rect x="582.3" y="163.9" width="5.4" height="5.4"/><rect x="584.8" y="168.4" width="5.4" height="5.4"/><rect x="587.3" y="173.6" width="5.4" height="5.4"/><rect x="589.8" y="179.4" width="5.4" height="5.4"/><rect x="592.3" y="184.6" width="5.4" height="5.4"/><rect x="594.8" y="189.4" width="5.4" height="5.4"/><rect x="597.3" y="194.5" width="5.4" height="5.4"/><rect x="599.8" y="200.1" width="5.4" height="5.4"/><rect x="602.3" y="206.0" width="5.4" height="5.4"/></g>
<g fill="#fff" stroke="#000" stroke-width="0.9"><circle cx="390.0" cy="94.9" r="2.58"/><circle cx="392.5" cy="96.0" r="2.58"/><circle cx="395.0" cy="97.1" r="2.58"/><circle cx="397.5" cy="98.2" r="2.58"/><circle cx="400.0" cy="99.3" r="2.58"/><circle cx="402.5" cy="100.4" r="2.58"/><circle cx="405.0" cy="101.8" r="2.58"/><circle cx="407.5" cy="103.2" r="2.58"/><circle cx="410.0" cy="104.4" r="2.58"/><circle cx="412.5" cy="105.3" r="2.58"/><circle cx="415.0" cy="105.8" r="2.58"/><circle cx="417.5" cy="105.6" r="2.58"/><circle cx="420.0" cy="104.8" r="2.58"/><circle cx="422.5" cy="103.5" r="2.58"/><circle cx="425.0" cy="102.1" r="2.58"/><circle cx="427.5" cy="100.7" r="2.58"/><circle cx="430.0" cy="99.3" r="2.58"/><circle cx="432.5" cy="97.7" r="2.58"/><circle cx="435.0" cy="95.9" r="2.58"/><circle cx="437.5" cy="94.3" r="2.58"/><circle cx="440.0" cy="93.0" r="2.58"/><circle cx="442.5" cy="92.1" r="2.58"/><circle cx="445.0" cy="91.2" r="2.58"/><circle cx="447.5" cy="90.4" r="2.58"/><circle cx="450.0" cy="89.7" r="2.58"/><circle cx="452.5" cy="89.4" r="2.58"/><circle cx="455.0" cy="89.5" r="2.58"/><circle cx="457.5" cy="90.3" r="2.58"/><circle cx="460.0" cy="91.4" r="2.58"/><circle cx="462.5" cy="92.7" r="2.58"/><circle cx="465.0" cy="94.1" r="2.58"/><circle cx="467.5" cy="96.0" r="2.58"/><circle cx="470.0" cy="98.3" r="2.58"/><circle cx="472.5" cy="100.7" r="2.58"/><circle cx="475.0" cy="102.9" r="2.58"/><circle cx="477.5" cy="104.9" r="2.58"/><circle cx="480.0" cy="106.8" r="2.58"/><circle cx="482.5" cy="108.8" r="2.58"/><circle cx="485.0" cy="110.6" r="2.58"/><circle cx="487.5" cy="112.3" r="2.58"/><circle cx="490.0" cy="113.9" r="2.58"/><circle cx="492.5" cy="115.3" r="2.58"/><circle cx="495.0" cy="116.7" r="2.58"/><circle cx="497.5" cy="117.9" r="2.58"/><circle cx="500.0" cy="119.0" r="2.58"/><circle cx="502.5" cy="120.0" r="2.58"/><circle cx="505.0" cy="120.7" r="2.58"/><circle cx="507.5" cy="121.4" r="2.58"/><circle cx="510.0" cy="121.9" r="2.58"/><circle cx="512.5" cy="122.4" r="2.58"/><circle cx="515.0" cy="123.0" r="2.58"/><circle cx="517.5" cy="123.6" r="2.58"/><circle cx="520.0" cy="124.2" r="2.58"/><circle cx="522.5" cy="124.8" r="2.58"/><circle cx="525.0" cy="125.4" r="2.58"/><circle cx="527.5" cy="126.0" r="2.58"/><circle cx="530.0" cy="126.7" r="2.58"/><circle cx="532.5" cy="127.5" r="2.58"/><circle cx="535.0" cy="128.4" r="2.58"/><circle cx="537.5" cy="129.3" r="2.58"/><circle cx="540.0" cy="130.2" r="2.58"/><circle cx="542.5" cy="131.2" r="2.58"/><circle cx="545.0" cy="132.2" r="2.58"/><circle cx="547.5" cy="133.2" r="2.58"/><circle cx="550.0" cy="134.2" r="2.58"/><circle cx="552.5" cy="135.3" r="2.58"/><circle cx="555.0" cy="136.4" r="2.58"/><circle cx="557.5" cy="137.6" r="2.58"/><circle cx="560.0" cy="139.0" r="2.58"/><circle cx="562.5" cy="140.6" r="2.58"/><circle cx="565.0" cy="142.5" r="2.58"/><circle cx="567.5" cy="144.5" r="2.58"/><circle cx="570.0" cy="146.7" r="2.58"/><circle cx="572.5" cy="148.9" r="2.58"/><circle cx="575.0" cy="151.2" r="2.58"/><circle cx="577.5" cy="154.0" r="2.58"/><circle cx="580.0" cy="157.8" r="2.58"/><circle cx="582.5" cy="162.5" r="2.58"/><circle cx="585.0" cy="167.1" r="2.58"/><circle cx="587.5" cy="171.7" r="2.58"/><circle cx="590.0" cy="176.8" r="2.58"/><circle cx="592.5" cy="182.5" r="2.58"/><circle cx="595.0" cy="187.7" r="2.58"/><circle cx="597.5" cy="192.5" r="2.58"/><circle cx="600.0" cy="197.6" r="2.58"/><circle cx="602.5" cy="203.1" r="2.58"/><circle cx="605.0" cy="209.1" r="2.58"/></g>
<g fill="#fff" stroke="#000" stroke-width="0.9"><path d="M390.0,37.5 L393.2,42.9 L386.8,42.9Z"/><path d="M392.5,38.9 L395.7,44.2 L389.3,44.2Z"/><path d="M395.0,40.1 L398.2,45.4 L391.8,45.4Z"/><path d="M397.5,41.2 L400.7,46.5 L394.3,46.5Z"/><path d="M400.0,42.2 L403.2,47.5 L396.8,47.5Z"/><path d="M402.5,43.1 L405.7,48.5 L399.3,48.5Z"/><path d="M405.0,44.0 L408.2,49.3 L401.8,49.3Z"/><path d="M407.5,44.7 L410.7,50.1 L404.3,50.1Z"/><path d="M410.0,45.4 L413.2,50.7 L406.8,50.7Z"/><path d="M412.5,45.9 L415.7,51.2 L409.3,51.2Z"/><path d="M415.0,46.4 L418.2,51.7 L411.8,51.7Z"/><path d="M417.5,46.9 L420.7,52.2 L414.3,52.2Z"/><path d="M420.0,47.3 L423.2,52.7 L416.8,52.7Z"/><path d="M422.5,47.8 L425.7,53.2 L419.3,53.2Z"/><path d="M425.0,48.3 L428.2,53.6 L421.8,53.6Z"/><path d="M427.5,48.9 L430.7,54.2 L424.3,54.2Z"/><path d="M430.0,49.6 L433.2,54.9 L426.8,54.9Z"/><path d="M432.5,50.4 L435.7,55.7 L429.3,55.7Z"/><path d="M435.0,51.6 L438.2,56.9 L431.8,56.9Z"/><path d="M437.5,52.9 L440.7,58.3 L434.3,58.3Z"/><path d="M440.0,54.2 L443.2,59.5 L436.8,59.5Z"/><path d="M442.5,55.4 L445.7,60.7 L439.3,60.7Z"/><path d="M445.0,56.7 L448.2,62.1 L441.8,62.1Z"/><path d="M447.5,58.1 L450.7,63.5 L444.3,63.5Z"/><path d="M450.0,59.7 L453.2,65.0 L446.8,65.0Z"/><path d="M452.5,61.6 L455.7,67.0 L449.3,67.0Z"/><path d="M455.0,63.7 L458.2,69.1 L451.8,69.1Z"/><path d="M457.5,65.8 L460.7,71.1 L454.3,71.1Z"/><path d="M460.0,67.7 L463.2,73.0 L456.8,73.0Z"/><path d="M462.5,69.8 L465.7,75.1 L459.3,75.1Z"/><path d="M465.0,72.2 L468.2,77.5 L461.8,77.5Z"/><path d="M467.5,74.8 L470.7,80.1 L464.3,80.1Z"/><path d="M470.0,77.5 L473.2,82.8 L466.8,82.8Z"/><path d="M472.5,80.1 L475.7,85.5 L469.3,85.5Z"/><path d="M475.0,82.7 L478.2,88.0 L471.8,88.0Z"/><path d="M477.5,85.0 L480.7,90.4 L474.3,90.4Z"/><path d="M480.0,87.4 L483.2,92.7 L476.8,92.7Z"/><path d="M482.5,89.6 L485.7,94.9 L479.3,94.9Z"/><path d="M485.0,91.8 L488.2,97.1 L481.8,97.1Z"/><path d="M487.5,93.9 L490.7,99.3 L484.3,99.3Z"/><path d="M490.0,96.1 L493.2,101.4 L486.8,101.4Z"/><path d="M492.5,98.2 L495.7,103.5 L489.3,103.5Z"/><path d="M495.0,100.2 L498.2,105.6 L491.8,105.6Z"/><path d="M497.5,102.1 L500.7,107.5 L494.3,107.5Z"/><path d="M500.0,103.9 L503.2,109.2 L496.8,109.2Z"/><path d="M502.5,105.5 L505.7,110.9 L499.3,110.9Z"/><path d="M505.0,107.1 L508.2,112.4 L501.8,112.4Z"/><path d="M507.5,108.5 L510.7,113.9 L504.3,113.9Z"/><path d="M510.0,109.9 L513.2,115.2 L506.8,115.2Z"/><path d="M512.5,111.1 L515.7,116.5 L509.3,116.5Z"/><path d="M515.0,112.2 L518.2,117.6 L511.8,117.6Z"/><path d="M517.5,113.3 L520.7,118.6 L514.3,118.6Z"/><path d="M520.0,114.5 L523.2,119.8 L516.8,119.8Z"/><path d="M522.5,115.8 L525.7,121.1 L519.3,121.1Z"/><path d="M525.0,117.2 L528.2,122.5 L521.8,122.5Z"/><path d="M527.5,118.5 L530.7,123.9 L524.3,123.9Z"/><path d="M530.0,119.9 L533.2,125.2 L526.8,125.2Z"/><path d="M532.5,121.1 L535.7,126.5 L529.3,126.5Z"/><path d="M535.0,122.4 L538.2,127.7 L531.8,127.7Z"/><path d="M537.5,123.6 L540.7,128.9 L534.3,128.9Z"/><path d="M540.0,124.8 L543.2,130.1 L536.8,130.1Z"/><path d="M542.5,126.0 L545.7,131.3 L539.3,131.3Z"/><path d="M545.0,127.2 L548.2,132.5 L541.8,132.5Z"/><path d="M547.5,128.4 L550.7,133.7 L544.3,133.7Z"/><path d="M550.0,129.5 L553.2,134.8 L546.8,134.8Z"/><path d="M552.5,130.6 L555.7,135.9 L549.3,135.9Z"/><path d="M555.0,131.8 L558.2,137.1 L551.8,137.1Z"/><path d="M557.5,133.0 L560.7,138.4 L554.3,138.4Z"/><path d="M560.0,134.5 L563.2,139.8 L556.8,139.8Z"/><path d="M562.5,136.1 L565.7,141.5 L559.3,141.5Z"/><path d="M565.0,138.1 L568.2,143.4 L561.8,143.4Z"/><path d="M567.5,140.2 L570.7,145.5 L564.3,145.5Z"/><path d="M570.0,142.4 L573.2,147.7 L566.8,147.7Z"/><path d="M572.5,144.7 L575.7,150.0 L569.3,150.0Z"/><path d="M575.0,147.1 L578.2,152.4 L571.8,152.4Z"/><path d="M577.5,149.8 L580.7,155.1 L574.3,155.1Z"/><path d="M580.0,153.7 L583.2,159.0 L576.8,159.0Z"/><path d="M582.5,158.5 L585.7,163.8 L579.3,163.8Z"/><path d="M585.0,163.1 L588.2,168.4 L581.8,168.4Z"/><path d="M587.5,167.5 L590.7,172.8 L584.3,172.8Z"/><path d="M590.0,172.7 L593.2,178.1 L586.8,178.1Z"/><path d="M592.5,178.6 L595.7,183.9 L589.3,183.9Z"/><path d="M595.0,183.8 L598.2,189.2 L591.8,189.2Z"/><path d="M597.5,188.7 L600.7,194.0 L594.3,194.0Z"/><path d="M600.0,193.7 L603.2,199.0 L596.8,199.0Z"/><path d="M602.5,199.3 L605.7,204.7 L599.3,204.7Z"/><path d="M605.0,205.4 L608.2,210.7 L601.8,210.7Z"/></g>
<rect x="381.60" y="10.70" width="240.70" height="218.50" fill="none" stroke="#3a3a3a" stroke-width="1.3"/>
<line x1="381.60" y1="10.70" x2="385.10" y2="10.70" stroke="#3a3a3a" stroke-width="1.0"/>
<line x1="381.60" y1="47.12" x2="385.10" y2="47.12" stroke="#3a3a3a" stroke-width="1.0"/>
<line x1="381.60" y1="83.54" x2="385.10" y2="83.54" stroke="#3a3a3a" stroke-width="1.0"/>
<line x1="381.60" y1="119.96" x2="385.10" y2="119.96" stroke="#3a3a3a" stroke-width="1.0"/>
<line x1="381.60" y1="156.38" x2="385.10" y2="156.38" stroke="#3a3a3a" stroke-width="1.0"/>
<line x1="381.60" y1="192.80" x2="385.10" y2="192.80" stroke="#3a3a3a" stroke-width="1.0"/>
<line x1="381.60" y1="229.22" x2="385.10" y2="229.22" stroke="#3a3a3a" stroke-width="1.0"/>
<line x1="381.60" y1="28.91" x2="383.60" y2="28.91" stroke="#3a3a3a" stroke-width="1.0"/>
<line x1="381.60" y1="65.33" x2="383.60" y2="65.33" stroke="#3a3a3a" stroke-width="1.0"/>
<line x1="381.60" y1="101.75" x2="383.60" y2="101.75" stroke="#3a3a3a" stroke-width="1.0"/>
<line x1="381.60" y1="138.17" x2="383.60" y2="138.17" stroke="#3a3a3a" stroke-width="1.0"/>
<line x1="381.60" y1="174.59" x2="383.60" y2="174.59" stroke="#3a3a3a" stroke-width="1.0"/>
<line x1="381.60" y1="211.01" x2="383.60" y2="211.01" stroke="#3a3a3a" stroke-width="1.0"/>
<text transform="translate(378.80,14.39) scale(1.04,1)" font-family="Liberation Sans" font-size="12.3" font-weight="normal" fill="#111" stroke="#111" stroke-width="0.25" text-anchor="end">-7.0</text>
<text transform="translate(378.80,50.81) scale(1.04,1)" font-family="Liberation Sans" font-size="12.3" font-weight="normal" fill="#111" stroke="#111" stroke-width="0.25" text-anchor="end">-6.5</text>
<text transform="translate(378.80,87.23) scale(1.04,1)" font-family="Liberation Sans" font-size="12.3" font-weight="normal" fill="#111" stroke="#111" stroke-width="0.25" text-anchor="end">-6.0</text>
<text transform="translate(378.80,123.65) scale(1.04,1)" font-family="Liberation Sans" font-size="12.3" font-weight="normal" fill="#111" stroke="#111" stroke-width="0.25" text-anchor="end">-5.5</text>
<text transform="translate(378.80,160.07) scale(1.04,1)" font-family="Liberation Sans" font-size="12.3" font-weight="normal" fill="#111" stroke="#111" stroke-width="0.25" text-anchor="end">-5.0</text>
<text transform="translate(378.80,196.49) scale(1.04,1)" font-family="Liberation Sans" font-size="12.3" font-weight="normal" fill="#111" stroke="#111" stroke-width="0.25" text-anchor="end">-4.5</text>
<text transform="translate(378.80,232.91) scale(1.04,1)" font-family="Liberation Sans" font-size="12.3" font-weight="normal" fill="#111" stroke="#111" stroke-width="0.25" text-anchor="end">-4.0</text>
<line x1="622.30" y1="214.90" x2="618.80" y2="214.90" stroke="#3a3a3a" stroke-width="1.0"/>
<line x1="622.30" y1="169.65" x2="618.80" y2="169.65" stroke="#3a3a3a" stroke-width="1.0"/>
<line x1="622.30" y1="124.40" x2="618.80" y2="124.40" stroke="#3a3a3a" stroke-width="1.0"/>
<line x1="622.30" y1="79.15" x2="618.80" y2="79.15" stroke="#3a3a3a" stroke-width="1.0"/>
<line x1="622.30" y1="33.90" x2="618.80" y2="33.90" stroke="#3a3a3a" stroke-width="1.0"/>
<line x1="622.30" y1="192.28" x2="620.30" y2="192.28" stroke="#3a3a3a" stroke-width="1.0"/>
<line x1="622.30" y1="147.03" x2="620.30" y2="147.03" stroke="#3a3a3a" stroke-width="1.0"/>
<line x1="622.30" y1="101.78" x2="620.30" y2="101.78" stroke="#3a3a3a" stroke-width="1.0"/>
<line x1="622.30" y1="56.53" x2="620.30" y2="56.53" stroke="#3a3a3a" stroke-width="1.0"/>
<text transform="translate(625.30,219.33) scale(1.04,1)" font-family="Liberation Sans" font-size="12.3" font-weight="normal" fill="#111" stroke="#111" stroke-width="0.25" text-anchor="start">0</text>
<text transform="translate(625.30,174.08) scale(1.04,1)" font-family="Liberation Sans" font-size="12.3" font-weight="normal" fill="#111" stroke="#111" stroke-width="0.25" text-anchor="start">1</text>
<text transform="translate(625.30,128.83) scale(1.04,1)" font-family="Liberation Sans" font-size="12.3" font-weight="normal" fill="#111" stroke="#111" stroke-width="0.25" text-anchor="start">2</text>
<text transform="translate(625.30,83.58) scale(1.04,1)" font-family="Liberation Sans" font-size="12.3" font-weight="normal" fill="#111" stroke="#111" stroke-width="0.25" text-anchor="start">3</text>
<text transform="translate(625.30,38.33) scale(1.04,1)" font-family="Liberation Sans" font-size="12.3" font-weight="normal" fill="#111" stroke="#111" stroke-width="0.25" text-anchor="start">4</text>
<line x1="390.60" y1="229.20" x2="390.60" y2="225.70" stroke="#3a3a3a" stroke-width="1.0"/>
<line x1="421.65" y1="229.20" x2="421.65" y2="225.70" stroke="#3a3a3a" stroke-width="1.0"/>
<line x1="452.70" y1="229.20" x2="452.70" y2="225.70" stroke="#3a3a3a" stroke-width="1.0"/>
<line x1="483.75" y1="229.20" x2="483.75" y2="225.70" stroke="#3a3a3a" stroke-width="1.0"/>
<line x1="514.80" y1="229.20" x2="514.80" y2="225.70" stroke="#3a3a3a" stroke-width="1.0"/>
<line x1="545.85" y1="229.20" x2="545.85" y2="225.70" stroke="#3a3a3a" stroke-width="1.0"/>
<line x1="576.90" y1="229.20" x2="576.90" y2="225.70" stroke="#3a3a3a" stroke-width="1.0"/>
<line x1="607.95" y1="229.20" x2="607.95" y2="225.70" stroke="#3a3a3a" stroke-width="1.0"/>
<line x1="383.71" y1="229.20" x2="383.71" y2="227.20" stroke="#3a3a3a" stroke-width="1.0"/>
<line x1="385.79" y1="229.20" x2="385.79" y2="227.20" stroke="#3a3a3a" stroke-width="1.0"/>
<line x1="387.59" y1="229.20" x2="387.59" y2="227.20" stroke="#3a3a3a" stroke-width="1.0"/>
<line x1="389.18" y1="229.20" x2="389.18" y2="227.20" stroke="#3a3a3a" stroke-width="1.0"/>
<line x1="399.95" y1="229.20" x2="399.95" y2="227.20" stroke="#3a3a3a" stroke-width="1.0"/>
<line x1="405.41" y1="229.20" x2="405.41" y2="227.20" stroke="#3a3a3a" stroke-width="1.0"/>
<line x1="409.29" y1="229.20" x2="409.29" y2="227.20" stroke="#3a3a3a" stroke-width="1.0"/>
<line x1="412.30" y1="229.20" x2="412.30" y2="227.20" stroke="#3a3a3a" stroke-width="1.0"/>
<line x1="414.76" y1="229.20" x2="414.76" y2="227.20" stroke="#3a3a3a" stroke-width="1.0"/>
<line x1="416.84" y1="229.20" x2="416.84" y2="227.20" stroke="#3a3a3a" stroke-width="1.0"/>
<line x1="418.64" y1="229.20" x2="418.64" y2="227.20" stroke="#3a3a3a" stroke-width="1.0"/>
<line x1="420.23" y1="229.20" x2="420.23" y2="227.20" stroke="#3a3a3a" stroke-width="1.0"/>
<line x1="431.00" y1="229.20" x2="431.00" y2="227.20" stroke="#3a3a3a" stroke-width="1.0"/>
<line x1="436.46" y1="229.20" x2="436.46" y2="227.20" stroke="#3a3a3a" stroke-width="1.0"/>
<line x1="440.34" y1="229.20" x2="440.34" y2="227.20" stroke="#3a3a3a" stroke-width="1.0"/>
<line x1="443.35" y1="229.20" x2="443.35" y2="227.20" stroke="#3a3a3a" stroke-width="1.0"/>
<line x1="445.81" y1="229.20" x2="445.81" y2="227.20" stroke="#3a3a3a" stroke-width="1.0"/>
<line x1="447.89" y1="229.20" x2="447.89" y2="227.20" stroke="#3a3a3a" stroke-width="1.0"/>
<line x1="449.69" y1="229.20" x2="449.69" y2="227.20" stroke="#3a3a3a" stroke-width="1.0"/>
<line x1="451.28" y1="229.20" x2="451.28" y2="227.20" stroke="#3a3a3a" stroke-width="1.0"/>
<line x1="462.05" y1="229.20" x2="462.05" y2="227.20" stroke="#3a3a3a" stroke-width="1.0"/>
<line x1="467.51" y1="229.20" x2="467.51" y2="227.20" stroke="#3a3a3a" stroke-width="1.0"/>
<line x1="471.39" y1="229.20" x2="471.39" y2="227.20" stroke="#3a3a3a" stroke-width="1.0"/>
<line x1="474.40" y1="229.20" x2="474.40" y2="227.20" stroke="#3a3a3a" stroke-width="1.0"/>
<line x1="476.86" y1="229.20" x2="476.86" y2="227.20" stroke="#3a3a3a" stroke-width="1.0"/>
<line x1="478.94" y1="229.20" x2="478.94" y2="227.20" stroke="#3a3a3a" stroke-width="1.0"/>
<line x1="480.74" y1="229.20" x2="480.74" y2="227.20" stroke="#3a3a3a" stroke-width="1.0"/>
<line x1="482.33" y1="229.20" x2="482.33" y2="227.20" stroke="#3a3a3a" stroke-width="1.0"/>
<line x1="493.10" y1="229.20" x2="493.10" y2="227.20" stroke="#3a3a3a" stroke-width="1.0"/>
<line x1="498.56" y1="229.20" x2="498.56" y2="227.20" stroke="#3a3a3a" stroke-width="1.0"/>
<line x1="502.44" y1="229.20" x2="502.44" y2="227.20" stroke="#3a3a3a" stroke-width="1.0"/>
<line x1="505.45" y1="229.20" x2="505.45" y2="227.20" stroke="#3a3a3a" stroke-width="1.0"/>
<line x1="507.91" y1="229.20" x2="507.91" y2="227.20" stroke="#3a3a3a" stroke-width="1.0"/>
<line x1="509.99" y1="229.20" x2="509.99" y2="227.20" stroke="#3a3a3a" stroke-width="1.0"/>
<line x1="511.79" y1="229.20" x2="511.79" y2="227.20" stroke="#3a3a3a" stroke-width="1.0"/>
<line x1="513.38" y1="229.20" x2="513.38" y2="227.20" stroke="#3a3a3a" stroke-width="1.0"/>
<line x1="524.15" y1="229.20" x2="524.15" y2="227.20" stroke="#3a3a3a" stroke-width="1.0"/>
<line x1="529.61" y1="229.20" x2="529.61" y2="227.20" stroke="#3a3a3a" stroke-width="1.0"/>
<line x1="533.49" y1="229.20" x2="533.49" y2="227.20" stroke="#3a3a3a" stroke-width="1.0"/>
<line x1="536.50" y1="229.20" x2="536.50" y2="227.20" stroke="#3a3a3a" stroke-width="1.0"/>
<line x1="538.96" y1="229.20" x2="538.96" y2="227.20" stroke="#3a3a3a" stroke-width="1.0"/>
<line x1="541.04" y1="229.20" x2="541.04" y2="227.20" stroke="#3a3a3a" stroke-width="1.0"/>
<line x1="542.84" y1="229.20" x2="542.84" y2="227.20" stroke="#3a3a3a" stroke-width="1.0"/>
<line x1="544.43" y1="229.20" x2="544.43" y2="227.20" stroke="#3a3a3a" stroke-width="1.0"/>
<line x1="555.20" y1="229.20" x2="555.20" y2="227.20" stroke="#3a3a3a" stroke-width="1.0"/>
<line x1="560.66" y1="229.20" x2="560.66" y2="227.20" stroke="#3a3a3a" stroke-width="1.0"/>
<line x1="564.54" y1="229.20" x2="564.54" y2="227.20" stroke="#3a3a3a" stroke-width="1.0"/>
<line x1="567.55" y1="229.20" x2="567.55" y2="227.20" stroke="#3a3a3a" stroke-width="1.0"/>
<line x1="570.01" y1="229.20" x2="570.01" y2="227.20" stroke="#3a3a3a" stroke-width="1.0"/>
<line x1="572.09" y1="229.20" x2="572.09" y2="227.20" stroke="#3a3a3a" stroke-width="1.0"/>
<line x1="573.89" y1="229.20" x2="573.89" y2="227.20" stroke="#3a3a3a" stroke-width="1.0"/>
<line x1="575.48" y1="229.20" x2="575.48" y2="227.20" stroke="#3a3a3a" stroke-width="1.0"/>
<line x1="586.25" y1="229.20" x2="586.25" y2="227.20" stroke="#3a3a3a" stroke-width="1.0"/>
<line x1="591.71" y1="229.20" x2="591.71" y2="227.20" stroke="#3a3a3a" stroke-width="1.0"/>
<line x1="595.59" y1="229.20" x2="595.59" y2="227.20" stroke="#3a3a3a" stroke-width="1.0"/>
<line x1="598.60" y1="229.20" x2="598.60" y2="227.20" stroke="#3a3a3a" stroke-width="1.0"/>
<line x1="601.06" y1="229.20" x2="601.06" y2="227.20" stroke="#3a3a3a" stroke-width="1.0"/>
<line x1="603.14" y1="229.20" x2="603.14" y2="227.20" stroke="#3a3a3a" stroke-width="1.0"/>
<line x1="604.94" y1="229.20" x2="604.94" y2="227.20" stroke="#3a3a3a" stroke-width="1.0"/>
<line x1="606.53" y1="229.20" x2="606.53" y2="227.20" stroke="#3a3a3a" stroke-width="1.0"/>
<line x1="617.30" y1="229.20" x2="617.30" y2="227.20" stroke="#3a3a3a" stroke-width="1.0"/>
<text transform="translate(379.87,244.10) scale(1.04,1)" font-family="Liberation Sans" font-size="12.3" font-weight="normal" fill="#111" stroke="#111" stroke-width="0.25" text-anchor="start">10<tspan font-size="7.4" dx="0.6" dy="-7.0">-1</tspan></text>
<text transform="translate(412.68,244.10) scale(1.04,1)" font-family="Liberation Sans" font-size="12.3" font-weight="normal" fill="#111" stroke="#111" stroke-width="0.25" text-anchor="start">10<tspan font-size="7.4" dx="0.6" dy="-7.0">0</tspan></text>
<text transform="translate(443.73,244.10) scale(1.04,1)" font-family="Liberation Sans" font-size="12.3" font-weight="normal" fill="#111" stroke="#111" stroke-width="0.25" text-anchor="start">10<tspan font-size="7.4" dx="0.6" dy="-7.0">1</tspan></text>
<text transform="translate(474.78,244.10) scale(1.04,1)" font-family="Liberation Sans" font-size="12.3" font-weight="normal" fill="#111" stroke="#111" stroke-width="0.25" text-anchor="start">10<tspan font-size="7.4" dx="0.6" dy="-7.0">2</tspan></text>
<text transform="translate(505.83,244.10) scale(1.04,1)" font-family="Liberation Sans" font-size="12.3" font-weight="normal" fill="#111" stroke="#111" stroke-width="0.25" text-anchor="start">10<tspan font-size="7.4" dx="0.6" dy="-7.0">3</tspan></text>
<text transform="translate(536.88,244.10) scale(1.04,1)" font-family="Liberation Sans" font-size="12.3" font-weight="normal" fill="#111" stroke="#111" stroke-width="0.25" text-anchor="start">10<tspan font-size="7.4" dx="0.6" dy="-7.0">4</tspan></text>
<text transform="translate(567.93,244.10) scale(1.04,1)" font-family="Liberation Sans" font-size="12.3" font-weight="normal" fill="#111" stroke="#111" stroke-width="0.25" text-anchor="start">10<tspan font-size="7.4" dx="0.6" dy="-7.0">5</tspan></text>
<text transform="translate(598.98,244.10) scale(1.04,1)" font-family="Liberation Sans" font-size="12.3" font-weight="normal" fill="#111" stroke="#111" stroke-width="0.25" text-anchor="start">10<tspan font-size="7.4" dx="0.6" dy="-7.0">6</tspan></text>
<text transform="translate(501.50,260.80) scale(1.09,1)" font-family="Liberation Sans" font-size="12.3" font-weight="normal" fill="#111" stroke="#111" stroke-width="0.25" text-anchor="middle">f (Hz)</text>
<text transform="translate(343.31,118.70) rotate(-90) scale(1.04,1)" font-family="Liberation Sans" font-size="12.3" font-weight="normal" fill="#111" stroke="#111" stroke-width="0.25" text-anchor="middle">− log (− Z<tspan dx="1.5">″</tspan>) (Ω cm)</text>
<text transform="translate(659.00,117.80) rotate(-90)" font-family="Liberation Sans" font-size="13.4" font-weight="normal" fill="#111" stroke="#111" stroke-width="0.25" text-anchor="middle">10<tspan font-size="8.3" dy="-5.6">-10</tspan><tspan dy="5.6"> M<tspan dx="0.8">″</tspan>/ ε</tspan><tspan font-size="8.3" dy="3.0">0</tspan><tspan dy="-3.0"> (F/cm)</tspan></text>
<text transform="translate(609.70,29.20)" font-family="Liberation Sans" font-size="14.4" font-weight="normal" fill="#111" stroke="#111" stroke-width="0.25" text-anchor="middle">(e)</text>
<text transform="translate(555.00,37.30)" font-family="Liberation Serif" font-size="14.5" font-weight="normal" fill="#111" stroke="#111" stroke-width="0.25" text-anchor="start">CP</text>
<text transform="translate(439.50,44.30)" font-family="Liberation Serif" font-size="14.5" font-weight="normal" fill="#111" stroke="#111" stroke-width="0.25" text-anchor="start">PB</text>
<text transform="translate(392.90,73.20)" font-family="Liberation Serif" font-size="14.5" font-weight="normal" fill="#111" stroke="#111" stroke-width="0.25" text-anchor="start">GB</text>
<text transform="translate(400.50,136.40)" font-family="Liberation Serif" font-size="14.5" font-weight="normal" fill="#2020c8" stroke="#2020c8" stroke-width="0.25" text-anchor="start">250 °C</text>
<circle cx="418.8" cy="150.7" r="3.3" fill="#fff" stroke="#000" stroke-width="1.25"/>
<rect x="415.5" y="163.4" width="6.6" height="6.6" fill="#000"/>
<path d="M418.8,178.9 L423.1,186.1 L414.5,186.1Z" fill="#fff" stroke="#000" stroke-width="1.25" stroke-linejoin="miter"/>
<text transform="translate(433.00,154.33) scale(1.04,1)" font-family="Liberation Sans" font-size="12.3" font-weight="normal" fill="#111" stroke="#111" stroke-width="0.25" text-anchor="start">O<tspan font-size="11.1">2</tspan></text>
<text transform="translate(433.00,170.33) scale(1.04,1)" font-family="Liberation Sans" font-size="12.3" font-weight="normal" fill="#111" stroke="#111" stroke-width="0.25" text-anchor="start">air</text>
<text transform="translate(433.00,186.33) scale(1.04,1)" font-family="Liberation Sans" font-size="12.3" font-weight="normal" fill="#111" stroke="#111" stroke-width="0.25" text-anchor="start">N<tspan font-size="11.1">2</tspan></text>
<path d="M528.9,89.6 L531.9,89.6 L531.9,102.7 L536.9,102.7 L530.4,115.7 L523.9,102.7 L528.9,102.7Z" fill="#e8141c"/>
<path d="M570.4,113.3 L573.4,113.3 L573.4,126.4 L578.4,126.4 L571.9,139.4 L565.4,126.4 L570.4,126.4Z" fill="#e8141c"/>
<rect x="551.70" y="317.40" width="66.70" height="161.60" fill="none" stroke="#555" stroke-width="1.2" stroke-dasharray="6,3.5"/>
<g fill="#fff" stroke="#000" stroke-width="0.9"><circle cx="390.6" cy="480.3" r="2.58"/><circle cx="393.1" cy="480.3" r="2.58"/><circle cx="395.6" cy="480.3" r="2.58"/><circle cx="398.1" cy="480.3" r="2.58"/><circle cx="400.6" cy="480.3" r="2.58"/><circle cx="403.1" cy="480.3" r="2.58"/><circle cx="405.6" cy="480.3" r="2.58"/><circle cx="408.1" cy="480.3" r="2.58"/><circle cx="410.6" cy="480.3" r="2.58"/><circle cx="413.1" cy="480.3" r="2.58"/><circle cx="415.6" cy="480.3" r="2.58"/><circle cx="418.1" cy="480.3" r="2.58"/><circle cx="420.6" cy="480.3" r="2.58"/><circle cx="423.1" cy="480.3" r="2.58"/><circle cx="425.6" cy="480.3" r="2.58"/><circle cx="428.1" cy="480.3" r="2.58"/><circle cx="430.6" cy="480.3" r="2.58"/><circle cx="433.1" cy="480.2" r="2.58"/><circle cx="435.6" cy="480.2" r="2.58"/><circle cx="438.1" cy="480.2" r="2.58"/><circle cx="440.6" cy="480.2" r="2.58"/><circle cx="443.1" cy="480.2" r="2.58"/><circle cx="445.6" cy="480.2" r="2.58"/><circle cx="448.1" cy="480.2" r="2.58"/><circle cx="450.6" cy="480.2" r="2.58"/><circle cx="453.1" cy="480.2" r="2.58"/><circle cx="455.6" cy="480.2" r="2.58"/><circle cx="458.1" cy="480.1" r="2.58"/><circle cx="460.6" cy="480.1" r="2.58"/><circle cx="463.1" cy="480.1" r="2.58"/><circle cx="465.6" cy="480.0" r="2.58"/><circle cx="468.1" cy="480.0" r="2.58"/><circle cx="470.6" cy="480.0" r="2.58"/><circle cx="473.1" cy="479.9" r="2.58"/><circle cx="475.6" cy="479.8" r="2.58"/><circle cx="478.1" cy="479.8" r="2.58"/><circle cx="480.6" cy="479.7" r="2.58"/><circle cx="483.1" cy="479.6" r="2.58"/><circle cx="485.6" cy="479.6" r="2.58"/><circle cx="488.1" cy="479.5" r="2.58"/><circle cx="490.6" cy="479.4" r="2.58"/><circle cx="493.1" cy="479.3" r="2.58"/><circle cx="495.6" cy="479.2" r="2.58"/><circle cx="498.1" cy="479.1" r="2.58"/><circle cx="500.6" cy="479.0" r="2.58"/><circle cx="503.1" cy="478.8" r="2.58"/><circle cx="505.6" cy="478.6" r="2.58"/><circle cx="508.1" cy="478.3" r="2.58"/><circle cx="510.6" cy="477.9" r="2.58"/><circle cx="513.1" cy="477.5" r="2.58"/><circle cx="515.6" cy="477.2" r="2.58"/><circle cx="518.1" cy="476.8" r="2.58"/><circle cx="520.6" cy="476.4" r="2.58"/><circle cx="523.1" cy="476.0" r="2.58"/><circle cx="525.6" cy="475.7" r="2.58"/><circle cx="528.1" cy="475.3" r="2.58"/><circle cx="530.6" cy="474.8" r="2.58"/><circle cx="533.1" cy="474.3" r="2.58"/><circle cx="535.6" cy="473.8" r="2.58"/><circle cx="538.1" cy="473.2" r="2.58"/><circle cx="540.6" cy="472.6" r="2.58"/><circle cx="543.1" cy="471.8" r="2.58"/><circle cx="545.6" cy="471.0" r="2.58"/><circle cx="548.1" cy="470.1" r="2.58"/><circle cx="550.6" cy="469.0" r="2.58"/><circle cx="553.1" cy="467.6" r="2.58"/><circle cx="555.6" cy="465.9" r="2.58"/><circle cx="558.1" cy="464.1" r="2.58"/><circle cx="560.6" cy="461.8" r="2.58"/><circle cx="563.1" cy="459.2" r="2.58"/><circle cx="565.6" cy="456.4" r="2.58"/><circle cx="568.1" cy="453.2" r="2.58"/><circle cx="570.6" cy="449.6" r="2.58"/><circle cx="573.1" cy="445.4" r="2.58"/><circle cx="575.6" cy="440.0" r="2.58"/><circle cx="578.1" cy="432.3" r="2.58"/><circle cx="580.6" cy="422.8" r="2.58"/><circle cx="583.1" cy="412.5" r="2.58"/><circle cx="585.6" cy="403.4" r="2.58"/><circle cx="588.1" cy="395.6" r="2.58"/><circle cx="590.6" cy="386.4" r="2.58"/><circle cx="593.1" cy="374.0" r="2.58"/><circle cx="595.6" cy="361.4" r="2.58"/><circle cx="598.1" cy="347.6" r="2.58"/><circle cx="600.6" cy="336.1" r="2.58"/><circle cx="603.1" cy="327.0" r="2.58"/></g>
<g fill="#fff" stroke="#000" stroke-width="0.9"><path d="M390.6,475.3 L393.8,480.6 L387.4,480.6Z"/><path d="M393.1,475.3 L396.3,480.6 L389.9,480.6Z"/><path d="M395.6,475.3 L398.8,480.6 L392.4,480.6Z"/><path d="M398.1,475.3 L401.3,480.6 L394.9,480.6Z"/><path d="M400.6,475.3 L403.8,480.6 L397.4,480.6Z"/><path d="M403.1,475.2 L406.3,480.6 L399.9,480.6Z"/><path d="M405.6,475.2 L408.8,480.6 L402.4,480.6Z"/><path d="M408.1,475.2 L411.3,480.6 L404.9,480.6Z"/><path d="M410.6,475.2 L413.8,480.6 L407.4,480.6Z"/><path d="M413.1,475.2 L416.3,480.6 L409.9,480.6Z"/><path d="M415.6,475.2 L418.8,480.6 L412.4,480.6Z"/><path d="M418.1,475.2 L421.3,480.6 L414.9,480.6Z"/><path d="M420.6,475.2 L423.8,480.6 L417.4,480.6Z"/><path d="M423.1,475.2 L426.3,480.6 L419.9,480.6Z"/><path d="M425.6,475.2 L428.8,480.5 L422.4,480.5Z"/><path d="M428.1,475.2 L431.3,480.5 L424.9,480.5Z"/><path d="M430.6,475.2 L433.8,480.5 L427.4,480.5Z"/><path d="M433.1,475.2 L436.3,480.5 L429.9,480.5Z"/><path d="M435.6,475.2 L438.8,480.5 L432.4,480.5Z"/><path d="M438.1,475.2 L441.3,480.5 L434.9,480.5Z"/><path d="M440.6,475.2 L443.8,480.5 L437.4,480.5Z"/><path d="M443.1,475.2 L446.3,480.5 L439.9,480.5Z"/><path d="M445.6,475.2 L448.8,480.5 L442.4,480.5Z"/><path d="M448.1,475.2 L451.3,480.5 L444.9,480.5Z"/><path d="M450.6,475.2 L453.8,480.5 L447.4,480.5Z"/><path d="M453.1,475.1 L456.3,480.5 L449.9,480.5Z"/><path d="M455.6,475.1 L458.8,480.5 L452.4,480.5Z"/><path d="M458.1,475.1 L461.3,480.4 L454.9,480.4Z"/><path d="M460.6,475.1 L463.8,480.4 L457.4,480.4Z"/><path d="M463.1,475.0 L466.3,480.4 L459.9,480.4Z"/><path d="M465.6,475.0 L468.8,480.3 L462.4,480.3Z"/><path d="M468.1,475.0 L471.3,480.3 L464.9,480.3Z"/><path d="M470.6,474.9 L473.8,480.2 L467.4,480.2Z"/><path d="M473.1,474.9 L476.3,480.2 L469.9,480.2Z"/><path d="M475.6,474.8 L478.8,480.1 L472.4,480.1Z"/><path d="M478.1,474.7 L481.3,480.1 L474.9,480.1Z"/><path d="M480.6,474.7 L483.8,480.0 L477.4,480.0Z"/><path d="M483.1,474.6 L486.3,479.9 L479.9,479.9Z"/><path d="M485.6,474.5 L488.8,479.8 L482.4,479.8Z"/><path d="M488.1,474.4 L491.3,479.8 L484.9,479.8Z"/><path d="M490.6,474.3 L493.8,479.7 L487.4,479.7Z"/><path d="M493.1,474.2 L496.3,479.6 L489.9,479.6Z"/><path d="M495.6,474.1 L498.8,479.5 L492.4,479.5Z"/><path d="M498.1,474.0 L501.3,479.4 L494.9,479.4Z"/><path d="M500.6,473.9 L503.8,479.3 L497.4,479.3Z"/><path d="M503.1,473.8 L506.3,479.1 L499.9,479.1Z"/><path d="M505.6,473.5 L508.8,478.8 L502.4,478.8Z"/><path d="M508.1,473.2 L511.3,478.5 L504.9,478.5Z"/><path d="M510.6,472.9 L513.8,478.2 L507.4,478.2Z"/><path d="M513.1,472.5 L516.3,477.8 L509.9,477.8Z"/><path d="M515.6,472.1 L518.8,477.4 L512.4,477.4Z"/><path d="M518.1,471.7 L521.3,477.1 L514.9,477.1Z"/><path d="M520.6,471.4 L523.8,476.7 L517.4,476.7Z"/><path d="M523.1,471.0 L526.3,476.3 L519.9,476.3Z"/><path d="M525.6,470.6 L528.8,475.9 L522.4,475.9Z"/><path d="M528.1,470.2 L531.3,475.5 L524.9,475.5Z"/><path d="M530.6,469.8 L533.8,475.1 L527.4,475.1Z"/><path d="M533.1,469.3 L536.3,474.6 L529.9,474.6Z"/><path d="M535.6,468.8 L538.8,474.1 L532.4,474.1Z"/><path d="M538.1,468.2 L541.3,473.5 L534.9,473.5Z"/><path d="M540.6,467.5 L543.8,472.8 L537.4,472.8Z"/><path d="M543.1,466.8 L546.3,472.1 L539.9,472.1Z"/><path d="M545.6,466.0 L548.8,471.3 L542.4,471.3Z"/><path d="M548.1,465.0 L551.3,470.4 L544.9,470.4Z"/><path d="M550.6,464.0 L553.8,469.3 L547.4,469.3Z"/><path d="M553.1,462.6 L556.3,467.9 L549.9,467.9Z"/><path d="M555.6,460.9 L558.8,466.2 L552.4,466.2Z"/><path d="M558.1,459.0 L561.3,464.3 L554.9,464.3Z"/><path d="M560.6,456.8 L563.8,462.1 L557.4,462.1Z"/><path d="M563.1,454.2 L566.3,459.5 L559.9,459.5Z"/><path d="M565.6,451.3 L568.8,456.7 L562.4,456.7Z"/><path d="M568.1,448.2 L571.3,453.5 L564.9,453.5Z"/><path d="M570.6,444.6 L573.8,449.9 L567.4,449.9Z"/><path d="M573.1,440.3 L576.3,445.6 L569.9,445.6Z"/><path d="M575.6,435.0 L578.8,440.3 L572.4,440.3Z"/><path d="M578.1,427.2 L581.3,432.6 L574.9,432.6Z"/><path d="M580.6,417.7 L583.8,423.1 L577.4,423.1Z"/><path d="M583.1,407.5 L586.3,412.8 L579.9,412.8Z"/><path d="M585.6,398.4 L588.8,403.7 L582.4,403.7Z"/><path d="M588.1,390.6 L591.3,395.9 L584.9,395.9Z"/><path d="M590.6,381.3 L593.8,386.7 L587.4,386.7Z"/><path d="M593.1,369.0 L596.3,374.3 L589.9,374.3Z"/><path d="M595.6,356.4 L598.8,361.7 L592.4,361.7Z"/><path d="M598.1,342.5 L601.3,347.9 L594.9,347.9Z"/><path d="M600.6,331.0 L603.8,336.4 L597.4,336.4Z"/><path d="M603.1,322.0 L606.3,327.3 L599.9,327.3Z"/></g>
<g fill="#000" stroke="none"><rect x="387.9" y="414.8" width="5.4" height="5.4"/><rect x="390.4" y="411.6" width="5.4" height="5.4"/><rect x="392.9" y="409.0" width="5.4" height="5.4"/><rect x="395.4" y="406.7" width="5.4" height="5.4"/><rect x="397.9" y="404.6" width="5.4" height="5.4"/><rect x="400.4" y="402.9" width="5.4" height="5.4"/><rect x="402.9" y="402.3" width="5.4" height="5.4"/><rect x="405.4" y="402.7" width="5.4" height="5.4"/><rect x="407.9" y="403.7" width="5.4" height="5.4"/><rect x="410.4" y="405.2" width="5.4" height="5.4"/><rect x="412.9" y="406.7" width="5.4" height="5.4"/><rect x="415.4" y="408.6" width="5.4" height="5.4"/><rect x="417.9" y="411.2" width="5.4" height="5.4"/><rect x="420.4" y="414.0" width="5.4" height="5.4"/><rect x="422.9" y="416.8" width="5.4" height="5.4"/><rect x="425.4" y="419.4" width="5.4" height="5.4"/><rect x="427.9" y="422.3" width="5.4" height="5.4"/><rect x="430.4" y="425.1" width="5.4" height="5.4"/><rect x="432.9" y="427.2" width="5.4" height="5.4"/><rect x="435.4" y="427.9" width="5.4" height="5.4"/><rect x="437.9" y="427.9" width="5.4" height="5.4"/><rect x="440.4" y="427.9" width="5.4" height="5.4"/><rect x="442.9" y="427.9" width="5.4" height="5.4"/><rect x="445.4" y="427.7" width="5.4" height="5.4"/><rect x="447.9" y="426.5" width="5.4" height="5.4"/><rect x="450.4" y="424.7" width="5.4" height="5.4"/><rect x="452.9" y="423.1" width="5.4" height="5.4"/><rect x="455.4" y="422.3" width="5.4" height="5.4"/><rect x="457.9" y="421.9" width="5.4" height="5.4"/><rect x="460.4" y="421.5" width="5.4" height="5.4"/><rect x="462.9" y="421.3" width="5.4" height="5.4"/><rect x="465.4" y="421.2" width="5.4" height="5.4"/><rect x="467.9" y="421.4" width="5.4" height="5.4"/><rect x="470.4" y="422.3" width="5.4" height="5.4"/><rect x="472.9" y="423.6" width="5.4" height="5.4"/><rect x="475.4" y="424.8" width="5.4" height="5.4"/><rect x="477.9" y="425.8" width="5.4" height="5.4"/><rect x="480.4" y="426.6" width="5.4" height="5.4"/><rect x="482.9" y="427.5" width="5.4" height="5.4"/><rect x="485.4" y="428.2" width="5.4" height="5.4"/><rect x="487.9" y="428.8" width="5.4" height="5.4"/><rect x="490.4" y="429.0" width="5.4" height="5.4"/><rect x="492.9" y="428.8" width="5.4" height="5.4"/><rect x="495.4" y="428.2" width="5.4" height="5.4"/><rect x="497.9" y="427.2" width="5.4" height="5.4"/><rect x="500.4" y="426.1" width="5.4" height="5.4"/><rect x="502.9" y="425.0" width="5.4" height="5.4"/><rect x="505.4" y="423.8" width="5.4" height="5.4"/><rect x="507.9" y="422.1" width="5.4" height="5.4"/><rect x="510.4" y="420.3" width="5.4" height="5.4"/><rect x="512.9" y="418.7" width="5.4" height="5.4"/><rect x="515.4" y="417.8" width="5.4" height="5.4"/><rect x="517.9" y="417.4" width="5.4" height="5.4"/><rect x="520.4" y="417.0" width="5.4" height="5.4"/><rect x="522.9" y="416.7" width="5.4" height="5.4"/><rect x="525.4" y="416.6" width="5.4" height="5.4"/><rect x="527.9" y="416.9" width="5.4" height="5.4"/><rect x="530.4" y="418.0" width="5.4" height="5.4"/><rect x="532.9" y="419.3" width="5.4" height="5.4"/><rect x="535.4" y="420.3" width="5.4" height="5.4"/><rect x="537.9" y="421.3" width="5.4" height="5.4"/><rect x="540.4" y="422.4" width="5.4" height="5.4"/><rect x="542.9" y="423.3" width="5.4" height="5.4"/><rect x="545.4" y="423.9" width="5.4" height="5.4"/><rect x="547.9" y="424.1" width="5.4" height="5.4"/><rect x="550.4" y="423.8" width="5.4" height="5.4"/><rect x="552.9" y="423.3" width="5.4" height="5.4"/><rect x="555.4" y="422.6" width="5.4" height="5.4"/><rect x="557.9" y="421.7" width="5.4" height="5.4"/><rect x="560.4" y="420.8" width="5.4" height="5.4"/><rect x="562.9" y="419.5" width="5.4" height="5.4"/><rect x="565.4" y="417.6" width="5.4" height="5.4"/><rect x="567.9" y="415.6" width="5.4" height="5.4"/><rect x="570.4" y="414.1" width="5.4" height="5.4"/><rect x="572.9" y="413.4" width="5.4" height="5.4"/><rect x="575.4" y="413.5" width="5.4" height="5.4"/><rect x="577.9" y="413.8" width="5.4" height="5.4"/><rect x="580.4" y="414.2" width="5.4" height="5.4"/><rect x="582.9" y="415.0" width="5.4" height="5.4"/><rect x="585.4" y="416.9" width="5.4" height="5.4"/><rect x="587.9" y="419.6" width="5.4" height="5.4"/><rect x="590.4" y="422.2" width="5.4" height="5.4"/><rect x="592.9" y="424.8" width="5.4" height="5.4"/><rect x="595.4" y="427.6" width="5.4" height="5.4"/><rect x="597.9" y="430.5" width="5.4" height="5.4"/><rect x="600.4" y="433.6" width="5.4" height="5.4"/></g>
<g fill="#fff" stroke="#000" stroke-width="0.9"><circle cx="390.6" cy="448.2" r="2.58"/><circle cx="393.1" cy="443.2" r="2.58"/><circle cx="395.6" cy="437.8" r="2.58"/><circle cx="398.1" cy="433.5" r="2.58"/><circle cx="400.6" cy="430.6" r="2.58"/><circle cx="403.1" cy="428.0" r="2.58"/><circle cx="405.6" cy="426.1" r="2.58"/><circle cx="408.1" cy="425.1" r="2.58"/><circle cx="410.6" cy="425.3" r="2.58"/><circle cx="413.1" cy="426.7" r="2.58"/><circle cx="415.6" cy="428.7" r="2.58"/><circle cx="418.1" cy="430.9" r="2.58"/><circle cx="420.6" cy="433.5" r="2.58"/><circle cx="423.1" cy="436.8" r="2.58"/><circle cx="425.6" cy="440.3" r="2.58"/><circle cx="428.1" cy="443.9" r="2.58"/><circle cx="430.6" cy="447.4" r="2.58"/><circle cx="433.1" cy="451.2" r="2.58"/><circle cx="435.6" cy="454.8" r="2.58"/><circle cx="438.1" cy="457.5" r="2.58"/><circle cx="440.6" cy="459.6" r="2.58"/><circle cx="443.1" cy="461.5" r="2.58"/><circle cx="445.6" cy="462.7" r="2.58"/><circle cx="448.1" cy="462.5" r="2.58"/><circle cx="450.6" cy="460.8" r="2.58"/><circle cx="453.1" cy="458.4" r="2.58"/><circle cx="455.6" cy="456.1" r="2.58"/><circle cx="458.1" cy="453.8" r="2.58"/><circle cx="460.6" cy="451.3" r="2.58"/><circle cx="463.1" cy="449.1" r="2.58"/><circle cx="465.6" cy="447.7" r="2.58"/><circle cx="468.1" cy="446.4" r="2.58"/><circle cx="470.6" cy="445.4" r="2.58"/><circle cx="473.1" cy="445.0" r="2.58"/><circle cx="475.6" cy="445.3" r="2.58"/><circle cx="478.1" cy="446.1" r="2.58"/><circle cx="480.6" cy="447.3" r="2.58"/><circle cx="483.1" cy="448.7" r="2.58"/><circle cx="485.6" cy="450.2" r="2.58"/><circle cx="488.1" cy="452.4" r="2.58"/><circle cx="490.6" cy="454.9" r="2.58"/><circle cx="493.1" cy="457.4" r="2.58"/><circle cx="495.6" cy="459.4" r="2.58"/><circle cx="498.1" cy="461.0" r="2.58"/><circle cx="500.6" cy="462.5" r="2.58"/><circle cx="503.1" cy="463.8" r="2.58"/><circle cx="505.6" cy="464.5" r="2.58"/><circle cx="508.1" cy="464.4" r="2.58"/><circle cx="510.6" cy="463.4" r="2.58"/><circle cx="513.1" cy="461.8" r="2.58"/><circle cx="515.6" cy="459.9" r="2.58"/><circle cx="518.1" cy="458.1" r="2.58"/><circle cx="520.6" cy="456.6" r="2.58"/><circle cx="523.1" cy="455.1" r="2.58"/><circle cx="525.6" cy="453.6" r="2.58"/><circle cx="528.1" cy="452.3" r="2.58"/><circle cx="530.6" cy="451.0" r="2.58"/><circle cx="533.1" cy="449.9" r="2.58"/><circle cx="535.6" cy="448.8" r="2.58"/><circle cx="538.1" cy="448.0" r="2.58"/><circle cx="540.6" cy="447.4" r="2.58"/><circle cx="543.1" cy="446.8" r="2.58"/><circle cx="545.6" cy="446.3" r="2.58"/><circle cx="548.1" cy="445.7" r="2.58"/><circle cx="550.6" cy="444.9" r="2.58"/><circle cx="553.1" cy="444.0" r="2.58"/><circle cx="555.6" cy="442.9" r="2.58"/><circle cx="558.1" cy="441.6" r="2.58"/><circle cx="560.6" cy="440.1" r="2.58"/><circle cx="563.1" cy="438.5" r="2.58"/><circle cx="565.6" cy="435.9" r="2.58"/><circle cx="568.1" cy="432.7" r="2.58"/><circle cx="570.6" cy="429.5" r="2.58"/><circle cx="573.1" cy="427.1" r="2.58"/><circle cx="575.6" cy="425.7" r="2.58"/><circle cx="578.1" cy="424.5" r="2.58"/><circle cx="580.6" cy="423.8" r="2.58"/><circle cx="583.1" cy="423.7" r="2.58"/><circle cx="585.6" cy="424.6" r="2.58"/><circle cx="588.1" cy="426.1" r="2.58"/><circle cx="590.6" cy="427.8" r="2.58"/><circle cx="593.1" cy="429.9" r="2.58"/><circle cx="595.6" cy="432.4" r="2.58"/><circle cx="598.1" cy="435.2" r="2.58"/><circle cx="600.6" cy="437.9" r="2.58"/><circle cx="603.1" cy="440.8" r="2.58"/></g>
<g fill="#fff" stroke="#000" stroke-width="0.9"><path d="M390.6,286.0 L393.8,291.4 L387.4,291.4Z"/><path d="M393.1,289.4 L396.3,294.8 L389.9,294.8Z"/><path d="M395.6,293.1 L398.8,298.4 L392.4,298.4Z"/><path d="M398.1,297.1 L401.3,302.4 L394.9,302.4Z"/><path d="M400.6,301.2 L403.8,306.5 L397.4,306.5Z"/><path d="M403.1,304.9 L406.3,310.2 L399.9,310.2Z"/><path d="M405.6,308.5 L408.8,313.8 L402.4,313.8Z"/><path d="M408.1,311.3 L411.3,316.6 L404.9,316.6Z"/><path d="M410.6,313.1 L413.8,318.4 L407.4,318.4Z"/><path d="M413.1,314.5 L416.3,319.8 L409.9,319.8Z"/><path d="M415.6,315.5 L418.8,320.9 L412.4,320.9Z"/><path d="M418.1,316.5 L421.3,321.8 L414.9,321.8Z"/><path d="M420.6,317.2 L423.8,322.5 L417.4,322.5Z"/><path d="M423.1,317.8 L426.3,323.1 L419.9,323.1Z"/><path d="M425.6,318.3 L428.8,323.6 L422.4,323.6Z"/><path d="M428.1,318.9 L431.3,324.2 L424.9,324.2Z"/><path d="M430.6,319.6 L433.8,324.9 L427.4,324.9Z"/><path d="M433.1,320.5 L436.3,325.8 L429.9,325.8Z"/><path d="M435.6,321.6 L438.8,327.0 L432.4,327.0Z"/><path d="M438.1,322.9 L441.3,328.3 L434.9,328.3Z"/><path d="M440.6,324.3 L443.8,329.7 L437.4,329.7Z"/><path d="M443.1,325.8 L446.3,331.1 L439.9,331.1Z"/><path d="M445.6,327.5 L448.8,332.9 L442.4,332.9Z"/><path d="M448.1,329.4 L451.3,334.7 L444.9,334.7Z"/><path d="M450.6,331.3 L453.8,336.6 L447.4,336.6Z"/><path d="M453.1,332.9 L456.3,338.3 L449.9,338.3Z"/><path d="M455.6,334.4 L458.8,339.8 L452.4,339.8Z"/><path d="M458.1,335.9 L461.3,341.3 L454.9,341.3Z"/><path d="M460.6,337.3 L463.8,342.6 L457.4,342.6Z"/><path d="M463.1,338.3 L466.3,343.6 L459.9,343.6Z"/><path d="M465.6,338.9 L468.8,344.2 L462.4,344.2Z"/><path d="M468.1,339.4 L471.3,344.7 L464.9,344.7Z"/><path d="M470.6,339.8 L473.8,345.1 L467.4,345.1Z"/><path d="M473.1,340.1 L476.3,345.4 L469.9,345.4Z"/><path d="M475.6,340.2 L478.8,345.5 L472.4,345.5Z"/><path d="M478.1,340.0 L481.3,345.4 L474.9,345.4Z"/><path d="M480.6,339.7 L483.8,345.1 L477.4,345.1Z"/><path d="M483.1,339.3 L486.3,344.7 L479.9,344.7Z"/><path d="M485.6,338.9 L488.8,344.2 L482.4,344.2Z"/><path d="M488.1,338.3 L491.3,343.7 L484.9,343.7Z"/><path d="M490.6,337.5 L493.8,342.8 L487.4,342.8Z"/><path d="M493.1,336.5 L496.3,341.9 L489.9,341.9Z"/><path d="M495.6,335.7 L498.8,341.0 L492.4,341.0Z"/><path d="M498.1,335.0 L501.3,340.4 L494.9,340.4Z"/><path d="M500.6,334.9 L503.8,340.2 L497.4,340.2Z"/><path d="M503.1,335.5 L506.3,340.8 L499.9,340.8Z"/><path d="M505.6,336.7 L508.8,342.1 L502.4,342.1Z"/><path d="M508.1,338.2 L511.3,343.5 L504.9,343.5Z"/><path d="M510.6,339.8 L513.8,345.1 L507.4,345.1Z"/><path d="M513.1,341.9 L516.3,347.2 L509.9,347.2Z"/><path d="M515.6,344.3 L518.8,349.6 L512.4,349.6Z"/><path d="M518.1,346.6 L521.3,351.9 L514.9,351.9Z"/><path d="M520.6,348.8 L523.8,354.1 L517.4,354.1Z"/><path d="M523.1,350.9 L526.3,356.2 L519.9,356.2Z"/><path d="M525.6,353.1 L528.8,358.4 L522.4,358.4Z"/><path d="M528.1,355.7 L531.3,361.0 L524.9,361.0Z"/><path d="M530.6,358.9 L533.8,364.2 L527.4,364.2Z"/><path d="M533.1,362.7 L536.3,368.1 L529.9,368.1Z"/><path d="M535.6,366.8 L538.8,372.1 L532.4,372.1Z"/><path d="M538.1,370.7 L541.3,376.0 L534.9,376.0Z"/><path d="M540.6,374.7 L543.8,380.0 L537.4,380.0Z"/><path d="M543.1,378.6 L546.3,383.9 L539.9,383.9Z"/><path d="M545.6,381.8 L548.8,387.2 L542.4,387.2Z"/><path d="M548.1,384.5 L551.3,389.8 L544.9,389.8Z"/><path d="M550.6,386.8 L553.8,392.1 L547.4,392.1Z"/><path d="M553.1,388.7 L556.3,394.0 L549.9,394.0Z"/><path d="M555.6,390.2 L558.8,395.5 L552.4,395.5Z"/><path d="M558.1,391.3 L561.3,396.6 L554.9,396.6Z"/><path d="M560.6,392.3 L563.8,397.6 L557.4,397.6Z"/><path d="M563.1,393.2 L566.3,398.5 L559.9,398.5Z"/><path d="M565.6,394.2 L568.8,399.5 L562.4,399.5Z"/><path d="M568.1,395.3 L571.3,400.6 L564.9,400.6Z"/><path d="M570.6,396.4 L573.8,401.7 L567.4,401.7Z"/><path d="M573.1,397.5 L576.3,402.8 L569.9,402.8Z"/><path d="M575.6,398.7 L578.8,404.0 L572.4,404.0Z"/><path d="M578.1,400.0 L581.3,405.4 L574.9,405.4Z"/><path d="M580.6,401.7 L583.8,407.0 L577.4,407.0Z"/><path d="M583.1,403.9 L586.3,409.2 L579.9,409.2Z"/><path d="M585.6,406.5 L588.8,411.8 L582.4,411.8Z"/><path d="M588.1,409.3 L591.3,414.6 L584.9,414.6Z"/><path d="M590.6,412.1 L593.8,417.5 L587.4,417.5Z"/><path d="M593.1,415.2 L596.3,420.5 L589.9,420.5Z"/><path d="M595.6,418.4 L598.8,423.7 L592.4,423.7Z"/><path d="M598.1,421.8 L601.3,427.1 L594.9,427.1Z"/><path d="M600.6,425.4 L603.8,430.7 L597.4,430.7Z"/><path d="M603.1,429.3 L606.3,434.6 L599.9,434.6Z"/></g>
<rect x="381.80" y="267.70" width="240.40" height="218.60" fill="none" stroke="#3a3a3a" stroke-width="1.3"/>
<line x1="381.80" y1="267.70" x2="385.30" y2="267.70" stroke="#3a3a3a" stroke-width="1.0"/>
<line x1="381.80" y1="316.20" x2="385.30" y2="316.20" stroke="#3a3a3a" stroke-width="1.0"/>
<line x1="381.80" y1="364.70" x2="385.30" y2="364.70" stroke="#3a3a3a" stroke-width="1.0"/>
<line x1="381.80" y1="413.20" x2="385.30" y2="413.20" stroke="#3a3a3a" stroke-width="1.0"/>
<line x1="381.80" y1="461.70" x2="385.30" y2="461.70" stroke="#3a3a3a" stroke-width="1.0"/>
<line x1="381.80" y1="291.95" x2="383.80" y2="291.95" stroke="#3a3a3a" stroke-width="1.0"/>
<line x1="381.80" y1="340.45" x2="383.80" y2="340.45" stroke="#3a3a3a" stroke-width="1.0"/>
<line x1="381.80" y1="388.95" x2="383.80" y2="388.95" stroke="#3a3a3a" stroke-width="1.0"/>
<line x1="381.80" y1="437.45" x2="383.80" y2="437.45" stroke="#3a3a3a" stroke-width="1.0"/>
<line x1="381.80" y1="485.95" x2="383.80" y2="485.95" stroke="#3a3a3a" stroke-width="1.0"/>
<text transform="translate(378.80,271.39) scale(1.04,1)" font-family="Liberation Sans" font-size="12.3" font-weight="normal" fill="#111" stroke="#111" stroke-width="0.25" text-anchor="end">-4.8</text>
<text transform="translate(378.80,319.89) scale(1.04,1)" font-family="Liberation Sans" font-size="12.3" font-weight="normal" fill="#111" stroke="#111" stroke-width="0.25" text-anchor="end">-4.5</text>
<text transform="translate(378.80,368.39) scale(1.04,1)" font-family="Liberation Sans" font-size="12.3" font-weight="normal" fill="#111" stroke="#111" stroke-width="0.25" text-anchor="end">-4.2</text>
<text transform="translate(378.80,416.89) scale(1.04,1)" font-family="Liberation Sans" font-size="12.3" font-weight="normal" fill="#111" stroke="#111" stroke-width="0.25" text-anchor="end">-3.9</text>
<text transform="translate(378.80,465.39) scale(1.04,1)" font-family="Liberation Sans" font-size="12.3" font-weight="normal" fill="#111" stroke="#111" stroke-width="0.25" text-anchor="end">-3.6</text>
<line x1="622.20" y1="477.60" x2="618.70" y2="477.60" stroke="#3a3a3a" stroke-width="1.0"/>
<line x1="622.20" y1="425.20" x2="618.70" y2="425.20" stroke="#3a3a3a" stroke-width="1.0"/>
<line x1="622.20" y1="372.80" x2="618.70" y2="372.80" stroke="#3a3a3a" stroke-width="1.0"/>
<line x1="622.20" y1="320.40" x2="618.70" y2="320.40" stroke="#3a3a3a" stroke-width="1.0"/>
<line x1="622.20" y1="268.00" x2="618.70" y2="268.00" stroke="#3a3a3a" stroke-width="1.0"/>
<line x1="622.20" y1="451.40" x2="620.20" y2="451.40" stroke="#3a3a3a" stroke-width="1.0"/>
<line x1="622.20" y1="399.00" x2="620.20" y2="399.00" stroke="#3a3a3a" stroke-width="1.0"/>
<line x1="622.20" y1="346.60" x2="620.20" y2="346.60" stroke="#3a3a3a" stroke-width="1.0"/>
<line x1="622.20" y1="294.20" x2="620.20" y2="294.20" stroke="#3a3a3a" stroke-width="1.0"/>
<text transform="translate(624.60,482.82) scale(1.04,1)" font-family="Liberation Sans" font-size="14.5" font-weight="normal" fill="#111" stroke="#111" stroke-width="0.25" text-anchor="start">0</text>
<text transform="translate(624.60,430.42) scale(1.04,1)" font-family="Liberation Sans" font-size="14.5" font-weight="normal" fill="#111" stroke="#111" stroke-width="0.25" text-anchor="start">1</text>
<text transform="translate(624.60,378.02) scale(1.04,1)" font-family="Liberation Sans" font-size="14.5" font-weight="normal" fill="#111" stroke="#111" stroke-width="0.25" text-anchor="start">2</text>
<text transform="translate(624.60,325.62) scale(1.04,1)" font-family="Liberation Sans" font-size="14.5" font-weight="normal" fill="#111" stroke="#111" stroke-width="0.25" text-anchor="start">3</text>
<text transform="translate(624.60,273.22) scale(1.04,1)" font-family="Liberation Sans" font-size="14.5" font-weight="normal" fill="#111" stroke="#111" stroke-width="0.25" text-anchor="start">4</text>
<line x1="390.60" y1="486.30" x2="390.60" y2="482.80" stroke="#3a3a3a" stroke-width="1.0"/>
<line x1="421.65" y1="486.30" x2="421.65" y2="482.80" stroke="#3a3a3a" stroke-width="1.0"/>
<line x1="452.70" y1="486.30" x2="452.70" y2="482.80" stroke="#3a3a3a" stroke-width="1.0"/>
<line x1="483.75" y1="486.30" x2="483.75" y2="482.80" stroke="#3a3a3a" stroke-width="1.0"/>
<line x1="514.80" y1="486.30" x2="514.80" y2="482.80" stroke="#3a3a3a" stroke-width="1.0"/>
<line x1="545.85" y1="486.30" x2="545.85" y2="482.80" stroke="#3a3a3a" stroke-width="1.0"/>
<line x1="576.90" y1="486.30" x2="576.90" y2="482.80" stroke="#3a3a3a" stroke-width="1.0"/>
<line x1="607.95" y1="486.30" x2="607.95" y2="482.80" stroke="#3a3a3a" stroke-width="1.0"/>
<line x1="383.71" y1="486.30" x2="383.71" y2="484.30" stroke="#3a3a3a" stroke-width="1.0"/>
<line x1="385.79" y1="486.30" x2="385.79" y2="484.30" stroke="#3a3a3a" stroke-width="1.0"/>
<line x1="387.59" y1="486.30" x2="387.59" y2="484.30" stroke="#3a3a3a" stroke-width="1.0"/>
<line x1="389.18" y1="486.30" x2="389.18" y2="484.30" stroke="#3a3a3a" stroke-width="1.0"/>
<line x1="399.95" y1="486.30" x2="399.95" y2="484.30" stroke="#3a3a3a" stroke-width="1.0"/>
<line x1="405.41" y1="486.30" x2="405.41" y2="484.30" stroke="#3a3a3a" stroke-width="1.0"/>
<line x1="409.29" y1="486.30" x2="409.29" y2="484.30" stroke="#3a3a3a" stroke-width="1.0"/>
<line x1="412.30" y1="486.30" x2="412.30" y2="484.30" stroke="#3a3a3a" stroke-width="1.0"/>
<line x1="414.76" y1="486.30" x2="414.76" y2="484.30" stroke="#3a3a3a" stroke-width="1.0"/>
<line x1="416.84" y1="486.30" x2="416.84" y2="484.30" stroke="#3a3a3a" stroke-width="1.0"/>
<line x1="418.64" y1="486.30" x2="418.64" y2="484.30" stroke="#3a3a3a" stroke-width="1.0"/>
<line x1="420.23" y1="486.30" x2="420.23" y2="484.30" stroke="#3a3a3a" stroke-width="1.0"/>
<line x1="431.00" y1="486.30" x2="431.00" y2="484.30" stroke="#3a3a3a" stroke-width="1.0"/>
<line x1="436.46" y1="486.30" x2="436.46" y2="484.30" stroke="#3a3a3a" stroke-width="1.0"/>
<line x1="440.34" y1="486.30" x2="440.34" y2="484.30" stroke="#3a3a3a" stroke-width="1.0"/>
<line x1="443.35" y1="486.30" x2="443.35" y2="484.30" stroke="#3a3a3a" stroke-width="1.0"/>
<line x1="445.81" y1="486.30" x2="445.81" y2="484.30" stroke="#3a3a3a" stroke-width="1.0"/>
<line x1="447.89" y1="486.30" x2="447.89" y2="484.30" stroke="#3a3a3a" stroke-width="1.0"/>
<line x1="449.69" y1="486.30" x2="449.69" y2="484.30" stroke="#3a3a3a" stroke-width="1.0"/>
<line x1="451.28" y1="486.30" x2="451.28" y2="484.30" stroke="#3a3a3a" stroke-width="1.0"/>
<line x1="462.05" y1="486.30" x2="462.05" y2="484.30" stroke="#3a3a3a" stroke-width="1.0"/>
<line x1="467.51" y1="486.30" x2="467.51" y2="484.30" stroke="#3a3a3a" stroke-width="1.0"/>
<line x1="471.39" y1="486.30" x2="471.39" y2="484.30" stroke="#3a3a3a" stroke-width="1.0"/>
<line x1="474.40" y1="486.30" x2="474.40" y2="484.30" stroke="#3a3a3a" stroke-width="1.0"/>
<line x1="476.86" y1="486.30" x2="476.86" y2="484.30" stroke="#3a3a3a" stroke-width="1.0"/>
<line x1="478.94" y1="486.30" x2="478.94" y2="484.30" stroke="#3a3a3a" stroke-width="1.0"/>
<line x1="480.74" y1="486.30" x2="480.74" y2="484.30" stroke="#3a3a3a" stroke-width="1.0"/>
<line x1="482.33" y1="486.30" x2="482.33" y2="484.30" stroke="#3a3a3a" stroke-width="1.0"/>
<line x1="493.10" y1="486.30" x2="493.10" y2="484.30" stroke="#3a3a3a" stroke-width="1.0"/>
<line x1="498.56" y1="486.30" x2="498.56" y2="484.30" stroke="#3a3a3a" stroke-width="1.0"/>
<line x1="502.44" y1="486.30" x2="502.44" y2="484.30" stroke="#3a3a3a" stroke-width="1.0"/>
<line x1="505.45" y1="486.30" x2="505.45" y2="484.30" stroke="#3a3a3a" stroke-width="1.0"/>
<line x1="507.91" y1="486.30" x2="507.91" y2="484.30" stroke="#3a3a3a" stroke-width="1.0"/>
<line x1="509.99" y1="486.30" x2="509.99" y2="484.30" stroke="#3a3a3a" stroke-width="1.0"/>
<line x1="511.79" y1="486.30" x2="511.79" y2="484.30" stroke="#3a3a3a" stroke-width="1.0"/>
<line x1="513.38" y1="486.30" x2="513.38" y2="484.30" stroke="#3a3a3a" stroke-width="1.0"/>
<line x1="524.15" y1="486.30" x2="524.15" y2="484.30" stroke="#3a3a3a" stroke-width="1.0"/>
<line x1="529.61" y1="486.30" x2="529.61" y2="484.30" stroke="#3a3a3a" stroke-width="1.0"/>
<line x1="533.49" y1="486.30" x2="533.49" y2="484.30" stroke="#3a3a3a" stroke-width="1.0"/>
<line x1="536.50" y1="486.30" x2="536.50" y2="484.30" stroke="#3a3a3a" stroke-width="1.0"/>
<line x1="538.96" y1="486.30" x2="538.96" y2="484.30" stroke="#3a3a3a" stroke-width="1.0"/>
<line x1="541.04" y1="486.30" x2="541.04" y2="484.30" stroke="#3a3a3a" stroke-width="1.0"/>
<line x1="542.84" y1="486.30" x2="542.84" y2="484.30" stroke="#3a3a3a" stroke-width="1.0"/>
<line x1="544.43" y1="486.30" x2="544.43" y2="484.30" stroke="#3a3a3a" stroke-width="1.0"/>
<line x1="555.20" y1="486.30" x2="555.20" y2="484.30" stroke="#3a3a3a" stroke-width="1.0"/>
<line x1="560.66" y1="486.30" x2="560.66" y2="484.30" stroke="#3a3a3a" stroke-width="1.0"/>
<line x1="564.54" y1="486.30" x2="564.54" y2="484.30" stroke="#3a3a3a" stroke-width="1.0"/>
<line x1="567.55" y1="486.30" x2="567.55" y2="484.30" stroke="#3a3a3a" stroke-width="1.0"/>
<line x1="570.01" y1="486.30" x2="570.01" y2="484.30" stroke="#3a3a3a" stroke-width="1.0"/>
<line x1="572.09" y1="486.30" x2="572.09" y2="484.30" stroke="#3a3a3a" stroke-width="1.0"/>
<line x1="573.89" y1="486.30" x2="573.89" y2="484.30" stroke="#3a3a3a" stroke-width="1.0"/>
<line x1="575.48" y1="486.30" x2="575.48" y2="484.30" stroke="#3a3a3a" stroke-width="1.0"/>
<line x1="586.25" y1="486.30" x2="586.25" y2="484.30" stroke="#3a3a3a" stroke-width="1.0"/>
<line x1="591.71" y1="486.30" x2="591.71" y2="484.30" stroke="#3a3a3a" stroke-width="1.0"/>
<line x1="595.59" y1="486.30" x2="595.59" y2="484.30" stroke="#3a3a3a" stroke-width="1.0"/>
<line x1="598.60" y1="486.30" x2="598.60" y2="484.30" stroke="#3a3a3a" stroke-width="1.0"/>
<line x1="601.06" y1="486.30" x2="601.06" y2="484.30" stroke="#3a3a3a" stroke-width="1.0"/>
<line x1="603.14" y1="486.30" x2="603.14" y2="484.30" stroke="#3a3a3a" stroke-width="1.0"/>
<line x1="604.94" y1="486.30" x2="604.94" y2="484.30" stroke="#3a3a3a" stroke-width="1.0"/>
<line x1="606.53" y1="486.30" x2="606.53" y2="484.30" stroke="#3a3a3a" stroke-width="1.0"/>
<line x1="617.30" y1="486.30" x2="617.30" y2="484.30" stroke="#3a3a3a" stroke-width="1.0"/>
<text transform="translate(379.87,501.70) scale(1.04,1)" font-family="Liberation Sans" font-size="12.3" font-weight="normal" fill="#111" stroke="#111" stroke-width="0.25" text-anchor="start">10<tspan font-size="7.4" dx="0.6" dy="-7.0">-1</tspan></text>
<text transform="translate(412.68,501.70) scale(1.04,1)" font-family="Liberation Sans" font-size="12.3" font-weight="normal" fill="#111" stroke="#111" stroke-width="0.25" text-anchor="start">10<tspan font-size="7.4" dx="0.6" dy="-7.0">0</tspan></text>
<text transform="translate(443.73,501.70) scale(1.04,1)" font-family="Liberation Sans" font-size="12.3" font-weight="normal" fill="#111" stroke="#111" stroke-width="0.25" text-anchor="start">10<tspan font-size="7.4" dx="0.6" dy="-7.0">1</tspan></text>
<text transform="translate(474.78,501.70) scale(1.04,1)" font-family="Liberation Sans" font-size="12.3" font-weight="normal" fill="#111" stroke="#111" stroke-width="0.25" text-anchor="start">10<tspan font-size="7.4" dx="0.6" dy="-7.0">2</tspan></text>
<text transform="translate(505.83,501.70) scale(1.04,1)" font-family="Liberation Sans" font-size="12.3" font-weight="normal" fill="#111" stroke="#111" stroke-width="0.25" text-anchor="start">10<tspan font-size="7.4" dx="0.6" dy="-7.0">3</tspan></text>
<text transform="translate(536.88,501.70) scale(1.04,1)" font-family="Liberation Sans" font-size="12.3" font-weight="normal" fill="#111" stroke="#111" stroke-width="0.25" text-anchor="start">10<tspan font-size="7.4" dx="0.6" dy="-7.0">4</tspan></text>
<text transform="translate(567.93,501.70) scale(1.04,1)" font-family="Liberation Sans" font-size="12.3" font-weight="normal" fill="#111" stroke="#111" stroke-width="0.25" text-anchor="start">10<tspan font-size="7.4" dx="0.6" dy="-7.0">5</tspan></text>
<text transform="translate(598.98,501.70) scale(1.04,1)" font-family="Liberation Sans" font-size="12.3" font-weight="normal" fill="#111" stroke="#111" stroke-width="0.25" text-anchor="start">10<tspan font-size="7.4" dx="0.6" dy="-7.0">6</tspan></text>
<text transform="translate(500.10,518.80) scale(1.09,1)" font-family="Liberation Sans" font-size="12.3" font-weight="normal" fill="#111" stroke="#111" stroke-width="0.25" text-anchor="middle">f (Hz)</text>
<text transform="translate(345.81,376.90) rotate(-90) scale(1.04,1)" font-family="Liberation Sans" font-size="12.3" font-weight="normal" fill="#111" stroke="#111" stroke-width="0.25" text-anchor="middle">− log (− Z<tspan dx="1.5">″</tspan>) (Ω cm)</text>
<text transform="translate(663.00,376.40) rotate(-90)" font-family="Liberation Sans" font-size="13.4" font-weight="normal" fill="#111" stroke="#111" stroke-width="0.25" text-anchor="middle">10<tspan font-size="8.3" dy="-5.6">-10</tspan><tspan dy="5.6"> M<tspan dx="0.8">″</tspan>/ ε</tspan><tspan font-size="8.3" dy="3.0">0</tspan><tspan dy="-3.0"> (F/cm)</tspan></text>
<text transform="translate(609.90,285.60)" font-family="Liberation Sans" font-size="14.4" font-weight="normal" fill="#111" stroke="#111" stroke-width="0.25" text-anchor="middle">(f)</text>
<text transform="translate(402.20,289.40)" font-family="Liberation Serif" font-size="14.5" font-weight="bold" fill="#111" text-anchor="start">W</text>
<text transform="translate(460.00,292.80)" font-family="Liberation Serif" font-size="14.5" font-weight="normal" fill="#2020c8" stroke="#2020c8" stroke-width="0.25" text-anchor="start">400 °C</text>
<circle cx="523.3" cy="280.4" r="3.3" fill="#fff" stroke="#000" stroke-width="1.25"/>
<rect x="520.0" y="293.3" width="6.6" height="6.6" fill="#000"/>
<path d="M523.3,308.6 L527.6,315.8 L519.0,315.8Z" fill="#fff" stroke="#000" stroke-width="1.25" stroke-linejoin="miter"/>
<text transform="translate(537.10,284.03) scale(1.04,1)" font-family="Liberation Sans" font-size="12.3" font-weight="normal" fill="#111" stroke="#111" stroke-width="0.25" text-anchor="start">O<tspan font-size="11.1">2</tspan></text>
<text transform="translate(537.10,300.23) scale(1.04,1)" font-family="Liberation Sans" font-size="12.3" font-weight="normal" fill="#111" stroke="#111" stroke-width="0.25" text-anchor="start">air</text>
<text transform="translate(537.10,316.03) scale(1.04,1)" font-family="Liberation Sans" font-size="12.3" font-weight="normal" fill="#111" stroke="#111" stroke-width="0.25" text-anchor="start">N<tspan font-size="11.1">2</tspan></text>
<text transform="translate(430.00,313.40)" font-family="Liberation Serif" font-size="14.5" font-weight="normal" fill="#111" stroke="#111" stroke-width="0.25" text-anchor="start">GB</text>
<text transform="translate(493.30,330.60)" font-family="Liberation Serif" font-size="14.5" font-weight="normal" fill="#111" stroke="#111" stroke-width="0.25" text-anchor="start">PB</text>
<text transform="translate(578.30,312.60)" font-family="Liberation Serif" font-size="14.5" font-weight="normal" fill="#111" stroke="#111" stroke-width="0.25" text-anchor="start">CP</text>
<text transform="translate(402.90,394.30)" font-family="Liberation Serif" font-size="14.5" font-weight="normal" fill="#111" stroke="#111" stroke-width="0.25" text-anchor="start">ED</text>
<text transform="translate(452.90,408.30)" font-family="Liberation Serif" font-size="14.5" font-weight="normal" fill="#111" stroke="#111" stroke-width="0.25" text-anchor="start">GB</text>
<text transform="translate(510.00,408.30)" font-family="Liberation Serif" font-size="14.5" font-weight="normal" fill="#111" stroke="#111" stroke-width="0.25" text-anchor="start">PB</text>
<g fill="#fff" stroke="#000" stroke-width="0.9"><circle cx="390.6" cy="735.4" r="2.58"/><circle cx="393.1" cy="735.4" r="2.58"/><circle cx="395.6" cy="735.4" r="2.58"/><circle cx="398.1" cy="735.4" r="2.58"/><circle cx="400.6" cy="735.4" r="2.58"/><circle cx="403.1" cy="735.4" r="2.58"/><circle cx="405.6" cy="735.4" r="2.58"/><circle cx="408.1" cy="735.4" r="2.58"/><circle cx="410.6" cy="735.4" r="2.58"/><circle cx="413.1" cy="735.4" r="2.58"/><circle cx="415.6" cy="735.4" r="2.58"/><circle cx="418.1" cy="735.3" r="2.58"/><circle cx="420.6" cy="735.3" r="2.58"/><circle cx="423.1" cy="735.3" r="2.58"/><circle cx="425.6" cy="735.3" r="2.58"/><circle cx="428.1" cy="735.3" r="2.58"/><circle cx="430.6" cy="735.3" r="2.58"/><circle cx="433.1" cy="735.3" r="2.58"/><circle cx="435.6" cy="735.3" r="2.58"/><circle cx="438.1" cy="735.3" r="2.58"/><circle cx="440.6" cy="735.2" r="2.58"/><circle cx="443.1" cy="735.2" r="2.58"/><circle cx="445.6" cy="735.2" r="2.58"/><circle cx="448.1" cy="735.2" r="2.58"/><circle cx="450.6" cy="735.2" r="2.58"/><circle cx="453.1" cy="735.2" r="2.58"/><circle cx="455.6" cy="735.2" r="2.58"/><circle cx="458.1" cy="735.1" r="2.58"/><circle cx="460.6" cy="735.1" r="2.58"/><circle cx="463.1" cy="735.1" r="2.58"/><circle cx="465.6" cy="735.1" r="2.58"/><circle cx="468.1" cy="735.1" r="2.58"/><circle cx="470.6" cy="735.0" r="2.58"/><circle cx="473.1" cy="735.0" r="2.58"/><circle cx="475.6" cy="735.0" r="2.58"/><circle cx="478.1" cy="734.9" r="2.58"/><circle cx="480.6" cy="734.9" r="2.58"/><circle cx="483.1" cy="734.8" r="2.58"/><circle cx="485.6" cy="734.8" r="2.58"/><circle cx="488.1" cy="734.8" r="2.58"/><circle cx="490.6" cy="734.7" r="2.58"/><circle cx="493.1" cy="734.7" r="2.58"/><circle cx="495.6" cy="734.6" r="2.58"/><circle cx="498.1" cy="734.5" r="2.58"/><circle cx="500.6" cy="734.5" r="2.58"/><circle cx="503.1" cy="734.4" r="2.58"/><circle cx="505.6" cy="734.3" r="2.58"/><circle cx="508.1" cy="734.2" r="2.58"/><circle cx="510.6" cy="734.1" r="2.58"/><circle cx="513.1" cy="733.9" r="2.58"/><circle cx="515.6" cy="733.8" r="2.58"/><circle cx="518.1" cy="733.6" r="2.58"/><circle cx="520.6" cy="733.4" r="2.58"/><circle cx="523.1" cy="733.2" r="2.58"/><circle cx="525.6" cy="732.9" r="2.58"/><circle cx="528.1" cy="732.7" r="2.58"/><circle cx="530.6" cy="732.4" r="2.58"/><circle cx="533.1" cy="732.1" r="2.58"/><circle cx="535.6" cy="731.7" r="2.58"/><circle cx="538.1" cy="731.3" r="2.58"/><circle cx="540.6" cy="730.7" r="2.58"/><circle cx="543.1" cy="730.2" r="2.58"/><circle cx="545.6" cy="729.6" r="2.58"/><circle cx="548.1" cy="729.0" r="2.58"/><circle cx="550.6" cy="728.3" r="2.58"/><circle cx="553.1" cy="727.7" r="2.58"/><circle cx="555.6" cy="727.0" r="2.58"/><circle cx="558.1" cy="726.2" r="2.58"/><circle cx="560.6" cy="725.2" r="2.58"/><circle cx="563.1" cy="724.1" r="2.58"/><circle cx="565.6" cy="722.7" r="2.58"/><circle cx="568.1" cy="720.9" r="2.58"/><circle cx="570.6" cy="718.8" r="2.58"/><circle cx="573.1" cy="716.5" r="2.58"/><circle cx="575.6" cy="713.7" r="2.58"/><circle cx="578.1" cy="710.2" r="2.58"/><circle cx="580.6" cy="706.2" r="2.58"/><circle cx="583.1" cy="701.5" r="2.58"/><circle cx="585.6" cy="696.2" r="2.58"/><circle cx="588.1" cy="691.0" r="2.58"/><circle cx="590.6" cy="684.4" r="2.58"/><circle cx="593.1" cy="671.9" r="2.58"/><circle cx="595.6" cy="660.3" r="2.58"/><circle cx="598.1" cy="651.7" r="2.58"/><circle cx="600.6" cy="639.9" r="2.58"/><circle cx="603.1" cy="627.0" r="2.58"/></g>
<g fill="#000" stroke="none"><rect x="388.2" y="733.0" width="4.9" height="4.9"/><rect x="390.7" y="733.0" width="4.9" height="4.9"/><rect x="393.2" y="733.0" width="4.9" height="4.9"/><rect x="395.7" y="733.0" width="4.9" height="4.9"/><rect x="398.2" y="733.0" width="4.9" height="4.9"/><rect x="400.7" y="733.0" width="4.9" height="4.9"/><rect x="403.2" y="733.0" width="4.9" height="4.9"/><rect x="405.7" y="732.9" width="4.9" height="4.9"/><rect x="408.2" y="732.9" width="4.9" height="4.9"/><rect x="410.7" y="732.9" width="4.9" height="4.9"/><rect x="413.2" y="732.9" width="4.9" height="4.9"/><rect x="415.7" y="732.9" width="4.9" height="4.9"/><rect x="418.2" y="732.9" width="4.9" height="4.9"/><rect x="420.7" y="732.9" width="4.9" height="4.9"/><rect x="423.2" y="732.9" width="4.9" height="4.9"/><rect x="425.7" y="732.9" width="4.9" height="4.9"/><rect x="428.2" y="732.9" width="4.9" height="4.9"/><rect x="430.7" y="732.9" width="4.9" height="4.9"/><rect x="433.2" y="732.8" width="4.9" height="4.9"/><rect x="435.7" y="732.8" width="4.9" height="4.9"/><rect x="438.2" y="732.8" width="4.9" height="4.9"/><rect x="440.7" y="732.8" width="4.9" height="4.9"/><rect x="443.2" y="732.8" width="4.9" height="4.9"/><rect x="445.7" y="732.8" width="4.9" height="4.9"/><rect x="448.2" y="732.8" width="4.9" height="4.9"/><rect x="450.7" y="732.8" width="4.9" height="4.9"/><rect x="453.2" y="732.7" width="4.9" height="4.9"/><rect x="455.7" y="732.7" width="4.9" height="4.9"/><rect x="458.2" y="732.7" width="4.9" height="4.9"/><rect x="460.7" y="732.7" width="4.9" height="4.9"/><rect x="463.2" y="732.6" width="4.9" height="4.9"/><rect x="465.7" y="732.6" width="4.9" height="4.9"/><rect x="468.2" y="732.6" width="4.9" height="4.9"/><rect x="470.7" y="732.6" width="4.9" height="4.9"/><rect x="473.2" y="732.5" width="4.9" height="4.9"/><rect x="475.7" y="732.5" width="4.9" height="4.9"/><rect x="478.2" y="732.4" width="4.9" height="4.9"/><rect x="480.7" y="732.4" width="4.9" height="4.9"/><rect x="483.2" y="732.4" width="4.9" height="4.9"/><rect x="485.7" y="732.3" width="4.9" height="4.9"/><rect x="488.2" y="732.3" width="4.9" height="4.9"/><rect x="490.7" y="732.2" width="4.9" height="4.9"/><rect x="493.2" y="732.2" width="4.9" height="4.9"/><rect x="495.7" y="732.1" width="4.9" height="4.9"/><rect x="498.2" y="732.1" width="4.9" height="4.9"/><rect x="500.7" y="732.0" width="4.9" height="4.9"/><rect x="503.2" y="731.9" width="4.9" height="4.9"/><rect x="505.7" y="731.8" width="4.9" height="4.9"/><rect x="508.2" y="731.8" width="4.9" height="4.9"/><rect x="510.7" y="731.7" width="4.9" height="4.9"/><rect x="513.2" y="731.5" width="4.9" height="4.9"/><rect x="515.7" y="731.4" width="4.9" height="4.9"/><rect x="518.2" y="731.2" width="4.9" height="4.9"/><rect x="520.7" y="731.0" width="4.9" height="4.9"/><rect x="523.2" y="730.6" width="4.9" height="4.9"/><rect x="525.7" y="730.2" width="4.9" height="4.9"/><rect x="528.2" y="729.8" width="4.9" height="4.9"/><rect x="530.7" y="729.3" width="4.9" height="4.9"/><rect x="533.2" y="728.7" width="4.9" height="4.9"/><rect x="535.7" y="728.1" width="4.9" height="4.9"/><rect x="538.2" y="727.4" width="4.9" height="4.9"/><rect x="540.7" y="726.6" width="4.9" height="4.9"/><rect x="543.2" y="725.7" width="4.9" height="4.9"/><rect x="545.7" y="724.9" width="4.9" height="4.9"/><rect x="548.2" y="724.1" width="4.9" height="4.9"/><rect x="550.7" y="723.2" width="4.9" height="4.9"/><rect x="553.2" y="722.3" width="4.9" height="4.9"/><rect x="555.7" y="721.3" width="4.9" height="4.9"/><rect x="558.2" y="720.1" width="4.9" height="4.9"/><rect x="560.7" y="718.7" width="4.9" height="4.9"/><rect x="563.2" y="717.2" width="4.9" height="4.9"/><rect x="565.7" y="715.4" width="4.9" height="4.9"/><rect x="568.2" y="713.4" width="4.9" height="4.9"/><rect x="570.7" y="710.9" width="4.9" height="4.9"/><rect x="573.2" y="708.0" width="4.9" height="4.9"/><rect x="575.7" y="704.2" width="4.9" height="4.9"/><rect x="578.2" y="698.7" width="4.9" height="4.9"/><rect x="580.7" y="691.4" width="4.9" height="4.9"/><rect x="583.2" y="683.6" width="4.9" height="4.9"/><rect x="585.7" y="678.3" width="4.9" height="4.9"/><rect x="588.2" y="671.3" width="4.9" height="4.9"/><rect x="590.7" y="662.0" width="4.9" height="4.9"/><rect x="593.2" y="651.8" width="4.9" height="4.9"/><rect x="595.7" y="642.2" width="4.9" height="4.9"/><rect x="598.2" y="632.8" width="4.9" height="4.9"/><rect x="600.7" y="622.0" width="4.9" height="4.9"/></g>
<g fill="#fff" stroke="#000" stroke-width="0.9"><path d="M390.6,732.4 L393.8,737.7 L387.4,737.7Z"/><path d="M393.1,732.4 L396.3,737.7 L389.9,737.7Z"/><path d="M395.6,732.4 L398.8,737.7 L392.4,737.7Z"/><path d="M398.1,732.4 L401.3,737.7 L394.9,737.7Z"/><path d="M400.6,732.3 L403.8,737.7 L397.4,737.7Z"/><path d="M403.1,732.3 L406.3,737.7 L399.9,737.7Z"/><path d="M405.6,732.3 L408.8,737.7 L402.4,737.7Z"/><path d="M408.1,732.3 L411.3,737.7 L404.9,737.7Z"/><path d="M410.6,732.3 L413.8,737.7 L407.4,737.7Z"/><path d="M413.1,732.3 L416.3,737.6 L409.9,737.6Z"/><path d="M415.6,732.3 L418.8,737.6 L412.4,737.6Z"/><path d="M418.1,732.3 L421.3,737.6 L414.9,737.6Z"/><path d="M420.6,732.3 L423.8,737.6 L417.4,737.6Z"/><path d="M423.1,732.3 L426.3,737.6 L419.9,737.6Z"/><path d="M425.6,732.3 L428.8,737.6 L422.4,737.6Z"/><path d="M428.1,732.3 L431.3,737.6 L424.9,737.6Z"/><path d="M430.6,732.3 L433.8,737.6 L427.4,737.6Z"/><path d="M433.1,732.2 L436.3,737.6 L429.9,737.6Z"/><path d="M435.6,732.2 L438.8,737.6 L432.4,737.6Z"/><path d="M438.1,732.2 L441.3,737.5 L434.9,737.5Z"/><path d="M440.6,732.2 L443.8,737.5 L437.4,737.5Z"/><path d="M443.1,732.2 L446.3,737.5 L439.9,737.5Z"/><path d="M445.6,732.2 L448.8,737.5 L442.4,737.5Z"/><path d="M448.1,732.2 L451.3,737.5 L444.9,737.5Z"/><path d="M450.6,732.2 L453.8,737.5 L447.4,737.5Z"/><path d="M453.1,732.1 L456.3,737.5 L449.9,737.5Z"/><path d="M455.6,732.1 L458.8,737.4 L452.4,737.4Z"/><path d="M458.1,732.1 L461.3,737.4 L454.9,737.4Z"/><path d="M460.6,732.1 L463.8,737.4 L457.4,737.4Z"/><path d="M463.1,732.1 L466.3,737.4 L459.9,737.4Z"/><path d="M465.6,732.0 L468.8,737.4 L462.4,737.4Z"/><path d="M468.1,732.0 L471.3,737.3 L464.9,737.3Z"/><path d="M470.6,732.0 L473.8,737.3 L467.4,737.3Z"/><path d="M473.1,731.9 L476.3,737.3 L469.9,737.3Z"/><path d="M475.6,731.9 L478.8,737.2 L472.4,737.2Z"/><path d="M478.1,731.9 L481.3,737.2 L474.9,737.2Z"/><path d="M480.6,731.8 L483.8,737.2 L477.4,737.2Z"/><path d="M483.1,731.8 L486.3,737.1 L479.9,737.1Z"/><path d="M485.6,731.7 L488.8,737.1 L482.4,737.1Z"/><path d="M488.1,731.7 L491.3,737.0 L484.9,737.0Z"/><path d="M490.6,731.7 L493.8,737.0 L487.4,737.0Z"/><path d="M493.1,731.6 L496.3,736.9 L489.9,736.9Z"/><path d="M495.6,731.5 L498.8,736.9 L492.4,736.9Z"/><path d="M498.1,731.5 L501.3,736.8 L494.9,736.8Z"/><path d="M500.6,731.4 L503.8,736.8 L497.4,736.8Z"/><path d="M503.1,731.4 L506.3,736.7 L499.9,736.7Z"/><path d="M505.6,731.3 L508.8,736.6 L502.4,736.6Z"/><path d="M508.1,731.2 L511.3,736.6 L504.9,736.6Z"/><path d="M510.6,731.1 L513.8,736.5 L507.4,736.5Z"/><path d="M513.1,731.0 L516.3,736.4 L509.9,736.4Z"/><path d="M515.6,730.9 L518.8,736.2 L512.4,736.2Z"/><path d="M518.1,730.8 L521.3,736.1 L514.9,736.1Z"/><path d="M520.6,730.6 L523.8,735.9 L517.4,735.9Z"/><path d="M523.1,730.4 L526.3,735.7 L519.9,735.7Z"/><path d="M525.6,730.0 L528.8,735.4 L522.4,735.4Z"/><path d="M528.1,729.6 L531.3,734.9 L524.9,734.9Z"/><path d="M530.6,729.2 L533.8,734.5 L527.4,734.5Z"/><path d="M533.1,728.7 L536.3,734.0 L529.9,734.0Z"/><path d="M535.6,728.1 L538.8,733.5 L532.4,733.5Z"/><path d="M538.1,727.5 L541.3,732.8 L534.9,732.8Z"/><path d="M540.6,726.8 L543.8,732.1 L537.4,732.1Z"/><path d="M543.1,726.0 L546.3,731.3 L539.9,731.3Z"/><path d="M545.6,725.1 L548.8,730.5 L542.4,730.5Z"/><path d="M548.1,724.3 L551.3,729.6 L544.9,729.6Z"/><path d="M550.6,723.5 L553.8,728.8 L547.4,728.8Z"/><path d="M553.1,722.6 L556.3,727.9 L549.9,727.9Z"/><path d="M555.6,721.7 L558.8,727.0 L552.4,727.0Z"/><path d="M558.1,720.7 L561.3,726.0 L554.9,726.0Z"/><path d="M560.6,719.4 L563.8,724.8 L557.4,724.8Z"/><path d="M563.1,718.0 L566.3,723.3 L559.9,723.3Z"/><path d="M565.6,716.2 L568.8,721.6 L562.4,721.6Z"/><path d="M568.1,714.3 L571.3,719.6 L564.9,719.6Z"/><path d="M570.6,712.1 L573.8,717.4 L567.4,717.4Z"/><path d="M573.1,709.5 L576.3,714.9 L569.9,714.9Z"/><path d="M575.6,706.4 L578.8,711.7 L572.4,711.7Z"/><path d="M578.1,702.2 L581.3,707.6 L574.9,707.6Z"/><path d="M580.6,696.1 L583.8,701.5 L577.4,701.5Z"/><path d="M583.1,688.4 L586.3,693.7 L579.9,693.7Z"/><path d="M585.6,681.4 L588.8,686.7 L582.4,686.7Z"/><path d="M588.1,676.0 L591.3,681.3 L584.9,681.3Z"/><path d="M590.6,668.3 L593.8,673.6 L587.4,673.6Z"/><path d="M593.1,658.5 L596.3,663.8 L589.9,663.8Z"/><path d="M595.6,648.3 L598.8,653.7 L592.4,653.7Z"/><path d="M598.1,639.2 L601.3,644.5 L594.9,644.5Z"/><path d="M600.6,629.2 L603.8,634.6 L597.4,634.6Z"/><path d="M603.1,618.0 L606.3,623.4 L599.9,623.4Z"/></g>
<g fill="#000" stroke="none"><rect x="387.9" y="699.3" width="5.4" height="5.4"/><rect x="390.4" y="699.4" width="5.4" height="5.4"/><rect x="392.9" y="699.5" width="5.4" height="5.4"/><rect x="395.4" y="699.7" width="5.4" height="5.4"/><rect x="397.9" y="699.9" width="5.4" height="5.4"/><rect x="400.4" y="700.2" width="5.4" height="5.4"/><rect x="402.9" y="700.9" width="5.4" height="5.4"/><rect x="405.4" y="701.7" width="5.4" height="5.4"/><rect x="407.9" y="702.3" width="5.4" height="5.4"/><rect x="410.4" y="702.5" width="5.4" height="5.4"/><rect x="412.9" y="701.5" width="5.4" height="5.4"/><rect x="415.4" y="698.9" width="5.4" height="5.4"/><rect x="417.9" y="692.3" width="5.4" height="5.4"/><rect x="420.4" y="685.3" width="5.4" height="5.4"/><rect x="422.9" y="683.2" width="5.4" height="5.4"/><rect x="425.4" y="681.0" width="5.4" height="5.4"/><rect x="427.9" y="678.4" width="5.4" height="5.4"/><rect x="430.4" y="675.8" width="5.4" height="5.4"/><rect x="432.9" y="673.2" width="5.4" height="5.4"/><rect x="435.4" y="670.8" width="5.4" height="5.4"/><rect x="437.9" y="668.4" width="5.4" height="5.4"/><rect x="440.4" y="666.2" width="5.4" height="5.4"/><rect x="442.9" y="664.1" width="5.4" height="5.4"/><rect x="445.4" y="662.1" width="5.4" height="5.4"/><rect x="447.9" y="660.2" width="5.4" height="5.4"/><rect x="450.4" y="658.6" width="5.4" height="5.4"/><rect x="452.9" y="657.2" width="5.4" height="5.4"/><rect x="455.4" y="655.7" width="5.4" height="5.4"/><rect x="457.9" y="654.4" width="5.4" height="5.4"/><rect x="460.4" y="653.4" width="5.4" height="5.4"/><rect x="462.9" y="652.9" width="5.4" height="5.4"/><rect x="465.4" y="652.9" width="5.4" height="5.4"/><rect x="467.9" y="652.9" width="5.4" height="5.4"/><rect x="470.4" y="652.9" width="5.4" height="5.4"/><rect x="472.9" y="652.9" width="5.4" height="5.4"/><rect x="475.4" y="653.4" width="5.4" height="5.4"/><rect x="477.9" y="654.0" width="5.4" height="5.4"/><rect x="480.4" y="654.3" width="5.4" height="5.4"/><rect x="482.9" y="654.3" width="5.4" height="5.4"/><rect x="485.4" y="654.3" width="5.4" height="5.4"/><rect x="487.9" y="654.2" width="5.4" height="5.4"/><rect x="490.4" y="654.2" width="5.4" height="5.4"/><rect x="492.9" y="654.1" width="5.4" height="5.4"/><rect x="495.4" y="654.1" width="5.4" height="5.4"/><rect x="497.9" y="654.1" width="5.4" height="5.4"/><rect x="500.4" y="654.1" width="5.4" height="5.4"/><rect x="502.9" y="654.2" width="5.4" height="5.4"/><rect x="505.4" y="654.3" width="5.4" height="5.4"/><rect x="507.9" y="654.4" width="5.4" height="5.4"/><rect x="510.4" y="654.5" width="5.4" height="5.4"/><rect x="512.9" y="654.7" width="5.4" height="5.4"/><rect x="515.4" y="654.9" width="5.4" height="5.4"/><rect x="517.9" y="655.0" width="5.4" height="5.4"/><rect x="520.4" y="655.2" width="5.4" height="5.4"/><rect x="522.9" y="655.6" width="5.4" height="5.4"/><rect x="525.4" y="656.0" width="5.4" height="5.4"/><rect x="527.9" y="656.4" width="5.4" height="5.4"/><rect x="530.4" y="656.8" width="5.4" height="5.4"/><rect x="532.9" y="657.1" width="5.4" height="5.4"/><rect x="535.4" y="657.2" width="5.4" height="5.4"/><rect x="537.9" y="657.0" width="5.4" height="5.4"/><rect x="540.4" y="656.6" width="5.4" height="5.4"/><rect x="542.9" y="655.9" width="5.4" height="5.4"/><rect x="545.4" y="655.2" width="5.4" height="5.4"/><rect x="547.9" y="654.3" width="5.4" height="5.4"/><rect x="550.4" y="653.0" width="5.4" height="5.4"/><rect x="552.9" y="651.3" width="5.4" height="5.4"/><rect x="555.4" y="649.5" width="5.4" height="5.4"/><rect x="557.9" y="647.6" width="5.4" height="5.4"/><rect x="560.4" y="645.7" width="5.4" height="5.4"/><rect x="562.9" y="643.9" width="5.4" height="5.4"/><rect x="565.4" y="642.0" width="5.4" height="5.4"/><rect x="567.9" y="640.0" width="5.4" height="5.4"/><rect x="570.4" y="637.8" width="5.4" height="5.4"/><rect x="572.9" y="635.2" width="5.4" height="5.4"/><rect x="575.4" y="632.2" width="5.4" height="5.4"/><rect x="577.9" y="629.0" width="5.4" height="5.4"/><rect x="580.4" y="625.7" width="5.4" height="5.4"/><rect x="582.9" y="622.5" width="5.4" height="5.4"/><rect x="585.4" y="619.2" width="5.4" height="5.4"/><rect x="587.9" y="616.1" width="5.4" height="5.4"/><rect x="590.4" y="613.6" width="5.4" height="5.4"/><rect x="592.9" y="611.5" width="5.4" height="5.4"/><rect x="595.4" y="609.7" width="5.4" height="5.4"/><rect x="597.9" y="608.2" width="5.4" height="5.4"/><rect x="600.4" y="607.1" width="5.4" height="5.4"/></g>
<g fill="#fff" stroke="#000" stroke-width="0.9"><circle cx="390.6" cy="722.1" r="2.58"/><circle cx="393.1" cy="721.3" r="2.58"/><circle cx="395.6" cy="720.6" r="2.58"/><circle cx="398.1" cy="719.9" r="2.58"/><circle cx="400.6" cy="719.4" r="2.58"/><circle cx="403.1" cy="719.0" r="2.58"/><circle cx="405.6" cy="718.7" r="2.58"/><circle cx="408.1" cy="718.3" r="2.58"/><circle cx="410.6" cy="717.7" r="2.58"/><circle cx="413.1" cy="716.8" r="2.58"/><circle cx="415.6" cy="714.5" r="2.58"/><circle cx="418.1" cy="710.5" r="2.58"/><circle cx="420.6" cy="705.4" r="2.58"/><circle cx="423.1" cy="701.4" r="2.58"/><circle cx="425.6" cy="698.4" r="2.58"/><circle cx="428.1" cy="695.5" r="2.58"/><circle cx="430.6" cy="692.6" r="2.58"/><circle cx="433.1" cy="689.7" r="2.58"/><circle cx="435.6" cy="686.9" r="2.58"/><circle cx="438.1" cy="684.3" r="2.58"/><circle cx="440.6" cy="681.7" r="2.58"/><circle cx="443.1" cy="679.2" r="2.58"/><circle cx="445.6" cy="676.8" r="2.58"/><circle cx="448.1" cy="674.4" r="2.58"/><circle cx="450.6" cy="672.2" r="2.58"/><circle cx="453.1" cy="670.3" r="2.58"/><circle cx="455.6" cy="668.6" r="2.58"/><circle cx="458.1" cy="666.9" r="2.58"/><circle cx="460.6" cy="665.4" r="2.58"/><circle cx="463.1" cy="664.2" r="2.58"/><circle cx="465.6" cy="663.7" r="2.58"/><circle cx="468.1" cy="663.8" r="2.58"/><circle cx="470.6" cy="664.2" r="2.58"/><circle cx="473.1" cy="664.8" r="2.58"/><circle cx="475.6" cy="665.4" r="2.58"/><circle cx="478.1" cy="666.5" r="2.58"/><circle cx="480.6" cy="667.9" r="2.58"/><circle cx="483.1" cy="669.2" r="2.58"/><circle cx="485.6" cy="670.4" r="2.58"/><circle cx="488.1" cy="671.6" r="2.58"/><circle cx="490.6" cy="672.6" r="2.58"/><circle cx="493.1" cy="673.3" r="2.58"/><circle cx="495.6" cy="673.8" r="2.58"/><circle cx="498.1" cy="674.2" r="2.58"/><circle cx="500.6" cy="674.4" r="2.58"/><circle cx="503.1" cy="674.2" r="2.58"/><circle cx="505.6" cy="673.8" r="2.58"/><circle cx="508.1" cy="673.3" r="2.58"/><circle cx="510.6" cy="672.9" r="2.58"/><circle cx="513.1" cy="672.4" r="2.58"/><circle cx="515.6" cy="672.0" r="2.58"/><circle cx="518.1" cy="671.6" r="2.58"/><circle cx="520.6" cy="671.3" r="2.58"/><circle cx="523.1" cy="671.3" r="2.58"/><circle cx="525.6" cy="671.3" r="2.58"/><circle cx="528.1" cy="671.3" r="2.58"/><circle cx="530.6" cy="671.3" r="2.58"/><circle cx="533.1" cy="671.3" r="2.58"/><circle cx="535.6" cy="671.3" r="2.58"/><circle cx="538.1" cy="671.3" r="2.58"/><circle cx="540.6" cy="671.3" r="2.58"/><circle cx="543.1" cy="671.3" r="2.58"/><circle cx="545.6" cy="671.0" r="2.58"/><circle cx="548.1" cy="670.6" r="2.58"/><circle cx="550.6" cy="669.9" r="2.58"/><circle cx="553.1" cy="669.1" r="2.58"/><circle cx="555.6" cy="668.3" r="2.58"/><circle cx="558.1" cy="667.4" r="2.58"/><circle cx="560.6" cy="666.4" r="2.58"/><circle cx="563.1" cy="665.1" r="2.58"/><circle cx="565.6" cy="663.6" r="2.58"/><circle cx="568.1" cy="661.8" r="2.58"/><circle cx="570.6" cy="659.6" r="2.58"/><circle cx="573.1" cy="656.5" r="2.58"/><circle cx="575.6" cy="653.0" r="2.58"/><circle cx="578.1" cy="649.8" r="2.58"/><circle cx="580.6" cy="646.8" r="2.58"/><circle cx="583.1" cy="643.8" r="2.58"/><circle cx="585.6" cy="640.9" r="2.58"/><circle cx="588.1" cy="637.9" r="2.58"/><circle cx="590.6" cy="634.8" r="2.58"/><circle cx="593.1" cy="631.7" r="2.58"/><circle cx="595.6" cy="628.5" r="2.58"/><circle cx="598.1" cy="625.2" r="2.58"/><circle cx="600.6" cy="621.8" r="2.58"/><circle cx="603.1" cy="618.3" r="2.58"/></g>
<g fill="#fff" stroke="#000" stroke-width="0.9"><path d="M390.6,546.2 L393.8,551.6 L387.4,551.6Z"/><path d="M393.1,550.8 L396.3,556.1 L389.9,556.1Z"/><path d="M395.6,555.3 L398.8,560.6 L392.4,560.6Z"/><path d="M398.1,559.7 L401.3,565.0 L394.9,565.0Z"/><path d="M400.6,564.0 L403.8,569.3 L397.4,569.3Z"/><path d="M403.1,568.3 L406.3,573.6 L399.9,573.6Z"/><path d="M405.6,572.4 L408.8,577.7 L402.4,577.7Z"/><path d="M408.1,576.5 L411.3,581.8 L404.9,581.8Z"/><path d="M410.6,580.5 L413.8,585.8 L407.4,585.8Z"/><path d="M413.1,584.4 L416.3,589.8 L409.9,589.8Z"/><path d="M415.6,588.2 L418.8,593.5 L412.4,593.5Z"/><path d="M418.1,591.9 L421.3,597.3 L414.9,597.3Z"/><path d="M420.6,595.7 L423.8,601.0 L417.4,601.0Z"/><path d="M423.1,599.5 L426.3,604.8 L419.9,604.8Z"/><path d="M425.6,603.3 L428.8,608.6 L422.4,608.6Z"/><path d="M428.1,606.8 L431.3,612.1 L424.9,612.1Z"/><path d="M430.6,610.1 L433.8,615.5 L427.4,615.5Z"/><path d="M433.1,613.3 L436.3,618.6 L429.9,618.6Z"/><path d="M435.6,616.3 L438.8,621.6 L432.4,621.6Z"/><path d="M438.1,619.2 L441.3,624.5 L434.9,624.5Z"/><path d="M440.6,621.9 L443.8,627.2 L437.4,627.2Z"/><path d="M443.1,624.4 L446.3,629.8 L439.9,629.8Z"/><path d="M445.6,626.8 L448.8,632.1 L442.4,632.1Z"/><path d="M448.1,629.0 L451.3,634.3 L444.9,634.3Z"/><path d="M450.6,631.0 L453.8,636.3 L447.4,636.3Z"/><path d="M453.1,632.9 L456.3,638.2 L449.9,638.2Z"/><path d="M455.6,634.6 L458.8,639.9 L452.4,639.9Z"/><path d="M458.1,636.0 L461.3,641.3 L454.9,641.3Z"/><path d="M460.6,637.1 L463.8,642.4 L457.4,642.4Z"/><path d="M463.1,638.0 L466.3,643.3 L459.9,643.3Z"/><path d="M465.6,638.8 L468.8,644.1 L462.4,644.1Z"/><path d="M468.1,639.6 L471.3,644.9 L464.9,644.9Z"/><path d="M470.6,640.2 L473.8,645.6 L467.4,645.6Z"/><path d="M473.1,640.6 L476.3,645.9 L469.9,645.9Z"/><path d="M475.6,640.9 L478.8,646.2 L472.4,646.2Z"/><path d="M478.1,641.1 L481.3,646.4 L474.9,646.4Z"/><path d="M480.6,641.2 L483.8,646.5 L477.4,646.5Z"/><path d="M483.1,641.3 L486.3,646.6 L479.9,646.6Z"/><path d="M485.6,641.1 L488.8,646.4 L482.4,646.4Z"/><path d="M488.1,640.7 L491.3,646.0 L484.9,646.0Z"/><path d="M490.6,640.1 L493.8,645.5 L487.4,645.5Z"/><path d="M493.1,639.4 L496.3,644.7 L489.9,644.7Z"/><path d="M495.6,638.7 L498.8,644.0 L492.4,644.0Z"/><path d="M498.1,637.9 L501.3,643.2 L494.9,643.2Z"/><path d="M500.6,637.2 L503.8,642.5 L497.4,642.5Z"/><path d="M503.1,636.5 L506.3,641.8 L499.9,641.8Z"/><path d="M505.6,635.8 L508.8,641.2 L502.4,641.2Z"/><path d="M508.1,635.1 L511.3,640.5 L504.9,640.5Z"/><path d="M510.6,634.4 L513.8,639.7 L507.4,639.7Z"/><path d="M513.1,633.7 L516.3,639.0 L509.9,639.0Z"/><path d="M515.6,632.9 L518.8,638.2 L512.4,638.2Z"/><path d="M518.1,632.0 L521.3,637.4 L514.9,637.4Z"/><path d="M520.6,631.2 L523.8,636.5 L517.4,636.5Z"/><path d="M523.1,630.3 L526.3,635.6 L519.9,635.6Z"/><path d="M525.6,629.3 L528.8,634.7 L522.4,634.7Z"/><path d="M528.1,628.3 L531.3,633.7 L524.9,633.7Z"/><path d="M530.6,627.3 L533.8,632.6 L527.4,632.6Z"/><path d="M533.1,626.2 L536.3,631.5 L529.9,631.5Z"/><path d="M535.6,625.0 L538.8,630.3 L532.4,630.3Z"/><path d="M538.1,623.7 L541.3,629.0 L534.9,629.0Z"/><path d="M540.6,622.1 L543.8,627.4 L537.4,627.4Z"/><path d="M543.1,620.2 L546.3,625.5 L539.9,625.5Z"/><path d="M545.6,618.3 L548.8,623.6 L542.4,623.6Z"/><path d="M548.1,616.6 L551.3,621.9 L544.9,621.9Z"/><path d="M550.6,615.2 L553.8,620.5 L547.4,620.5Z"/><path d="M553.1,613.9 L556.3,619.2 L549.9,619.2Z"/><path d="M555.6,612.7 L558.8,618.0 L552.4,618.0Z"/><path d="M558.1,611.5 L561.3,616.8 L554.9,616.8Z"/><path d="M560.6,610.2 L563.8,615.6 L557.4,615.6Z"/><path d="M563.1,609.0 L566.3,614.3 L559.9,614.3Z"/><path d="M565.6,607.7 L568.8,613.0 L562.4,613.0Z"/><path d="M568.1,606.4 L571.3,611.7 L564.9,611.7Z"/><path d="M570.6,605.2 L573.8,610.5 L567.4,610.5Z"/><path d="M573.1,604.1 L576.3,609.4 L569.9,609.4Z"/><path d="M575.6,603.1 L578.8,608.4 L572.4,608.4Z"/><path d="M578.1,602.1 L581.3,607.4 L574.9,607.4Z"/><path d="M580.6,601.2 L583.8,606.5 L577.4,606.5Z"/><path d="M583.1,600.3 L586.3,605.6 L579.9,605.6Z"/><path d="M585.6,599.5 L588.8,604.8 L582.4,604.8Z"/><path d="M588.1,598.7 L591.3,604.0 L584.9,604.0Z"/><path d="M590.6,597.9 L593.8,603.2 L587.4,603.2Z"/><path d="M593.1,597.1 L596.3,602.4 L589.9,602.4Z"/><path d="M595.6,596.7 L598.8,602.0 L592.4,602.0Z"/><path d="M598.1,596.7 L601.3,602.0 L594.9,602.0Z"/><path d="M600.6,596.9 L603.8,602.2 L597.4,602.2Z"/><path d="M603.1,597.3 L606.3,602.6 L599.9,602.6Z"/></g>
<rect x="381.80" y="527.20" width="240.40" height="219.00" fill="none" stroke="#3a3a3a" stroke-width="1.3"/>
<line x1="381.80" y1="527.20" x2="385.30" y2="527.20" stroke="#3a3a3a" stroke-width="1.0"/>
<line x1="381.80" y1="563.63" x2="385.30" y2="563.63" stroke="#3a3a3a" stroke-width="1.0"/>
<line x1="381.80" y1="600.06" x2="385.30" y2="600.06" stroke="#3a3a3a" stroke-width="1.0"/>
<line x1="381.80" y1="636.49" x2="385.30" y2="636.49" stroke="#3a3a3a" stroke-width="1.0"/>
<line x1="381.80" y1="672.92" x2="385.30" y2="672.92" stroke="#3a3a3a" stroke-width="1.0"/>
<line x1="381.80" y1="709.35" x2="385.30" y2="709.35" stroke="#3a3a3a" stroke-width="1.0"/>
<line x1="381.80" y1="745.78" x2="385.30" y2="745.78" stroke="#3a3a3a" stroke-width="1.0"/>
<line x1="381.80" y1="545.42" x2="383.80" y2="545.42" stroke="#3a3a3a" stroke-width="1.0"/>
<line x1="381.80" y1="581.85" x2="383.80" y2="581.85" stroke="#3a3a3a" stroke-width="1.0"/>
<line x1="381.80" y1="618.28" x2="383.80" y2="618.28" stroke="#3a3a3a" stroke-width="1.0"/>
<line x1="381.80" y1="654.71" x2="383.80" y2="654.71" stroke="#3a3a3a" stroke-width="1.0"/>
<line x1="381.80" y1="691.13" x2="383.80" y2="691.13" stroke="#3a3a3a" stroke-width="1.0"/>
<line x1="381.80" y1="727.57" x2="383.80" y2="727.57" stroke="#3a3a3a" stroke-width="1.0"/>
<text transform="translate(378.80,530.89) scale(1.04,1)" font-family="Liberation Sans" font-size="12.3" font-weight="normal" fill="#111" stroke="#111" stroke-width="0.25" text-anchor="end">-4.0</text>
<text transform="translate(378.80,567.32) scale(1.04,1)" font-family="Liberation Sans" font-size="12.3" font-weight="normal" fill="#111" stroke="#111" stroke-width="0.25" text-anchor="end">-3.6</text>
<text transform="translate(378.80,603.75) scale(1.04,1)" font-family="Liberation Sans" font-size="12.3" font-weight="normal" fill="#111" stroke="#111" stroke-width="0.25" text-anchor="end">-3.2</text>
<text transform="translate(378.80,640.18) scale(1.04,1)" font-family="Liberation Sans" font-size="12.3" font-weight="normal" fill="#111" stroke="#111" stroke-width="0.25" text-anchor="end">-2.8</text>
<text transform="translate(378.80,676.61) scale(1.04,1)" font-family="Liberation Sans" font-size="12.3" font-weight="normal" fill="#111" stroke="#111" stroke-width="0.25" text-anchor="end">-2.4</text>
<text transform="translate(378.80,713.04) scale(1.04,1)" font-family="Liberation Sans" font-size="12.3" font-weight="normal" fill="#111" stroke="#111" stroke-width="0.25" text-anchor="end">-2.0</text>
<text transform="translate(378.80,749.47) scale(1.04,1)" font-family="Liberation Sans" font-size="12.3" font-weight="normal" fill="#111" stroke="#111" stroke-width="0.25" text-anchor="end">-1.6</text>
<line x1="622.20" y1="734.90" x2="618.70" y2="734.90" stroke="#3a3a3a" stroke-width="1.0"/>
<line x1="622.20" y1="672.60" x2="618.70" y2="672.60" stroke="#3a3a3a" stroke-width="1.0"/>
<line x1="622.20" y1="610.30" x2="618.70" y2="610.30" stroke="#3a3a3a" stroke-width="1.0"/>
<line x1="622.20" y1="548.00" x2="618.70" y2="548.00" stroke="#3a3a3a" stroke-width="1.0"/>
<line x1="622.20" y1="703.75" x2="620.20" y2="703.75" stroke="#3a3a3a" stroke-width="1.0"/>
<line x1="622.20" y1="641.45" x2="620.20" y2="641.45" stroke="#3a3a3a" stroke-width="1.0"/>
<line x1="622.20" y1="579.15" x2="620.20" y2="579.15" stroke="#3a3a3a" stroke-width="1.0"/>
<text transform="translate(624.30,739.33) scale(1.04,1)" font-family="Liberation Sans" font-size="12.3" font-weight="normal" fill="#111" stroke="#111" stroke-width="0.25" text-anchor="start">0.0</text>
<text transform="translate(624.30,677.03) scale(1.04,1)" font-family="Liberation Sans" font-size="12.3" font-weight="normal" fill="#111" stroke="#111" stroke-width="0.25" text-anchor="start">0.6</text>
<text transform="translate(624.30,614.73) scale(1.04,1)" font-family="Liberation Sans" font-size="12.3" font-weight="normal" fill="#111" stroke="#111" stroke-width="0.25" text-anchor="start">1.2</text>
<text transform="translate(624.30,552.43) scale(1.04,1)" font-family="Liberation Sans" font-size="12.3" font-weight="normal" fill="#111" stroke="#111" stroke-width="0.25" text-anchor="start">1.8</text>
<line x1="390.60" y1="746.20" x2="390.60" y2="742.70" stroke="#3a3a3a" stroke-width="1.0"/>
<line x1="421.65" y1="746.20" x2="421.65" y2="742.70" stroke="#3a3a3a" stroke-width="1.0"/>
<line x1="452.70" y1="746.20" x2="452.70" y2="742.70" stroke="#3a3a3a" stroke-width="1.0"/>
<line x1="483.75" y1="746.20" x2="483.75" y2="742.70" stroke="#3a3a3a" stroke-width="1.0"/>
<line x1="514.80" y1="746.20" x2="514.80" y2="742.70" stroke="#3a3a3a" stroke-width="1.0"/>
<line x1="545.85" y1="746.20" x2="545.85" y2="742.70" stroke="#3a3a3a" stroke-width="1.0"/>
<line x1="576.90" y1="746.20" x2="576.90" y2="742.70" stroke="#3a3a3a" stroke-width="1.0"/>
<line x1="607.95" y1="746.20" x2="607.95" y2="742.70" stroke="#3a3a3a" stroke-width="1.0"/>
<line x1="383.71" y1="746.20" x2="383.71" y2="744.20" stroke="#3a3a3a" stroke-width="1.0"/>
<line x1="385.79" y1="746.20" x2="385.79" y2="744.20" stroke="#3a3a3a" stroke-width="1.0"/>
<line x1="387.59" y1="746.20" x2="387.59" y2="744.20" stroke="#3a3a3a" stroke-width="1.0"/>
<line x1="389.18" y1="746.20" x2="389.18" y2="744.20" stroke="#3a3a3a" stroke-width="1.0"/>
<line x1="399.95" y1="746.20" x2="399.95" y2="744.20" stroke="#3a3a3a" stroke-width="1.0"/>
<line x1="405.41" y1="746.20" x2="405.41" y2="744.20" stroke="#3a3a3a" stroke-width="1.0"/>
<line x1="409.29" y1="746.20" x2="409.29" y2="744.20" stroke="#3a3a3a" stroke-width="1.0"/>
<line x1="412.30" y1="746.20" x2="412.30" y2="744.20" stroke="#3a3a3a" stroke-width="1.0"/>
<line x1="414.76" y1="746.20" x2="414.76" y2="744.20" stroke="#3a3a3a" stroke-width="1.0"/>
<line x1="416.84" y1="746.20" x2="416.84" y2="744.20" stroke="#3a3a3a" stroke-width="1.0"/>
<line x1="418.64" y1="746.20" x2="418.64" y2="744.20" stroke="#3a3a3a" stroke-width="1.0"/>
<line x1="420.23" y1="746.20" x2="420.23" y2="744.20" stroke="#3a3a3a" stroke-width="1.0"/>
<line x1="431.00" y1="746.20" x2="431.00" y2="744.20" stroke="#3a3a3a" stroke-width="1.0"/>
<line x1="436.46" y1="746.20" x2="436.46" y2="744.20" stroke="#3a3a3a" stroke-width="1.0"/>
<line x1="440.34" y1="746.20" x2="440.34" y2="744.20" stroke="#3a3a3a" stroke-width="1.0"/>
<line x1="443.35" y1="746.20" x2="443.35" y2="744.20" stroke="#3a3a3a" stroke-width="1.0"/>
<line x1="445.81" y1="746.20" x2="445.81" y2="744.20" stroke="#3a3a3a" stroke-width="1.0"/>
<line x1="447.89" y1="746.20" x2="447.89" y2="744.20" stroke="#3a3a3a" stroke-width="1.0"/>
<line x1="449.69" y1="746.20" x2="449.69" y2="744.20" stroke="#3a3a3a" stroke-width="1.0"/>
<line x1="451.28" y1="746.20" x2="451.28" y2="744.20" stroke="#3a3a3a" stroke-width="1.0"/>
<line x1="462.05" y1="746.20" x2="462.05" y2="744.20" stroke="#3a3a3a" stroke-width="1.0"/>
<line x1="467.51" y1="746.20" x2="467.51" y2="744.20" stroke="#3a3a3a" stroke-width="1.0"/>
<line x1="471.39" y1="746.20" x2="471.39" y2="744.20" stroke="#3a3a3a" stroke-width="1.0"/>
<line x1="474.40" y1="746.20" x2="474.40" y2="744.20" stroke="#3a3a3a" stroke-width="1.0"/>
<line x1="476.86" y1="746.20" x2="476.86" y2="744.20" stroke="#3a3a3a" stroke-width="1.0"/>
<line x1="478.94" y1="746.20" x2="478.94" y2="744.20" stroke="#3a3a3a" stroke-width="1.0"/>
<line x1="480.74" y1="746.20" x2="480.74" y2="744.20" stroke="#3a3a3a" stroke-width="1.0"/>
<line x1="482.33" y1="746.20" x2="482.33" y2="744.20" stroke="#3a3a3a" stroke-width="1.0"/>
<line x1="493.10" y1="746.20" x2="493.10" y2="744.20" stroke="#3a3a3a" stroke-width="1.0"/>
<line x1="498.56" y1="746.20" x2="498.56" y2="744.20" stroke="#3a3a3a" stroke-width="1.0"/>
<line x1="502.44" y1="746.20" x2="502.44" y2="744.20" stroke="#3a3a3a" stroke-width="1.0"/>
<line x1="505.45" y1="746.20" x2="505.45" y2="744.20" stroke="#3a3a3a" stroke-width="1.0"/>
<line x1="507.91" y1="746.20" x2="507.91" y2="744.20" stroke="#3a3a3a" stroke-width="1.0"/>
<line x1="509.99" y1="746.20" x2="509.99" y2="744.20" stroke="#3a3a3a" stroke-width="1.0"/>
<line x1="511.79" y1="746.20" x2="511.79" y2="744.20" stroke="#3a3a3a" stroke-width="1.0"/>
<line x1="513.38" y1="746.20" x2="513.38" y2="744.20" stroke="#3a3a3a" stroke-width="1.0"/>
<line x1="524.15" y1="746.20" x2="524.15" y2="744.20" stroke="#3a3a3a" stroke-width="1.0"/>
<line x1="529.61" y1="746.20" x2="529.61" y2="744.20" stroke="#3a3a3a" stroke-width="1.0"/>
<line x1="533.49" y1="746.20" x2="533.49" y2="744.20" stroke="#3a3a3a" stroke-width="1.0"/>
<line x1="536.50" y1="746.20" x2="536.50" y2="744.20" stroke="#3a3a3a" stroke-width="1.0"/>
<line x1="538.96" y1="746.20" x2="538.96" y2="744.20" stroke="#3a3a3a" stroke-width="1.0"/>
<line x1="541.04" y1="746.20" x2="541.04" y2="744.20" stroke="#3a3a3a" stroke-width="1.0"/>
<line x1="542.84" y1="746.20" x2="542.84" y2="744.20" stroke="#3a3a3a" stroke-width="1.0"/>
<line x1="544.43" y1="746.20" x2="544.43" y2="744.20" stroke="#3a3a3a" stroke-width="1.0"/>
<line x1="555.20" y1="746.20" x2="555.20" y2="744.20" stroke="#3a3a3a" stroke-width="1.0"/>
<line x1="560.66" y1="746.20" x2="560.66" y2="744.20" stroke="#3a3a3a" stroke-width="1.0"/>
<line x1="564.54" y1="746.20" x2="564.54" y2="744.20" stroke="#3a3a3a" stroke-width="1.0"/>
<line x1="567.55" y1="746.20" x2="567.55" y2="744.20" stroke="#3a3a3a" stroke-width="1.0"/>
<line x1="570.01" y1="746.20" x2="570.01" y2="744.20" stroke="#3a3a3a" stroke-width="1.0"/>
<line x1="572.09" y1="746.20" x2="572.09" y2="744.20" stroke="#3a3a3a" stroke-width="1.0"/>
<line x1="573.89" y1="746.20" x2="573.89" y2="744.20" stroke="#3a3a3a" stroke-width="1.0"/>
<line x1="575.48" y1="746.20" x2="575.48" y2="744.20" stroke="#3a3a3a" stroke-width="1.0"/>
<line x1="586.25" y1="746.20" x2="586.25" y2="744.20" stroke="#3a3a3a" stroke-width="1.0"/>
<line x1="591.71" y1="746.20" x2="591.71" y2="744.20" stroke="#3a3a3a" stroke-width="1.0"/>
<line x1="595.59" y1="746.20" x2="595.59" y2="744.20" stroke="#3a3a3a" stroke-width="1.0"/>
<line x1="598.60" y1="746.20" x2="598.60" y2="744.20" stroke="#3a3a3a" stroke-width="1.0"/>
<line x1="601.06" y1="746.20" x2="601.06" y2="744.20" stroke="#3a3a3a" stroke-width="1.0"/>
<line x1="603.14" y1="746.20" x2="603.14" y2="744.20" stroke="#3a3a3a" stroke-width="1.0"/>
<line x1="604.94" y1="746.20" x2="604.94" y2="744.20" stroke="#3a3a3a" stroke-width="1.0"/>
<line x1="606.53" y1="746.20" x2="606.53" y2="744.20" stroke="#3a3a3a" stroke-width="1.0"/>
<line x1="617.30" y1="746.20" x2="617.30" y2="744.20" stroke="#3a3a3a" stroke-width="1.0"/>
<text transform="translate(379.87,761.00) scale(1.04,1)" font-family="Liberation Sans" font-size="12.3" font-weight="normal" fill="#111" stroke="#111" stroke-width="0.25" text-anchor="start">10<tspan font-size="7.4" dx="0.6" dy="-7.0">-1</tspan></text>
<text transform="translate(412.68,761.00) scale(1.04,1)" font-family="Liberation Sans" font-size="12.3" font-weight="normal" fill="#111" stroke="#111" stroke-width="0.25" text-anchor="start">10<tspan font-size="7.4" dx="0.6" dy="-7.0">0</tspan></text>
<text transform="translate(443.73,761.00) scale(1.04,1)" font-family="Liberation Sans" font-size="12.3" font-weight="normal" fill="#111" stroke="#111" stroke-width="0.25" text-anchor="start">10<tspan font-size="7.4" dx="0.6" dy="-7.0">1</tspan></text>
<text transform="translate(474.78,761.00) scale(1.04,1)" font-family="Liberation Sans" font-size="12.3" font-weight="normal" fill="#111" stroke="#111" stroke-width="0.25" text-anchor="start">10<tspan font-size="7.4" dx="0.6" dy="-7.0">2</tspan></text>
<text transform="translate(505.83,761.00) scale(1.04,1)" font-family="Liberation Sans" font-size="12.3" font-weight="normal" fill="#111" stroke="#111" stroke-width="0.25" text-anchor="start">10<tspan font-size="7.4" dx="0.6" dy="-7.0">3</tspan></text>
<text transform="translate(536.88,761.00) scale(1.04,1)" font-family="Liberation Sans" font-size="12.3" font-weight="normal" fill="#111" stroke="#111" stroke-width="0.25" text-anchor="start">10<tspan font-size="7.4" dx="0.6" dy="-7.0">4</tspan></text>
<text transform="translate(567.93,761.00) scale(1.04,1)" font-family="Liberation Sans" font-size="12.3" font-weight="normal" fill="#111" stroke="#111" stroke-width="0.25" text-anchor="start">10<tspan font-size="7.4" dx="0.6" dy="-7.0">5</tspan></text>
<text transform="translate(598.98,761.00) scale(1.04,1)" font-family="Liberation Sans" font-size="12.3" font-weight="normal" fill="#111" stroke="#111" stroke-width="0.25" text-anchor="start">10<tspan font-size="7.4" dx="0.6" dy="-7.0">6</tspan></text>
<text transform="translate(500.10,777.10) scale(1.09,1)" font-family="Liberation Sans" font-size="12.3" font-weight="normal" fill="#111" stroke="#111" stroke-width="0.25" text-anchor="middle">f (Hz)</text>
<text transform="translate(342.11,618.70) rotate(-90) scale(1.04,1)" font-family="Liberation Sans" font-size="12.3" font-weight="normal" fill="#111" stroke="#111" stroke-width="0.25" text-anchor="middle">− log (− Z<tspan dx="1.5">″</tspan>) (Ω cm)</text>
<text transform="translate(665.50,641.40) rotate(-90)" font-family="Liberation Sans" font-size="13.4" font-weight="normal" fill="#111" stroke="#111" stroke-width="0.25" text-anchor="middle">10<tspan font-size="8.3" dy="-5.6">-10</tspan><tspan dy="5.6"> M<tspan dx="0.8">″</tspan>/ ε</tspan><tspan font-size="8.3" dy="3.0">0</tspan><tspan dy="-3.0"> (F/cm)</tspan></text>
<text transform="translate(609.10,544.00)" font-family="Liberation Sans" font-size="14.4" font-weight="normal" fill="#111" stroke="#111" stroke-width="0.25" text-anchor="middle">(g)</text>
<circle cx="491.6" cy="550.7" r="3.3" fill="#fff" stroke="#000" stroke-width="1.25"/>
<rect x="488.3" y="563.4" width="6.6" height="6.6" fill="#000"/>
<path d="M491.6,578.9 L495.9,586.1 L487.3,586.1Z" fill="#fff" stroke="#000" stroke-width="1.25" stroke-linejoin="miter"/>
<text transform="translate(505.30,554.33) scale(1.04,1)" font-family="Liberation Sans" font-size="12.3" font-weight="normal" fill="#111" stroke="#111" stroke-width="0.25" text-anchor="start">O<tspan font-size="11.1">2</tspan></text>
<text transform="translate(505.30,570.33) scale(1.04,1)" font-family="Liberation Sans" font-size="12.3" font-weight="normal" fill="#111" stroke="#111" stroke-width="0.25" text-anchor="start">air</text>
<text transform="translate(505.30,586.33) scale(1.04,1)" font-family="Liberation Sans" font-size="12.3" font-weight="normal" fill="#111" stroke="#111" stroke-width="0.25" text-anchor="start">N<tspan font-size="11.1">2</tspan></text>
<text transform="translate(429.70,596.60)" font-family="Liberation Serif" font-size="14.5" font-weight="bold" fill="#111" text-anchor="start">W</text>
<text transform="translate(502.80,627.30)" font-family="Liberation Serif" font-size="14.5" font-weight="normal" fill="#111" stroke="#111" stroke-width="0.25" text-anchor="start">GB</text>
<text transform="translate(546.60,603.10)" font-family="Liberation Serif" font-size="14.5" font-weight="normal" fill="#111" stroke="#111" stroke-width="0.25" text-anchor="start">PB</text>
<text transform="translate(586.90,590.50)" font-family="Liberation Serif" font-size="14.5" font-weight="normal" fill="#111" stroke="#111" stroke-width="0.25" text-anchor="start">CP</text>
<text transform="translate(400.50,656.00)" font-family="Liberation Serif" font-size="14.5" font-weight="normal" fill="#2020c8" stroke="#2020c8" stroke-width="0.25" text-anchor="start">550 °C</text>
<text transform="translate(455.90,696.30)" font-family="Liberation Serif" font-size="14.5" font-weight="normal" fill="#111" stroke="#111" stroke-width="0.25" text-anchor="start">ED</text>
<g fill="#fff" stroke="#000" stroke-width="0.9"><circle cx="390.6" cy="993.7" r="2.58"/><circle cx="393.1" cy="993.7" r="2.58"/><circle cx="395.6" cy="993.7" r="2.58"/><circle cx="398.1" cy="993.7" r="2.58"/><circle cx="400.6" cy="993.7" r="2.58"/><circle cx="403.1" cy="993.7" r="2.58"/><circle cx="405.6" cy="993.7" r="2.58"/><circle cx="408.1" cy="993.7" r="2.58"/><circle cx="410.6" cy="993.7" r="2.58"/><circle cx="413.1" cy="993.7" r="2.58"/><circle cx="415.6" cy="993.7" r="2.58"/><circle cx="418.1" cy="993.7" r="2.58"/><circle cx="420.6" cy="993.7" r="2.58"/><circle cx="423.1" cy="993.7" r="2.58"/><circle cx="425.6" cy="993.7" r="2.58"/><circle cx="428.1" cy="993.7" r="2.58"/><circle cx="430.6" cy="993.6" r="2.58"/><circle cx="433.1" cy="993.6" r="2.58"/><circle cx="435.6" cy="993.6" r="2.58"/><circle cx="438.1" cy="993.6" r="2.58"/><circle cx="440.6" cy="993.6" r="2.58"/><circle cx="443.1" cy="993.6" r="2.58"/><circle cx="445.6" cy="993.6" r="2.58"/><circle cx="448.1" cy="993.6" r="2.58"/><circle cx="450.6" cy="993.6" r="2.58"/><circle cx="453.1" cy="993.6" r="2.58"/><circle cx="455.6" cy="993.6" r="2.58"/><circle cx="458.1" cy="993.6" r="2.58"/><circle cx="460.6" cy="993.6" r="2.58"/><circle cx="463.1" cy="993.5" r="2.58"/><circle cx="465.6" cy="993.5" r="2.58"/><circle cx="468.1" cy="993.5" r="2.58"/><circle cx="470.6" cy="993.5" r="2.58"/><circle cx="473.1" cy="993.5" r="2.58"/><circle cx="475.6" cy="993.4" r="2.58"/><circle cx="478.1" cy="993.4" r="2.58"/><circle cx="480.6" cy="993.4" r="2.58"/><circle cx="483.1" cy="993.4" r="2.58"/><circle cx="485.6" cy="993.3" r="2.58"/><circle cx="488.1" cy="993.3" r="2.58"/><circle cx="490.6" cy="993.3" r="2.58"/><circle cx="493.1" cy="993.3" r="2.58"/><circle cx="495.6" cy="993.2" r="2.58"/><circle cx="498.1" cy="993.2" r="2.58"/><circle cx="500.6" cy="993.2" r="2.58"/><circle cx="503.1" cy="993.2" r="2.58"/><circle cx="505.6" cy="993.1" r="2.58"/><circle cx="508.1" cy="993.1" r="2.58"/><circle cx="510.6" cy="993.1" r="2.58"/><circle cx="513.1" cy="993.1" r="2.58"/><circle cx="515.6" cy="993.1" r="2.58"/><circle cx="518.1" cy="993.0" r="2.58"/><circle cx="520.6" cy="993.0" r="2.58"/><circle cx="523.1" cy="993.0" r="2.58"/><circle cx="525.6" cy="992.9" r="2.58"/><circle cx="528.1" cy="992.8" r="2.58"/><circle cx="530.6" cy="992.8" r="2.58"/><circle cx="533.1" cy="992.6" r="2.58"/><circle cx="535.6" cy="992.4" r="2.58"/><circle cx="538.1" cy="992.1" r="2.58"/><circle cx="540.6" cy="991.7" r="2.58"/><circle cx="543.1" cy="991.3" r="2.58"/><circle cx="545.6" cy="990.8" r="2.58"/><circle cx="548.1" cy="990.2" r="2.58"/><circle cx="550.6" cy="989.6" r="2.58"/><circle cx="553.1" cy="988.8" r="2.58"/><circle cx="555.6" cy="987.9" r="2.58"/><circle cx="558.1" cy="987.0" r="2.58"/><circle cx="560.6" cy="985.8" r="2.58"/><circle cx="563.1" cy="984.5" r="2.58"/><circle cx="565.6" cy="983.1" r="2.58"/><circle cx="568.1" cy="981.6" r="2.58"/><circle cx="570.6" cy="980.0" r="2.58"/><circle cx="573.1" cy="978.3" r="2.58"/><circle cx="575.6" cy="976.2" r="2.58"/><circle cx="578.1" cy="973.7" r="2.58"/><circle cx="580.6" cy="971.0" r="2.58"/><circle cx="583.1" cy="968.2" r="2.58"/><circle cx="585.6" cy="964.7" r="2.58"/><circle cx="588.1" cy="959.8" r="2.58"/><circle cx="590.6" cy="954.3" r="2.58"/><circle cx="593.1" cy="948.2" r="2.58"/><circle cx="595.6" cy="940.7" r="2.58"/><circle cx="598.1" cy="933.4" r="2.58"/><circle cx="600.6" cy="924.6" r="2.58"/><circle cx="603.1" cy="909.8" r="2.58"/></g>
<g fill="#000" stroke="none"><rect x="388.2" y="990.7" width="4.9" height="4.9"/><rect x="390.7" y="990.7" width="4.9" height="4.9"/><rect x="393.2" y="990.7" width="4.9" height="4.9"/><rect x="395.7" y="990.7" width="4.9" height="4.9"/><rect x="398.2" y="990.7" width="4.9" height="4.9"/><rect x="400.7" y="990.7" width="4.9" height="4.9"/><rect x="403.2" y="990.7" width="4.9" height="4.9"/><rect x="405.7" y="990.7" width="4.9" height="4.9"/><rect x="408.2" y="990.7" width="4.9" height="4.9"/><rect x="410.7" y="990.7" width="4.9" height="4.9"/><rect x="413.2" y="990.6" width="4.9" height="4.9"/><rect x="415.7" y="990.6" width="4.9" height="4.9"/><rect x="418.2" y="990.6" width="4.9" height="4.9"/><rect x="420.7" y="990.6" width="4.9" height="4.9"/><rect x="423.2" y="990.6" width="4.9" height="4.9"/><rect x="425.7" y="990.6" width="4.9" height="4.9"/><rect x="428.2" y="990.6" width="4.9" height="4.9"/><rect x="430.7" y="990.6" width="4.9" height="4.9"/><rect x="433.2" y="990.6" width="4.9" height="4.9"/><rect x="435.7" y="990.6" width="4.9" height="4.9"/><rect x="438.2" y="990.6" width="4.9" height="4.9"/><rect x="440.7" y="990.6" width="4.9" height="4.9"/><rect x="443.2" y="990.6" width="4.9" height="4.9"/><rect x="445.7" y="990.6" width="4.9" height="4.9"/><rect x="448.2" y="990.6" width="4.9" height="4.9"/><rect x="450.7" y="990.6" width="4.9" height="4.9"/><rect x="453.2" y="990.5" width="4.9" height="4.9"/><rect x="455.7" y="990.5" width="4.9" height="4.9"/><rect x="458.2" y="990.5" width="4.9" height="4.9"/><rect x="460.7" y="990.5" width="4.9" height="4.9"/><rect x="463.2" y="990.5" width="4.9" height="4.9"/><rect x="465.7" y="990.5" width="4.9" height="4.9"/><rect x="468.2" y="990.5" width="4.9" height="4.9"/><rect x="470.7" y="990.4" width="4.9" height="4.9"/><rect x="473.2" y="990.4" width="4.9" height="4.9"/><rect x="475.7" y="990.4" width="4.9" height="4.9"/><rect x="478.2" y="990.4" width="4.9" height="4.9"/><rect x="480.7" y="990.3" width="4.9" height="4.9"/><rect x="483.2" y="990.3" width="4.9" height="4.9"/><rect x="485.7" y="990.3" width="4.9" height="4.9"/><rect x="488.2" y="990.3" width="4.9" height="4.9"/><rect x="490.7" y="990.2" width="4.9" height="4.9"/><rect x="493.2" y="990.2" width="4.9" height="4.9"/><rect x="495.7" y="990.2" width="4.9" height="4.9"/><rect x="498.2" y="990.2" width="4.9" height="4.9"/><rect x="500.7" y="990.1" width="4.9" height="4.9"/><rect x="503.2" y="990.1" width="4.9" height="4.9"/><rect x="505.7" y="990.1" width="4.9" height="4.9"/><rect x="508.2" y="990.1" width="4.9" height="4.9"/><rect x="510.7" y="990.1" width="4.9" height="4.9"/><rect x="513.2" y="990.0" width="4.9" height="4.9"/><rect x="515.7" y="990.0" width="4.9" height="4.9"/><rect x="518.2" y="990.0" width="4.9" height="4.9"/><rect x="520.7" y="989.9" width="4.9" height="4.9"/><rect x="523.2" y="989.9" width="4.9" height="4.9"/><rect x="525.7" y="989.8" width="4.9" height="4.9"/><rect x="528.2" y="989.8" width="4.9" height="4.9"/><rect x="530.7" y="989.6" width="4.9" height="4.9"/><rect x="533.2" y="989.4" width="4.9" height="4.9"/><rect x="535.7" y="989.0" width="4.9" height="4.9"/><rect x="538.2" y="988.7" width="4.9" height="4.9"/><rect x="540.7" y="988.3" width="4.9" height="4.9"/><rect x="543.2" y="987.8" width="4.9" height="4.9"/><rect x="545.7" y="987.1" width="4.9" height="4.9"/><rect x="548.2" y="986.4" width="4.9" height="4.9"/><rect x="550.7" y="985.5" width="4.9" height="4.9"/><rect x="553.2" y="984.6" width="4.9" height="4.9"/><rect x="555.7" y="983.6" width="4.9" height="4.9"/><rect x="558.2" y="982.4" width="4.9" height="4.9"/><rect x="560.7" y="981.1" width="4.9" height="4.9"/><rect x="563.2" y="979.6" width="4.9" height="4.9"/><rect x="565.7" y="978.2" width="4.9" height="4.9"/><rect x="568.2" y="976.5" width="4.9" height="4.9"/><rect x="570.7" y="974.7" width="4.9" height="4.9"/><rect x="573.2" y="972.5" width="4.9" height="4.9"/><rect x="575.7" y="969.9" width="4.9" height="4.9"/><rect x="578.2" y="967.2" width="4.9" height="4.9"/><rect x="580.7" y="964.3" width="4.9" height="4.9"/><rect x="583.2" y="960.5" width="4.9" height="4.9"/><rect x="585.7" y="955.2" width="4.9" height="4.9"/><rect x="588.2" y="949.7" width="4.9" height="4.9"/><rect x="590.7" y="943.2" width="4.9" height="4.9"/><rect x="593.2" y="935.7" width="4.9" height="4.9"/><rect x="595.7" y="928.1" width="4.9" height="4.9"/><rect x="598.2" y="918.0" width="4.9" height="4.9"/><rect x="600.7" y="901.7" width="4.9" height="4.9"/></g>
<g fill="#fff" stroke="#000" stroke-width="0.9"><path d="M390.6,990.1 L393.8,995.4 L387.4,995.4Z"/><path d="M393.1,990.1 L396.3,995.4 L389.9,995.4Z"/><path d="M395.6,990.1 L398.8,995.4 L392.4,995.4Z"/><path d="M398.1,990.1 L401.3,995.4 L394.9,995.4Z"/><path d="M400.6,990.1 L403.8,995.4 L397.4,995.4Z"/><path d="M403.1,990.0 L406.3,995.4 L399.9,995.4Z"/><path d="M405.6,990.0 L408.8,995.4 L402.4,995.4Z"/><path d="M408.1,990.0 L411.3,995.4 L404.9,995.4Z"/><path d="M410.6,990.0 L413.8,995.4 L407.4,995.4Z"/><path d="M413.1,990.0 L416.3,995.4 L409.9,995.4Z"/><path d="M415.6,990.0 L418.8,995.4 L412.4,995.4Z"/><path d="M418.1,990.0 L421.3,995.4 L414.9,995.4Z"/><path d="M420.6,990.0 L423.8,995.4 L417.4,995.4Z"/><path d="M423.1,990.0 L426.3,995.3 L419.9,995.3Z"/><path d="M425.6,990.0 L428.8,995.3 L422.4,995.3Z"/><path d="M428.1,990.0 L431.3,995.3 L424.9,995.3Z"/><path d="M430.6,990.0 L433.8,995.3 L427.4,995.3Z"/><path d="M433.1,990.0 L436.3,995.3 L429.9,995.3Z"/><path d="M435.6,990.0 L438.8,995.3 L432.4,995.3Z"/><path d="M438.1,990.0 L441.3,995.3 L434.9,995.3Z"/><path d="M440.6,990.0 L443.8,995.3 L437.4,995.3Z"/><path d="M443.1,990.0 L446.3,995.3 L439.9,995.3Z"/><path d="M445.6,990.0 L448.8,995.3 L442.4,995.3Z"/><path d="M448.1,990.0 L451.3,995.3 L444.9,995.3Z"/><path d="M450.6,990.0 L453.8,995.3 L447.4,995.3Z"/><path d="M453.1,989.9 L456.3,995.3 L449.9,995.3Z"/><path d="M455.6,989.9 L458.8,995.3 L452.4,995.3Z"/><path d="M458.1,989.9 L461.3,995.3 L454.9,995.3Z"/><path d="M460.6,989.9 L463.8,995.2 L457.4,995.2Z"/><path d="M463.1,989.9 L466.3,995.2 L459.9,995.2Z"/><path d="M465.6,989.9 L468.8,995.2 L462.4,995.2Z"/><path d="M468.1,989.9 L471.3,995.2 L464.9,995.2Z"/><path d="M470.6,989.8 L473.8,995.2 L467.4,995.2Z"/><path d="M473.1,989.8 L476.3,995.1 L469.9,995.1Z"/><path d="M475.6,989.8 L478.8,995.1 L472.4,995.1Z"/><path d="M478.1,989.8 L481.3,995.1 L474.9,995.1Z"/><path d="M480.6,989.8 L483.8,995.1 L477.4,995.1Z"/><path d="M483.1,989.7 L486.3,995.1 L479.9,995.1Z"/><path d="M485.6,989.7 L488.8,995.0 L482.4,995.0Z"/><path d="M488.1,989.7 L491.3,995.0 L484.9,995.0Z"/><path d="M490.6,989.7 L493.8,995.0 L487.4,995.0Z"/><path d="M493.1,989.6 L496.3,995.0 L489.9,995.0Z"/><path d="M495.6,989.6 L498.8,994.9 L492.4,994.9Z"/><path d="M498.1,989.6 L501.3,994.9 L494.9,994.9Z"/><path d="M500.6,989.5 L503.8,994.9 L497.4,994.9Z"/><path d="M503.1,989.5 L506.3,994.9 L499.9,994.9Z"/><path d="M505.6,989.5 L508.8,994.8 L502.4,994.8Z"/><path d="M508.1,989.5 L511.3,994.8 L504.9,994.8Z"/><path d="M510.6,989.5 L513.8,994.8 L507.4,994.8Z"/><path d="M513.1,989.4 L516.3,994.8 L509.9,994.8Z"/><path d="M515.6,989.4 L518.8,994.7 L512.4,994.7Z"/><path d="M518.1,989.4 L521.3,994.7 L514.9,994.7Z"/><path d="M520.6,989.3 L523.8,994.7 L517.4,994.7Z"/><path d="M523.1,989.3 L526.3,994.6 L519.9,994.6Z"/><path d="M525.6,989.3 L528.8,994.6 L522.4,994.6Z"/><path d="M528.1,989.2 L531.3,994.5 L524.9,994.5Z"/><path d="M530.6,989.1 L533.8,994.5 L527.4,994.5Z"/><path d="M533.1,989.0 L536.3,994.3 L529.9,994.3Z"/><path d="M535.6,988.7 L538.8,994.1 L532.4,994.1Z"/><path d="M538.1,988.4 L541.3,993.8 L534.9,993.8Z"/><path d="M540.6,988.1 L543.8,993.4 L537.4,993.4Z"/><path d="M543.1,987.7 L546.3,993.0 L539.9,993.0Z"/><path d="M545.6,987.1 L548.8,992.5 L542.4,992.5Z"/><path d="M548.1,986.4 L551.3,991.8 L544.9,991.8Z"/><path d="M550.6,985.6 L553.8,991.0 L547.4,991.0Z"/><path d="M553.1,984.7 L556.3,990.1 L549.9,990.1Z"/><path d="M555.6,983.8 L558.8,989.1 L552.4,989.1Z"/><path d="M558.1,982.7 L561.3,988.0 L554.9,988.0Z"/><path d="M560.6,981.5 L563.8,986.8 L557.4,986.8Z"/><path d="M563.1,980.1 L566.3,985.4 L559.9,985.4Z"/><path d="M565.6,978.7 L568.8,984.0 L562.4,984.0Z"/><path d="M568.1,977.2 L571.3,982.5 L564.9,982.5Z"/><path d="M570.6,975.5 L573.8,980.8 L567.4,980.8Z"/><path d="M573.1,973.6 L576.3,978.9 L569.9,978.9Z"/><path d="M575.6,971.3 L578.8,976.6 L572.4,976.6Z"/><path d="M578.1,968.7 L581.3,974.0 L574.9,974.0Z"/><path d="M580.6,965.9 L583.8,971.2 L577.4,971.2Z"/><path d="M583.1,962.9 L586.3,968.2 L579.9,968.2Z"/><path d="M585.6,958.7 L588.8,964.0 L582.4,964.0Z"/><path d="M588.1,953.3 L591.3,958.6 L584.9,958.6Z"/><path d="M590.6,947.6 L593.8,953.0 L587.4,953.0Z"/><path d="M593.1,940.7 L596.3,946.1 L589.9,946.1Z"/><path d="M595.6,933.3 L598.8,938.7 L592.4,938.7Z"/><path d="M598.1,925.6 L601.3,930.9 L594.9,930.9Z"/><path d="M600.6,913.9 L603.8,919.3 L597.4,919.3Z"/><path d="M603.1,897.8 L606.3,903.1 L599.9,903.1Z"/></g>
<g fill="#000" stroke="none"><rect x="387.9" y="962.1" width="5.4" height="5.4"/><rect x="390.4" y="961.7" width="5.4" height="5.4"/><rect x="392.9" y="961.5" width="5.4" height="5.4"/><rect x="395.4" y="961.4" width="5.4" height="5.4"/><rect x="397.9" y="961.4" width="5.4" height="5.4"/><rect x="400.4" y="961.8" width="5.4" height="5.4"/><rect x="402.9" y="962.4" width="5.4" height="5.4"/><rect x="405.4" y="963.3" width="5.4" height="5.4"/><rect x="407.9" y="965.5" width="5.4" height="5.4"/><rect x="410.4" y="968.4" width="5.4" height="5.4"/><rect x="412.9" y="971.5" width="5.4" height="5.4"/><rect x="415.4" y="969.5" width="5.4" height="5.4"/><rect x="417.9" y="963.6" width="5.4" height="5.4"/><rect x="420.4" y="962.1" width="5.4" height="5.4"/><rect x="422.9" y="962.1" width="5.4" height="5.4"/><rect x="425.4" y="962.1" width="5.4" height="5.4"/><rect x="427.9" y="962.1" width="5.4" height="5.4"/><rect x="430.4" y="962.1" width="5.4" height="5.4"/><rect x="432.9" y="962.0" width="5.4" height="5.4"/><rect x="435.4" y="961.8" width="5.4" height="5.4"/><rect x="437.9" y="961.4" width="5.4" height="5.4"/><rect x="440.4" y="960.9" width="5.4" height="5.4"/><rect x="442.9" y="960.3" width="5.4" height="5.4"/><rect x="445.4" y="959.5" width="5.4" height="5.4"/><rect x="447.9" y="958.5" width="5.4" height="5.4"/><rect x="450.4" y="957.4" width="5.4" height="5.4"/><rect x="452.9" y="956.1" width="5.4" height="5.4"/><rect x="455.4" y="954.8" width="5.4" height="5.4"/><rect x="457.9" y="953.5" width="5.4" height="5.4"/><rect x="460.4" y="952.2" width="5.4" height="5.4"/><rect x="462.9" y="950.8" width="5.4" height="5.4"/><rect x="465.4" y="949.2" width="5.4" height="5.4"/><rect x="467.9" y="947.4" width="5.4" height="5.4"/><rect x="470.4" y="945.4" width="5.4" height="5.4"/><rect x="472.9" y="943.1" width="5.4" height="5.4"/><rect x="475.4" y="940.8" width="5.4" height="5.4"/><rect x="477.9" y="938.7" width="5.4" height="5.4"/><rect x="480.4" y="936.7" width="5.4" height="5.4"/><rect x="482.9" y="934.9" width="5.4" height="5.4"/><rect x="485.4" y="933.2" width="5.4" height="5.4"/><rect x="487.9" y="932.0" width="5.4" height="5.4"/><rect x="490.4" y="930.8" width="5.4" height="5.4"/><rect x="492.9" y="930.0" width="5.4" height="5.4"/><rect x="495.4" y="929.4" width="5.4" height="5.4"/><rect x="497.9" y="928.9" width="5.4" height="5.4"/><rect x="500.4" y="928.6" width="5.4" height="5.4"/><rect x="502.9" y="928.5" width="5.4" height="5.4"/><rect x="505.4" y="928.4" width="5.4" height="5.4"/><rect x="507.9" y="928.3" width="5.4" height="5.4"/><rect x="510.4" y="928.4" width="5.4" height="5.4"/><rect x="512.9" y="928.5" width="5.4" height="5.4"/><rect x="515.4" y="928.8" width="5.4" height="5.4"/><rect x="517.9" y="929.1" width="5.4" height="5.4"/><rect x="520.4" y="929.6" width="5.4" height="5.4"/><rect x="522.9" y="930.2" width="5.4" height="5.4"/><rect x="525.4" y="930.8" width="5.4" height="5.4"/><rect x="527.9" y="931.5" width="5.4" height="5.4"/><rect x="530.4" y="932.1" width="5.4" height="5.4"/><rect x="532.9" y="932.6" width="5.4" height="5.4"/><rect x="535.4" y="933.1" width="5.4" height="5.4"/><rect x="537.9" y="933.3" width="5.4" height="5.4"/><rect x="540.4" y="933.3" width="5.4" height="5.4"/><rect x="542.9" y="933.2" width="5.4" height="5.4"/><rect x="545.4" y="933.0" width="5.4" height="5.4"/><rect x="547.9" y="932.7" width="5.4" height="5.4"/><rect x="550.4" y="931.6" width="5.4" height="5.4"/><rect x="552.9" y="929.9" width="5.4" height="5.4"/><rect x="555.4" y="928.0" width="5.4" height="5.4"/><rect x="557.9" y="926.0" width="5.4" height="5.4"/><rect x="560.4" y="924.3" width="5.4" height="5.4"/><rect x="562.9" y="922.5" width="5.4" height="5.4"/><rect x="565.4" y="920.5" width="5.4" height="5.4"/><rect x="567.9" y="918.5" width="5.4" height="5.4"/><rect x="570.4" y="916.2" width="5.4" height="5.4"/><rect x="572.9" y="913.8" width="5.4" height="5.4"/><rect x="575.4" y="911.0" width="5.4" height="5.4"/><rect x="577.9" y="907.9" width="5.4" height="5.4"/><rect x="580.4" y="904.8" width="5.4" height="5.4"/><rect x="582.9" y="901.6" width="5.4" height="5.4"/><rect x="585.4" y="898.5" width="5.4" height="5.4"/><rect x="587.9" y="895.4" width="5.4" height="5.4"/><rect x="590.4" y="892.2" width="5.4" height="5.4"/><rect x="592.9" y="888.8" width="5.4" height="5.4"/><rect x="595.4" y="884.9" width="5.4" height="5.4"/><rect x="597.9" y="881.2" width="5.4" height="5.4"/><rect x="600.4" y="878.2" width="5.4" height="5.4"/></g>
<g fill="#fff" stroke="#000" stroke-width="0.9"><circle cx="390.6" cy="972.1" r="2.58"/><circle cx="393.1" cy="971.4" r="2.58"/><circle cx="395.6" cy="971.0" r="2.58"/><circle cx="398.1" cy="970.7" r="2.58"/><circle cx="400.6" cy="970.7" r="2.58"/><circle cx="403.1" cy="971.1" r="2.58"/><circle cx="405.6" cy="971.7" r="2.58"/><circle cx="408.1" cy="972.6" r="2.58"/><circle cx="410.6" cy="974.3" r="2.58"/><circle cx="413.1" cy="976.5" r="2.58"/><circle cx="415.6" cy="979.3" r="2.58"/><circle cx="418.1" cy="978.5" r="2.58"/><circle cx="420.6" cy="973.7" r="2.58"/><circle cx="423.1" cy="970.0" r="2.58"/><circle cx="425.6" cy="969.6" r="2.58"/><circle cx="428.1" cy="969.5" r="2.58"/><circle cx="430.6" cy="969.5" r="2.58"/><circle cx="433.1" cy="969.4" r="2.58"/><circle cx="435.6" cy="969.1" r="2.58"/><circle cx="438.1" cy="968.7" r="2.58"/><circle cx="440.6" cy="968.2" r="2.58"/><circle cx="443.1" cy="967.5" r="2.58"/><circle cx="445.6" cy="966.8" r="2.58"/><circle cx="448.1" cy="965.8" r="2.58"/><circle cx="450.6" cy="964.6" r="2.58"/><circle cx="453.1" cy="963.4" r="2.58"/><circle cx="455.6" cy="962.1" r="2.58"/><circle cx="458.1" cy="960.7" r="2.58"/><circle cx="460.6" cy="959.4" r="2.58"/><circle cx="463.1" cy="958.0" r="2.58"/><circle cx="465.6" cy="956.6" r="2.58"/><circle cx="468.1" cy="955.0" r="2.58"/><circle cx="470.6" cy="953.2" r="2.58"/><circle cx="473.1" cy="951.2" r="2.58"/><circle cx="475.6" cy="948.6" r="2.58"/><circle cx="478.1" cy="945.4" r="2.58"/><circle cx="480.6" cy="942.4" r="2.58"/><circle cx="483.1" cy="939.7" r="2.58"/><circle cx="485.6" cy="937.4" r="2.58"/><circle cx="488.1" cy="935.4" r="2.58"/><circle cx="490.6" cy="933.6" r="2.58"/><circle cx="493.1" cy="931.9" r="2.58"/><circle cx="495.6" cy="930.6" r="2.58"/><circle cx="498.1" cy="929.9" r="2.58"/><circle cx="500.6" cy="929.4" r="2.58"/><circle cx="503.1" cy="929.0" r="2.58"/><circle cx="505.6" cy="928.6" r="2.58"/><circle cx="508.1" cy="928.3" r="2.58"/><circle cx="510.6" cy="928.1" r="2.58"/><circle cx="513.1" cy="928.2" r="2.58"/><circle cx="515.6" cy="928.5" r="2.58"/><circle cx="518.1" cy="928.8" r="2.58"/><circle cx="520.6" cy="929.2" r="2.58"/><circle cx="523.1" cy="929.8" r="2.58"/><circle cx="525.6" cy="930.3" r="2.58"/><circle cx="528.1" cy="931.0" r="2.58"/><circle cx="530.6" cy="931.7" r="2.58"/><circle cx="533.1" cy="932.5" r="2.58"/><circle cx="535.6" cy="933.3" r="2.58"/><circle cx="538.1" cy="934.1" r="2.58"/><circle cx="540.6" cy="935.0" r="2.58"/><circle cx="543.1" cy="936.4" r="2.58"/><circle cx="545.6" cy="937.8" r="2.58"/><circle cx="548.1" cy="938.7" r="2.58"/><circle cx="550.6" cy="938.6" r="2.58"/><circle cx="553.1" cy="937.8" r="2.58"/><circle cx="555.6" cy="936.6" r="2.58"/><circle cx="558.1" cy="935.1" r="2.58"/><circle cx="560.6" cy="933.7" r="2.58"/><circle cx="563.1" cy="932.4" r="2.58"/><circle cx="565.6" cy="931.1" r="2.58"/><circle cx="568.1" cy="929.6" r="2.58"/><circle cx="570.6" cy="928.1" r="2.58"/><circle cx="573.1" cy="926.4" r="2.58"/><circle cx="575.6" cy="924.4" r="2.58"/><circle cx="578.1" cy="922.0" r="2.58"/><circle cx="580.6" cy="919.3" r="2.58"/><circle cx="583.1" cy="916.4" r="2.58"/><circle cx="585.6" cy="913.2" r="2.58"/><circle cx="588.1" cy="909.8" r="2.58"/><circle cx="590.6" cy="905.7" r="2.58"/><circle cx="593.1" cy="901.4" r="2.58"/><circle cx="595.6" cy="897.8" r="2.58"/><circle cx="598.1" cy="894.7" r="2.58"/><circle cx="600.6" cy="892.0" r="2.58"/><circle cx="603.1" cy="889.6" r="2.58"/></g>
<g fill="#fff" stroke="#000" stroke-width="0.9"><path d="M390.6,808.9 L393.8,814.2 L387.4,814.2Z"/><path d="M393.1,808.9 L396.3,814.2 L389.9,814.2Z"/><path d="M395.6,808.9 L398.8,814.2 L392.4,814.2Z"/><path d="M398.1,810.3 L401.3,815.7 L394.9,815.7Z"/><path d="M400.6,814.5 L403.8,819.8 L397.4,819.8Z"/><path d="M403.1,818.1 L406.3,823.4 L399.9,823.4Z"/><path d="M405.6,822.0 L408.8,827.3 L402.4,827.3Z"/><path d="M408.1,826.1 L411.3,831.4 L404.9,831.4Z"/><path d="M410.6,830.6 L413.8,835.9 L407.4,835.9Z"/><path d="M413.1,835.6 L416.3,841.0 L409.9,841.0Z"/><path d="M415.6,840.6 L418.8,846.0 L412.4,846.0Z"/><path d="M418.1,845.6 L421.3,850.9 L414.9,850.9Z"/><path d="M420.6,850.6 L423.8,855.9 L417.4,855.9Z"/><path d="M423.1,855.7 L426.3,861.0 L419.9,861.0Z"/><path d="M425.6,860.8 L428.8,866.1 L422.4,866.1Z"/><path d="M428.1,865.7 L431.3,871.0 L424.9,871.0Z"/><path d="M430.6,870.2 L433.8,875.5 L427.4,875.5Z"/><path d="M433.1,874.8 L436.3,880.1 L429.9,880.1Z"/><path d="M435.6,879.4 L438.8,884.8 L432.4,884.8Z"/><path d="M438.1,883.7 L441.3,889.0 L434.9,889.0Z"/><path d="M440.6,887.6 L443.8,892.9 L437.4,892.9Z"/><path d="M443.1,891.5 L446.3,896.8 L439.9,896.8Z"/><path d="M445.6,895.3 L448.8,900.6 L442.4,900.6Z"/><path d="M448.1,899.0 L451.3,904.3 L444.9,904.3Z"/><path d="M450.6,902.6 L453.8,907.9 L447.4,907.9Z"/><path d="M453.1,906.0 L456.3,911.4 L449.9,911.4Z"/><path d="M455.6,909.3 L458.8,914.6 L452.4,914.6Z"/><path d="M458.1,912.4 L461.3,917.7 L454.9,917.7Z"/><path d="M460.6,915.5 L463.8,920.8 L457.4,920.8Z"/><path d="M463.1,918.7 L466.3,924.0 L459.9,924.0Z"/><path d="M465.6,921.7 L468.8,927.0 L462.4,927.0Z"/><path d="M468.1,924.4 L471.3,929.7 L464.9,929.7Z"/><path d="M470.6,926.9 L473.8,932.2 L467.4,932.2Z"/><path d="M473.1,929.1 L476.3,934.4 L469.9,934.4Z"/><path d="M475.6,931.0 L478.8,936.4 L472.4,936.4Z"/><path d="M478.1,932.7 L481.3,938.1 L474.9,938.1Z"/><path d="M480.6,934.2 L483.8,939.5 L477.4,939.5Z"/><path d="M483.1,935.5 L486.3,940.8 L479.9,940.8Z"/><path d="M485.6,937.0 L488.8,942.3 L482.4,942.3Z"/><path d="M488.1,938.6 L491.3,943.9 L484.9,943.9Z"/><path d="M490.6,940.0 L493.8,945.3 L487.4,945.3Z"/><path d="M493.1,941.2 L496.3,946.6 L489.9,946.6Z"/><path d="M495.6,942.4 L498.8,947.7 L492.4,947.7Z"/><path d="M498.1,943.3 L501.3,948.6 L494.9,948.6Z"/><path d="M500.6,944.0 L503.8,949.3 L497.4,949.3Z"/><path d="M503.1,944.6 L506.3,949.9 L499.9,949.9Z"/><path d="M505.6,945.0 L508.8,950.3 L502.4,950.3Z"/><path d="M508.1,945.1 L511.3,950.4 L504.9,950.4Z"/><path d="M510.6,945.1 L513.8,950.4 L507.4,950.4Z"/><path d="M513.1,945.1 L516.3,950.4 L509.9,950.4Z"/><path d="M515.6,945.0 L518.8,950.3 L512.4,950.3Z"/><path d="M518.1,944.5 L521.3,949.8 L514.9,949.8Z"/><path d="M520.6,943.9 L523.8,949.2 L517.4,949.2Z"/><path d="M523.1,943.2 L526.3,948.6 L519.9,948.6Z"/><path d="M525.6,942.5 L528.8,947.8 L522.4,947.8Z"/><path d="M528.1,941.6 L531.3,947.0 L524.9,947.0Z"/><path d="M530.6,940.8 L533.8,946.1 L527.4,946.1Z"/><path d="M533.1,939.9 L536.3,945.2 L529.9,945.2Z"/><path d="M535.6,938.8 L538.8,944.1 L532.4,944.1Z"/><path d="M538.1,937.4 L541.3,942.7 L534.9,942.7Z"/><path d="M540.6,935.5 L543.8,940.8 L537.4,940.8Z"/><path d="M543.1,933.3 L546.3,938.6 L539.9,938.6Z"/><path d="M545.6,930.9 L548.8,936.3 L542.4,936.3Z"/><path d="M548.1,928.4 L551.3,933.7 L544.9,933.7Z"/><path d="M550.6,925.6 L553.8,930.9 L547.4,930.9Z"/><path d="M553.1,922.6 L556.3,927.9 L549.9,927.9Z"/><path d="M555.6,919.6 L558.8,924.9 L552.4,924.9Z"/><path d="M558.1,916.8 L561.3,922.1 L554.9,922.1Z"/><path d="M560.6,913.9 L563.8,919.2 L557.4,919.2Z"/><path d="M563.1,910.7 L566.3,916.0 L559.9,916.0Z"/><path d="M565.6,907.1 L568.8,912.4 L562.4,912.4Z"/><path d="M568.1,903.2 L571.3,908.6 L564.9,908.6Z"/><path d="M570.6,899.4 L573.8,904.7 L567.4,904.7Z"/><path d="M573.1,895.7 L576.3,901.1 L569.9,901.1Z"/><path d="M575.6,892.1 L578.8,897.4 L572.4,897.4Z"/><path d="M578.1,888.2 L581.3,893.6 L574.9,893.6Z"/><path d="M580.6,883.9 L583.8,889.3 L577.4,889.3Z"/><path d="M583.1,879.5 L586.3,884.9 L579.9,884.9Z"/><path d="M585.6,875.7 L588.8,881.0 L582.4,881.0Z"/><path d="M588.1,872.5 L591.3,877.8 L584.9,877.8Z"/><path d="M590.6,869.6 L593.8,874.9 L587.4,874.9Z"/><path d="M593.1,867.1 L596.3,872.4 L589.9,872.4Z"/><path d="M595.6,864.7 L598.8,870.0 L592.4,870.0Z"/><path d="M598.1,862.5 L601.3,867.8 L594.9,867.8Z"/><path d="M600.6,860.8 L603.8,866.1 L597.4,866.1Z"/><path d="M603.1,859.5 L606.3,864.8 L599.9,864.8Z"/></g>
<rect x="381.80" y="785.50" width="240.20" height="217.80" fill="none" stroke="#3a3a3a" stroke-width="1.3"/>
<line x1="381.80" y1="785.50" x2="385.30" y2="785.50" stroke="#3a3a3a" stroke-width="1.0"/>
<line x1="381.80" y1="825.80" x2="385.30" y2="825.80" stroke="#3a3a3a" stroke-width="1.0"/>
<line x1="381.80" y1="866.10" x2="385.30" y2="866.10" stroke="#3a3a3a" stroke-width="1.0"/>
<line x1="381.80" y1="906.40" x2="385.30" y2="906.40" stroke="#3a3a3a" stroke-width="1.0"/>
<line x1="381.80" y1="946.70" x2="385.30" y2="946.70" stroke="#3a3a3a" stroke-width="1.0"/>
<line x1="381.80" y1="987.00" x2="385.30" y2="987.00" stroke="#3a3a3a" stroke-width="1.0"/>
<line x1="381.80" y1="805.65" x2="383.80" y2="805.65" stroke="#3a3a3a" stroke-width="1.0"/>
<line x1="381.80" y1="845.95" x2="383.80" y2="845.95" stroke="#3a3a3a" stroke-width="1.0"/>
<line x1="381.80" y1="886.25" x2="383.80" y2="886.25" stroke="#3a3a3a" stroke-width="1.0"/>
<line x1="381.80" y1="926.55" x2="383.80" y2="926.55" stroke="#3a3a3a" stroke-width="1.0"/>
<line x1="381.80" y1="966.85" x2="383.80" y2="966.85" stroke="#3a3a3a" stroke-width="1.0"/>
<text transform="translate(378.80,789.19) scale(1.04,1)" font-family="Liberation Sans" font-size="12.3" font-weight="normal" fill="#111" stroke="#111" stroke-width="0.25" text-anchor="end">-3.5</text>
<text transform="translate(378.80,829.49) scale(1.04,1)" font-family="Liberation Sans" font-size="12.3" font-weight="normal" fill="#111" stroke="#111" stroke-width="0.25" text-anchor="end">-3.0</text>
<text transform="translate(378.80,869.79) scale(1.04,1)" font-family="Liberation Sans" font-size="12.3" font-weight="normal" fill="#111" stroke="#111" stroke-width="0.25" text-anchor="end">-2.5</text>
<text transform="translate(378.80,910.09) scale(1.04,1)" font-family="Liberation Sans" font-size="12.3" font-weight="normal" fill="#111" stroke="#111" stroke-width="0.25" text-anchor="end">-2.0</text>
<text transform="translate(378.80,950.39) scale(1.04,1)" font-family="Liberation Sans" font-size="12.3" font-weight="normal" fill="#111" stroke="#111" stroke-width="0.25" text-anchor="end">-1.5</text>
<text transform="translate(378.80,990.69) scale(1.04,1)" font-family="Liberation Sans" font-size="12.3" font-weight="normal" fill="#111" stroke="#111" stroke-width="0.25" text-anchor="end">-1.0</text>
<line x1="622.00" y1="992.90" x2="618.50" y2="992.90" stroke="#3a3a3a" stroke-width="1.0"/>
<line x1="622.00" y1="930.30" x2="618.50" y2="930.30" stroke="#3a3a3a" stroke-width="1.0"/>
<line x1="622.00" y1="867.70" x2="618.50" y2="867.70" stroke="#3a3a3a" stroke-width="1.0"/>
<line x1="622.00" y1="805.10" x2="618.50" y2="805.10" stroke="#3a3a3a" stroke-width="1.0"/>
<line x1="622.00" y1="961.60" x2="620.00" y2="961.60" stroke="#3a3a3a" stroke-width="1.0"/>
<line x1="622.00" y1="899.00" x2="620.00" y2="899.00" stroke="#3a3a3a" stroke-width="1.0"/>
<line x1="622.00" y1="836.40" x2="620.00" y2="836.40" stroke="#3a3a3a" stroke-width="1.0"/>
<text transform="translate(624.30,997.33) scale(1.04,1)" font-family="Liberation Sans" font-size="12.3" font-weight="normal" fill="#111" stroke="#111" stroke-width="0.25" text-anchor="start">0.0</text>
<text transform="translate(624.30,934.73) scale(1.04,1)" font-family="Liberation Sans" font-size="12.3" font-weight="normal" fill="#111" stroke="#111" stroke-width="0.25" text-anchor="start">0.3</text>
<text transform="translate(624.30,872.13) scale(1.04,1)" font-family="Liberation Sans" font-size="12.3" font-weight="normal" fill="#111" stroke="#111" stroke-width="0.25" text-anchor="start">0.6</text>
<text transform="translate(624.30,809.53) scale(1.04,1)" font-family="Liberation Sans" font-size="12.3" font-weight="normal" fill="#111" stroke="#111" stroke-width="0.25" text-anchor="start">0.9</text>
<line x1="390.60" y1="1003.30" x2="390.60" y2="999.80" stroke="#3a3a3a" stroke-width="1.0"/>
<line x1="421.65" y1="1003.30" x2="421.65" y2="999.80" stroke="#3a3a3a" stroke-width="1.0"/>
<line x1="452.70" y1="1003.30" x2="452.70" y2="999.80" stroke="#3a3a3a" stroke-width="1.0"/>
<line x1="483.75" y1="1003.30" x2="483.75" y2="999.80" stroke="#3a3a3a" stroke-width="1.0"/>
<line x1="514.80" y1="1003.30" x2="514.80" y2="999.80" stroke="#3a3a3a" stroke-width="1.0"/>
<line x1="545.85" y1="1003.30" x2="545.85" y2="999.80" stroke="#3a3a3a" stroke-width="1.0"/>
<line x1="576.90" y1="1003.30" x2="576.90" y2="999.80" stroke="#3a3a3a" stroke-width="1.0"/>
<line x1="607.95" y1="1003.30" x2="607.95" y2="999.80" stroke="#3a3a3a" stroke-width="1.0"/>
<line x1="383.71" y1="1003.30" x2="383.71" y2="1001.30" stroke="#3a3a3a" stroke-width="1.0"/>
<line x1="385.79" y1="1003.30" x2="385.79" y2="1001.30" stroke="#3a3a3a" stroke-width="1.0"/>
<line x1="387.59" y1="1003.30" x2="387.59" y2="1001.30" stroke="#3a3a3a" stroke-width="1.0"/>
<line x1="389.18" y1="1003.30" x2="389.18" y2="1001.30" stroke="#3a3a3a" stroke-width="1.0"/>
<line x1="399.95" y1="1003.30" x2="399.95" y2="1001.30" stroke="#3a3a3a" stroke-width="1.0"/>
<line x1="405.41" y1="1003.30" x2="405.41" y2="1001.30" stroke="#3a3a3a" stroke-width="1.0"/>
<line x1="409.29" y1="1003.30" x2="409.29" y2="1001.30" stroke="#3a3a3a" stroke-width="1.0"/>
<line x1="412.30" y1="1003.30" x2="412.30" y2="1001.30" stroke="#3a3a3a" stroke-width="1.0"/>
<line x1="414.76" y1="1003.30" x2="414.76" y2="1001.30" stroke="#3a3a3a" stroke-width="1.0"/>
<line x1="416.84" y1="1003.30" x2="416.84" y2="1001.30" stroke="#3a3a3a" stroke-width="1.0"/>
<line x1="418.64" y1="1003.30" x2="418.64" y2="1001.30" stroke="#3a3a3a" stroke-width="1.0"/>
<line x1="420.23" y1="1003.30" x2="420.23" y2="1001.30" stroke="#3a3a3a" stroke-width="1.0"/>
<line x1="431.00" y1="1003.30" x2="431.00" y2="1001.30" stroke="#3a3a3a" stroke-width="1.0"/>
<line x1="436.46" y1="1003.30" x2="436.46" y2="1001.30" stroke="#3a3a3a" stroke-width="1.0"/>
<line x1="440.34" y1="1003.30" x2="440.34" y2="1001.30" stroke="#3a3a3a" stroke-width="1.0"/>
<line x1="443.35" y1="1003.30" x2="443.35" y2="1001.30" stroke="#3a3a3a" stroke-width="1.0"/>
<line x1="445.81" y1="1003.30" x2="445.81" y2="1001.30" stroke="#3a3a3a" stroke-width="1.0"/>
<line x1="447.89" y1="1003.30" x2="447.89" y2="1001.30" stroke="#3a3a3a" stroke-width="1.0"/>
<line x1="449.69" y1="1003.30" x2="449.69" y2="1001.30" stroke="#3a3a3a" stroke-width="1.0"/>
<line x1="451.28" y1="1003.30" x2="451.28" y2="1001.30" stroke="#3a3a3a" stroke-width="1.0"/>
<line x1="462.05" y1="1003.30" x2="462.05" y2="1001.30" stroke="#3a3a3a" stroke-width="1.0"/>
<line x1="467.51" y1="1003.30" x2="467.51" y2="1001.30" stroke="#3a3a3a" stroke-width="1.0"/>
<line x1="471.39" y1="1003.30" x2="471.39" y2="1001.30" stroke="#3a3a3a" stroke-width="1.0"/>
<line x1="474.40" y1="1003.30" x2="474.40" y2="1001.30" stroke="#3a3a3a" stroke-width="1.0"/>
<line x1="476.86" y1="1003.30" x2="476.86" y2="1001.30" stroke="#3a3a3a" stroke-width="1.0"/>
<line x1="478.94" y1="1003.30" x2="478.94" y2="1001.30" stroke="#3a3a3a" stroke-width="1.0"/>
<line x1="480.74" y1="1003.30" x2="480.74" y2="1001.30" stroke="#3a3a3a" stroke-width="1.0"/>
<line x1="482.33" y1="1003.30" x2="482.33" y2="1001.30" stroke="#3a3a3a" stroke-width="1.0"/>
<line x1="493.10" y1="1003.30" x2="493.10" y2="1001.30" stroke="#3a3a3a" stroke-width="1.0"/>
<line x1="498.56" y1="1003.30" x2="498.56" y2="1001.30" stroke="#3a3a3a" stroke-width="1.0"/>
<line x1="502.44" y1="1003.30" x2="502.44" y2="1001.30" stroke="#3a3a3a" stroke-width="1.0"/>
<line x1="505.45" y1="1003.30" x2="505.45" y2="1001.30" stroke="#3a3a3a" stroke-width="1.0"/>
<line x1="507.91" y1="1003.30" x2="507.91" y2="1001.30" stroke="#3a3a3a" stroke-width="1.0"/>
<line x1="509.99" y1="1003.30" x2="509.99" y2="1001.30" stroke="#3a3a3a" stroke-width="1.0"/>
<line x1="511.79" y1="1003.30" x2="511.79" y2="1001.30" stroke="#3a3a3a" stroke-width="1.0"/>
<line x1="513.38" y1="1003.30" x2="513.38" y2="1001.30" stroke="#3a3a3a" stroke-width="1.0"/>
<line x1="524.15" y1="1003.30" x2="524.15" y2="1001.30" stroke="#3a3a3a" stroke-width="1.0"/>
<line x1="529.61" y1="1003.30" x2="529.61" y2="1001.30" stroke="#3a3a3a" stroke-width="1.0"/>
<line x1="533.49" y1="1003.30" x2="533.49" y2="1001.30" stroke="#3a3a3a" stroke-width="1.0"/>
<line x1="536.50" y1="1003.30" x2="536.50" y2="1001.30" stroke="#3a3a3a" stroke-width="1.0"/>
<line x1="538.96" y1="1003.30" x2="538.96" y2="1001.30" stroke="#3a3a3a" stroke-width="1.0"/>
<line x1="541.04" y1="1003.30" x2="541.04" y2="1001.30" stroke="#3a3a3a" stroke-width="1.0"/>
<line x1="542.84" y1="1003.30" x2="542.84" y2="1001.30" stroke="#3a3a3a" stroke-width="1.0"/>
<line x1="544.43" y1="1003.30" x2="544.43" y2="1001.30" stroke="#3a3a3a" stroke-width="1.0"/>
<line x1="555.20" y1="1003.30" x2="555.20" y2="1001.30" stroke="#3a3a3a" stroke-width="1.0"/>
<line x1="560.66" y1="1003.30" x2="560.66" y2="1001.30" stroke="#3a3a3a" stroke-width="1.0"/>
<line x1="564.54" y1="1003.30" x2="564.54" y2="1001.30" stroke="#3a3a3a" stroke-width="1.0"/>
<line x1="567.55" y1="1003.30" x2="567.55" y2="1001.30" stroke="#3a3a3a" stroke-width="1.0"/>
<line x1="570.01" y1="1003.30" x2="570.01" y2="1001.30" stroke="#3a3a3a" stroke-width="1.0"/>
<line x1="572.09" y1="1003.30" x2="572.09" y2="1001.30" stroke="#3a3a3a" stroke-width="1.0"/>
<line x1="573.89" y1="1003.30" x2="573.89" y2="1001.30" stroke="#3a3a3a" stroke-width="1.0"/>
<line x1="575.48" y1="1003.30" x2="575.48" y2="1001.30" stroke="#3a3a3a" stroke-width="1.0"/>
<line x1="586.25" y1="1003.30" x2="586.25" y2="1001.30" stroke="#3a3a3a" stroke-width="1.0"/>
<line x1="591.71" y1="1003.30" x2="591.71" y2="1001.30" stroke="#3a3a3a" stroke-width="1.0"/>
<line x1="595.59" y1="1003.30" x2="595.59" y2="1001.30" stroke="#3a3a3a" stroke-width="1.0"/>
<line x1="598.60" y1="1003.30" x2="598.60" y2="1001.30" stroke="#3a3a3a" stroke-width="1.0"/>
<line x1="601.06" y1="1003.30" x2="601.06" y2="1001.30" stroke="#3a3a3a" stroke-width="1.0"/>
<line x1="603.14" y1="1003.30" x2="603.14" y2="1001.30" stroke="#3a3a3a" stroke-width="1.0"/>
<line x1="604.94" y1="1003.30" x2="604.94" y2="1001.30" stroke="#3a3a3a" stroke-width="1.0"/>
<line x1="606.53" y1="1003.30" x2="606.53" y2="1001.30" stroke="#3a3a3a" stroke-width="1.0"/>
<line x1="617.30" y1="1003.30" x2="617.30" y2="1001.30" stroke="#3a3a3a" stroke-width="1.0"/>
<text transform="translate(379.87,1018.80) scale(1.04,1)" font-family="Liberation Sans" font-size="12.3" font-weight="normal" fill="#111" stroke="#111" stroke-width="0.25" text-anchor="start">10<tspan font-size="7.4" dx="0.6" dy="-7.0">-1</tspan></text>
<text transform="translate(412.68,1018.80) scale(1.04,1)" font-family="Liberation Sans" font-size="12.3" font-weight="normal" fill="#111" stroke="#111" stroke-width="0.25" text-anchor="start">10<tspan font-size="7.4" dx="0.6" dy="-7.0">0</tspan></text>
<text transform="translate(443.73,1018.80) scale(1.04,1)" font-family="Liberation Sans" font-size="12.3" font-weight="normal" fill="#111" stroke="#111" stroke-width="0.25" text-anchor="start">10<tspan font-size="7.4" dx="0.6" dy="-7.0">1</tspan></text>
<text transform="translate(474.78,1018.80) scale(1.04,1)" font-family="Liberation Sans" font-size="12.3" font-weight="normal" fill="#111" stroke="#111" stroke-width="0.25" text-anchor="start">10<tspan font-size="7.4" dx="0.6" dy="-7.0">2</tspan></text>
<text transform="translate(505.83,1018.80) scale(1.04,1)" font-family="Liberation Sans" font-size="12.3" font-weight="normal" fill="#111" stroke="#111" stroke-width="0.25" text-anchor="start">10<tspan font-size="7.4" dx="0.6" dy="-7.0">3</tspan></text>
<text transform="translate(536.88,1018.80) scale(1.04,1)" font-family="Liberation Sans" font-size="12.3" font-weight="normal" fill="#111" stroke="#111" stroke-width="0.25" text-anchor="start">10<tspan font-size="7.4" dx="0.6" dy="-7.0">4</tspan></text>
<text transform="translate(567.93,1018.80) scale(1.04,1)" font-family="Liberation Sans" font-size="12.3" font-weight="normal" fill="#111" stroke="#111" stroke-width="0.25" text-anchor="start">10<tspan font-size="7.4" dx="0.6" dy="-7.0">5</tspan></text>
<text transform="translate(598.98,1018.80) scale(1.04,1)" font-family="Liberation Sans" font-size="12.3" font-weight="normal" fill="#111" stroke="#111" stroke-width="0.25" text-anchor="start">10<tspan font-size="7.4" dx="0.6" dy="-7.0">6</tspan></text>
<text transform="translate(497.80,1042.20) scale(1.09,1)" font-family="Liberation Sans" font-size="12.3" font-weight="normal" fill="#111" stroke="#111" stroke-width="0.25" text-anchor="middle">f (Hz)</text>
<text transform="translate(344.31,892.70) rotate(-90) scale(1.04,1)" font-family="Liberation Sans" font-size="12.3" font-weight="normal" fill="#111" stroke="#111" stroke-width="0.25" text-anchor="middle">− log (− Z<tspan dx="1.5">″</tspan>) (Ω cm)</text>
<text transform="translate(665.50,897.00) rotate(-90)" font-family="Liberation Sans" font-size="13.4" font-weight="normal" fill="#111" stroke="#111" stroke-width="0.25" text-anchor="middle">10<tspan font-size="8.3" dy="-5.6">-10</tspan><tspan dy="5.6"> M<tspan dx="0.8">″</tspan>/ ε</tspan><tspan font-size="8.3" dy="3.0">0</tspan><tspan dy="-3.0"> (F/cm)</tspan></text>
<text transform="translate(609.50,803.20)" font-family="Liberation Sans" font-size="14.4" font-weight="normal" fill="#111" stroke="#111" stroke-width="0.25" text-anchor="middle">(h)</text>
<circle cx="499.7" cy="813.9" r="3.3" fill="#fff" stroke="#000" stroke-width="1.25"/>
<rect x="496.4" y="826.6" width="6.6" height="6.6" fill="#000"/>
<path d="M499.7,842.1 L504.0,849.3 L495.4,849.3Z" fill="#fff" stroke="#000" stroke-width="1.25" stroke-linejoin="miter"/>
<text transform="translate(513.90,817.53) scale(1.04,1)" font-family="Liberation Sans" font-size="12.3" font-weight="normal" fill="#111" stroke="#111" stroke-width="0.25" text-anchor="start">O<tspan font-size="11.1">2</tspan></text>
<text transform="translate(513.90,833.53) scale(1.04,1)" font-family="Liberation Sans" font-size="12.3" font-weight="normal" fill="#111" stroke="#111" stroke-width="0.25" text-anchor="start">air</text>
<text transform="translate(513.90,849.53) scale(1.04,1)" font-family="Liberation Sans" font-size="12.3" font-weight="normal" fill="#111" stroke="#111" stroke-width="0.25" text-anchor="start">N<tspan font-size="11.1">2</tspan></text>
<text transform="translate(438.30,858.10)" font-family="Liberation Serif" font-size="14.5" font-weight="bold" fill="#111" text-anchor="start">W</text>
<text transform="translate(589.40,850.50)" font-family="Liberation Serif" font-size="14.5" font-weight="normal" fill="#111" stroke="#111" stroke-width="0.25" text-anchor="start">CP</text>
<text transform="translate(497.20,918.50)" font-family="Liberation Serif" font-size="14.5" font-weight="normal" fill="#111" stroke="#111" stroke-width="0.25" text-anchor="start">ED</text>
<text transform="translate(395.50,933.70)" font-family="Liberation Serif" font-size="14.5" font-weight="normal" fill="#2020c8" stroke="#2020c8" stroke-width="0.25" text-anchor="start">700 °C</text>
</svg></body></html>
